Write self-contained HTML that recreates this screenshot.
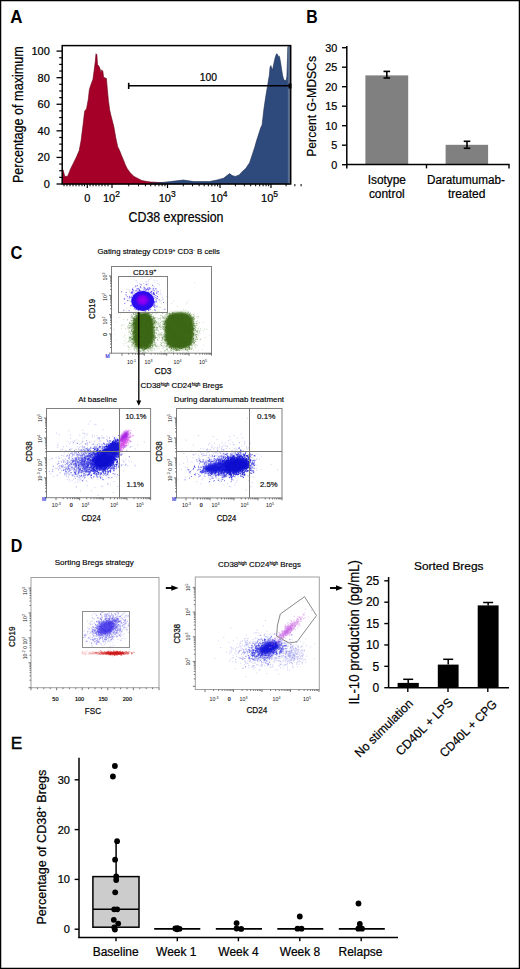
<!DOCTYPE html>
<html><head><meta charset="utf-8"><style>
html,body{margin:0;padding:0;background:#fff;}
svg{display:block;font-family:"Liberation Sans", sans-serif;}
</style></head><body>
<svg width="520" height="969" viewBox="0 0 520 969">
<rect x="0" y="0" width="520" height="969" fill="#fff" stroke="none" stroke-width="1"/>
<text x="10.2" y="22.8" font-size="18" text-anchor="start" font-weight="bold" textLength="12.2" lengthAdjust="spacingAndGlyphs" fill="#000">A</text>
<path d="M62.5,184.0 L62.9,169.8 L63.8,172.7 L64.8,176.5 L67.7,176.2 L70.6,168.8 L73.5,163.0 L76.3,157.3 L79.2,150.6 L81.2,140.0 L82.1,132.3 L83.1,124.6 L84.2,115.0 L84.8,110.7 L86.5,109.0 L88.3,99.2 L89.4,89.4 L91.1,84.2 L92.9,79.6 L94.0,71.5 L95.2,62.3 L96.0,53.7 L96.9,54.8 L97.5,64.6 L98.6,65.8 L99.8,68.1 L101.0,72.7 L101.8,69.8 L102.9,71.5 L103.6,77.3 L105.2,77.9 L106.4,78.5 L107.3,88.8 L108.4,100.4 L109.6,109.6 L110.8,115.0 L113.8,126.5 L115.8,138.0 L117.7,146.7 L119.6,150.6 L121.5,155.4 L123.5,160.2 L125.4,165.0 L127.3,168.8 L130.2,172.7 L134.0,176.5 L137.9,178.5 L141.7,180.4 L145.6,181.3 L150.4,182.0 L156.2,182.3 L165.0,183.0 L165.0,184.0 Z" fill="#a50027" stroke="#6a0018" stroke-width="0.6"/>
<path d="M150.0,184.0 L150.0,183.2 L160.0,182.7 L170.4,181.6 L183.4,180.0 L193.8,181.6 L209.4,181.6 L217.1,180.0 L223.6,178.2 L227.0,175.6 L229.6,173.6 L232.2,175.6 L235.3,176.4 L239.2,174.9 L242.6,171.2 L245.7,168.6 L249.6,162.7 L252.2,154.9 L254.8,147.1 L256.6,140.6 L258.7,134.1 L260.8,127.6 L262.1,125.0 L263.8,110.0 L265.6,97.5 L267.5,86.2 L268.5,80.0 L269.4,75.0 L270.0,67.5 L270.9,65.6 L271.6,68.1 L272.5,70.0 L273.8,63.8 L275.2,57.5 L276.5,53.8 L277.5,54.4 L278.5,56.9 L279.4,56.2 L280.6,62.5 L281.5,68.8 L282.5,75.0 L283.5,78.8 L284.4,80.6 L285.0,80.0 L286.0,81.2 L286.9,76.2 L287.5,57.5 L287.8,47.5 L288.5,46.2 L290.0,46.0 L290.0,184.0 Z" fill="#2e4a7c" stroke="#1c2e50" stroke-width="0.6"/>
<rect x="287.8" y="46" width="2.2" height="138" fill="#5a6e90" stroke="none" stroke-width="1"/>
<rect x="62.2" y="45.6" width="228.5" height="138.4" fill="none" stroke="#000" stroke-width="1.5"/>
<line x1="56.5" y1="184.0" x2="62.2" y2="184.0" stroke="#000" stroke-width="1.3"/>
<text x="49.8" y="188.0" font-size="11" text-anchor="end" fill="#000" stroke="#000" stroke-width="0.22">0</text>
<line x1="59.2" y1="177.355" x2="62.2" y2="177.355" stroke="#000" stroke-width="1.2"/>
<line x1="59.2" y1="170.71" x2="62.2" y2="170.71" stroke="#000" stroke-width="1.2"/>
<line x1="59.2" y1="164.065" x2="62.2" y2="164.065" stroke="#000" stroke-width="1.2"/>
<line x1="56.5" y1="157.42000000000002" x2="62.2" y2="157.42000000000002" stroke="#000" stroke-width="1.3"/>
<text x="49.8" y="161.42000000000002" font-size="11" text-anchor="end" fill="#000" stroke="#000" stroke-width="0.22">20</text>
<line x1="59.2" y1="150.775" x2="62.2" y2="150.775" stroke="#000" stroke-width="1.2"/>
<line x1="59.2" y1="144.13" x2="62.2" y2="144.13" stroke="#000" stroke-width="1.2"/>
<line x1="59.2" y1="137.485" x2="62.2" y2="137.485" stroke="#000" stroke-width="1.2"/>
<line x1="56.5" y1="130.84" x2="62.2" y2="130.84" stroke="#000" stroke-width="1.3"/>
<text x="49.8" y="134.84" font-size="11" text-anchor="end" fill="#000" stroke="#000" stroke-width="0.22">40</text>
<line x1="59.2" y1="124.195" x2="62.2" y2="124.195" stroke="#000" stroke-width="1.2"/>
<line x1="59.2" y1="117.55" x2="62.2" y2="117.55" stroke="#000" stroke-width="1.2"/>
<line x1="59.2" y1="110.905" x2="62.2" y2="110.905" stroke="#000" stroke-width="1.2"/>
<line x1="56.5" y1="104.26" x2="62.2" y2="104.26" stroke="#000" stroke-width="1.3"/>
<text x="49.8" y="108.26" font-size="11" text-anchor="end" fill="#000" stroke="#000" stroke-width="0.22">60</text>
<line x1="59.2" y1="97.61500000000001" x2="62.2" y2="97.61500000000001" stroke="#000" stroke-width="1.2"/>
<line x1="59.2" y1="90.97" x2="62.2" y2="90.97" stroke="#000" stroke-width="1.2"/>
<line x1="59.2" y1="84.325" x2="62.2" y2="84.325" stroke="#000" stroke-width="1.2"/>
<line x1="56.5" y1="77.68" x2="62.2" y2="77.68" stroke="#000" stroke-width="1.3"/>
<text x="49.8" y="81.68" font-size="11" text-anchor="end" fill="#000" stroke="#000" stroke-width="0.22">80</text>
<line x1="59.2" y1="71.035" x2="62.2" y2="71.035" stroke="#000" stroke-width="1.2"/>
<line x1="59.2" y1="64.39" x2="62.2" y2="64.39" stroke="#000" stroke-width="1.2"/>
<line x1="59.2" y1="57.745000000000005" x2="62.2" y2="57.745000000000005" stroke="#000" stroke-width="1.2"/>
<line x1="56.5" y1="51.099999999999994" x2="62.2" y2="51.099999999999994" stroke="#000" stroke-width="1.3"/>
<text x="49.8" y="55.099999999999994" font-size="11" text-anchor="end" fill="#000" stroke="#000" stroke-width="0.22">100</text>
<text transform="translate(22.8,114.6) rotate(-90)" font-size="14" text-anchor="middle" textLength="137" lengthAdjust="spacingAndGlyphs" fill="#000" stroke="#000" stroke-width="0.22">Percentage of maximum</text>
<line x1="87.3" y1="184" x2="87.3" y2="188" stroke="#000" stroke-width="1.2"/>
<line x1="112" y1="184" x2="112" y2="188" stroke="#000" stroke-width="1.2"/>
<line x1="167.5" y1="184" x2="167.5" y2="188" stroke="#000" stroke-width="1.2"/>
<line x1="220" y1="184" x2="220" y2="188" stroke="#000" stroke-width="1.2"/>
<line x1="271" y1="184" x2="271" y2="188" stroke="#000" stroke-width="1.2"/>
<line x1="128.70716475935095" y1="184" x2="128.70716475935095" y2="186.3" stroke="#000" stroke-width="1"/>
<line x1="138.48022963694126" y1="184" x2="138.48022963694126" y2="186.3" stroke="#000" stroke-width="1"/>
<line x1="145.41432951870192" y1="184" x2="145.41432951870192" y2="186.3" stroke="#000" stroke-width="1"/>
<line x1="150.79283524064905" y1="184" x2="150.79283524064905" y2="186.3" stroke="#000" stroke-width="1"/>
<line x1="155.18739439629223" y1="184" x2="155.18739439629223" y2="186.3" stroke="#000" stroke-width="1"/>
<line x1="158.90294122079126" y1="184" x2="158.90294122079126" y2="186.3" stroke="#000" stroke-width="1"/>
<line x1="162.12149427805286" y1="184" x2="162.12149427805286" y2="186.3" stroke="#000" stroke-width="1"/>
<line x1="164.96045927388252" y1="184" x2="164.96045927388252" y2="186.3" stroke="#000" stroke-width="1"/>
<line x1="183.304074772359" y1="184" x2="183.304074772359" y2="186.3" stroke="#000" stroke-width="1"/>
<line x1="192.54886587278227" y1="184" x2="192.54886587278227" y2="186.3" stroke="#000" stroke-width="1"/>
<line x1="199.10814954471803" y1="184" x2="199.10814954471803" y2="186.3" stroke="#000" stroke-width="1"/>
<line x1="204.195925227641" y1="184" x2="204.195925227641" y2="186.3" stroke="#000" stroke-width="1"/>
<line x1="208.3529406451413" y1="184" x2="208.3529406451413" y2="186.3" stroke="#000" stroke-width="1"/>
<line x1="211.86764710074848" y1="184" x2="211.86764710074848" y2="186.3" stroke="#000" stroke-width="1"/>
<line x1="214.91222431707703" y1="184" x2="214.91222431707703" y2="186.3" stroke="#000" stroke-width="1"/>
<line x1="217.59773174556454" y1="184" x2="217.59773174556454" y2="186.3" stroke="#000" stroke-width="1"/>
<line x1="235.35252977886304" y1="184" x2="235.35252977886304" y2="186.3" stroke="#000" stroke-width="1"/>
<line x1="244.3331839907028" y1="184" x2="244.3331839907028" y2="186.3" stroke="#000" stroke-width="1"/>
<line x1="250.7050595577261" y1="184" x2="250.7050595577261" y2="186.3" stroke="#000" stroke-width="1"/>
<line x1="255.64747022113696" y1="184" x2="255.64747022113696" y2="186.3" stroke="#000" stroke-width="1"/>
<line x1="259.68571376956584" y1="184" x2="259.68571376956584" y2="186.3" stroke="#000" stroke-width="1"/>
<line x1="263.1000000407271" y1="184" x2="263.1000000407271" y2="186.3" stroke="#000" stroke-width="1"/>
<line x1="266.0575893365891" y1="184" x2="266.0575893365891" y2="186.3" stroke="#000" stroke-width="1"/>
<line x1="268.6663679814056" y1="184" x2="268.6663679814056" y2="186.3" stroke="#000" stroke-width="1"/>
<line x1="286.05149978319906" y1="184" x2="286.05149978319906" y2="186.3" stroke="#000" stroke-width="1"/>
<line x1="294.85606273598313" y1="184" x2="294.85606273598313" y2="186.3" stroke="#000" stroke-width="1"/>
<line x1="301.1029995663981" y1="184" x2="301.1029995663981" y2="186.3" stroke="#000" stroke-width="1"/>
<line x1="64" y1="184" x2="64" y2="186.3" stroke="#000" stroke-width="1"/>
<line x1="67" y1="184" x2="67" y2="186.3" stroke="#000" stroke-width="1"/>
<line x1="70" y1="184" x2="70" y2="186.3" stroke="#000" stroke-width="1"/>
<line x1="73" y1="184" x2="73" y2="186.3" stroke="#000" stroke-width="1"/>
<line x1="76" y1="184" x2="76" y2="186.3" stroke="#000" stroke-width="1"/>
<line x1="79" y1="184" x2="79" y2="186.3" stroke="#000" stroke-width="1"/>
<line x1="82" y1="184" x2="82" y2="186.3" stroke="#000" stroke-width="1"/>
<line x1="84.5" y1="184" x2="84.5" y2="186.3" stroke="#000" stroke-width="1"/>
<line x1="90" y1="184" x2="90" y2="186.3" stroke="#000" stroke-width="1"/>
<line x1="93" y1="184" x2="93" y2="186.3" stroke="#000" stroke-width="1"/>
<line x1="96" y1="184" x2="96" y2="186.3" stroke="#000" stroke-width="1"/>
<line x1="99" y1="184" x2="99" y2="186.3" stroke="#000" stroke-width="1"/>
<line x1="102" y1="184" x2="102" y2="186.3" stroke="#000" stroke-width="1"/>
<line x1="105" y1="184" x2="105" y2="186.3" stroke="#000" stroke-width="1"/>
<line x1="108" y1="184" x2="108" y2="186.3" stroke="#000" stroke-width="1"/>
<text x="87.3" y="202.2" font-size="11" text-anchor="middle" fill="#000" stroke="#000" stroke-width="0.22">0</text>
<text x="111.5" y="202.2" font-size="11" text-anchor="middle" stroke="#000" stroke-width="0.22">10<tspan font-size="8.5" dy="-5">2</tspan></text>
<text x="167.2" y="202.2" font-size="11" text-anchor="middle" stroke="#000" stroke-width="0.22">10<tspan font-size="8.5" dy="-5">3</tspan></text>
<text x="219.1" y="202.2" font-size="11" text-anchor="middle" stroke="#000" stroke-width="0.22">10<tspan font-size="8.5" dy="-5">4</tspan></text>
<text x="269.6" y="202.2" font-size="11" text-anchor="middle" stroke="#000" stroke-width="0.22">10<tspan font-size="8.5" dy="-5">5</tspan></text>
<text x="128.5" y="222.2" font-size="14" text-anchor="start" textLength="95" lengthAdjust="spacingAndGlyphs" fill="#000" stroke="#000" stroke-width="0.22">CD38 expression</text>
<line x1="128.7" y1="85.8" x2="290" y2="85.8" stroke="#000" stroke-width="1.6"/>
<line x1="128.7" y1="82.8" x2="128.7" y2="89" stroke="#000" stroke-width="1.6"/>
<rect x="288.5" y="83.5" width="3" height="5" fill="#000" stroke="none" stroke-width="1"/>
<text x="199.8" y="81.3" font-size="11" text-anchor="start" textLength="17.3" lengthAdjust="spacingAndGlyphs" fill="#000" stroke="#000" stroke-width="0.22">100</text>
<text x="306.2" y="22.7" font-size="18" text-anchor="start" font-weight="bold" textLength="11.4" lengthAdjust="spacingAndGlyphs" fill="#000">B</text>
<rect x="365.4" y="75.39" width="42.8" height="89.30999999999999" fill="#808080" stroke="none" stroke-width="1"/>
<rect x="445.6" y="144.81" width="42.5" height="19.889999999999997" fill="#808080" stroke="none" stroke-width="1"/>
<line x1="346.8" y1="46" x2="346.8" y2="168.4" stroke="#000" stroke-width="1.5"/>
<line x1="346.8" y1="164.5" x2="509.6" y2="164.5" stroke="#000" stroke-width="1.5"/>
<line x1="342" y1="164.7" x2="346.8" y2="164.7" stroke="#000" stroke-width="1.4"/>
<text x="337.3" y="168.89999999999998" font-size="10.8" text-anchor="end" fill="#000" stroke="#000" stroke-width="0.22">0</text>
<line x1="342" y1="145.2" x2="346.8" y2="145.2" stroke="#000" stroke-width="1.4"/>
<text x="337.3" y="149.39999999999998" font-size="10.8" text-anchor="end" fill="#000" stroke="#000" stroke-width="0.22">5</text>
<line x1="342" y1="125.69999999999999" x2="346.8" y2="125.69999999999999" stroke="#000" stroke-width="1.4"/>
<text x="337.3" y="129.89999999999998" font-size="10.8" text-anchor="end" fill="#000" stroke="#000" stroke-width="0.22">10</text>
<line x1="342" y1="106.19999999999999" x2="346.8" y2="106.19999999999999" stroke="#000" stroke-width="1.4"/>
<text x="337.3" y="110.39999999999999" font-size="10.8" text-anchor="end" fill="#000" stroke="#000" stroke-width="0.22">15</text>
<line x1="342" y1="86.69999999999999" x2="346.8" y2="86.69999999999999" stroke="#000" stroke-width="1.4"/>
<text x="337.3" y="90.89999999999999" font-size="10.8" text-anchor="end" fill="#000" stroke="#000" stroke-width="0.22">20</text>
<line x1="342" y1="67.19999999999999" x2="346.8" y2="67.19999999999999" stroke="#000" stroke-width="1.4"/>
<text x="337.3" y="71.39999999999999" font-size="10.8" text-anchor="end" fill="#000" stroke="#000" stroke-width="0.22">25</text>
<line x1="342" y1="47.69999999999999" x2="346.8" y2="47.69999999999999" stroke="#000" stroke-width="1.4"/>
<text x="337.3" y="51.89999999999999" font-size="10.8" text-anchor="end" fill="#000" stroke="#000" stroke-width="0.22">30</text>
<line x1="426.5" y1="164.5" x2="426.5" y2="168.4" stroke="#000" stroke-width="1.4"/>
<line x1="509" y1="164.5" x2="509" y2="168.4" stroke="#000" stroke-width="1.4"/>
<line x1="386.8" y1="71.4" x2="386.8" y2="78" stroke="#000" stroke-width="1.6"/>
<line x1="383.5" y1="71.4" x2="390.1" y2="71.4" stroke="#000" stroke-width="1.6"/>
<line x1="383.5" y1="78" x2="390.1" y2="78" stroke="#000" stroke-width="1.6"/>
<line x1="467" y1="141.3" x2="467" y2="148.3" stroke="#000" stroke-width="1.6"/>
<line x1="463.7" y1="141.3" x2="470.3" y2="141.3" stroke="#000" stroke-width="1.6"/>
<line x1="463.7" y1="148.3" x2="470.3" y2="148.3" stroke="#000" stroke-width="1.6"/>
<text transform="translate(316.3,106.4) rotate(-90)" font-size="13.5" text-anchor="middle" textLength="100.8" lengthAdjust="spacingAndGlyphs" fill="#000" stroke="#000" stroke-width="0.22">Percent G-MDSCs</text>
<text x="386.8" y="183.7" font-size="12" text-anchor="middle" textLength="38.3" lengthAdjust="spacingAndGlyphs" fill="#000" stroke="#000" stroke-width="0.22">Isotype</text>
<text x="386.8" y="197.5" font-size="12" text-anchor="middle" textLength="35.8" lengthAdjust="spacingAndGlyphs" fill="#000" stroke="#000" stroke-width="0.22">control</text>
<text x="466" y="183.7" font-size="12" text-anchor="middle" textLength="78" lengthAdjust="spacingAndGlyphs" fill="#000" stroke="#000" stroke-width="0.22">Daratumumab-</text>
<text x="466.7" y="197.5" font-size="12" text-anchor="middle" textLength="37.5" lengthAdjust="spacingAndGlyphs" fill="#000" stroke="#000" stroke-width="0.22">treated</text>
<text x="10.6" y="258.8" font-size="18.3" text-anchor="start" font-weight="bold" textLength="11.9" lengthAdjust="spacingAndGlyphs" fill="#000">C</text>
<text x="97.5" y="254.3" font-size="7.8" stroke="#000" stroke-width="0.15" textLength="122.5" lengthAdjust="spacingAndGlyphs">Gating strategy CD19<tspan font-size="5" dy="-2.5">+</tspan><tspan dy="2.5"> CD3</tspan><tspan font-size="5" dy="-2.5">-</tspan><tspan dy="2.5"> B cells</tspan></text>
<path d="M160.0 276.0h0M169.0 319.5h0M151.8 349.3h0M133.3 328.8h0M146.4 309.2h0M130.3 312.9h0M161.8 346.1h0M200.2 330.5h0M145.2 328.8h0M141.4 327.1h0M174.7 328.6h0M170.7 340.9h0M163.2 336.8h0M132.1 331.5h0M159.1 311.3h0M180.9 336.2h0M119.7 317.1h0M146.3 345.5h0M121.3 325.8h0M152.9 306.8h0M168.1 351.4h0M164.7 320.6h0M154.4 340.3h0M143.8 286.2h0M158.5 332.0h0M163.4 327.0h0M114.1 329.3h0M145.7 310.8h0M130.6 323.7h0M135.7 325.1h0M191.8 347.0h0M135.8 333.4h0M159.0 327.9h0M186.5 352.5h0M142.5 319.1h0M156.6 321.8h0M163.3 298.9h0M123.2 343.4h0M162.3 342.7h0M200.8 338.7h0M113.6 329.8h0M185.8 331.4h0M163.6 324.0h0M140.8 324.7h0M182.9 352.2h0M124.0 336.9h0M162.2 327.1h0M177.3 318.7h0M154.3 317.8h0M158.0 336.1h0M180.0 329.1h0M203.2 322.5h0M139.7 310.3h0M166.1 326.9h0M146.1 342.0h0M163.8 321.7h0M124.4 324.4h0M142.6 324.5h0M154.1 329.8h0M187.0 302.5h0M194.4 324.2h0M120.3 314.3h0M136.2 342.2h0M179.4 315.7h0M146.1 352.4h0M157.1 323.0h0M197.7 318.4h0M180.7 331.1h0M150.2 328.0h0M148.9 312.1h0M152.5 335.4h0M147.2 323.9h0M150.9 324.8h0M170.6 311.3h0M156.4 333.1h0M154.1 308.0h0M126.6 310.3h0M159.7 348.5h0M146.7 313.5h0M195.0 345.3h0M179.6 352.4h0M159.3 332.1h0M180.1 336.9h0M191.6 324.9h0M159.8 318.5h0M177.5 306.3h0M121.3 328.7h0M170.4 351.7h0M150.9 314.3h0M133.0 319.9h0M164.9 332.7h0M135.0 331.4h0M141.3 332.7h0M166.2 323.2h0M174.8 327.4h0M154.7 331.3h0M153.8 326.7h0M181.1 336.1h0M129.0 337.5h0M157.6 328.9h0M161.1 301.0h0M128.4 334.2h0M167.8 296.9h0M134.3 305.5h0M189.2 341.7h0M165.8 339.3h0M162.7 325.6h0M142.3 300.6h0M156.4 322.1h0M126.1 338.2h0M185.4 315.5h0M182.7 327.1h0M134.6 325.2h0M183.4 309.6h0M163.9 329.9h0M113.9 309.6h0M197.5 345.8h0M203.3 345.0h0M158.0 345.4h0M151.8 320.4h0M155.2 336.2h0M130.7 325.9h0M193.0 321.8h0M143.7 322.6h0M158.5 307.2h0M136.2 304.9h0M141.2 340.7h0M121.7 324.9h0M197.7 331.5h0M155.4 344.0h0M189.0 300.3h0M160.4 315.5h0M139.2 330.8h0M150.2 334.3h0M143.2 322.0h0M160.2 344.5h0M148.7 331.4h0M151.0 308.6h0M118.6 313.1h0M135.8 340.9h0M209.6 335.4h0M139.9 297.6h0M128.4 349.6h0M170.1 337.6h0M202.2 349.5h0M116.4 321.9h0M153.7 323.3h0M141.0 310.0h0M182.0 325.2h0M162.1 317.6h0M137.4 330.6h0M173.6 301.3h0M143.8 321.9h0M155.7 343.7h0M126.8 308.0h0M123.5 345.2h0M200.1 333.4h0M144.8 311.3h0M168.8 320.0h0M159.0 320.7h0M146.8 327.2h0M144.8 319.4h0M178.9 314.8h0M150.9 323.1h0M155.5 311.6h0M160.7 307.4h0M195.3 327.2h0M180.4 342.1h0M171.5 303.5h0M143.1 328.1h0M118.5 317.6h0M188.5 312.4h0M189.0 341.7h0M155.8 319.7h0M176.3 352.0h0M183.4 315.5h0M184.9 334.2h0M187.6 324.4h0M146.3 315.9h0M205.4 337.4h0M122.6 325.5h0M185.9 337.7h0M174.8 327.2h0M186.2 310.6h0M204.5 328.8h0M125.6 343.3h0M184.5 327.4h0M129.5 300.4h0M159.6 338.4h0M185.2 310.7h0M167.8 345.7h0M161.3 303.6h0M152.6 310.6h0M161.2 316.1h0M134.2 309.9h0M114.6 334.1h0M155.0 315.1h0M130.8 316.5h0M175.2 315.9h0M158.2 334.9h0M172.2 312.5h0M130.3 308.6h0M140.3 298.6h0M133.4 322.9h0M165.9 331.9h0M136.5 327.5h0M170.7 330.6h0M170.2 328.8h0M118.2 311.4h0M186.6 303.1h0M157.3 311.8h0M159.6 306.6h0M116.5 340.0h0M146.2 341.1h0M182.3 312.6h0M157.5 305.8h0M162.4 322.3h0M151.3 350.3h0M194.6 282.9h0M159.4 336.4h0M139.2 344.6h0" stroke="#b5cfa8" stroke-width="1" stroke-linecap="square" opacity="0.5" fill="none"/>
<defs><filter id="bl1" x="-20%" y="-20%" width="140%" height="140%"><feGaussianBlur stdDeviation="1.2"/></filter></defs>
<path d="M145.2 321.3h0M146.2 326.5h0M142.5 338.2h0M150.7 323.4h0M132.8 324.0h0M137.2 317.2h0M141.9 344.7h0M143.4 341.1h0M140.5 321.8h0M145.8 316.1h0M136.9 346.1h0M136.4 331.2h0M140.3 334.8h0M142.3 330.2h0M154.2 322.0h0M133.5 313.3h0M151.6 336.0h0M161.1 335.0h0M128.8 341.7h0M156.0 337.5h0M137.2 324.6h0M154.9 318.8h0M151.3 329.3h0M134.6 314.4h0M140.5 324.6h0M146.7 322.0h0M134.8 326.7h0M142.9 345.1h0M139.3 347.1h0M136.0 339.0h0M144.2 322.1h0M147.2 347.0h0M143.3 314.8h0M131.7 316.3h0M150.0 343.0h0M147.5 312.9h0M143.1 344.0h0M138.5 331.7h0M135.3 319.1h0M145.1 345.4h0M143.5 317.2h0M152.3 329.8h0M141.6 339.2h0M137.3 315.7h0M139.7 335.4h0M143.3 338.5h0M143.3 330.8h0M136.6 346.3h0M140.2 318.6h0M131.0 317.7h0M134.0 320.6h0M146.8 327.1h0M145.2 320.3h0M143.1 316.7h0M132.6 329.3h0M143.1 331.7h0M139.0 339.6h0M148.9 323.2h0M138.5 339.2h0M136.8 334.4h0M148.8 337.6h0M145.5 324.5h0M131.3 328.3h0M146.0 339.0h0M144.7 329.7h0M152.3 329.6h0M138.0 342.4h0M144.7 331.2h0M141.0 331.9h0M151.1 335.7h0M136.2 320.5h0M156.7 327.3h0M134.6 316.5h0M135.6 339.0h0M149.5 333.9h0M141.6 322.2h0M133.2 318.3h0M143.9 350.3h0M141.7 338.8h0M129.7 328.1h0M140.3 320.8h0M139.0 319.9h0M135.0 348.2h0M131.5 316.9h0M147.8 320.4h0M148.8 328.8h0M155.4 329.1h0M141.0 332.6h0M147.1 331.6h0M146.7 346.0h0M136.3 348.4h0M154.6 332.4h0M142.3 323.5h0M157.9 335.1h0M141.3 325.9h0M133.6 324.0h0M143.3 335.1h0M152.1 325.6h0M147.4 312.2h0M130.4 320.1h0M137.9 329.7h0M139.6 352.0h0M138.7 348.4h0M145.9 330.8h0M150.2 335.1h0M137.8 312.4h0M151.5 347.6h0M146.4 315.5h0M154.2 350.1h0M143.8 323.3h0M148.8 346.0h0M133.6 322.6h0M137.7 330.5h0M147.4 329.4h0M134.3 337.9h0M141.0 330.4h0M123.7 319.7h0M137.6 349.7h0M134.2 320.0h0M143.3 317.8h0M142.4 345.5h0M133.1 337.6h0M152.4 327.1h0M129.4 337.2h0M147.0 326.4h0M149.4 321.6h0M135.7 319.1h0M152.8 325.1h0M150.9 340.1h0M137.7 319.8h0M133.1 344.2h0M148.8 328.8h0M131.1 341.3h0M140.7 327.6h0M138.8 350.8h0M128.4 346.3h0M149.0 342.7h0M134.1 317.4h0M145.4 352.2h0M141.6 343.5h0M152.8 332.4h0M139.0 343.4h0M138.6 332.4h0M150.6 316.5h0M155.2 333.1h0M144.3 348.7h0M144.3 345.0h0M130.8 337.3h0M151.8 324.6h0M136.1 313.8h0M143.1 341.4h0M127.9 326.5h0M129.0 330.2h0M135.0 332.4h0M136.7 342.7h0M139.9 344.8h0M150.9 351.0h0M157.1 349.3h0M147.8 321.8h0M142.3 330.6h0M140.0 329.1h0M154.2 334.0h0M132.7 331.3h0M142.2 331.9h0M130.2 349.1h0M136.8 331.1h0M158.9 346.4h0M147.5 350.4h0M134.0 325.9h0M155.7 342.6h0M131.4 325.2h0M139.0 327.3h0M147.5 341.9h0M148.0 343.2h0M137.8 337.9h0M155.7 337.2h0M158.2 324.8h0M147.5 343.9h0M147.7 345.2h0M148.9 320.9h0M139.3 324.2h0M138.6 346.1h0M148.8 335.6h0M133.6 339.2h0M132.8 326.1h0M151.6 336.3h0M152.4 323.1h0M141.9 316.9h0M148.0 317.0h0M156.4 329.7h0M136.7 320.4h0M153.7 327.7h0M146.9 325.6h0M145.8 312.1h0M146.5 329.6h0M150.7 345.9h0M150.3 346.3h0M130.5 333.6h0M138.4 331.2h0M138.5 325.0h0M125.6 328.7h0M141.1 346.7h0M153.4 348.1h0M146.5 322.3h0M146.2 334.8h0M154.7 345.2h0M129.1 340.3h0M156.1 329.1h0M134.6 328.5h0M133.4 322.0h0M141.5 323.3h0M136.1 322.7h0M147.3 348.1h0M145.8 321.6h0M131.7 318.0h0M138.0 313.9h0M146.2 326.8h0M151.2 348.1h0M149.9 318.7h0M144.4 343.9h0M148.4 318.0h0M139.4 334.0h0M134.8 331.9h0M154.5 312.7h0M133.4 339.4h0M135.7 326.9h0M146.8 325.5h0M155.6 325.5h0M130.7 340.0h0M153.5 335.7h0M153.9 340.7h0M160.9 329.1h0M127.9 327.1h0M139.6 334.1h0M131.1 342.2h0M131.3 342.2h0M149.2 324.5h0M130.8 340.7h0M156.4 332.8h0M132.2 331.5h0M149.1 318.8h0M138.2 352.4h0M148.2 326.1h0M132.8 345.9h0M144.6 321.5h0M152.5 319.0h0M136.3 331.0h0M140.6 317.6h0M141.0 322.0h0M142.4 349.2h0M154.0 339.6h0M147.2 313.3h0M150.2 312.5h0M134.6 327.7h0M138.2 338.3h0M133.5 334.5h0M141.0 323.6h0M144.3 329.7h0M149.6 325.0h0M143.5 330.6h0M145.7 326.6h0M146.3 344.9h0M144.8 341.7h0M128.1 327.7h0M131.5 327.4h0M147.0 321.6h0M149.6 316.7h0M132.7 323.3h0M146.3 335.3h0M141.1 328.4h0M128.8 325.0h0M132.3 315.4h0M137.1 329.5h0M143.6 320.5h0M141.0 339.0h0M159.1 333.8h0M153.2 317.2h0M153.9 323.2h0M128.3 325.4h0M140.2 319.7h0M139.1 347.8h0M161.5 343.7h0M147.4 313.0h0M141.9 337.7h0M138.8 314.0h0M142.6 346.1h0M132.6 331.4h0M133.7 325.5h0M136.1 351.6h0M149.6 335.2h0M151.7 321.4h0M128.8 347.5h0M144.2 338.0h0M156.1 313.0h0M128.7 332.3h0M138.4 324.7h0M153.3 322.0h0M138.3 351.3h0M162.7 328.9h0M140.4 337.9h0M153.8 328.3h0M139.7 337.6h0M127.1 346.1h0M131.7 336.7h0M141.4 330.1h0M138.0 312.1h0M149.9 323.6h0M145.8 337.3h0M153.6 327.3h0M142.7 326.5h0M155.5 345.5h0M136.1 335.7h0M147.8 343.0h0M149.5 329.0h0M144.9 341.5h0M144.2 349.1h0M140.9 323.1h0M152.2 350.6h0M145.2 328.8h0M142.5 344.3h0M158.5 330.3h0M144.8 342.4h0M139.0 349.0h0M139.3 329.7h0M141.7 321.3h0M128.0 328.8h0M143.3 344.5h0M145.0 323.8h0M145.6 337.8h0M134.9 324.2h0M141.2 335.5h0M146.0 316.2h0M139.4 318.2h0M146.4 326.7h0M140.8 329.6h0M152.7 340.1h0M149.0 335.0h0M144.4 346.5h0M141.4 332.9h0M135.8 331.4h0M139.6 319.1h0M146.1 318.0h0M138.4 322.8h0M138.8 347.7h0M142.2 319.6h0M139.4 319.9h0M142.9 322.9h0M135.7 343.3h0M154.7 330.3h0M131.3 312.3h0M131.8 346.6h0M141.1 316.0h0M143.3 342.2h0M138.2 344.4h0M136.6 312.3h0M129.6 340.6h0M138.5 338.8h0M154.5 333.6h0M142.8 338.4h0M143.4 329.1h0M135.1 330.0h0M136.0 314.0h0M158.6 326.1h0M151.2 340.5h0M137.7 343.3h0M139.9 337.4h0M133.5 346.3h0M153.1 325.1h0M148.3 348.2h0M143.2 321.7h0M154.7 321.6h0M154.1 324.1h0M147.9 344.5h0M160.6 319.8h0M138.4 340.6h0M151.0 338.0h0M154.6 348.9h0M140.2 323.7h0M129.5 327.7h0M141.1 332.2h0M150.4 316.1h0M133.1 330.8h0M146.3 319.9h0M135.2 329.3h0M129.9 322.8h0M147.1 338.6h0M131.6 331.5h0M154.6 344.4h0M142.6 321.9h0M161.2 315.1h0M141.4 317.8h0M134.9 330.3h0M143.7 329.9h0M129.4 341.9h0M124.9 340.9h0M128.5 341.2h0M135.9 348.3h0M130.6 339.9h0M160.7 344.6h0M131.3 336.7h0M157.7 324.1h0M136.7 348.9h0M148.5 341.9h0M141.3 323.9h0M146.8 327.6h0M147.4 322.4h0M151.5 341.7h0M144.5 322.1h0M137.0 342.5h0M145.0 340.7h0M138.0 324.9h0M127.2 342.2h0M152.5 340.4h0M135.2 345.1h0M152.4 325.8h0M139.5 341.8h0M147.8 318.9h0M157.1 327.6h0M140.5 321.4h0M144.7 322.7h0M157.5 327.8h0M151.8 332.5h0M151.0 347.5h0M135.1 339.0h0M157.9 330.5h0M135.6 323.3h0M141.8 320.6h0M141.4 334.8h0M146.1 331.6h0M129.6 346.9h0M131.0 328.1h0M153.8 320.0h0M148.6 341.1h0M152.4 340.8h0M137.1 339.9h0M145.5 341.1h0M144.3 324.7h0M136.3 338.2h0M139.9 343.6h0M157.0 345.7h0M151.1 333.1h0M136.2 330.0h0M141.7 320.0h0M136.8 337.9h0M143.4 348.1h0M156.4 337.5h0M149.5 319.3h0M136.1 332.9h0M150.1 330.4h0M131.7 339.5h0M152.5 348.6h0M150.1 327.1h0M144.4 325.0h0M152.8 324.8h0M143.6 325.4h0M138.1 327.7h0M139.1 325.2h0M144.4 315.0h0M140.9 345.4h0M137.7 334.7h0M139.6 337.0h0M150.4 341.7h0M137.4 340.2h0M138.2 342.4h0M143.7 315.2h0M152.1 327.0h0M146.7 339.5h0M129.4 331.4h0M159.0 318.5h0M137.8 329.8h0M161.1 334.4h0M143.5 332.0h0M140.3 347.8h0M133.1 318.2h0M143.8 331.0h0M125.1 335.2h0M140.3 329.4h0M137.8 316.8h0M133.6 321.9h0" stroke="#8fb47c" stroke-width="1" stroke-linecap="square" opacity="0.5" fill="none"/>
<path d="M144.3 319.5h0M141.9 315.5h0M149.8 323.3h0M146.2 346.1h0M136.2 335.2h0M136.1 322.3h0M148.2 341.9h0M144.8 330.4h0M137.6 340.9h0M141.0 330.4h0M144.3 324.2h0M143.0 350.0h0M149.1 348.4h0M152.4 313.7h0M132.2 344.0h0M142.0 331.9h0M148.8 327.4h0M136.1 326.8h0M144.3 329.3h0M145.1 314.5h0M138.7 320.9h0M136.7 326.0h0M145.2 341.9h0M147.4 335.8h0M132.8 325.3h0M153.9 345.9h0M150.6 333.7h0M141.9 312.9h0M147.0 342.4h0M149.6 327.4h0M132.5 333.7h0M144.8 328.2h0M133.1 320.7h0M141.4 336.6h0M139.7 344.2h0M148.2 327.8h0M136.7 335.7h0M150.6 349.2h0M136.3 332.3h0M148.0 337.0h0M147.6 335.7h0M134.4 329.1h0M148.2 314.0h0M135.3 330.9h0M141.3 325.6h0M136.1 318.5h0M135.1 335.7h0M143.1 336.8h0M137.3 351.4h0M133.9 337.8h0M150.2 340.7h0M135.4 339.6h0M145.9 344.8h0M132.7 324.5h0M150.6 328.4h0M132.9 341.8h0M147.7 327.0h0M142.4 343.6h0M150.3 336.6h0M141.5 331.7h0M132.6 327.2h0M136.1 345.1h0M147.2 332.6h0M142.6 322.4h0M141.5 315.1h0M153.4 334.6h0M156.9 330.2h0M145.6 313.0h0M148.2 313.9h0M134.3 331.4h0M136.0 336.2h0M138.7 346.8h0M138.1 332.1h0M149.6 342.6h0M139.6 313.3h0M140.0 347.0h0M147.9 348.9h0M152.1 323.6h0M144.2 332.9h0M137.2 323.7h0M147.2 340.6h0M153.3 318.8h0M142.8 334.5h0M142.6 341.1h0M139.1 320.3h0M150.7 316.2h0M135.9 344.5h0M141.2 342.7h0M152.9 335.3h0M151.5 331.8h0M141.9 319.0h0M131.6 338.0h0M136.1 346.6h0M144.7 333.2h0M148.1 318.4h0M151.7 336.7h0M144.8 339.9h0M153.2 341.0h0M147.6 347.0h0M136.0 346.0h0M133.5 343.4h0M145.0 331.5h0M144.2 324.9h0M137.8 327.7h0M134.9 334.0h0M138.9 340.2h0M151.3 333.1h0M137.1 347.2h0M142.7 338.6h0M131.5 326.0h0M148.8 329.2h0M147.2 347.9h0M135.3 337.5h0M152.5 324.8h0M138.7 328.1h0M136.4 347.3h0M154.3 326.4h0M153.8 321.3h0M153.9 322.9h0M134.8 328.6h0M137.6 320.6h0M134.3 349.2h0M150.3 336.3h0M139.4 348.3h0M153.7 336.6h0M137.4 322.2h0M154.8 344.2h0M148.9 320.4h0M132.3 339.2h0M148.3 328.7h0M150.7 319.5h0M142.2 318.5h0M153.6 329.4h0M147.4 341.0h0M134.8 316.6h0M151.4 323.8h0M153.2 331.2h0M148.6 327.2h0M135.5 330.0h0M152.4 331.3h0M144.8 344.4h0M133.0 331.7h0M143.8 331.1h0M139.4 321.8h0M141.2 340.1h0M145.4 328.8h0M141.2 341.9h0M150.5 337.6h0M151.1 323.4h0M137.6 343.9h0M136.8 343.6h0M136.2 330.8h0M147.9 327.8h0M137.2 342.5h0M139.9 339.8h0M152.4 347.1h0M142.2 320.2h0M137.7 317.2h0M141.6 347.3h0M147.9 339.5h0M143.7 317.7h0M149.5 323.0h0M156.1 346.0h0M131.4 314.9h0M149.3 330.4h0M142.8 324.4h0M151.8 343.7h0M143.1 326.5h0M131.4 329.9h0M139.9 334.3h0M131.4 330.2h0M136.2 343.0h0M149.3 314.5h0M146.8 336.5h0M134.2 344.8h0M134.5 342.2h0M153.7 342.4h0M143.9 339.5h0M146.6 330.9h0M141.0 351.4h0M137.4 336.6h0M146.5 327.5h0M134.7 340.7h0M139.2 331.3h0M151.6 336.3h0M147.4 337.2h0M135.4 314.1h0M138.0 326.2h0M148.8 318.4h0M134.4 331.3h0M139.4 335.0h0M152.7 323.4h0M139.1 337.1h0M150.2 321.4h0M156.2 322.3h0M148.7 324.1h0M136.6 331.2h0M130.3 337.6h0M135.3 324.9h0M143.3 333.9h0M139.2 330.3h0M138.9 325.3h0M141.5 330.3h0M135.5 344.5h0M134.2 337.6h0M134.3 335.8h0M143.9 330.0h0M154.7 336.3h0M133.8 324.3h0M154.1 330.4h0M135.9 320.9h0M149.3 313.2h0M143.6 339.7h0M140.4 321.6h0M149.9 320.0h0M150.8 333.8h0M142.7 335.4h0M138.7 323.3h0M135.8 313.5h0M144.3 326.3h0M145.0 342.4h0M143.3 317.4h0M137.4 336.3h0M140.7 317.6h0M138.8 317.4h0M138.6 335.5h0M152.1 332.3h0M135.7 331.1h0M139.5 332.1h0M138.4 327.4h0M144.4 330.9h0M152.3 337.3h0M133.3 342.2h0M149.7 337.2h0M134.5 329.2h0M146.2 344.2h0M137.4 327.6h0M149.2 336.4h0M142.0 347.6h0M144.3 318.0h0M133.0 325.1h0M144.7 326.5h0M141.6 316.4h0M156.1 326.9h0M131.6 330.9h0M151.4 319.8h0M139.5 342.1h0M142.4 332.7h0M153.3 333.8h0M151.1 318.3h0M145.9 328.4h0M146.9 326.5h0M138.6 323.1h0M141.0 332.8h0M152.2 343.5h0M145.7 322.0h0M148.1 340.6h0M148.4 331.7h0M145.6 330.1h0M149.8 343.3h0M133.4 326.2h0M132.2 329.5h0M133.9 324.1h0M143.7 317.3h0M139.4 337.9h0M138.1 332.4h0M133.5 322.4h0M153.9 333.1h0M151.4 319.9h0M137.6 322.2h0M137.5 332.3h0M130.8 333.9h0M145.5 316.8h0M145.6 326.2h0M132.7 318.3h0M134.8 331.5h0M142.0 329.3h0M146.0 315.2h0M144.4 315.0h0M152.6 319.6h0M141.3 335.1h0M143.8 318.0h0M154.2 334.6h0M150.8 337.3h0M141.9 346.8h0M133.5 343.4h0M147.0 317.1h0M142.1 336.1h0M139.7 312.8h0M142.0 316.9h0M154.4 335.3h0M155.0 320.6h0M148.1 347.1h0M138.7 321.9h0M135.6 330.4h0M144.6 348.7h0M151.5 326.6h0M147.7 324.2h0M151.6 341.9h0M140.5 338.8h0M139.7 336.2h0M132.3 324.3h0M139.1 322.6h0M144.3 339.2h0M139.0 324.3h0M134.5 332.0h0M155.3 323.8h0M141.9 339.3h0M151.3 324.2h0M135.3 341.0h0M137.2 340.0h0M151.2 340.4h0M140.0 343.6h0M135.0 325.9h0M144.7 317.8h0M136.5 319.8h0M140.8 327.5h0M145.1 320.8h0M141.1 337.0h0M133.5 332.7h0M148.5 325.5h0M142.5 345.9h0M138.1 327.8h0M144.3 317.9h0M150.0 321.2h0M138.3 336.9h0M148.1 339.1h0M140.3 324.2h0M146.0 340.2h0M135.4 321.3h0M147.9 331.0h0M138.1 343.7h0M147.1 323.0h0M143.9 332.6h0M133.2 333.9h0M145.4 330.2h0M145.7 338.1h0M135.3 318.7h0M135.7 339.6h0M140.2 329.2h0M132.6 326.3h0M156.7 333.7h0M138.7 332.6h0M147.2 327.2h0M146.9 342.8h0M147.1 319.2h0M135.4 323.0h0M138.6 315.6h0M149.3 322.1h0M140.3 344.3h0M141.1 319.4h0M138.6 339.7h0M136.9 332.5h0M134.9 324.6h0M136.1 331.2h0M138.9 329.0h0M139.7 351.0h0M139.4 320.3h0M153.2 327.4h0M148.6 317.1h0M147.8 332.3h0M144.1 314.6h0M132.3 332.4h0M149.1 327.0h0M142.7 329.0h0M133.5 318.0h0M146.2 330.7h0M141.3 323.2h0M136.5 323.2h0M133.8 324.0h0M140.7 343.5h0M149.3 324.5h0M150.4 325.6h0M146.9 322.3h0M137.8 332.1h0M141.7 316.4h0M144.4 332.4h0M137.5 333.3h0M147.8 333.3h0M138.4 323.2h0M152.1 321.2h0M152.7 327.3h0M149.4 312.8h0M150.4 326.2h0M129.8 322.1h0M153.9 318.4h0M142.1 333.6h0M137.3 315.0h0M132.3 322.4h0M152.3 324.2h0M139.3 319.3h0M153.4 316.3h0M144.3 344.9h0M135.8 323.3h0M133.1 343.2h0M151.8 341.8h0M132.3 342.2h0M147.3 337.4h0M145.2 320.2h0M142.6 321.8h0M135.8 332.0h0M146.6 315.4h0M138.5 334.8h0M142.8 331.3h0M134.0 335.2h0M151.3 328.9h0M148.0 333.6h0M140.2 334.5h0M154.6 339.2h0M138.8 315.5h0M133.8 327.4h0M142.5 339.0h0M133.7 334.5h0M147.0 334.4h0M140.7 347.6h0M146.3 316.0h0M136.5 341.8h0M134.1 328.1h0M146.3 335.1h0M151.5 340.4h0M131.9 325.7h0M154.0 323.9h0M141.8 333.7h0M131.6 320.7h0M154.3 323.4h0M152.6 346.4h0M144.9 341.1h0M146.0 323.9h0M157.4 327.7h0M141.8 348.6h0M133.8 341.0h0M148.8 336.4h0M145.5 322.2h0M152.0 325.0h0M148.0 333.1h0M144.5 348.0h0M143.1 329.1h0M148.2 341.9h0M150.3 345.0h0M142.2 326.0h0M148.9 321.1h0M146.5 326.3h0M142.6 331.0h0M140.3 340.3h0M151.9 338.5h0M141.1 335.1h0M150.1 339.6h0M134.5 339.1h0M136.6 336.7h0M145.7 344.3h0M138.1 329.8h0M148.6 337.2h0M149.4 336.5h0M131.3 323.2h0M138.7 317.9h0M152.7 345.2h0M137.1 339.6h0M145.1 340.1h0M138.8 319.3h0M133.3 313.7h0M136.7 325.3h0M147.1 327.2h0M137.1 340.8h0M133.9 327.6h0M143.1 318.1h0M138.0 313.3h0M133.5 328.0h0M140.5 351.0h0M139.3 337.9h0M142.5 337.6h0M158.3 318.9h0M145.6 345.8h0M137.0 315.6h0M138.7 348.3h0M134.0 314.4h0M133.6 340.2h0M156.9 322.0h0M142.1 326.6h0M154.1 318.8h0M138.3 317.9h0M149.5 343.1h0M133.8 325.5h0M143.2 350.2h0M147.7 320.2h0M144.9 322.1h0M150.6 344.6h0M146.6 338.5h0M136.2 332.3h0M147.0 326.2h0M146.3 324.1h0M154.7 342.8h0M137.1 334.8h0M140.6 340.8h0M147.1 337.1h0M141.1 340.6h0M140.1 335.5h0M135.8 341.1h0M132.0 320.5h0M131.8 339.0h0M135.3 343.0h0M137.2 348.3h0M148.0 332.1h0M150.6 331.6h0M152.9 325.1h0M146.8 347.2h0M139.9 313.1h0M138.1 348.5h0M141.7 327.6h0M135.3 322.7h0M151.3 328.5h0M139.5 347.5h0M134.7 346.8h0M145.9 321.4h0M146.5 329.5h0M142.9 340.3h0M136.2 318.4h0M130.7 327.3h0M148.9 317.8h0M150.7 344.1h0M149.1 330.4h0M144.1 326.0h0M151.3 341.1h0M136.6 326.8h0M152.2 342.5h0M150.7 344.3h0M138.9 338.5h0M141.4 317.3h0M155.7 337.5h0M130.0 338.2h0M145.0 352.2h0M137.0 328.2h0M139.1 339.3h0M148.7 338.8h0M149.5 334.2h0M131.7 334.7h0M141.3 330.4h0M146.5 326.1h0M142.6 314.9h0M148.7 335.3h0M138.5 339.5h0M154.2 332.3h0M146.4 347.3h0M135.2 327.3h0M142.7 342.6h0M139.4 345.6h0M146.4 315.9h0M135.5 339.3h0M147.4 342.5h0M136.5 319.2h0M152.2 325.2h0M142.5 352.3h0M132.9 335.1h0M149.4 317.6h0M142.1 315.5h0M145.8 328.0h0M137.5 344.9h0M138.0 325.5h0M138.5 342.5h0M145.9 343.7h0M136.4 321.9h0M140.8 328.5h0M141.5 317.8h0M140.5 316.6h0M130.9 323.5h0M146.8 317.0h0M134.9 319.2h0M150.0 329.6h0M146.3 346.1h0M146.3 338.2h0M143.4 335.8h0M148.6 325.3h0M149.1 317.4h0M134.4 324.2h0M133.9 343.2h0M147.5 316.9h0M140.6 343.7h0M141.4 319.9h0M144.9 325.5h0M154.8 338.5h0M136.0 320.1h0M150.2 329.4h0M145.7 318.0h0M127.5 319.8h0M152.2 342.8h0M130.5 337.7h0M142.6 315.9h0M150.6 344.4h0M148.6 332.8h0M143.1 315.7h0M155.1 327.2h0M142.9 321.6h0M156.1 324.2h0M136.2 341.1h0M139.9 344.1h0M139.4 344.0h0M147.1 314.4h0M145.1 343.9h0M134.6 340.1h0M132.1 345.8h0M154.9 337.5h0M149.5 319.6h0M151.5 314.6h0M140.1 317.7h0M151.9 320.1h0M140.5 322.1h0M135.4 323.9h0M144.8 349.7h0M149.1 336.0h0M152.9 346.2h0M136.9 350.2h0M139.2 319.8h0M154.4 340.1h0M155.1 344.4h0M151.9 331.1h0M151.1 316.8h0M142.4 322.6h0M134.9 346.9h0M140.0 337.4h0M138.2 320.7h0M139.2 330.4h0M153.9 335.5h0M138.8 319.9h0M145.2 314.7h0M155.3 336.0h0M148.4 317.0h0M146.7 343.0h0M132.3 336.2h0M152.0 341.7h0M141.2 322.4h0M153.8 320.4h0M152.1 324.8h0M136.0 316.4h0M155.0 321.1h0M148.4 314.7h0M138.9 337.4h0M129.9 336.1h0M142.3 317.1h0M143.3 332.6h0M145.1 342.3h0M148.2 319.3h0M151.9 343.3h0M147.7 314.6h0M142.1 347.0h0M141.3 318.0h0M147.3 346.3h0M135.5 335.2h0M138.4 320.5h0M136.4 333.5h0M145.7 332.6h0M152.7 338.0h0M146.7 321.8h0M150.5 341.2h0M132.1 339.1h0M133.7 326.3h0M134.1 319.7h0M135.5 330.7h0M137.9 312.1h0M154.7 336.4h0M149.4 336.1h0M138.2 332.2h0M135.1 318.7h0M136.1 337.1h0M134.8 350.1h0M147.1 325.7h0M141.3 323.5h0M155.3 322.2h0M133.4 320.2h0M145.7 328.3h0M137.7 320.7h0M147.4 320.8h0M133.3 343.8h0M132.2 317.8h0M152.0 341.6h0M149.1 333.9h0M138.7 327.8h0M144.7 335.8h0M145.4 344.6h0M137.8 329.2h0M140.3 328.7h0M143.9 316.2h0M151.3 323.0h0M159.6 326.6h0M133.4 323.0h0M138.0 344.4h0M131.1 331.3h0M154.3 330.4h0M151.1 316.3h0M155.0 330.6h0M139.2 334.5h0M156.8 327.8h0M157.9 340.2h0M146.5 332.3h0M142.3 344.0h0M143.3 323.5h0M148.8 331.0h0M144.5 321.1h0M144.0 342.1h0M151.7 341.3h0M147.1 330.5h0M150.3 318.9h0M150.8 347.2h0M150.9 331.2h0M135.9 346.3h0M140.5 337.3h0M133.6 314.2h0M129.4 323.4h0M142.2 318.0h0M144.7 337.8h0M155.0 335.4h0M149.6 322.2h0M141.8 324.1h0M139.0 340.0h0M129.1 328.1h0M135.9 340.0h0M136.9 343.3h0M133.5 319.9h0M150.7 330.8h0M136.7 315.4h0M149.8 340.2h0M141.3 317.5h0M140.5 337.2h0M150.4 341.5h0M134.2 342.5h0M150.2 332.5h0M147.2 338.9h0M140.7 334.7h0M143.9 344.9h0M141.5 319.3h0M151.9 334.1h0M143.4 315.2h0M144.0 319.5h0M146.2 325.5h0M153.4 331.7h0M136.3 315.1h0M138.1 324.7h0M138.2 349.1h0M144.9 313.7h0M149.0 350.1h0M139.5 322.8h0M136.1 329.0h0M149.2 330.3h0M139.0 332.4h0M149.5 340.4h0M140.5 323.8h0M154.0 327.6h0M129.4 339.0h0M147.6 312.6h0M131.1 339.8h0M146.9 327.1h0M140.7 312.8h0M139.1 327.4h0M138.6 337.2h0M147.0 337.2h0M140.3 323.4h0M135.7 315.5h0M145.0 321.9h0M149.5 339.4h0M146.7 318.3h0M138.0 337.0h0M143.7 325.5h0M138.2 327.9h0M143.9 331.5h0M151.4 329.4h0M144.6 332.9h0M135.3 331.5h0M136.6 324.7h0M144.5 324.2h0M143.6 352.1h0M147.6 343.0h0M141.4 345.2h0M155.3 317.4h0M137.2 327.8h0M144.8 332.7h0M133.4 336.4h0M146.8 323.8h0M146.1 341.2h0M152.9 339.1h0M148.4 341.9h0M145.4 326.9h0M149.5 342.4h0M151.7 343.0h0M146.2 339.9h0M136.7 335.5h0M138.0 314.5h0M149.7 317.3h0M151.4 319.1h0M144.9 325.1h0M137.3 328.2h0M134.0 348.1h0M142.6 325.5h0M132.1 338.6h0M154.5 341.6h0M142.8 337.3h0M134.3 321.3h0M141.1 334.8h0M152.9 331.1h0M142.4 324.2h0M138.5 329.7h0M136.4 328.6h0M136.7 334.6h0M144.7 346.5h0M135.1 338.2h0M154.8 338.4h0M129.3 338.0h0M150.3 320.9h0M149.7 335.7h0M146.8 321.5h0M142.2 350.3h0M137.2 333.4h0M132.6 316.6h0M148.5 337.1h0M144.2 312.4h0M139.8 336.7h0M152.5 327.3h0M148.6 344.1h0M138.4 335.0h0M140.9 347.7h0M145.1 333.6h0M137.1 324.2h0M147.1 347.4h0M140.1 320.1h0M135.8 325.3h0M138.9 327.7h0M140.5 325.0h0M148.4 320.5h0M142.0 348.1h0M140.8 341.6h0M133.9 331.6h0M143.5 331.7h0M144.5 334.8h0M137.8 318.9h0M145.0 335.0h0M148.4 336.8h0M145.1 313.9h0M143.8 345.4h0M149.8 315.5h0M152.4 332.2h0M140.6 332.5h0M157.5 339.4h0M141.1 339.5h0M147.2 320.2h0M135.4 331.8h0M139.5 330.2h0M150.9 324.6h0M143.0 321.0h0M141.6 319.9h0M147.3 327.4h0M142.2 348.6h0M136.2 342.1h0M151.4 328.7h0M143.2 336.2h0M139.0 321.1h0M148.8 342.3h0M139.6 316.7h0M136.5 334.9h0M152.2 344.0h0M141.9 316.3h0M143.7 312.2h0M145.8 330.6h0M144.0 340.7h0M129.6 323.5h0M146.0 337.2h0M141.7 336.1h0M151.3 329.9h0M153.1 329.5h0M135.1 330.3h0M141.7 343.5h0M144.9 330.2h0M143.9 327.0h0M152.0 338.7h0M139.5 334.8h0M145.1 338.7h0M150.6 348.7h0M140.1 335.7h0M140.8 339.3h0M144.7 319.5h0M143.1 318.8h0M139.4 329.9h0M146.1 323.6h0M149.2 338.4h0M145.0 333.0h0M154.3 337.2h0M145.7 324.5h0M142.5 341.9h0M152.9 328.9h0M138.6 331.4h0M142.2 344.8h0M134.3 340.1h0M132.0 344.6h0M154.2 332.6h0M149.0 348.2h0M146.2 340.7h0M143.2 323.4h0M140.7 335.3h0M146.4 348.5h0M144.1 350.9h0M148.0 335.0h0M138.5 345.8h0M145.9 338.7h0M142.2 327.0h0M144.1 347.2h0M142.3 336.1h0M144.0 349.2h0M146.8 316.4h0M150.0 322.5h0M155.8 322.0h0M135.3 339.9h0M151.3 316.4h0M139.0 352.2h0M137.0 349.4h0M146.2 334.8h0M141.3 329.2h0M152.4 329.3h0M147.0 331.2h0M151.9 334.9h0M143.3 321.7h0M137.3 332.0h0M143.6 342.7h0M142.5 330.8h0M149.4 325.3h0M132.5 338.6h0M150.9 321.0h0M136.6 341.7h0M146.9 341.3h0M150.2 337.0h0M140.2 322.6h0M155.4 338.4h0M149.1 321.6h0M156.3 346.8h0M139.5 326.6h0M144.6 324.5h0M141.6 345.7h0M151.2 328.6h0M134.6 331.9h0M129.8 337.4h0M146.7 340.5h0M144.0 339.6h0M145.7 321.2h0M136.2 329.7h0M147.5 319.3h0M151.3 343.1h0M138.2 318.2h0M155.4 320.4h0M144.7 339.8h0M148.5 334.7h0M156.8 329.1h0M142.1 324.8h0M154.7 340.7h0M147.1 346.8h0M145.2 342.5h0M141.7 342.1h0M147.9 341.9h0M144.5 338.4h0M150.6 334.3h0M141.6 317.9h0M143.6 349.4h0M146.8 323.9h0M135.2 329.5h0M154.6 331.4h0M144.8 334.2h0M136.8 326.2h0M142.3 343.8h0M147.8 340.0h0M151.3 334.1h0M139.8 331.8h0M132.1 324.4h0M147.6 315.2h0M146.1 346.2h0M140.0 319.9h0M143.2 318.6h0M138.3 350.6h0M136.7 322.5h0M139.1 322.1h0M141.0 346.2h0M144.0 328.9h0M142.3 328.6h0M142.2 327.3h0M133.4 338.9h0M147.8 341.0h0M141.6 348.2h0M136.6 344.7h0M140.3 334.6h0M139.2 322.5h0M134.6 320.3h0M140.5 337.6h0M135.5 340.4h0M151.9 321.5h0M143.8 327.8h0M141.7 330.9h0M136.3 334.0h0M153.4 340.0h0M152.1 342.3h0M149.0 316.3h0M144.4 334.2h0M130.0 332.7h0M146.4 334.1h0M140.1 323.2h0M148.7 341.1h0M140.6 337.1h0M140.4 322.4h0M132.8 334.5h0M142.1 320.1h0M135.5 322.5h0M152.8 317.0h0M140.9 339.5h0M140.5 347.1h0M143.3 338.3h0M147.4 326.3h0M135.7 347.7h0M141.8 331.4h0M138.1 338.4h0M133.4 338.7h0M153.3 344.7h0M145.1 334.9h0M133.2 328.1h0M137.7 324.1h0M136.1 332.8h0M150.7 337.6h0M149.5 320.1h0M144.1 332.1h0M149.1 320.3h0M140.7 341.5h0M138.0 332.8h0M148.4 351.7h0M137.6 330.9h0M153.1 330.6h0M151.8 345.5h0M145.0 324.5h0M132.9 328.5h0M153.5 335.4h0M134.3 323.8h0M154.0 317.9h0M133.9 335.2h0M143.7 350.7h0M145.6 316.9h0M132.3 339.2h0M136.0 319.2h0M135.1 344.9h0M143.2 313.5h0M145.6 323.9h0M147.4 339.6h0M142.1 341.4h0M150.4 339.0h0M135.2 323.5h0M153.7 336.8h0M145.4 329.6h0M141.9 324.4h0M155.6 346.0h0M136.8 336.9h0M143.1 320.5h0M144.0 349.1h0M145.0 345.4h0M155.0 321.4h0M141.5 335.4h0M141.3 331.5h0M151.0 337.3h0M147.2 320.1h0M142.5 322.8h0M149.1 317.5h0M147.6 341.0h0M143.6 345.9h0M152.6 338.1h0M130.1 326.2h0M136.2 312.8h0M131.3 325.2h0M150.4 314.2h0M149.0 337.9h0M141.1 333.6h0M152.8 335.5h0M151.5 342.0h0M145.6 327.8h0M142.8 342.9h0M140.6 346.8h0M139.8 322.4h0M143.7 329.0h0M132.8 333.1h0M138.5 347.4h0M139.8 330.5h0M148.4 328.5h0M145.4 324.1h0M130.1 325.3h0M137.9 350.3h0M154.2 327.4h0M134.2 338.5h0M142.0 335.7h0M150.1 339.2h0M147.9 319.4h0M129.5 327.8h0M146.2 333.7h0M144.1 333.1h0" stroke="#5e8a44" stroke-width="1" stroke-linecap="square" opacity="0.55" fill="none"/>
<path d="M180.7 344.5h0M169.6 314.2h0M175.7 322.8h0M179.2 319.0h0M182.4 346.8h0M199.6 331.3h0M176.4 340.3h0M197.4 332.0h0M181.6 323.2h0M175.9 326.5h0M191.9 325.3h0M174.3 343.8h0M175.7 317.5h0M188.3 322.4h0M166.6 336.9h0M181.9 344.8h0M186.4 317.1h0M166.9 328.5h0M171.6 333.6h0M189.6 324.7h0M165.9 346.8h0M172.2 330.8h0M166.7 320.6h0M172.0 333.0h0M180.3 338.2h0M178.4 336.5h0M181.1 326.2h0M159.6 326.5h0M176.7 330.0h0M173.0 339.0h0M169.4 335.1h0M168.1 344.1h0M192.0 338.9h0M182.3 333.1h0M166.8 335.3h0M173.1 324.8h0M169.3 320.3h0M199.6 322.6h0M164.5 323.7h0M185.4 312.7h0M184.0 350.9h0M193.2 316.7h0M172.7 334.9h0M175.1 322.4h0M190.0 334.2h0M168.3 326.0h0M168.2 322.9h0M166.8 326.1h0M182.1 327.4h0M166.3 339.2h0M188.8 339.9h0M183.1 337.0h0M196.3 337.9h0M180.1 334.9h0M177.7 335.1h0M176.4 350.4h0M192.6 341.3h0M160.6 329.5h0M187.2 316.5h0M176.2 322.6h0M200.4 339.4h0M191.6 314.5h0M175.1 313.9h0M188.4 338.5h0M169.6 342.7h0M175.0 349.6h0M184.9 325.1h0M172.1 346.1h0M188.5 346.5h0M171.7 328.2h0M167.3 336.7h0M186.6 340.5h0M166.1 337.6h0M172.7 349.8h0M188.6 330.4h0M183.2 324.1h0M176.8 341.0h0M186.8 349.5h0M183.2 317.1h0M169.5 336.6h0M181.8 333.0h0M181.7 319.1h0M184.4 336.5h0M189.3 332.0h0M169.2 325.9h0M188.5 321.3h0M165.1 350.9h0M172.3 333.6h0M177.9 316.0h0M167.7 333.8h0M173.5 329.1h0M178.0 317.1h0M164.4 316.1h0M179.6 335.1h0M171.8 330.9h0M187.9 351.3h0M197.5 330.6h0M180.9 339.9h0M175.0 316.9h0M180.5 315.4h0M166.1 321.2h0M175.7 333.9h0M180.9 350.5h0M176.0 332.5h0M190.5 337.0h0M187.3 332.0h0M176.8 318.6h0M173.3 337.5h0M186.2 328.5h0M171.2 341.1h0M188.3 339.0h0M175.4 340.9h0M186.4 342.5h0M167.0 346.6h0M194.9 328.3h0M182.8 324.2h0M189.2 324.5h0M167.5 345.7h0M173.9 328.2h0M176.0 346.4h0M165.0 319.4h0M162.7 323.1h0M167.1 316.1h0M176.6 334.9h0M173.6 351.0h0M176.6 313.3h0M181.4 343.5h0M193.4 350.2h0M185.7 327.1h0M173.5 316.7h0M172.6 328.6h0M166.1 327.8h0M191.8 320.9h0M177.5 335.4h0M164.5 345.3h0M167.6 350.2h0M177.1 313.5h0M182.0 329.6h0M184.8 323.0h0M174.3 337.2h0M167.6 332.7h0M170.7 328.9h0M184.5 346.8h0M177.6 346.9h0M177.0 327.6h0M169.4 348.6h0M181.3 343.8h0M170.7 341.2h0M182.9 338.6h0M158.4 322.3h0M164.0 321.6h0M187.0 342.9h0M189.6 335.4h0M194.4 334.7h0M169.1 318.6h0M193.1 330.4h0M168.1 330.1h0M198.7 330.1h0M175.0 320.0h0M169.5 337.2h0M194.8 344.2h0M177.8 322.3h0M168.1 333.2h0M171.7 340.6h0M182.6 349.5h0M164.0 318.1h0M193.2 329.9h0M164.1 317.3h0M188.0 331.5h0M179.7 349.8h0M191.3 345.2h0M190.7 329.1h0M168.0 323.4h0M180.9 341.3h0M188.6 349.0h0M183.2 343.6h0M177.4 334.4h0M183.5 332.0h0M174.3 334.7h0M173.7 339.4h0M183.9 338.2h0M196.9 339.4h0M186.7 317.5h0M176.1 338.0h0M193.8 319.4h0M184.9 324.1h0M184.9 330.6h0M177.2 330.8h0M189.5 347.0h0M188.5 332.9h0M189.5 329.1h0M198.6 335.6h0M177.3 329.1h0M175.4 333.6h0M174.1 316.6h0M167.7 329.1h0M174.7 315.8h0M190.4 331.7h0M179.7 339.6h0M185.6 327.1h0M191.9 338.5h0M170.6 327.9h0M176.1 314.5h0M168.2 336.5h0M171.7 319.1h0M166.9 322.2h0M166.6 333.3h0M166.8 343.2h0M172.5 324.7h0M161.0 345.8h0M167.4 329.4h0M185.5 339.6h0M173.5 347.2h0M176.6 350.4h0M176.2 323.9h0M188.5 351.9h0M192.9 317.0h0M186.7 330.8h0M174.6 323.5h0M192.4 342.2h0M188.4 321.0h0M195.2 326.1h0M174.1 312.9h0M199.9 340.0h0M190.6 342.1h0M184.3 319.0h0M159.4 324.1h0M172.8 345.7h0M177.5 315.7h0M174.7 328.4h0M191.9 317.5h0M186.3 318.8h0M166.3 317.9h0M179.9 323.9h0M177.3 326.1h0M188.1 329.0h0M169.0 330.6h0M164.2 342.4h0M180.1 333.4h0M169.0 337.3h0M174.2 330.0h0M184.4 347.6h0M166.8 346.8h0M181.7 329.3h0M165.4 328.7h0M179.8 325.5h0M188.4 339.0h0M164.8 347.6h0M179.7 320.9h0M190.1 341.2h0M188.6 331.5h0M164.4 351.9h0M177.9 350.4h0M172.3 319.0h0M192.1 318.7h0M183.2 337.5h0M183.7 319.9h0M170.1 332.7h0M186.7 329.8h0M187.1 344.6h0M188.7 330.9h0M199.4 331.9h0M195.6 332.9h0M168.3 327.0h0M182.5 325.7h0M167.0 325.5h0M194.7 326.9h0M193.1 314.5h0M179.5 314.0h0M169.8 315.9h0M169.2 337.1h0M173.1 324.7h0M175.2 334.8h0M183.3 317.0h0M192.6 342.3h0M181.9 340.3h0M189.6 314.6h0M157.1 317.9h0M174.2 325.8h0M165.9 331.9h0M203.2 330.7h0M175.6 324.6h0M184.5 334.4h0M181.6 325.3h0M156.0 332.7h0M186.2 327.8h0M179.2 331.3h0M174.5 333.3h0M154.6 319.6h0M183.4 343.2h0M169.6 337.1h0M189.4 324.7h0M185.5 337.1h0M160.5 333.3h0M177.6 316.7h0M163.6 335.2h0M183.9 337.7h0M166.2 338.5h0M184.5 316.0h0M187.9 320.6h0M179.5 315.3h0M186.6 344.3h0M182.8 339.6h0M175.5 329.1h0M189.5 347.6h0M183.0 315.9h0M194.6 346.1h0M182.8 320.6h0M176.7 335.4h0M170.8 316.1h0M170.6 340.9h0M183.5 345.9h0M185.0 343.4h0M168.2 341.5h0M186.3 318.8h0M189.5 335.2h0M175.9 336.7h0M166.9 320.6h0M150.7 323.8h0M184.6 319.2h0M189.5 344.5h0M181.2 312.0h0M187.9 339.7h0M178.5 342.6h0M183.0 337.8h0M184.9 346.8h0M169.1 339.5h0M174.8 347.2h0M191.6 349.0h0M156.8 313.4h0M177.8 341.0h0M160.3 323.0h0M187.7 313.2h0M173.7 320.3h0M158.1 347.3h0M182.8 331.0h0M161.8 340.5h0M179.5 330.4h0M167.4 334.8h0M200.5 328.6h0M172.8 324.2h0M188.4 342.2h0M187.3 316.0h0M180.0 346.6h0M175.5 341.5h0M199.0 333.2h0M190.0 325.5h0M181.2 339.8h0M187.0 344.2h0M195.6 335.0h0M164.8 337.2h0M170.4 320.5h0M184.5 329.5h0M190.1 342.3h0M195.5 329.4h0M160.2 326.2h0M185.5 313.0h0M183.0 347.3h0M173.5 348.9h0M167.5 349.6h0M189.9 347.6h0M169.1 341.9h0M179.9 316.6h0M180.7 348.2h0M190.1 339.3h0M179.6 317.2h0M158.2 334.9h0M175.2 335.8h0M178.3 333.7h0M160.4 322.4h0M175.6 337.2h0M161.6 343.6h0M179.7 325.6h0M162.6 320.9h0M179.0 330.6h0M159.3 334.8h0M189.5 348.7h0M190.5 325.1h0M184.8 342.4h0M172.9 318.4h0M171.4 321.3h0M193.0 330.6h0M160.1 335.2h0M194.0 342.0h0M178.3 350.2h0M178.5 333.1h0M180.4 343.9h0M165.9 325.5h0M187.9 331.8h0M174.8 313.5h0M181.1 333.7h0M160.9 351.4h0M170.0 342.7h0M159.7 337.5h0M179.9 346.8h0M168.2 323.9h0M171.1 344.1h0M169.7 322.3h0M169.6 336.7h0M196.3 317.1h0M168.5 337.8h0M165.4 337.7h0M181.4 335.5h0M181.7 329.7h0M157.6 337.3h0M170.1 326.5h0M162.7 338.5h0M173.1 312.2h0M171.0 327.5h0M177.8 341.5h0M174.0 345.1h0M182.6 317.0h0M161.6 327.0h0M184.2 337.7h0M177.2 322.8h0M168.9 331.2h0M167.5 348.5h0M178.8 330.0h0M172.0 338.8h0M185.4 323.6h0M178.5 314.0h0M189.4 342.5h0M171.9 341.7h0M171.3 318.2h0M192.0 335.2h0M178.9 338.0h0M168.2 325.4h0M185.7 328.2h0M178.3 320.0h0M170.0 335.5h0M183.8 314.3h0M177.0 322.6h0M172.9 330.4h0M174.5 346.4h0M184.4 341.8h0M187.3 350.3h0M168.9 322.6h0M184.0 315.7h0M186.5 324.5h0M171.3 329.7h0M183.6 319.7h0M175.5 337.6h0M172.1 325.7h0M169.9 337.4h0M173.0 320.8h0M185.0 320.6h0M179.0 322.7h0M171.1 329.0h0M173.2 342.0h0M168.5 317.0h0M183.6 312.6h0M189.9 321.5h0M206.8 329.3h0M181.9 339.8h0M188.9 325.6h0M178.7 320.6h0M179.5 332.5h0M170.3 335.7h0M167.3 330.8h0M182.3 329.2h0M185.4 345.1h0M190.0 313.4h0M167.5 323.3h0M191.0 340.0h0M195.5 347.6h0M183.2 345.6h0M172.1 313.8h0M188.0 336.7h0M180.8 338.2h0M175.0 329.8h0M171.4 320.0h0M196.4 323.5h0M187.4 349.9h0M166.9 335.3h0M169.7 325.9h0M188.3 329.7h0M197.8 321.0h0M192.6 328.9h0" stroke="#8fb47c" stroke-width="1" stroke-linecap="square" opacity="0.5" fill="none"/>
<path d="M179.9 346.5h0M162.3 337.7h0M187.7 336.2h0M172.6 330.8h0M162.0 335.7h0M169.3 316.9h0M188.7 343.9h0M192.1 317.1h0M175.0 328.6h0M164.3 323.0h0M173.5 352.1h0M183.2 322.5h0M169.0 330.9h0M169.9 334.2h0M166.5 341.2h0M182.9 344.6h0M183.6 345.6h0M169.3 341.4h0M193.7 338.6h0M177.2 324.0h0M172.7 337.0h0M174.3 322.3h0M175.6 321.7h0M172.6 338.3h0M184.0 316.9h0M192.1 345.8h0M169.7 322.0h0M179.4 320.3h0M169.4 342.0h0M170.2 332.6h0M175.7 313.5h0M179.2 347.2h0M170.6 326.9h0M168.9 326.1h0M174.6 331.8h0M191.2 324.7h0M185.8 334.1h0M196.6 336.5h0M185.7 337.9h0M185.3 322.7h0M190.7 331.8h0M189.1 349.4h0M171.7 332.3h0M174.4 317.8h0M177.3 321.2h0M181.6 313.8h0M197.1 323.2h0M180.4 324.0h0M172.5 326.4h0M185.6 316.9h0M168.7 324.7h0M185.2 315.2h0M178.2 323.7h0M183.8 334.8h0M186.5 322.4h0M181.2 348.1h0M191.5 336.6h0M182.4 332.7h0M193.6 324.6h0M192.6 330.0h0M166.5 335.2h0M194.4 340.7h0M167.8 322.2h0M165.2 323.0h0M182.7 329.3h0M178.2 347.7h0M176.6 337.6h0M184.9 328.4h0M175.5 350.1h0M168.8 343.3h0M179.5 313.4h0M179.4 323.9h0M169.4 327.3h0M181.5 346.3h0M172.7 318.0h0M169.0 325.7h0M190.1 329.6h0M162.7 316.4h0M169.8 320.7h0M190.8 345.3h0M181.4 337.7h0M190.6 344.0h0M177.9 319.9h0M178.7 341.1h0M189.0 317.7h0M170.2 347.4h0M184.3 341.0h0M176.7 313.3h0M188.3 322.2h0M176.8 319.2h0M170.3 345.9h0M193.7 330.1h0M187.8 331.0h0M178.6 319.2h0M172.4 341.1h0M169.7 313.7h0M191.1 349.5h0M176.7 322.2h0M181.5 333.2h0M190.9 344.1h0M176.0 330.0h0M173.4 339.2h0M185.0 330.6h0M167.3 320.6h0M191.7 331.1h0M185.8 333.0h0M176.8 320.0h0M177.1 348.7h0M176.2 323.6h0M163.9 334.8h0M190.2 313.2h0M189.3 338.3h0M174.8 334.0h0M196.4 334.6h0M169.8 316.0h0M183.0 328.4h0M184.7 327.5h0M169.6 334.6h0M169.1 319.4h0M177.8 325.7h0M166.0 326.7h0M184.9 321.9h0M187.6 345.5h0M190.7 331.0h0M176.7 349.9h0M184.0 342.5h0M188.7 319.5h0M161.9 332.7h0M165.4 331.1h0M172.5 341.3h0M176.1 340.9h0M188.2 320.1h0M189.5 333.4h0M177.2 337.3h0M176.0 340.8h0M181.8 312.4h0M186.1 339.6h0M186.7 330.8h0M174.0 333.7h0M167.5 322.6h0M175.7 341.5h0M183.5 345.3h0M165.5 327.3h0M175.6 317.7h0M185.1 324.0h0M166.7 324.7h0M188.6 320.3h0M179.4 336.0h0M167.3 327.5h0M187.9 347.3h0M176.5 328.3h0M181.2 323.4h0M182.0 342.2h0M170.7 349.8h0M171.7 352.2h0M193.7 333.4h0M192.5 341.4h0M169.7 343.4h0M187.4 347.7h0M185.8 328.9h0M172.6 335.8h0M182.4 340.8h0M171.6 348.4h0M190.6 338.0h0M170.0 313.4h0M170.1 340.7h0M193.0 332.9h0M177.6 346.9h0M173.2 341.4h0M167.0 329.9h0M184.8 333.9h0M169.8 344.2h0M176.6 349.7h0M187.1 320.3h0M170.1 331.6h0M169.5 335.9h0M187.3 335.8h0M184.8 347.5h0M169.8 343.1h0M171.5 335.7h0M180.8 338.9h0M186.3 346.9h0M180.6 314.1h0M177.0 341.5h0M188.3 320.0h0M176.8 328.6h0M163.2 317.9h0M181.6 326.8h0M196.1 325.6h0M190.1 331.2h0M177.4 344.7h0M177.8 341.7h0M180.8 316.7h0M187.8 321.4h0M173.0 338.6h0M173.6 349.4h0M173.2 335.5h0M179.3 344.9h0M180.1 327.9h0M162.9 318.0h0M197.0 325.1h0M184.4 332.2h0M164.4 326.1h0M171.6 345.0h0M192.8 329.5h0M170.8 340.8h0M168.9 325.0h0M188.8 325.8h0M188.0 342.4h0M191.5 335.1h0M197.8 332.1h0M186.4 322.4h0M168.3 341.3h0M186.3 338.9h0M191.8 318.7h0M177.3 347.8h0M177.3 316.3h0M192.2 330.9h0M168.3 343.5h0M192.5 333.3h0M188.2 312.1h0M189.9 348.4h0M189.5 326.6h0M176.9 332.6h0M161.8 345.6h0M190.3 318.3h0M184.2 325.6h0M163.9 324.3h0M176.7 326.5h0M169.1 352.1h0M181.3 337.9h0M170.0 347.0h0M180.6 339.9h0M161.8 337.1h0M194.1 319.9h0M183.3 337.7h0M165.1 339.3h0M181.7 317.8h0M170.9 342.3h0M173.3 327.6h0M186.8 323.2h0M188.9 324.2h0M170.2 322.7h0M188.9 347.2h0M188.9 342.0h0M168.8 325.9h0M177.5 338.3h0M167.1 318.9h0M180.5 323.8h0M167.5 321.2h0M184.1 334.1h0M191.9 331.4h0M189.3 322.3h0M184.3 336.5h0M187.2 336.4h0M167.9 328.4h0M167.0 324.9h0M173.2 345.6h0M178.1 334.4h0M168.9 317.9h0M188.1 331.8h0M178.8 329.4h0M172.4 313.8h0M185.5 322.2h0M193.5 321.8h0M169.9 327.2h0M170.4 338.7h0M186.0 314.8h0M179.9 348.7h0M180.0 338.7h0M182.7 335.7h0M176.0 323.1h0M163.0 348.0h0M177.8 337.0h0M194.1 343.5h0M166.3 321.4h0M176.7 319.0h0M176.9 329.9h0M175.3 337.6h0M177.7 330.5h0M160.9 342.6h0M175.0 320.2h0M171.9 349.9h0M168.9 315.3h0M174.7 333.0h0M192.6 319.0h0M191.4 326.8h0M180.6 323.0h0M166.9 313.9h0M175.2 323.3h0M168.5 347.2h0M185.6 316.1h0M169.4 335.9h0M169.0 320.5h0M192.5 329.4h0M174.6 333.0h0M166.3 322.5h0M187.8 327.6h0M180.4 320.5h0M168.8 317.7h0M196.8 331.9h0M193.7 340.7h0M170.9 344.1h0M183.5 327.8h0M185.8 318.3h0M172.8 345.4h0M182.2 331.6h0M175.0 345.3h0M175.3 320.3h0M184.9 313.4h0M190.7 318.8h0M189.5 336.8h0M165.2 331.4h0M194.4 342.4h0M194.1 342.7h0M190.9 336.3h0M172.5 346.2h0M176.9 346.4h0M175.3 330.3h0M187.1 335.9h0M169.7 317.3h0M195.3 335.6h0M162.6 313.4h0M184.1 317.3h0M178.8 337.0h0M178.4 336.7h0M194.0 315.0h0M188.7 326.9h0M193.5 321.7h0M177.0 347.6h0M183.1 333.4h0M189.3 315.2h0M191.5 324.6h0M171.3 347.7h0M189.1 331.3h0M166.1 328.3h0M173.9 329.1h0M180.7 320.6h0M182.4 346.5h0M167.9 346.6h0M187.4 344.0h0M191.7 322.6h0M188.6 325.6h0M182.6 320.9h0M188.0 324.3h0M171.6 318.5h0M165.9 327.3h0M168.8 322.8h0M192.9 318.5h0M185.5 318.1h0M184.0 340.0h0M169.6 333.7h0M173.1 343.4h0M166.8 328.2h0M170.7 321.4h0M171.8 325.4h0M169.4 336.7h0M172.3 344.9h0M180.2 344.7h0M194.3 316.3h0M176.8 335.1h0M182.0 336.1h0M172.6 334.2h0M188.4 323.2h0M179.8 332.3h0M179.1 321.4h0M188.8 334.5h0M169.6 318.5h0M193.1 323.9h0M169.2 333.8h0M169.0 336.7h0M180.7 335.9h0M184.5 335.1h0M165.8 331.3h0M175.4 333.2h0M159.7 326.0h0M176.3 322.6h0M173.0 331.1h0M193.3 341.5h0M185.8 336.2h0M188.2 331.4h0M183.0 316.7h0M162.6 337.7h0M185.3 324.7h0M179.2 330.6h0M176.3 342.5h0M192.4 328.7h0M189.2 326.3h0M166.5 330.7h0M185.5 315.1h0M172.7 313.8h0M195.6 330.1h0M171.6 327.6h0M181.7 334.6h0M181.3 324.6h0M160.4 318.1h0M188.6 338.9h0M175.1 327.6h0M191.6 336.3h0M162.1 334.1h0M184.3 340.3h0M171.3 347.2h0M167.0 333.8h0M178.9 344.3h0M192.6 334.8h0M188.8 344.8h0M182.2 327.2h0M172.3 320.4h0M178.6 315.2h0M176.4 344.2h0M175.7 350.7h0M179.0 337.3h0M177.8 313.4h0M195.9 327.5h0M175.5 323.0h0M171.9 318.7h0M188.0 313.8h0M182.6 335.3h0M188.7 314.7h0M184.3 335.9h0M194.4 342.3h0M175.0 317.8h0M165.0 335.1h0M175.1 315.7h0M172.6 340.3h0M179.1 312.5h0M179.7 347.8h0M190.8 344.0h0M165.7 340.7h0M178.4 321.1h0M180.6 348.4h0M189.2 348.8h0M163.9 318.1h0M177.7 345.0h0M192.2 322.2h0M169.6 321.6h0M167.0 315.0h0M179.6 336.6h0M178.0 318.2h0M162.7 339.4h0M176.2 340.7h0M183.2 339.7h0M191.3 317.8h0M167.5 324.5h0M165.2 338.3h0M166.4 335.7h0M178.8 327.7h0M185.7 348.0h0M169.5 327.7h0M166.1 339.8h0M175.6 319.8h0M180.3 342.0h0M173.5 343.6h0M179.5 325.6h0M162.3 338.8h0M188.9 326.2h0M163.2 342.1h0M190.7 342.4h0M170.6 316.5h0M177.8 323.7h0M188.9 322.3h0M180.1 320.7h0M175.7 347.6h0M167.6 316.8h0M177.4 319.1h0M185.1 339.1h0M175.6 348.6h0M177.3 314.9h0M170.4 322.5h0M192.3 348.2h0M173.2 336.0h0M168.5 320.9h0M188.4 312.1h0M190.8 342.1h0M180.3 344.6h0M188.4 328.4h0M191.3 320.5h0M180.5 341.6h0M168.7 342.6h0M176.7 346.6h0M183.4 333.8h0M165.3 324.2h0M170.2 321.3h0M191.3 329.7h0M166.1 336.0h0M187.7 341.2h0M177.5 314.8h0M165.5 337.5h0M167.8 319.3h0M186.4 325.9h0M187.3 345.1h0M167.5 339.5h0M165.8 337.8h0M195.3 339.1h0M173.7 337.1h0M182.5 344.8h0M178.2 349.4h0M195.8 339.5h0M192.0 345.0h0M177.5 325.1h0M191.6 321.6h0M185.8 312.7h0M163.8 321.3h0M174.0 318.7h0M173.3 337.1h0M187.9 349.4h0M183.9 340.8h0M168.1 333.0h0M175.6 320.6h0M177.5 317.4h0M181.2 342.4h0M183.4 339.2h0M171.7 346.6h0M164.5 323.1h0M186.4 341.9h0M181.8 346.2h0M183.3 339.7h0M163.5 327.1h0M162.4 328.3h0M188.6 324.7h0M164.8 340.0h0M188.3 339.9h0M168.1 326.4h0M183.0 324.8h0M190.1 323.0h0M167.1 343.7h0M192.5 328.1h0M167.5 332.4h0M179.7 332.5h0M182.0 327.1h0M164.6 326.4h0M188.4 338.3h0M186.1 315.2h0M180.4 326.2h0M191.3 332.7h0M173.1 341.2h0M160.4 324.9h0M189.9 314.3h0M186.5 317.8h0M179.3 323.6h0M186.5 326.8h0M163.9 322.2h0M171.0 339.5h0M179.4 334.2h0M183.3 340.0h0M190.6 317.2h0M198.2 316.6h0M173.1 318.2h0M181.7 336.5h0M187.2 338.3h0M189.8 340.6h0M169.6 313.3h0M164.3 339.7h0M179.7 323.4h0M192.4 319.9h0M164.9 350.7h0M186.0 343.3h0M191.2 330.2h0M167.7 313.2h0M195.4 330.4h0M172.4 346.7h0M178.4 340.1h0M186.5 342.5h0M183.2 340.8h0M184.5 329.2h0M170.3 341.9h0M174.9 338.7h0M176.4 328.6h0M167.9 340.4h0M177.7 321.0h0M189.7 335.3h0M191.5 337.5h0M187.7 319.0h0M190.4 332.0h0M179.4 332.2h0M189.3 314.9h0M196.1 344.9h0M181.8 333.3h0M182.3 328.4h0M188.7 328.8h0M165.0 331.6h0M175.4 342.0h0M188.9 341.2h0M169.0 339.0h0M168.5 334.7h0M187.4 344.8h0M187.3 344.5h0M167.4 336.2h0M187.2 315.4h0M186.4 315.5h0M169.3 328.1h0M166.1 332.4h0M190.9 321.9h0M174.4 336.9h0M173.9 330.0h0M175.9 341.8h0M186.8 340.0h0M168.7 332.4h0M173.8 340.4h0M176.1 330.9h0M174.6 335.0h0M180.3 334.5h0M181.3 341.5h0M186.1 316.6h0M160.9 327.5h0M171.2 315.8h0M192.1 324.9h0M178.5 339.0h0M176.9 339.2h0M184.7 324.1h0M188.2 316.7h0M181.1 347.4h0M188.8 338.7h0M188.8 343.6h0M178.1 339.2h0M165.4 338.9h0M172.0 341.3h0M164.3 343.7h0M169.1 327.3h0M170.5 339.2h0M170.6 347.3h0M179.0 342.6h0M181.5 323.8h0M166.7 324.3h0M183.9 339.9h0M174.3 339.3h0M178.5 312.6h0M176.3 326.0h0M174.4 317.6h0M165.8 343.1h0M188.8 333.6h0M192.2 342.5h0M178.3 315.0h0M186.9 313.8h0M184.3 325.4h0M169.6 342.3h0M171.4 343.6h0M188.0 332.0h0M179.6 329.4h0M169.1 327.1h0M177.3 336.2h0M186.1 318.5h0M188.9 324.7h0M176.6 321.4h0M162.8 337.5h0M165.1 329.5h0M162.0 340.6h0M179.7 347.8h0M171.3 337.3h0M191.0 348.3h0M185.6 343.1h0M180.4 320.4h0M173.1 325.5h0M187.0 327.1h0M167.9 322.5h0M166.3 349.5h0M165.7 320.7h0M172.7 339.9h0M185.6 323.8h0M165.9 346.0h0M182.0 348.6h0M197.2 334.2h0M186.5 335.5h0M189.2 347.1h0M163.2 346.0h0M177.3 321.9h0M189.1 348.2h0M163.8 321.1h0M171.5 334.8h0M171.6 321.2h0M187.9 313.9h0M179.9 328.8h0M172.1 345.5h0M169.5 336.5h0M164.3 333.8h0M188.2 338.3h0M181.3 334.7h0M191.1 330.6h0M197.8 338.0h0M182.4 347.6h0M189.7 321.8h0M181.6 339.9h0M179.8 334.7h0M187.4 349.9h0M166.5 345.8h0M181.8 328.8h0M167.3 339.4h0M176.6 344.5h0M192.0 329.0h0M185.2 325.3h0M182.6 314.2h0M189.6 338.9h0M179.5 350.5h0M169.2 343.7h0M173.2 336.0h0M195.9 341.5h0M189.4 330.2h0M184.6 329.3h0M179.4 348.6h0M179.8 348.3h0M183.0 338.3h0M190.8 321.8h0M164.0 328.7h0M175.0 332.7h0M187.8 341.5h0M167.5 340.0h0M186.1 330.5h0M189.7 322.9h0M190.5 319.7h0M194.4 318.4h0M172.1 337.1h0M177.4 330.1h0M183.1 321.4h0M175.8 323.8h0M166.4 332.8h0M190.0 337.1h0M175.5 323.4h0M185.5 336.4h0M160.0 334.4h0M158.3 323.7h0M188.8 329.2h0M174.4 349.6h0M169.3 333.4h0M191.6 321.4h0M188.1 333.3h0M179.4 346.5h0M176.9 328.6h0M186.5 321.0h0M185.8 338.0h0M177.2 341.0h0M169.2 343.7h0M176.6 316.3h0M185.9 347.8h0M179.6 317.2h0M188.7 331.9h0M174.3 317.2h0M179.3 345.2h0M182.3 327.8h0M186.3 339.6h0M186.7 324.4h0M180.6 337.2h0M187.0 324.9h0M162.8 326.7h0M194.9 325.9h0M168.5 322.1h0M192.1 325.7h0M172.4 315.6h0M172.1 338.7h0M193.2 344.1h0M196.2 331.0h0M187.5 342.0h0M170.8 324.5h0M165.7 314.8h0M174.1 320.0h0M192.4 331.2h0M194.3 318.9h0M172.3 341.4h0M190.9 330.4h0M177.9 349.7h0M171.5 333.0h0M166.4 322.5h0M183.1 317.1h0M180.4 323.2h0M179.5 332.2h0M161.9 321.4h0M186.0 339.3h0M180.4 333.0h0M169.9 332.8h0M196.2 323.5h0M170.4 330.7h0M186.2 334.1h0M185.4 319.2h0M181.7 340.1h0M169.2 340.4h0M178.5 329.3h0M188.2 339.4h0M190.9 342.8h0M169.4 334.6h0M182.7 343.4h0M175.7 345.7h0M162.8 324.1h0M198.2 328.3h0M196.2 321.6h0M174.1 328.6h0M168.3 336.5h0M190.9 323.1h0M174.2 338.3h0M173.6 345.6h0M173.1 335.0h0M168.3 340.7h0M168.4 323.3h0M163.2 326.8h0M177.9 341.4h0M193.2 317.6h0M191.2 343.8h0M180.4 325.4h0M188.7 318.2h0M197.4 339.4h0M169.4 330.9h0M182.2 331.3h0M172.9 318.3h0M189.5 347.7h0M173.7 316.2h0M181.5 336.7h0M177.8 314.7h0M183.8 343.0h0M167.4 339.8h0M186.2 334.4h0M177.6 315.3h0M189.6 325.5h0M176.0 332.3h0M186.3 321.1h0M177.4 350.3h0M170.5 345.2h0M172.6 326.4h0M166.4 336.1h0M180.3 319.4h0M188.4 320.6h0M175.2 346.0h0M170.1 322.7h0M189.3 332.8h0M181.0 320.4h0M176.7 319.4h0M174.8 333.9h0M166.3 312.4h0M169.3 342.0h0M176.0 316.7h0M169.7 346.5h0M181.8 346.2h0M167.0 335.8h0M178.8 345.1h0M180.3 333.8h0M177.0 345.4h0M182.7 341.9h0M182.8 327.8h0M166.8 321.4h0M176.5 317.1h0M184.7 337.8h0M174.4 344.8h0M191.4 335.3h0M182.6 332.4h0M172.3 340.9h0M186.0 343.1h0M190.0 338.6h0M181.6 320.1h0M173.0 316.0h0M193.5 319.7h0M172.3 340.4h0M188.8 333.0h0M191.0 335.5h0M180.1 321.6h0M166.3 325.6h0M190.1 330.9h0M176.6 330.0h0M179.9 337.6h0M174.9 348.8h0M176.6 331.0h0M168.2 338.1h0M192.4 328.6h0M178.0 330.5h0M190.7 327.3h0M179.3 332.8h0M183.0 346.9h0M177.7 331.4h0M185.4 341.9h0M186.8 318.1h0M186.9 342.6h0M194.5 325.5h0M190.3 339.3h0M169.7 347.4h0M178.0 345.2h0M167.2 318.4h0M173.8 326.2h0M187.9 322.6h0M170.6 322.8h0M184.5 318.1h0M175.8 340.2h0M196.9 331.1h0M185.8 331.3h0M192.3 336.4h0M171.8 343.6h0M192.9 326.1h0M192.4 336.4h0M190.7 315.5h0M188.0 322.6h0M172.0 326.6h0M183.8 325.8h0M188.9 345.7h0M189.5 339.0h0M169.6 328.8h0M192.6 326.6h0M166.9 349.0h0M185.6 334.9h0M174.0 323.9h0M179.2 339.1h0M175.9 344.6h0M173.6 347.8h0M183.5 347.2h0M170.2 343.3h0M165.0 328.9h0M180.9 341.2h0M188.7 322.8h0M177.5 331.0h0M191.9 339.5h0M174.3 319.8h0M164.3 327.8h0M178.5 324.3h0M173.2 323.6h0M170.0 347.0h0M170.3 342.3h0M171.9 347.4h0M170.0 341.8h0M167.4 323.3h0M167.0 345.4h0M189.9 341.7h0M186.5 327.3h0M182.7 330.5h0M174.8 317.4h0M174.1 333.1h0M177.7 316.8h0M178.6 335.3h0M189.7 337.6h0M193.5 342.9h0M194.0 333.7h0M180.4 324.0h0M181.4 338.2h0M174.3 340.5h0M191.5 336.8h0M170.0 336.0h0M174.5 326.9h0M177.2 338.2h0M192.0 325.9h0M191.0 336.8h0M182.1 337.7h0M180.2 330.4h0M191.9 327.7h0M171.1 333.0h0M184.1 330.2h0M167.2 319.4h0M175.6 324.4h0M187.2 336.6h0M183.7 323.9h0M189.7 324.8h0M195.8 334.5h0M169.3 342.3h0M169.3 333.6h0M178.2 321.9h0M165.8 329.5h0M174.2 336.1h0M187.8 321.5h0M171.5 335.4h0M173.7 313.4h0M171.7 339.8h0M176.4 335.9h0M169.0 325.4h0M182.4 345.6h0M182.0 343.6h0M179.8 327.2h0M178.6 318.6h0M179.6 336.0h0M164.2 330.0h0M188.8 346.0h0M182.0 342.8h0M193.1 339.4h0M171.3 350.4h0M176.9 321.1h0M172.9 334.5h0M170.7 318.8h0M165.0 340.6h0M171.2 339.8h0M191.8 328.6h0M167.1 329.5h0M178.2 322.4h0M169.1 329.3h0M186.0 333.0h0M163.2 338.9h0M169.4 339.7h0M173.1 336.8h0M178.0 350.1h0M180.5 312.9h0M176.0 323.9h0M192.9 329.9h0M171.0 324.2h0M186.2 316.7h0M181.9 313.7h0M185.4 332.8h0M193.4 317.7h0M186.1 318.3h0M176.5 344.7h0M165.3 316.6h0M173.7 315.9h0M168.5 344.7h0M184.3 337.0h0M177.8 316.3h0M181.8 317.6h0M187.3 316.7h0M184.6 343.6h0M186.7 333.5h0M181.4 329.8h0M185.4 346.9h0M188.5 346.6h0M168.4 317.6h0M181.0 327.2h0M189.2 329.2h0M191.9 317.3h0M184.6 330.0h0M194.4 323.4h0M171.0 337.4h0M187.2 325.2h0M190.3 317.7h0M173.4 348.5h0M180.8 327.3h0M181.5 328.7h0M176.0 335.7h0M183.5 321.6h0M164.8 318.1h0M195.8 341.0h0M193.4 339.8h0M192.6 332.3h0M172.6 340.1h0M178.8 336.7h0M166.6 321.0h0M180.9 343.1h0M177.4 324.6h0M193.9 330.2h0M168.1 313.3h0M188.7 345.1h0M167.8 324.7h0M187.1 343.0h0M180.8 316.6h0M175.4 321.0h0M163.5 329.6h0M178.1 347.3h0M189.0 331.1h0M190.9 320.8h0M177.6 345.3h0M194.9 326.1h0M191.3 326.3h0M185.7 344.7h0M191.5 340.0h0M171.8 318.3h0M196.4 337.7h0M181.1 329.0h0M175.2 337.4h0M180.7 313.2h0M174.0 325.2h0M196.1 336.8h0M186.8 342.5h0M177.3 346.2h0M196.9 335.0h0M183.8 327.7h0M181.5 324.0h0M193.4 330.1h0M186.2 350.1h0M180.1 327.4h0M186.8 321.6h0M169.9 326.8h0M165.0 329.1h0M185.9 335.9h0M166.6 335.2h0M166.9 314.0h0M165.4 330.6h0M182.7 338.2h0M189.5 348.8h0M172.5 332.0h0M175.1 343.5h0M185.0 336.1h0M184.7 327.0h0M179.8 329.8h0M181.3 346.6h0M187.6 333.2h0M185.4 322.8h0M166.6 337.3h0M186.8 336.2h0" stroke="#5e8a44" stroke-width="1" stroke-linecap="square" opacity="0.55" fill="none"/>
<rect x="133.5" y="313" width="20" height="35.5" rx="8.5" ry="11" fill="#3c6818" filter="url(#bl1)"/>
<rect x="165" y="312.5" width="28.5" height="36" rx="11" ry="12" fill="#3c6818" filter="url(#bl1)"/>
<path d="M145.8 334.4h0M133.5 323.0h0M140.1 316.1h0M140.4 327.1h0M134.3 318.4h0M150.9 324.8h0M144.6 316.2h0M146.2 335.8h0M152.6 321.1h0M145.4 335.5h0M140.7 346.0h0M145.6 348.5h0M138.2 339.0h0M145.3 338.4h0M136.0 326.9h0M136.9 344.5h0M143.0 318.3h0M134.7 332.4h0M150.8 339.5h0M150.1 341.6h0M136.1 331.4h0M144.0 324.2h0M141.3 315.4h0M151.0 321.4h0M137.0 341.7h0M136.1 339.0h0M137.8 345.4h0M147.8 320.6h0M152.6 329.8h0M144.1 324.5h0M148.0 338.4h0M145.8 321.1h0M139.0 346.2h0M147.7 338.6h0M142.3 347.0h0M150.1 322.4h0M150.2 336.5h0M149.2 339.1h0M147.7 335.4h0M142.6 335.3h0M147.9 334.6h0M151.5 338.2h0M146.8 335.2h0M138.9 314.3h0M148.4 336.8h0M137.1 318.5h0M142.2 324.2h0M147.8 343.1h0M144.3 314.0h0M136.7 345.2h0M135.7 342.6h0M136.6 318.2h0M145.7 325.2h0M142.3 348.3h0M148.3 321.2h0M143.4 316.7h0M136.5 336.2h0M146.7 339.9h0M151.6 332.0h0M149.6 342.0h0M143.8 340.5h0M144.5 343.7h0M147.0 333.7h0M148.7 313.6h0M152.9 337.9h0M142.2 327.2h0M137.2 329.0h0M137.7 335.8h0M137.9 341.4h0M147.8 328.7h0M143.6 327.2h0M134.9 327.3h0M145.6 319.7h0M151.5 319.7h0M135.0 342.2h0M148.6 324.1h0M150.4 324.7h0M140.7 336.1h0M140.1 346.3h0M138.5 319.3h0M141.0 323.6h0M149.2 346.2h0M152.2 323.5h0M148.8 338.7h0M146.2 347.8h0M140.8 317.4h0M135.9 335.8h0M140.4 345.4h0M142.8 315.2h0M140.2 316.6h0M147.6 332.7h0M146.1 345.8h0M152.0 345.5h0M148.6 341.0h0M151.1 329.0h0M150.2 316.3h0M136.1 321.1h0M140.6 336.0h0M147.3 319.0h0M150.3 323.4h0M147.9 329.1h0M143.9 342.4h0M150.5 321.2h0M152.0 327.4h0M144.6 336.8h0M139.4 317.1h0M152.7 324.0h0M144.2 319.3h0M137.9 319.8h0M141.8 340.5h0M146.7 346.6h0M141.7 318.3h0M147.8 343.8h0M134.6 332.5h0M152.1 331.4h0M148.9 331.3h0M148.4 337.7h0M143.2 340.6h0M153.9 318.0h0M148.3 339.9h0M134.8 338.5h0M134.5 322.8h0M141.8 326.0h0M146.0 331.5h0M149.3 316.2h0M147.4 332.3h0M146.5 315.5h0M146.9 343.6h0M145.9 338.4h0M153.8 337.5h0M147.0 343.0h0M150.8 337.1h0M144.1 339.7h0M142.1 330.3h0M150.1 339.9h0M148.4 338.5h0M146.4 323.3h0M138.0 329.0h0M139.2 339.9h0M147.0 335.7h0M145.5 315.0h0M141.5 319.3h0M141.4 337.6h0M150.5 325.7h0M146.4 328.3h0M148.7 335.3h0M133.7 324.1h0M144.8 326.3h0M138.4 329.0h0M145.1 331.4h0M135.7 323.9h0M141.9 315.2h0M137.3 340.5h0M150.0 317.3h0M152.3 327.2h0M133.9 333.5h0M147.7 338.1h0M136.3 323.7h0M136.8 325.0h0M142.1 324.8h0M147.4 325.0h0M149.0 327.4h0M137.3 345.8h0M152.5 332.5h0M141.5 337.4h0M139.0 334.6h0M145.7 324.4h0M139.4 316.1h0M147.6 319.2h0M149.6 328.8h0M148.2 315.6h0M151.1 327.0h0M149.7 346.0h0M151.6 338.6h0M144.0 322.1h0M140.6 328.9h0M141.5 315.8h0M143.1 341.7h0M149.9 323.2h0M145.1 315.4h0M150.4 330.0h0M148.2 318.1h0M136.4 328.2h0M145.0 323.5h0M146.4 336.3h0M146.0 313.9h0M140.6 333.6h0M149.0 320.7h0M142.8 333.3h0M147.7 337.7h0M145.8 339.3h0M147.7 322.0h0M135.5 344.4h0M144.3 313.2h0M144.5 340.0h0M144.4 344.0h0M150.7 323.9h0M150.1 329.9h0M143.8 338.0h0M141.0 316.3h0M152.0 334.9h0M149.8 328.7h0M138.0 317.1h0M140.2 341.5h0M140.0 331.3h0M144.1 323.4h0M140.4 345.1h0M139.2 339.1h0M134.4 333.0h0M147.2 337.9h0M141.1 321.7h0M150.6 331.3h0M141.6 337.2h0M137.4 346.5h0M151.4 332.9h0M144.2 325.2h0M147.6 331.5h0M149.3 318.4h0M135.3 340.4h0M137.0 315.9h0M136.8 333.8h0M149.7 319.5h0M150.9 319.6h0M136.2 325.0h0M139.5 324.3h0M142.0 341.8h0M138.2 321.1h0M138.5 346.1h0M136.0 327.0h0M152.8 328.0h0M137.4 336.1h0M139.9 335.6h0M137.6 342.0h0M146.2 325.9h0M146.9 330.2h0M147.0 314.7h0M149.1 316.9h0M148.1 330.8h0M144.8 349.0h0M150.6 318.7h0M138.8 345.0h0M148.9 331.0h0M148.2 347.1h0M134.7 332.2h0M142.4 321.4h0M146.7 333.5h0M144.7 340.4h0M140.7 337.8h0M142.9 340.2h0M142.5 337.0h0M137.8 331.0h0M142.3 320.2h0M147.2 313.5h0M135.6 321.8h0M150.5 334.7h0M145.5 341.8h0M143.3 322.8h0M149.4 333.6h0M142.0 316.5h0M143.8 335.4h0M134.3 336.9h0M139.9 328.4h0M139.2 336.2h0M149.0 317.9h0M140.6 345.9h0M137.7 333.3h0M137.6 327.0h0M140.0 347.9h0M140.8 338.5h0M153.0 336.4h0M140.0 337.2h0M135.9 325.4h0M143.8 343.3h0M148.6 328.5h0M140.6 335.1h0M151.0 321.9h0M140.2 331.4h0M132.6 339.7h0M141.9 343.9h0M148.1 321.6h0M134.5 319.7h0M142.7 336.4h0M147.0 340.6h0M154.5 322.5h0M154.0 333.3h0M148.2 336.5h0M149.6 340.8h0M139.2 336.1h0M148.7 341.9h0M138.1 330.0h0M151.4 332.4h0M148.9 321.0h0M140.4 328.8h0M137.5 342.3h0M142.7 326.8h0M139.5 341.6h0M139.7 314.2h0M140.1 332.5h0M141.0 324.7h0M146.0 345.3h0M150.1 318.7h0M139.5 329.6h0M139.0 333.8h0M133.5 332.6h0M142.4 331.1h0M143.0 340.6h0M140.3 342.5h0M139.4 336.2h0M152.2 332.9h0M144.1 344.8h0M135.8 320.3h0M139.2 341.2h0M140.1 326.1h0M150.3 325.0h0M146.1 326.1h0M135.1 336.2h0M136.5 337.2h0M143.1 326.6h0M144.0 328.7h0M141.9 326.4h0M134.2 323.3h0M139.2 337.2h0M139.5 314.0h0M136.9 329.3h0M143.0 335.7h0M147.0 336.0h0M144.9 337.7h0M140.4 325.7h0M136.3 327.9h0M146.0 314.3h0M133.6 320.9h0M144.0 344.5h0M141.4 317.7h0M150.4 346.0h0M151.3 335.2h0M150.5 342.9h0M136.7 326.9h0M139.7 332.2h0M146.9 343.1h0M141.1 334.1h0M134.3 319.9h0M146.9 315.1h0M146.3 330.3h0M146.0 328.0h0M148.5 335.9h0M138.4 333.3h0M150.8 325.9h0M144.0 317.6h0M147.0 317.4h0M144.6 324.2h0M145.0 342.3h0M141.0 320.7h0M148.8 336.0h0M137.2 325.6h0M133.9 330.4h0M148.1 340.8h0M153.1 335.8h0M140.8 314.1h0M147.9 346.5h0M143.7 342.9h0M144.8 335.9h0M144.9 340.7h0M149.8 330.7h0M149.7 328.6h0M153.4 327.9h0M145.3 336.6h0M145.7 321.0h0M139.3 326.4h0M137.7 321.6h0M145.7 348.7h0M135.0 324.1h0M134.4 336.8h0M147.1 327.1h0M144.2 347.6h0M149.2 338.8h0M137.9 347.1h0M152.1 319.3h0M142.3 315.1h0M138.6 322.4h0M148.9 317.7h0M149.2 316.1h0M137.0 321.1h0M153.1 337.0h0M137.4 313.5h0M144.3 330.7h0M139.2 338.9h0M143.1 327.5h0M145.2 317.1h0M146.1 319.7h0M148.1 347.7h0M146.2 322.2h0M136.0 329.4h0M147.1 340.7h0M146.3 326.9h0M135.2 323.3h0M143.3 325.4h0M135.5 321.8h0M146.1 315.7h0M151.0 327.9h0M134.9 345.8h0M140.8 324.8h0M137.1 340.8h0M148.3 329.9h0M151.4 336.6h0M136.4 325.4h0M138.7 344.3h0M150.1 327.0h0M137.7 333.2h0M144.9 334.4h0M141.0 344.6h0M137.0 318.5h0M143.7 318.6h0M154.3 327.6h0M141.3 343.5h0M135.6 325.3h0M141.0 315.0h0M151.9 340.8h0M144.1 316.6h0M134.2 331.3h0M143.4 321.5h0M143.3 332.2h0M145.3 323.2h0M142.5 328.1h0M145.8 342.9h0M150.7 320.5h0M144.2 332.8h0M141.0 330.0h0M138.2 328.6h0M140.1 342.3h0M152.0 338.6h0M145.0 349.0h0M146.6 348.8h0M137.9 333.6h0M141.3 325.2h0M146.8 329.4h0M139.5 314.3h0M141.0 326.3h0M147.7 321.5h0M138.1 335.3h0M151.1 342.4h0M151.4 322.6h0M153.3 339.2h0M137.7 324.0h0M139.0 332.5h0M149.0 318.8h0M136.9 331.5h0M138.4 313.2h0M143.9 333.1h0M137.0 321.1h0M139.6 324.4h0M151.3 324.1h0M148.0 318.9h0M133.8 318.7h0M149.6 346.0h0M146.5 345.7h0M150.8 335.6h0M151.3 337.6h0M145.4 346.9h0M137.9 342.4h0M143.9 326.9h0M145.8 341.5h0M152.7 334.5h0M137.9 338.5h0M145.6 315.0h0M139.2 338.3h0M150.1 320.7h0M140.0 319.0h0M145.0 343.1h0M152.3 333.1h0M140.7 322.1h0M141.8 325.6h0M138.2 329.0h0M146.9 322.0h0M141.0 332.5h0M141.5 339.0h0M146.7 319.7h0M150.5 320.3h0M149.8 339.3h0M144.4 343.4h0M133.6 337.1h0M145.6 336.9h0M151.8 332.0h0M151.9 324.9h0M149.9 347.4h0M141.2 338.4h0M148.2 328.2h0M134.5 322.8h0M140.9 315.7h0M145.6 320.8h0M142.8 329.4h0M136.2 329.2h0M139.2 327.1h0M150.0 338.6h0M149.0 328.3h0M136.0 341.6h0M147.6 346.0h0M134.1 323.2h0M149.8 335.7h0M137.3 341.6h0" stroke="#3c6818" stroke-width="1" stroke-linecap="square" opacity="0.8" fill="none"/>
<path d="M180.5 341.8h0M188.3 327.7h0M193.3 334.2h0M182.5 342.3h0M187.0 337.4h0M169.9 327.9h0M175.8 331.3h0M185.0 327.6h0M187.1 315.2h0M173.7 316.8h0M173.8 339.5h0M185.5 324.8h0M181.5 348.5h0M191.8 325.0h0M165.6 330.4h0M191.2 334.4h0M192.1 327.5h0M167.7 343.9h0M172.7 318.2h0M169.8 333.6h0M179.1 327.9h0M175.6 348.3h0M171.5 327.6h0M181.8 337.5h0M181.1 342.0h0M189.6 338.8h0M184.0 340.9h0M178.5 341.6h0M186.2 332.0h0M179.8 315.4h0M191.9 331.7h0M169.7 324.7h0M182.2 317.8h0M166.3 339.8h0M178.6 338.8h0M188.9 331.6h0M186.4 315.1h0M163.9 324.5h0M187.1 318.9h0M168.8 334.5h0M184.0 326.2h0M172.5 316.6h0M181.0 336.3h0M176.1 336.1h0M177.6 331.7h0M182.3 313.7h0M191.1 342.0h0M192.7 327.3h0M185.7 323.9h0M181.6 333.5h0M165.5 334.6h0M189.1 338.3h0M191.5 330.3h0M176.4 334.2h0M171.5 317.7h0M173.6 339.3h0M174.6 346.1h0M183.8 341.5h0M184.1 327.8h0M185.5 349.6h0M183.6 325.1h0M171.3 341.5h0M185.6 329.7h0M169.6 328.3h0M170.7 328.9h0M190.2 341.4h0M184.5 327.7h0M174.4 345.8h0M180.9 323.1h0M189.6 315.1h0M183.8 324.8h0M189.0 316.1h0M177.7 324.3h0M178.3 325.4h0M175.6 322.5h0M168.9 344.2h0M180.0 320.0h0M182.1 318.3h0M183.7 342.9h0M191.2 323.9h0M183.3 332.9h0M178.7 331.1h0M172.6 345.6h0M176.5 326.6h0M178.8 336.4h0M165.7 322.8h0M174.6 322.3h0M175.5 331.8h0M171.1 322.1h0M170.2 316.7h0M176.8 340.9h0M180.5 323.3h0M167.9 338.1h0M193.4 333.5h0M176.6 330.5h0M163.8 336.8h0M181.5 323.9h0M183.6 321.3h0M170.5 341.3h0M172.2 325.4h0M168.2 327.3h0M169.4 327.0h0M182.2 317.7h0M193.0 317.8h0M172.8 322.6h0M190.1 333.0h0M188.9 327.2h0M177.9 324.2h0M170.1 330.6h0M190.5 322.6h0M173.5 321.2h0M167.9 341.0h0M177.9 329.0h0M170.3 324.4h0M182.0 322.6h0M181.9 323.2h0M169.6 326.6h0M188.5 341.0h0M180.8 339.9h0M169.4 325.2h0M187.9 327.4h0M172.4 317.7h0M171.8 334.3h0M169.6 335.9h0M179.9 338.5h0M182.7 329.2h0M182.1 321.1h0M176.0 321.9h0M188.7 326.0h0M168.1 343.8h0M174.6 329.9h0M187.3 327.5h0M166.5 326.9h0M175.9 341.6h0M173.1 328.9h0M169.1 329.1h0M184.8 325.7h0M173.1 336.3h0M179.7 338.1h0M180.0 348.1h0M168.7 329.4h0M190.1 326.3h0M174.1 327.5h0M166.7 324.9h0M165.5 321.8h0M165.3 321.1h0M178.5 343.4h0M168.0 323.5h0M193.0 328.4h0M185.0 340.6h0M183.0 346.7h0M179.5 324.5h0M167.9 339.6h0M191.1 319.1h0M183.1 334.7h0M188.7 332.3h0M176.9 331.2h0M174.0 340.3h0M185.7 339.0h0M167.2 339.2h0M190.1 337.9h0M168.8 342.1h0M182.1 338.8h0M173.7 334.9h0M187.1 315.6h0M170.9 342.8h0M177.7 335.1h0M182.1 346.1h0M186.3 331.8h0M171.8 332.1h0M180.1 336.8h0M168.9 331.9h0M188.0 345.4h0M190.9 343.4h0M170.1 330.9h0M189.0 335.1h0M178.6 344.4h0M179.8 339.0h0M178.9 333.7h0M173.9 321.9h0M175.6 331.7h0M182.9 339.5h0M179.4 319.6h0M190.5 316.1h0M177.1 328.7h0M172.1 329.3h0M181.7 347.6h0M179.8 340.5h0M178.6 317.3h0M187.4 324.8h0M185.2 321.3h0M179.8 338.5h0M168.8 318.5h0M193.3 328.7h0M174.6 334.7h0M173.3 323.9h0M179.7 345.6h0M175.5 342.4h0M168.4 342.0h0M175.7 315.1h0M174.4 335.1h0M169.8 317.7h0M165.3 336.2h0M179.5 321.1h0M192.8 328.9h0M193.4 335.2h0M181.9 336.4h0M183.5 336.9h0M183.6 325.9h0M189.4 319.8h0M193.3 338.6h0M183.5 314.9h0M178.8 344.3h0M189.0 323.0h0M172.5 346.2h0M188.6 334.5h0M186.4 337.6h0M183.8 345.6h0M188.5 319.1h0M179.0 337.0h0M186.2 342.8h0M191.0 324.5h0M174.9 323.5h0M189.6 321.9h0M172.4 321.8h0M185.7 338.8h0M186.8 332.3h0M185.0 327.0h0M166.4 318.9h0M177.8 317.8h0M173.4 330.8h0M192.3 332.8h0M188.9 324.4h0M189.4 323.5h0M170.9 338.8h0M173.5 347.0h0M169.2 327.7h0M172.1 318.1h0M191.3 331.4h0M185.6 332.6h0M184.8 320.0h0M175.1 339.2h0M188.3 328.3h0M170.2 331.2h0M170.1 315.4h0M164.6 324.0h0M173.3 345.2h0M171.4 348.5h0M166.1 327.1h0M192.6 320.1h0M172.8 341.8h0M173.9 334.4h0M186.8 330.2h0M185.1 343.1h0M168.4 327.6h0M174.6 344.2h0M180.0 334.7h0M180.6 324.5h0M168.9 334.3h0M167.5 333.0h0M169.2 345.1h0M175.3 315.2h0M190.7 343.0h0M179.5 321.8h0M174.1 315.8h0M182.1 324.4h0M174.2 339.2h0M182.9 315.4h0M171.3 339.0h0M168.0 344.2h0M177.9 340.1h0M172.9 333.0h0M178.0 339.3h0M172.9 338.9h0M189.6 333.0h0M164.6 336.1h0M180.9 327.1h0M181.2 336.4h0M170.2 314.7h0M171.3 346.7h0M182.3 316.5h0M166.8 329.2h0M188.2 344.2h0M172.7 314.8h0M165.3 322.3h0M179.0 347.0h0M189.5 344.7h0M181.2 328.5h0M173.5 339.2h0M185.4 340.8h0M181.2 341.5h0M187.8 340.0h0M184.8 330.0h0M178.0 325.5h0M187.0 328.3h0M171.4 316.4h0M176.1 327.4h0M181.1 321.2h0M172.3 333.7h0M179.8 326.7h0M190.2 333.9h0M187.2 331.7h0M184.7 333.1h0M176.3 314.9h0M188.6 331.6h0M179.5 344.3h0M186.4 325.7h0M169.7 321.9h0M187.4 341.3h0M168.6 318.5h0M177.5 341.5h0M179.6 331.6h0M173.5 320.9h0M188.8 327.5h0M175.1 332.8h0M170.1 330.1h0M166.6 324.4h0M176.4 330.1h0M190.6 319.8h0M183.2 342.0h0M176.1 321.1h0M193.6 323.6h0M179.7 330.8h0M178.8 337.6h0M176.0 344.0h0M171.2 337.8h0M177.8 317.0h0M167.2 344.2h0M172.1 326.3h0M178.0 340.9h0M185.9 329.8h0M173.5 337.0h0M175.6 344.5h0M173.6 323.9h0M179.6 327.0h0M189.5 345.0h0M169.8 344.2h0M185.7 338.7h0M194.7 328.7h0M178.8 342.9h0M189.2 323.5h0M188.5 321.7h0M165.5 327.5h0M174.5 339.6h0M175.6 326.2h0M177.0 332.4h0M189.9 337.2h0M175.9 324.1h0M183.0 322.6h0M177.8 316.6h0M167.9 338.2h0M183.6 332.4h0M167.4 322.7h0M188.1 329.4h0M183.8 346.0h0M184.0 318.4h0M189.9 336.9h0M193.2 325.7h0M170.8 325.1h0M182.9 346.9h0M177.5 346.5h0M180.5 314.4h0M172.6 313.0h0M191.0 316.3h0M178.9 343.6h0M185.0 333.5h0M192.6 327.5h0M172.2 341.6h0M179.2 322.2h0M176.9 317.5h0M169.9 337.4h0M174.9 347.0h0M175.4 345.9h0M164.9 339.7h0M171.3 315.6h0M180.0 344.2h0M183.1 337.2h0M174.8 320.8h0M181.7 330.5h0M174.5 333.4h0M166.5 339.2h0M175.5 337.8h0M167.1 336.0h0M180.3 329.9h0M189.2 347.2h0M173.5 323.5h0M182.5 343.3h0M167.6 320.9h0M189.1 330.2h0M172.9 321.1h0M168.0 321.3h0M172.3 325.9h0M193.0 334.6h0M184.3 323.0h0M173.4 341.1h0M166.3 331.8h0M183.3 334.4h0M188.0 331.3h0M174.0 332.3h0M188.9 338.0h0M182.4 328.1h0M169.6 328.4h0M191.5 318.4h0M179.0 345.8h0M178.1 341.3h0M185.9 343.0h0M178.6 320.7h0M187.1 339.7h0M185.4 323.7h0M169.5 323.6h0M172.7 329.4h0M180.0 346.2h0M186.8 316.4h0M188.3 338.0h0M169.6 316.2h0M184.4 342.1h0M174.3 336.8h0M180.0 323.8h0M190.4 343.1h0M187.3 344.5h0M167.7 333.1h0M183.9 314.4h0M166.9 320.4h0M183.6 332.1h0M179.6 344.3h0M190.6 332.5h0M186.5 332.1h0M170.0 337.5h0M168.4 336.6h0M186.3 333.4h0M165.4 341.0h0M169.6 334.2h0M176.8 341.1h0M188.6 343.5h0M169.7 346.7h0M184.0 335.3h0M188.8 317.9h0M190.6 344.5h0M178.1 347.2h0M176.6 323.3h0M176.6 318.5h0M179.8 319.1h0M178.6 320.4h0M177.7 340.1h0M174.9 318.8h0M172.7 338.9h0M187.1 345.8h0M175.6 325.7h0M170.4 345.4h0M184.6 326.9h0M183.7 342.3h0M182.1 314.8h0M186.3 322.2h0M183.9 334.6h0M177.7 338.7h0M187.2 338.3h0M186.0 346.6h0M177.1 342.4h0M180.4 336.2h0M176.5 349.9h0M168.5 316.3h0M182.6 320.6h0M174.0 334.1h0M188.0 321.0h0M182.7 319.7h0M178.9 347.1h0M184.0 336.7h0M175.8 337.5h0M182.1 319.1h0M184.8 329.7h0M175.6 327.7h0M180.7 318.1h0M191.1 339.1h0M179.0 338.2h0M182.0 346.2h0M168.0 327.8h0M183.5 336.7h0M187.0 318.2h0M183.0 345.5h0M190.9 322.2h0M173.7 317.1h0M176.1 343.0h0M170.9 322.4h0M176.0 322.8h0M188.3 344.4h0M174.8 337.2h0M166.8 324.9h0M175.4 323.3h0M173.2 315.7h0M189.6 317.5h0M167.4 342.2h0M191.2 328.5h0M183.3 321.2h0M177.2 325.2h0M176.7 330.6h0M178.1 343.2h0M191.4 331.9h0M171.7 315.3h0" stroke="#3c6818" stroke-width="1" stroke-linecap="square" opacity="0.8" fill="none"/>
<defs><filter id="bl2" x="-20%" y="-20%" width="140%" height="140%"><feGaussianBlur stdDeviation="0.7"/></filter></defs>
<path d="M155.2 295.7h0M139.6 290.5h0M157.6 293.2h0M145.0 292.0h0M155.8 299.9h0M154.2 306.4h0M148.2 304.5h0M143.2 291.5h0M139.9 298.4h0M147.4 288.3h0M147.7 285.3h0M158.5 294.6h0M145.1 298.8h0M149.0 293.5h0M161.0 300.6h0M148.8 300.6h0M150.0 300.0h0M160.3 292.8h0M146.7 283.2h0M149.5 308.3h0M152.7 290.2h0M144.8 299.8h0M135.8 297.9h0M132.7 291.3h0M144.0 308.5h0M156.0 299.4h0M154.8 293.9h0M160.5 290.7h0M154.0 286.3h0M140.0 284.0h0M132.8 298.6h0M141.2 290.5h0M143.5 290.4h0M139.2 298.0h0M154.2 291.3h0M138.7 299.2h0M151.1 288.9h0M152.9 289.9h0M130.2 301.3h0M142.1 288.6h0M157.2 298.9h0M153.5 298.0h0M147.0 294.1h0M135.9 280.9h0M139.5 283.6h0M146.6 285.4h0M157.2 283.8h0M150.3 300.8h0M145.1 287.1h0M148.0 284.2h0M152.9 290.0h0M130.1 293.2h0M136.9 280.8h0M146.1 298.8h0M156.7 299.7h0M155.6 289.3h0M138.8 300.4h0M146.1 281.7h0M139.2 289.6h0M142.3 292.7h0M147.1 294.6h0M142.6 303.1h0M140.8 291.4h0M135.4 286.0h0M131.6 295.7h0M144.1 295.2h0M147.6 297.5h0M151.4 291.4h0M138.5 295.4h0M139.3 289.5h0M157.2 298.4h0M149.6 288.8h0M153.8 289.1h0M140.7 303.2h0M139.4 288.0h0M135.5 294.0h0M154.7 298.5h0M135.6 291.5h0M130.3 301.1h0M139.1 289.4h0M157.2 302.0h0M146.1 281.7h0M147.9 283.3h0M146.9 294.5h0M145.4 305.2h0M144.3 306.7h0M133.2 287.2h0M160.8 293.8h0M144.5 290.1h0M156.7 277.1h0M131.8 299.7h0M150.7 291.0h0M135.2 304.8h0M134.2 296.2h0M148.2 289.8h0M155.1 288.5h0M158.1 292.5h0M157.8 297.6h0M143.4 290.1h0M140.4 295.6h0M141.0 285.0h0M148.0 294.6h0M144.8 303.0h0M153.4 297.4h0M129.4 291.4h0M156.0 288.8h0M140.6 287.8h0M159.1 284.7h0M156.1 289.9h0M135.5 296.0h0M145.4 289.5h0M151.9 306.8h0M138.7 297.0h0M139.2 290.5h0M143.1 293.7h0M152.5 305.5h0M154.0 280.6h0M142.1 295.8h0M159.1 301.9h0M154.1 286.9h0M139.3 295.0h0M138.3 292.1h0M153.2 288.7h0M149.7 291.8h0M142.4 291.4h0M137.5 282.8h0M144.5 292.1h0M162.6 298.0h0M135.6 290.6h0M142.9 297.9h0M140.1 299.9h0M162.4 299.5h0M157.0 280.6h0M141.5 305.9h0M128.6 300.7h0M156.2 300.3h0M147.1 294.1h0M135.8 294.0h0M132.5 289.7h0M149.5 297.3h0M144.1 301.3h0M147.2 289.5h0M149.5 300.4h0M142.6 290.3h0M143.5 298.7h0M151.8 292.8h0M144.9 300.8h0M143.4 309.2h0M151.6 295.8h0M128.2 290.1h0M157.0 290.6h0M149.9 298.9h0M139.1 290.1h0M144.4 301.7h0M156.9 296.3h0M150.9 301.1h0M130.0 289.6h0M136.9 286.5h0M147.6 288.1h0M161.9 297.1h0M152.8 287.8h0M144.2 299.5h0M151.1 277.8h0M146.1 288.8h0M143.3 292.7h0M149.4 279.6h0M126.9 289.2h0M155.0 282.2h0M150.8 293.5h0M142.1 292.1h0M138.3 299.9h0M135.2 287.4h0M148.4 281.2h0M147.3 289.7h0M147.6 295.0h0M161.3 294.8h0M126.3 295.3h0M139.6 303.6h0M139.1 291.2h0M154.5 292.4h0M143.8 287.4h0M137.6 289.4h0M147.9 302.3h0M149.6 296.9h0M148.3 303.5h0M142.1 278.3h0M141.5 290.8h0M138.7 301.7h0M150.4 295.1h0M153.3 298.4h0M144.0 300.9h0M144.8 296.4h0M158.3 284.1h0M146.9 297.0h0M150.5 288.5h0M140.6 291.7h0M126.9 298.4h0M133.8 295.0h0M149.3 294.1h0M157.1 307.8h0M143.6 296.2h0M135.4 301.3h0M146.8 296.6h0M156.2 307.0h0M144.5 291.2h0M154.2 303.4h0M145.4 308.4h0M135.0 291.1h0M137.9 302.3h0M143.7 283.4h0M166.4 296.6h0M151.2 299.9h0M143.9 287.5h0M148.6 280.0h0" stroke="#b0b0f4" stroke-width="1" stroke-linecap="square" opacity="0.5" fill="none"/>
<path d="M143.4 301.5h0M140.8 287.2h0M144.4 301.3h0M145.1 302.0h0M148.8 294.4h0M153.9 302.2h0M146.1 301.4h0M132.6 289.3h0M147.8 303.0h0M144.1 310.3h0M154.1 293.3h0M145.0 292.1h0M140.7 300.3h0M146.3 301.6h0M132.1 292.0h0M149.8 295.6h0M143.6 308.0h0M154.8 301.4h0M147.9 306.1h0M145.8 299.8h0M144.5 306.1h0M135.0 296.8h0M142.6 296.9h0M145.2 294.3h0M150.0 288.6h0M146.2 297.6h0M148.0 291.9h0M147.9 297.2h0M139.6 300.8h0M145.3 301.0h0M141.7 302.3h0M134.6 297.6h0M132.8 299.6h0M148.9 306.8h0M153.1 299.0h0M153.0 300.1h0M137.4 285.4h0M153.6 293.4h0M154.0 306.5h0M138.0 294.8h0M146.6 293.5h0M155.0 305.7h0M143.9 292.6h0M151.4 305.8h0M139.0 299.3h0M140.9 296.2h0M149.3 287.7h0M142.1 307.8h0M144.1 289.1h0M143.9 292.6h0M136.2 304.6h0M153.6 292.5h0M142.3 302.9h0M141.0 299.7h0M140.2 298.3h0M143.7 293.6h0M136.9 295.9h0M149.2 301.5h0M140.9 294.0h0M148.7 303.6h0M137.2 301.3h0M136.2 303.1h0M136.9 301.3h0M144.8 303.2h0M134.2 302.1h0M149.1 304.8h0M141.0 302.1h0M149.4 301.8h0M140.6 294.4h0M148.8 289.6h0M136.2 300.2h0M135.7 305.6h0M147.3 294.3h0M139.4 290.4h0M150.5 296.6h0M138.4 302.0h0M146.7 305.0h0M137.6 297.9h0M131.2 292.8h0M153.1 299.5h0M141.8 303.9h0M149.9 299.5h0M144.4 305.9h0M131.4 296.9h0M145.9 305.1h0M150.7 309.6h0M152.1 293.9h0M154.5 294.7h0M145.9 303.7h0M143.7 302.9h0M135.2 299.7h0M148.3 307.7h0M148.2 299.2h0M145.6 290.2h0M137.8 294.2h0M147.6 307.9h0M139.4 289.8h0M151.8 291.4h0M139.0 304.8h0M139.5 300.8h0M141.0 307.1h0M136.1 293.5h0M137.0 295.5h0M141.2 297.8h0M126.2 292.5h0M157.0 298.5h0M145.7 298.8h0M145.2 305.0h0M137.1 299.4h0M144.5 297.5h0M143.1 302.8h0M143.8 306.5h0M132.9 306.1h0M142.3 301.5h0M130.1 297.6h0M141.8 297.0h0M137.0 292.1h0M138.9 300.3h0M140.9 299.7h0M148.9 309.7h0M151.6 301.2h0M143.3 304.3h0M135.7 307.7h0M153.4 288.7h0M133.4 296.0h0M139.3 298.5h0M141.6 300.6h0M138.0 293.1h0M152.3 305.0h0M145.9 305.3h0M150.5 302.9h0M141.0 303.9h0M149.1 293.3h0M142.0 306.7h0M142.1 296.2h0M145.1 288.6h0M145.8 300.6h0M147.0 302.4h0M141.6 295.8h0M132.7 290.0h0M140.9 293.0h0M124.5 299.0h0M141.1 284.7h0M137.4 306.0h0M148.7 305.9h0M124.2 298.8h0M156.9 306.2h0M140.6 298.9h0M132.0 293.1h0M146.0 303.7h0M146.4 303.2h0M146.0 294.3h0M158.1 291.4h0M137.3 294.0h0M145.1 306.9h0M144.1 298.0h0M145.0 295.9h0M151.7 303.5h0M137.1 301.8h0M146.1 298.5h0M150.0 304.9h0M147.5 294.7h0M131.9 299.5h0M145.0 292.8h0M140.3 286.8h0M151.5 300.3h0M142.1 293.0h0M156.6 292.1h0M134.5 303.3h0M146.5 298.9h0M136.9 302.2h0M155.3 310.2h0M153.9 300.9h0M136.6 302.6h0M148.2 292.7h0M142.7 304.9h0M131.7 305.0h0M135.8 293.6h0M143.7 303.8h0M146.6 301.8h0M140.4 298.6h0M145.1 300.4h0M145.0 296.0h0M134.8 297.9h0M144.0 300.5h0M146.7 298.8h0M132.7 289.0h0M153.7 303.8h0M153.1 305.4h0M144.1 310.3h0M157.5 296.5h0M137.4 292.3h0M136.5 303.8h0M138.7 293.7h0M138.0 299.9h0M155.8 297.5h0M143.4 301.0h0M142.6 297.2h0M145.5 304.1h0M154.1 294.4h0M140.4 304.6h0M144.9 296.1h0M151.8 294.1h0M141.6 298.8h0M152.8 297.1h0M145.1 294.9h0M141.8 308.3h0M146.4 305.7h0M156.7 293.4h0M141.3 303.3h0M152.6 300.0h0M146.9 304.5h0M144.1 295.9h0M148.7 300.4h0M145.6 297.1h0M147.6 308.0h0M137.1 299.3h0M138.5 309.9h0M136.1 298.8h0M140.6 293.5h0M141.6 293.5h0M140.5 296.1h0M146.7 303.6h0M136.5 302.2h0M141.4 300.6h0M149.0 306.3h0M154.7 309.8h0M143.4 293.9h0M151.3 306.0h0M136.0 296.2h0M144.7 296.5h0M135.8 302.4h0M140.4 301.3h0M145.9 296.7h0M134.3 299.5h0M146.7 309.6h0M142.1 305.4h0M141.4 295.1h0M146.7 289.7h0M137.4 293.3h0M131.3 301.0h0M143.2 295.2h0M138.1 294.9h0M141.7 304.3h0M135.4 298.3h0M136.6 297.7h0M135.9 301.2h0M134.2 308.7h0M137.4 301.8h0M137.6 304.1h0M143.2 300.5h0M164.8 309.3h0M138.7 292.6h0M132.0 293.2h0M147.0 296.9h0M136.8 309.2h0M140.6 293.4h0M143.2 297.2h0M143.4 303.3h0M144.6 300.4h0M142.1 305.3h0M150.6 297.0h0M148.7 290.0h0M139.2 303.7h0M141.5 307.5h0M133.6 290.8h0M147.5 288.7h0M141.5 297.3h0M156.0 288.8h0M138.3 302.6h0M153.3 293.0h0M136.6 304.4h0M131.4 297.9h0M137.0 300.8h0M145.3 304.0h0M149.9 298.8h0M136.9 293.9h0M149.5 305.5h0M139.3 291.2h0M139.4 308.4h0M140.8 296.3h0M154.2 296.8h0M144.1 302.4h0M145.0 302.5h0M132.5 303.0h0M144.0 291.2h0M144.8 294.7h0M154.1 302.1h0M136.9 302.2h0M138.0 299.4h0M136.6 307.8h0M138.4 298.9h0M147.5 305.6h0M137.4 306.5h0M151.6 302.1h0M143.1 298.9h0M136.6 304.4h0M138.4 302.7h0M133.5 303.7h0M132.9 294.8h0M150.7 302.8h0M148.9 309.6h0M136.1 298.3h0M139.8 300.9h0M153.8 298.6h0M137.9 305.3h0M144.3 287.7h0M146.3 309.6h0M141.5 303.1h0M141.5 298.7h0M140.5 301.7h0M143.6 306.8h0M132.1 302.3h0M143.1 304.1h0M144.0 307.2h0M133.7 301.1h0M145.9 304.5h0M136.4 308.9h0M124.8 303.4h0M129.5 296.4h0M143.4 304.7h0M139.8 298.2h0M132.8 302.8h0M141.6 302.6h0M149.0 305.4h0M142.4 297.6h0M132.7 300.0h0M141.4 304.2h0M141.5 296.4h0M143.2 304.8h0M146.6 300.5h0M142.0 309.3h0M136.1 290.5h0M142.0 300.7h0M143.6 306.0h0M150.8 292.5h0M134.3 295.7h0M141.8 302.9h0M136.7 300.3h0M144.6 298.3h0M139.0 301.9h0M121.6 291.8h0M149.2 295.1h0M138.2 310.4h0M135.2 296.3h0M132.4 302.7h0M135.4 299.8h0M133.8 305.2h0M141.7 302.1h0M143.7 302.5h0M142.2 307.0h0M145.2 302.0h0M137.0 290.0h0M146.8 296.2h0M142.0 308.6h0M145.7 306.4h0M146.9 298.7h0M140.2 290.7h0M151.2 295.9h0M139.9 307.2h0M154.8 307.4h0M154.1 290.5h0M132.2 292.1h0M127.3 296.6h0M138.5 292.1h0M145.9 300.8h0M149.1 293.6h0M147.3 302.9h0M142.6 298.8h0M149.4 296.8h0M147.6 304.0h0M139.7 302.8h0M144.0 300.9h0M150.0 297.9h0M138.4 299.8h0M138.5 288.7h0M137.1 288.5h0M152.8 296.1h0M147.4 300.9h0M148.6 310.5h0M140.2 302.4h0M142.6 294.2h0M151.1 297.2h0M140.9 292.6h0M150.9 299.8h0M142.7 299.5h0M142.6 299.9h0M146.6 301.7h0M148.7 306.2h0M154.8 304.1h0M140.4 293.2h0M154.3 305.1h0M137.6 294.1h0M137.0 302.3h0M127.6 300.6h0M148.6 310.0h0M152.9 299.5h0M134.7 299.5h0M140.6 298.5h0M141.1 305.2h0M132.2 301.9h0M143.3 298.5h0M144.9 305.0h0M135.9 309.7h0M143.8 309.0h0M146.9 296.9h0M133.2 299.6h0M142.2 301.1h0M146.7 290.0h0M123.7 310.3h0M145.1 291.6h0M154.6 302.5h0M134.1 292.8h0M151.8 300.9h0M140.9 305.0h0M147.0 303.2h0M141.8 295.1h0M135.1 296.3h0M131.2 305.6h0M159.2 299.8h0M133.7 300.8h0M141.0 305.7h0M152.6 285.3h0M145.0 301.7h0M144.1 307.6h0M129.1 310.7h0M138.7 304.2h0M133.8 295.8h0M130.6 305.9h0M145.4 311.2h0M148.6 296.4h0M137.6 295.9h0M138.4 299.3h0M145.8 297.7h0M148.9 288.1h0M135.7 286.2h0M150.9 292.4h0M149.3 296.4h0M142.9 302.7h0M135.3 297.0h0M146.8 301.2h0M147.6 308.2h0M138.8 305.3h0M153.7 294.4h0M140.5 306.0h0M146.5 300.1h0M142.1 302.2h0M143.5 305.8h0M153.0 304.7h0M138.2 292.4h0M148.6 293.4h0M141.1 301.7h0M142.7 304.3h0M144.3 303.7h0M129.2 298.0h0M141.1 297.3h0M149.8 295.9h0M148.7 292.5h0M131.8 292.4h0M135.2 296.9h0M140.1 300.7h0M155.8 295.6h0M140.0 300.2h0M142.9 298.5h0M141.2 298.8h0M145.0 297.5h0M136.7 301.8h0M144.7 300.2h0M146.2 284.5h0M150.1 301.7h0M136.9 300.7h0M149.1 296.5h0M156.2 301.1h0M148.4 296.0h0M147.7 300.8h0M126.1 294.9h0M152.2 304.1h0M156.1 302.1h0M151.4 291.6h0M146.4 296.0h0M148.7 304.2h0M163.6 302.5h0M138.0 300.9h0M140.2 293.4h0M150.6 296.1h0" stroke="#3a20f0" stroke-width="1" stroke-linecap="square" opacity="0.7" fill="none"/>
<ellipse cx="142.7" cy="301" rx="11.3" ry="10" fill="#2a08ee" filter="url(#bl2)"/>
<defs><radialGradient id="pg"><stop offset="0" stop-color="#a000f0"/><stop offset="0.5" stop-color="#7a00f0"/><stop offset="1" stop-color="#2a08ee" stop-opacity="0"/></radialGradient></defs>
<ellipse cx="142.6" cy="300" rx="9" ry="8" fill="url(#pg)"/>
<rect x="111.5" y="266.5" width="100.0" height="86.69999999999999" fill="none" stroke="#808080" stroke-width="1"/>
<line x1="109.0" y1="353.2" x2="111.5" y2="353.2" stroke="#555" stroke-width="0.8"/>
<line x1="110.0" y1="347.39012108368513" x2="111.5" y2="347.39012108368513" stroke="#555" stroke-width="0.8"/>
<line x1="110.0" y1="343.9915597839105" x2="111.5" y2="343.9915597839105" stroke="#555" stroke-width="0.8"/>
<line x1="110.0" y1="341.58024216737033" x2="111.5" y2="341.58024216737033" stroke="#555" stroke-width="0.8"/>
<line x1="110.0" y1="339.70987891631484" x2="111.5" y2="339.70987891631484" stroke="#555" stroke-width="0.8"/>
<line x1="110.0" y1="338.1816808675957" x2="111.5" y2="338.1816808675957" stroke="#555" stroke-width="0.8"/>
<line x1="110.0" y1="336.88960782772483" x2="111.5" y2="336.88960782772483" stroke="#555" stroke-width="0.8"/>
<line x1="110.0" y1="335.77036325105547" x2="111.5" y2="335.77036325105547" stroke="#555" stroke-width="0.8"/>
<line x1="110.0" y1="334.783119567821" x2="111.5" y2="334.783119567821" stroke="#555" stroke-width="0.8"/>
<line x1="109.0" y1="333.9" x2="111.5" y2="333.9" stroke="#555" stroke-width="0.8"/>
<line x1="110.0" y1="328.0901210836852" x2="111.5" y2="328.0901210836852" stroke="#555" stroke-width="0.8"/>
<line x1="110.0" y1="324.6915597839105" x2="111.5" y2="324.6915597839105" stroke="#555" stroke-width="0.8"/>
<line x1="110.0" y1="322.2802421673703" x2="111.5" y2="322.2802421673703" stroke="#555" stroke-width="0.8"/>
<line x1="110.0" y1="320.4098789163148" x2="111.5" y2="320.4098789163148" stroke="#555" stroke-width="0.8"/>
<line x1="110.0" y1="318.8816808675957" x2="111.5" y2="318.8816808675957" stroke="#555" stroke-width="0.8"/>
<line x1="110.0" y1="317.5896078277249" x2="111.5" y2="317.5896078277249" stroke="#555" stroke-width="0.8"/>
<line x1="110.0" y1="316.4703632510555" x2="111.5" y2="316.4703632510555" stroke="#555" stroke-width="0.8"/>
<line x1="110.0" y1="315.48311956782106" x2="111.5" y2="315.48311956782106" stroke="#555" stroke-width="0.8"/>
<line x1="109.0" y1="314.6" x2="111.5" y2="314.6" stroke="#555" stroke-width="0.8"/>
<line x1="110.0" y1="308.79012108368516" x2="111.5" y2="308.79012108368516" stroke="#555" stroke-width="0.8"/>
<line x1="110.0" y1="305.3915597839105" x2="111.5" y2="305.3915597839105" stroke="#555" stroke-width="0.8"/>
<line x1="110.0" y1="302.98024216737036" x2="111.5" y2="302.98024216737036" stroke="#555" stroke-width="0.8"/>
<line x1="110.0" y1="301.10987891631487" x2="111.5" y2="301.10987891631487" stroke="#555" stroke-width="0.8"/>
<line x1="110.0" y1="299.5816808675957" x2="111.5" y2="299.5816808675957" stroke="#555" stroke-width="0.8"/>
<line x1="110.0" y1="298.28960782772486" x2="111.5" y2="298.28960782772486" stroke="#555" stroke-width="0.8"/>
<line x1="110.0" y1="297.1703632510555" x2="111.5" y2="297.1703632510555" stroke="#555" stroke-width="0.8"/>
<line x1="110.0" y1="296.18311956782105" x2="111.5" y2="296.18311956782105" stroke="#555" stroke-width="0.8"/>
<line x1="109.0" y1="295.3" x2="111.5" y2="295.3" stroke="#555" stroke-width="0.8"/>
<line x1="110.0" y1="289.49012108368515" x2="111.5" y2="289.49012108368515" stroke="#555" stroke-width="0.8"/>
<line x1="110.0" y1="286.0915597839105" x2="111.5" y2="286.0915597839105" stroke="#555" stroke-width="0.8"/>
<line x1="110.0" y1="283.68024216737035" x2="111.5" y2="283.68024216737035" stroke="#555" stroke-width="0.8"/>
<line x1="110.0" y1="281.80987891631486" x2="111.5" y2="281.80987891631486" stroke="#555" stroke-width="0.8"/>
<line x1="110.0" y1="280.2816808675957" x2="111.5" y2="280.2816808675957" stroke="#555" stroke-width="0.8"/>
<line x1="110.0" y1="278.98960782772485" x2="111.5" y2="278.98960782772485" stroke="#555" stroke-width="0.8"/>
<line x1="110.0" y1="277.8703632510555" x2="111.5" y2="277.8703632510555" stroke="#555" stroke-width="0.8"/>
<line x1="110.0" y1="276.88311956782104" x2="111.5" y2="276.88311956782104" stroke="#555" stroke-width="0.8"/>
<line x1="109.0" y1="276" x2="111.5" y2="276" stroke="#555" stroke-width="0.8"/>
<line x1="122.0" y1="353.2" x2="122.0" y2="355.7" stroke="#555" stroke-width="0.8"/>
<line x1="128.73554615298158" y1="353.2" x2="128.73554615298158" y2="354.7" stroke="#555" stroke-width="0.8"/>
<line x1="132.67558807435245" y1="353.2" x2="132.67558807435245" y2="354.7" stroke="#555" stroke-width="0.8"/>
<line x1="135.47109230596317" y1="353.2" x2="135.47109230596317" y2="354.7" stroke="#555" stroke-width="0.8"/>
<line x1="137.63945384701842" y1="353.2" x2="137.63945384701842" y2="354.7" stroke="#555" stroke-width="0.8"/>
<line x1="139.41113422733403" y1="353.2" x2="139.41113422733403" y2="354.7" stroke="#555" stroke-width="0.8"/>
<line x1="140.909068645319" y1="353.2" x2="140.909068645319" y2="354.7" stroke="#555" stroke-width="0.8"/>
<line x1="142.20663845894472" y1="353.2" x2="142.20663845894472" y2="354.7" stroke="#555" stroke-width="0.8"/>
<line x1="143.3511761487049" y1="353.2" x2="143.3511761487049" y2="354.7" stroke="#555" stroke-width="0.8"/>
<line x1="144.375" y1="353.2" x2="144.375" y2="355.7" stroke="#555" stroke-width="0.8"/>
<line x1="151.11054615298158" y1="353.2" x2="151.11054615298158" y2="354.7" stroke="#555" stroke-width="0.8"/>
<line x1="155.05058807435245" y1="353.2" x2="155.05058807435245" y2="354.7" stroke="#555" stroke-width="0.8"/>
<line x1="157.84609230596317" y1="353.2" x2="157.84609230596317" y2="354.7" stroke="#555" stroke-width="0.8"/>
<line x1="160.01445384701842" y1="353.2" x2="160.01445384701842" y2="354.7" stroke="#555" stroke-width="0.8"/>
<line x1="161.78613422733403" y1="353.2" x2="161.78613422733403" y2="354.7" stroke="#555" stroke-width="0.8"/>
<line x1="163.284068645319" y1="353.2" x2="163.284068645319" y2="354.7" stroke="#555" stroke-width="0.8"/>
<line x1="164.58163845894472" y1="353.2" x2="164.58163845894472" y2="354.7" stroke="#555" stroke-width="0.8"/>
<line x1="165.7261761487049" y1="353.2" x2="165.7261761487049" y2="354.7" stroke="#555" stroke-width="0.8"/>
<line x1="166.75" y1="353.2" x2="166.75" y2="355.7" stroke="#555" stroke-width="0.8"/>
<line x1="173.48554615298158" y1="353.2" x2="173.48554615298158" y2="354.7" stroke="#555" stroke-width="0.8"/>
<line x1="177.42558807435245" y1="353.2" x2="177.42558807435245" y2="354.7" stroke="#555" stroke-width="0.8"/>
<line x1="180.22109230596317" y1="353.2" x2="180.22109230596317" y2="354.7" stroke="#555" stroke-width="0.8"/>
<line x1="182.38945384701842" y1="353.2" x2="182.38945384701842" y2="354.7" stroke="#555" stroke-width="0.8"/>
<line x1="184.16113422733403" y1="353.2" x2="184.16113422733403" y2="354.7" stroke="#555" stroke-width="0.8"/>
<line x1="185.659068645319" y1="353.2" x2="185.659068645319" y2="354.7" stroke="#555" stroke-width="0.8"/>
<line x1="186.95663845894472" y1="353.2" x2="186.95663845894472" y2="354.7" stroke="#555" stroke-width="0.8"/>
<line x1="188.1011761487049" y1="353.2" x2="188.1011761487049" y2="354.7" stroke="#555" stroke-width="0.8"/>
<line x1="189.125" y1="353.2" x2="189.125" y2="355.7" stroke="#555" stroke-width="0.8"/>
<line x1="195.86054615298158" y1="353.2" x2="195.86054615298158" y2="354.7" stroke="#555" stroke-width="0.8"/>
<line x1="199.80058807435245" y1="353.2" x2="199.80058807435245" y2="354.7" stroke="#555" stroke-width="0.8"/>
<line x1="202.59609230596317" y1="353.2" x2="202.59609230596317" y2="354.7" stroke="#555" stroke-width="0.8"/>
<line x1="204.76445384701842" y1="353.2" x2="204.76445384701842" y2="354.7" stroke="#555" stroke-width="0.8"/>
<line x1="206.53613422733403" y1="353.2" x2="206.53613422733403" y2="354.7" stroke="#555" stroke-width="0.8"/>
<line x1="208.034068645319" y1="353.2" x2="208.034068645319" y2="354.7" stroke="#555" stroke-width="0.8"/>
<line x1="209.33163845894472" y1="353.2" x2="209.33163845894472" y2="354.7" stroke="#555" stroke-width="0.8"/>
<line x1="210.4761761487049" y1="353.2" x2="210.4761761487049" y2="354.7" stroke="#555" stroke-width="0.8"/>
<line x1="211.5" y1="353.2" x2="211.5" y2="355.7" stroke="#555" stroke-width="0.8"/>
<rect x="118.5" y="276.5" width="49" height="36" fill="none" stroke="#808080" stroke-width="1"/>
<text x="133" y="274.6" font-size="8" text-anchor="start" fill="#111" stroke="#111" stroke-width="0.2">CD19<tspan font-size="5" dy="-2.5">+</tspan></text>
<text transform="translate(107,276.5) rotate(-90)" font-size="5.2" text-anchor="middle" fill="#111">10<tspan font-size="3.6" dy="-2.1">3</tspan></text>
<text transform="translate(107,297) rotate(-90)" font-size="5.2" text-anchor="middle" fill="#111">10<tspan font-size="3.6" dy="-2.1">2</tspan></text>
<text transform="translate(107,320.5) rotate(-90)" font-size="5.2" text-anchor="middle" fill="#111">10<tspan font-size="3.6" dy="-2.1">2</tspan></text>
<text transform="translate(107,334.5) rotate(-90)" font-size="5.2" text-anchor="middle" fill="#333" stroke="#333" stroke-width="0.22">0</text>
<text x="131.5" y="364.2" font-size="5.2" text-anchor="middle" fill="#111">10<tspan font-size="3.6" dy="-2.1">-1</tspan></text>
<text x="148.5" y="364.2" font-size="5.2" text-anchor="middle" fill="#111">10<tspan font-size="3.6" dy="-2.1">3</tspan></text>
<text x="177.5" y="364.2" font-size="5.2" text-anchor="middle" fill="#111">10<tspan font-size="3.6" dy="-2.1">4</tspan></text>
<text x="203" y="364.2" font-size="5.2" text-anchor="middle" fill="#111">10<tspan font-size="3.6" dy="-2.1">5</tspan></text>
<text x="107.5" y="357.5" font-size="5" text-anchor="middle" fill="#4040e0" stroke="#4040e0" stroke-width="0.22">M</text>
<text transform="translate(95.2,309) rotate(-90)" font-size="8.6" text-anchor="middle" textLength="20" lengthAdjust="spacingAndGlyphs" fill="#111" stroke="#111" stroke-width="0.25">CD19</text>
<text x="154.6" y="374.4" font-size="8.6" text-anchor="start" textLength="16.8" lengthAdjust="spacingAndGlyphs" fill="#111" stroke="#111" stroke-width="0.25">CD3</text>
<line x1="138.8" y1="312" x2="138.8" y2="401" stroke="#000" stroke-width="1.3"/>
<path d="M136.3,400.5 L141.2,400.5 L138.8,405.8 Z" fill="#000" stroke="none" stroke-width="1"/>
<text x="140.6" y="388" font-size="7.8" stroke="#000" stroke-width="0.15" textLength="82.4" lengthAdjust="spacingAndGlyphs">CD38<tspan font-size="4.5" dy="-2.5">high</tspan><tspan dy="2.5"> CD24</tspan><tspan font-size="4.5" dy="-2.5">high</tspan><tspan dy="2.5"> Bregs</tspan></text>
<path d="M95.1 441.1h0M97.5 455.3h0M92.0 444.7h0M77.6 463.3h0M88.2 469.7h0M83.5 455.2h0M71.7 463.7h0M72.8 455.6h0M77.9 479.8h0M65.7 459.4h0M100.5 460.5h0M105.8 464.4h0M107.8 470.0h0M78.5 465.9h0M78.9 457.6h0M96.5 458.6h0M83.9 463.8h0M86.6 464.7h0M86.6 453.7h0M63.8 451.4h0M114.5 455.3h0M66.8 463.3h0M64.4 452.9h0M106.3 445.7h0M72.8 454.2h0M110.9 452.4h0M98.1 464.9h0M98.3 452.1h0M85.4 453.3h0M67.2 479.4h0M71.2 463.1h0M93.9 447.5h0M90.2 471.7h0M70.8 453.8h0M72.0 448.8h0M76.8 465.4h0M90.9 441.9h0M99.7 457.3h0M107.9 464.4h0M85.5 466.5h0M117.2 452.0h0M104.6 452.3h0M117.9 457.1h0M76.7 471.8h0M102.2 437.6h0M111.1 467.4h0M61.0 461.4h0M108.2 473.6h0M99.3 445.3h0M108.1 471.2h0M95.0 448.2h0M112.1 461.5h0M84.6 453.6h0M82.9 430.1h0M104.6 457.4h0M104.7 462.5h0M68.5 467.9h0M113.0 450.9h0M112.6 444.8h0M110.0 466.1h0M79.3 454.0h0M114.1 470.0h0M101.1 474.3h0M108.2 455.4h0M91.1 456.1h0M84.5 449.9h0M79.7 435.0h0M81.3 458.0h0M107.7 466.4h0M78.6 470.2h0M81.3 457.9h0M97.8 479.2h0M87.4 452.1h0M56.2 457.8h0M80.6 451.9h0M85.7 453.1h0M120.1 455.0h0M103.6 450.3h0M74.6 453.3h0M72.8 461.4h0M84.1 459.4h0M96.0 446.2h0M78.4 463.9h0M99.6 448.8h0M67.5 463.3h0M97.8 459.0h0M112.8 436.3h0M91.5 469.0h0M96.4 450.8h0M99.8 450.7h0M93.8 453.2h0M90.9 459.5h0M96.9 464.7h0M93.9 454.8h0M93.6 477.4h0M119.5 451.7h0M109.9 452.9h0M108.1 456.1h0M81.0 460.1h0M83.5 474.9h0M110.4 485.0h0M73.7 454.3h0M109.8 456.3h0M68.5 465.4h0M129.0 456.8h0M113.6 468.0h0M82.5 446.1h0M84.0 468.0h0M56.5 433.2h0M91.1 464.2h0M112.7 465.9h0M102.6 486.6h0M87.5 447.8h0M127.7 466.1h0M101.6 465.6h0M99.2 447.4h0M86.8 461.1h0M102.1 448.5h0M137.6 444.8h0M99.8 440.9h0M63.0 455.6h0M95.8 446.1h0M125.3 434.3h0M112.7 461.4h0M83.0 438.4h0M98.1 466.1h0M66.3 460.9h0M103.1 448.6h0M76.7 439.9h0M82.8 447.6h0M82.1 442.5h0M79.5 453.7h0M121.5 453.8h0M117.7 486.5h0M87.0 433.9h0M93.7 451.2h0M121.3 464.5h0M87.0 469.9h0M84.2 473.5h0M77.2 446.7h0M119.2 467.3h0M94.9 424.7h0M92.2 455.4h0M84.6 467.9h0M76.1 466.3h0M108.6 441.7h0M78.5 448.4h0M82.9 433.0h0M62.7 449.4h0M72.8 442.0h0M83.0 461.2h0M83.4 449.2h0M65.6 464.9h0M81.2 456.7h0M89.5 454.1h0M102.0 471.6h0M87.1 442.6h0M68.5 474.1h0M87.1 466.8h0M99.5 473.4h0M91.7 463.2h0M92.5 437.0h0M92.0 453.6h0M103.1 429.6h0M68.1 441.6h0M81.5 449.8h0M98.5 472.8h0M92.2 458.4h0M73.3 460.5h0M86.8 466.6h0M79.6 447.4h0M92.1 470.8h0M62.9 460.5h0M63.5 446.7h0M66.6 451.2h0M89.4 455.1h0M134.7 465.0h0M108.8 474.6h0M113.0 454.3h0M91.9 455.3h0M119.4 479.0h0M97.9 495.3h0M92.9 479.0h0M110.6 460.2h0M70.5 453.7h0M53.5 465.9h0M70.9 461.5h0M116.2 448.7h0M107.3 473.8h0M94.9 487.6h0M87.5 448.1h0M88.7 448.7h0M98.4 452.0h0M76.6 443.1h0M105.1 467.5h0M74.7 441.1h0M115.1 465.7h0M85.8 462.6h0M75.5 466.7h0M86.6 440.5h0M75.4 459.6h0M89.3 461.1h0M60.1 468.3h0M83.0 462.3h0M92.9 451.1h0M98.3 471.4h0M84.8 474.2h0M112.7 473.8h0M62.1 449.2h0M87.8 464.1h0M83.1 447.2h0M91.4 455.9h0M87.0 466.8h0M115.7 441.1h0M91.5 490.7h0M75.4 472.4h0M135.1 448.9h0M92.2 451.2h0M88.7 457.1h0M107.0 456.3h0M81.1 443.7h0M87.6 456.4h0M106.6 439.7h0M70.8 450.7h0M83.6 479.1h0M108.0 457.2h0M123.0 453.4h0M90.1 476.5h0M89.7 461.7h0M110.6 465.3h0M65.7 451.2h0M79.4 470.9h0M77.6 454.0h0M55.5 468.3h0M84.4 478.4h0M107.4 469.7h0M103.2 457.7h0M113.7 445.4h0M88.9 449.8h0M114.9 476.1h0M76.3 452.7h0M68.7 430.8h0M97.6 462.5h0M91.7 467.6h0M102.7 447.1h0M91.4 466.4h0M113.3 442.3h0M103.7 460.8h0M96.0 456.0h0M84.9 461.7h0M103.9 463.0h0M79.9 450.0h0M108.4 467.5h0M111.7 452.0h0M108.2 459.4h0M69.2 474.8h0M99.3 447.0h0M98.1 458.8h0M106.9 476.9h0M64.3 472.9h0M81.1 449.9h0M90.3 450.6h0M116.1 464.5h0M81.1 450.2h0M107.3 458.8h0M94.2 441.7h0M125.6 465.5h0M97.4 438.8h0M63.3 459.5h0M86.8 466.3h0M96.2 450.0h0M114.0 439.2h0M103.3 442.8h0M86.7 435.1h0M69.4 479.3h0M92.3 435.0h0M89.5 442.6h0M115.1 461.8h0M108.0 458.5h0M67.0 470.2h0M50.9 473.6h0M84.4 463.3h0M96.5 457.2h0M74.6 451.2h0M82.6 455.7h0M112.6 469.2h0M104.7 465.2h0M61.3 465.4h0M97.8 437.9h0M94.5 448.8h0M88.2 449.7h0M101.7 451.4h0M102.1 445.3h0M135.6 466.1h0M95.8 470.6h0M78.9 479.7h0M83.0 451.6h0M104.4 456.7h0M125.8 459.1h0M102.5 457.8h0M101.2 447.9h0M96.5 467.5h0M83.9 433.7h0M93.1 452.2h0M70.4 435.1h0M105.0 465.5h0M100.2 441.3h0M95.0 444.1h0M76.7 457.8h0M87.2 445.4h0M81.7 460.9h0M97.2 453.3h0M86.8 481.4h0M98.2 443.3h0M108.3 448.1h0M114.2 464.8h0M73.8 459.4h0M86.0 463.3h0M72.6 454.5h0M113.9 469.3h0M76.9 462.1h0M115.7 473.8h0M83.0 441.7h0M110.0 461.0h0M82.3 455.3h0M87.9 462.8h0M94.1 446.7h0M93.5 467.7h0M89.3 442.0h0M103.7 468.6h0M113.0 464.5h0M107.1 436.3h0M83.4 462.8h0M59.3 434.7h0M93.9 464.8h0M103.8 457.1h0M102.9 454.7h0M70.5 438.4h0M102.2 435.7h0M80.3 464.0h0M114.3 452.2h0M78.4 471.1h0M77.2 457.4h0M80.4 491.1h0M96.2 460.1h0M73.6 479.2h0M131.7 462.2h0M85.4 459.0h0M122.8 464.5h0M86.9 448.9h0M86.4 450.3h0M79.5 478.0h0M78.6 455.8h0M99.7 444.2h0M113.1 464.3h0M93.9 448.0h0M76.2 459.1h0M95.7 471.8h0M78.0 473.7h0M94.2 472.3h0M61.2 466.1h0M80.8 464.8h0M92.9 461.8h0M84.9 457.8h0M87.3 485.7h0M119.2 457.4h0M108.8 478.5h0M118.7 456.9h0M95.7 473.0h0M96.0 424.2h0M123.1 460.2h0M80.9 450.9h0M97.8 477.4h0M94.3 476.6h0M97.1 451.0h0M102.5 457.6h0M94.1 469.7h0M106.2 462.2h0M77.1 459.8h0M100.7 470.4h0M73.6 442.9h0M110.9 478.1h0M109.2 464.1h0M88.3 424.1h0M83.0 447.8h0M91.4 457.9h0M101.6 486.2h0M65.3 458.8h0M74.2 440.8h0M108.3 475.4h0M88.0 463.8h0M69.2 458.9h0M52.8 471.7h0M84.0 454.4h0M61.0 457.7h0M94.0 471.2h0M90.3 464.5h0M123.9 470.9h0M69.7 454.8h0M102.8 479.5h0M70.6 442.2h0M73.5 442.7h0M88.0 465.4h0M76.7 455.6h0M123.5 461.8h0M90.6 459.8h0M78.4 457.5h0M132.0 446.6h0M77.6 463.1h0M84.9 475.2h0M87.8 449.3h0M77.8 482.2h0M102.0 478.3h0M112.3 449.3h0M68.8 469.2h0M82.8 446.3h0M84.7 458.0h0M66.8 446.3h0M68.2 453.1h0M84.8 437.2h0M75.5 457.6h0M96.7 446.9h0M105.5 448.8h0M94.4 435.8h0M96.2 460.0h0M75.1 482.4h0M80.6 455.1h0M97.9 457.7h0M101.1 445.8h0M89.6 453.8h0M100.6 449.2h0M86.7 440.7h0M70.8 448.8h0M96.5 453.3h0M83.7 463.2h0M61.4 455.4h0M105.7 462.8h0M97.7 474.9h0M103.7 470.5h0M82.8 454.3h0M116.9 438.1h0M99.4 457.1h0M108.1 460.3h0M79.7 471.3h0M85.6 461.0h0M113.4 492.7h0M90.6 455.4h0M91.5 467.2h0M117.0 448.3h0M111.2 447.2h0M95.1 455.7h0M124.2 461.7h0M65.3 467.5h0M90.0 421.4h0M81.5 472.7h0M116.7 477.2h0M118.5 475.4h0M82.8 469.4h0M93.7 457.7h0M107.4 465.8h0M100.2 474.6h0M95.8 447.4h0M108.5 467.2h0M124.9 465.2h0M93.3 457.4h0M72.1 480.6h0M89.4 450.7h0M90.6 447.3h0M84.7 458.5h0M103.4 451.5h0M104.0 475.1h0M107.0 439.1h0M99.6 443.3h0M95.8 462.7h0M73.7 467.9h0M85.4 444.7h0M76.5 474.6h0M96.9 435.9h0M89.3 471.3h0M90.7 448.2h0M100.4 453.2h0M86.3 480.5h0M109.7 458.1h0M109.4 451.1h0M75.1 461.7h0M113.9 481.5h0M85.5 459.6h0M78.9 449.5h0M85.9 461.3h0M69.5 443.9h0M97.2 450.5h0M112.0 451.9h0M65.3 466.5h0M98.7 452.9h0M101.3 464.5h0M102.7 472.5h0M102.4 477.6h0M98.8 438.4h0M83.4 458.0h0M106.6 444.9h0M97.1 466.4h0M105.0 461.7h0M96.7 458.5h0M86.9 452.3h0M90.6 447.1h0M101.8 438.4h0M109.2 470.2h0M58.6 456.3h0M69.4 459.0h0M63.4 462.5h0M82.2 468.1h0M79.9 481.2h0M94.7 456.5h0M86.1 466.5h0M114.1 439.0h0M80.8 453.9h0M79.1 450.1h0M77.2 451.1h0M86.2 472.5h0M94.1 459.9h0M83.0 459.4h0M75.4 459.6h0M67.9 455.9h0M94.4 456.0h0M81.9 450.9h0M74.4 452.2h0M86.6 453.5h0M96.9 456.4h0M126.3 436.2h0M119.1 459.4h0M76.0 458.2h0M83.5 463.6h0M57.7 445.3h0M57.6 447.4h0M59.5 468.1h0M106.8 450.0h0M88.6 464.3h0M66.0 450.5h0M79.6 444.3h0M82.5 441.2h0M79.8 451.3h0M116.2 452.9h0M58.1 444.0h0M83.3 475.5h0M95.3 458.8h0M99.3 448.0h0M53.8 476.4h0M94.3 468.4h0M69.5 449.5h0M81.2 446.4h0M63.9 456.4h0M104.3 467.2h0M144.4 441.9h0M108.4 472.3h0M86.0 454.0h0M61.0 468.5h0M106.0 456.9h0M111.6 464.4h0M72.3 466.2h0M107.3 474.0h0M60.4 450.2h0M69.3 481.1h0M93.6 443.5h0M67.3 462.4h0M104.1 466.7h0M115.7 459.0h0M92.3 469.2h0M99.7 439.5h0M118.7 458.2h0M100.2 470.5h0M113.7 458.8h0M115.9 445.6h0M73.4 460.6h0M129.0 461.0h0M111.8 447.0h0M94.1 474.4h0M105.7 452.4h0M97.1 446.5h0M95.6 460.0h0M74.5 451.0h0M84.8 456.5h0M86.0 461.5h0M110.3 453.8h0M99.9 465.8h0M98.7 462.3h0M89.8 473.1h0M113.4 446.9h0M49.8 459.6h0M76.2 461.8h0M108.1 462.2h0M84.7 433.9h0M102.8 446.2h0M119.0 462.7h0M105.5 465.6h0" stroke="#8c8ce8" stroke-width="1" stroke-linecap="square" opacity="0.45" fill="none"/>
<path d="M85.1 464.3h0M86.6 463.1h0M97.6 460.5h0M80.7 462.7h0M76.6 465.5h0M100.6 460.3h0M91.9 467.1h0M83.4 466.6h0M76.3 460.0h0M102.0 461.3h0M82.1 466.1h0M75.8 463.6h0M98.2 460.5h0M68.9 465.7h0M83.7 467.6h0M91.6 463.9h0M81.2 461.3h0M79.2 464.5h0M90.5 470.3h0M70.9 460.4h0M83.0 468.0h0M92.3 461.3h0M76.2 486.9h0M100.2 465.2h0M82.6 464.5h0M83.9 463.4h0M78.4 456.0h0M90.5 460.0h0M81.4 476.1h0M87.5 465.6h0M98.0 460.2h0M98.2 461.8h0M68.5 466.6h0M98.4 456.3h0M79.6 465.3h0M88.4 466.3h0M84.6 455.3h0M87.6 462.1h0M76.0 449.3h0M89.6 453.4h0M96.3 467.0h0M79.6 471.8h0M86.2 474.5h0M92.4 455.3h0M96.2 461.7h0M88.0 461.5h0M88.5 469.5h0M90.2 465.0h0M81.2 464.9h0M88.8 466.8h0M81.4 461.8h0M81.9 470.0h0M59.3 465.8h0M66.5 473.1h0M88.8 464.4h0M92.9 464.0h0M88.5 456.8h0M84.5 455.0h0M80.1 455.5h0M91.1 465.8h0M78.6 452.4h0M85.8 471.7h0M100.4 459.7h0M68.7 458.6h0M78.5 466.9h0M81.0 457.3h0M64.2 467.3h0M71.7 464.3h0M97.0 469.0h0M90.9 468.2h0M83.9 469.5h0M98.2 459.2h0M75.1 472.6h0M105.0 460.4h0M84.0 464.7h0M78.5 467.4h0M96.4 463.7h0M89.0 455.6h0M87.3 467.3h0M81.9 455.2h0M65.6 469.5h0M62.2 466.9h0M84.6 464.4h0M93.9 456.2h0M76.9 470.9h0M85.3 463.0h0M68.5 471.3h0M67.8 462.2h0M83.2 460.0h0M92.0 463.2h0M93.3 468.6h0M96.2 454.6h0M75.4 462.0h0M82.2 461.4h0M92.6 461.2h0M73.1 463.0h0M82.0 470.5h0M85.0 468.0h0M84.2 464.1h0M94.5 467.3h0M89.8 469.1h0M79.1 461.2h0M58.9 463.6h0M93.4 466.6h0M96.8 474.3h0M87.8 449.8h0M87.6 459.9h0M89.8 467.7h0M96.6 457.5h0M79.6 469.7h0M83.8 465.4h0M72.6 458.5h0M81.6 461.7h0M75.8 467.4h0M74.8 460.3h0M63.5 470.5h0M83.5 465.9h0M94.9 460.6h0M52.4 471.1h0M97.6 459.9h0M84.0 465.3h0M76.1 459.5h0M88.7 471.5h0M81.3 462.9h0M84.4 470.7h0M101.2 473.8h0M87.3 472.6h0M88.1 463.3h0M81.4 465.3h0M82.3 464.0h0M74.7 467.2h0M82.1 459.5h0M74.3 455.0h0M96.6 464.0h0M81.7 464.7h0M93.3 471.5h0M99.5 472.2h0M93.9 454.6h0M76.0 459.9h0M102.7 465.7h0M64.8 473.7h0M99.5 462.4h0M57.1 468.4h0M72.8 455.0h0M85.2 477.1h0M75.9 461.2h0M61.9 470.6h0M68.4 468.4h0M86.0 458.5h0M66.5 471.6h0M92.1 471.3h0M96.3 461.9h0M98.6 462.7h0M87.3 467.4h0M84.4 469.7h0M80.5 469.6h0M112.7 454.5h0M96.2 456.8h0M90.4 459.9h0M85.3 448.2h0M94.6 454.8h0M63.4 466.0h0M92.7 458.9h0M77.2 460.2h0M60.0 472.8h0M96.1 464.1h0M76.6 469.9h0M88.6 462.4h0M75.8 462.9h0M79.0 459.8h0M101.5 462.8h0M86.1 453.2h0M87.5 458.4h0M67.7 469.9h0M94.5 467.4h0M77.1 464.7h0M88.1 456.7h0M73.6 468.9h0M87.4 459.3h0M89.8 462.4h0M67.6 460.9h0M89.0 473.8h0M75.8 473.9h0M96.7 457.2h0M87.0 456.8h0M84.6 463.6h0M117.2 462.6h0M94.1 469.8h0M80.0 464.3h0M92.4 455.6h0M87.4 465.2h0M98.8 463.3h0M72.0 456.6h0M104.9 459.3h0M78.4 463.1h0M79.2 459.1h0M76.4 466.4h0M81.8 470.5h0M105.5 466.6h0M85.3 458.6h0M72.1 462.4h0M83.1 468.2h0M86.5 461.7h0M94.1 460.5h0M82.6 477.0h0M84.0 449.2h0M115.1 455.5h0M82.0 459.5h0M85.3 463.5h0M72.8 475.6h0M94.3 461.6h0M78.9 463.1h0M104.1 461.9h0M96.9 460.3h0M93.2 464.8h0M80.9 479.2h0M79.9 460.6h0M79.9 463.4h0M85.0 463.4h0M78.6 452.6h0M78.9 468.3h0M85.2 463.5h0M82.2 452.9h0M79.9 463.1h0M94.1 463.4h0M94.6 457.2h0M79.1 471.0h0M106.7 457.1h0M87.0 454.9h0M98.0 466.5h0M104.2 460.2h0M69.0 467.1h0M88.2 454.0h0M92.8 454.7h0M96.2 456.3h0M92.6 461.8h0M94.9 461.6h0M69.2 474.2h0M75.2 474.2h0M90.5 463.8h0M62.2 466.7h0M79.9 475.6h0M82.2 464.6h0M89.1 469.1h0M93.5 459.7h0M86.7 463.0h0M75.0 463.8h0M73.3 461.6h0M88.9 465.4h0M89.8 458.3h0M88.2 462.7h0M86.1 466.1h0M87.2 475.7h0M67.6 455.4h0M84.0 464.4h0M92.9 466.4h0M71.8 463.8h0M89.6 468.2h0M92.1 465.8h0M109.7 462.9h0M83.2 461.7h0M81.3 463.2h0M71.0 464.6h0M71.6 460.1h0M66.9 467.6h0M64.0 460.9h0M90.9 457.6h0M82.9 456.1h0M88.4 469.7h0M66.6 463.4h0M61.6 462.2h0M65.8 471.3h0M101.3 459.0h0M96.6 464.0h0M69.6 465.1h0M85.6 465.8h0M86.2 464.8h0M71.8 453.3h0M78.5 473.3h0M95.3 468.1h0M90.7 454.6h0M94.7 467.5h0M87.6 462.1h0M85.6 464.4h0M90.8 470.4h0M83.5 469.8h0M103.3 466.7h0M88.5 474.9h0M91.1 469.2h0M82.9 460.7h0M76.1 457.8h0M84.5 468.8h0M79.4 454.8h0M75.4 463.3h0M92.8 460.6h0M105.3 456.7h0M88.6 471.1h0M83.5 465.9h0M76.5 463.8h0M69.4 471.4h0M90.6 460.6h0M91.6 469.8h0M77.6 476.8h0M85.2 463.1h0M75.1 464.4h0M100.7 468.1h0M84.0 452.7h0M88.1 456.1h0M101.9 455.4h0M59.1 458.4h0M88.9 463.2h0M87.6 465.2h0M81.3 464.2h0M84.7 463.7h0M98.7 467.1h0M78.4 471.0h0M78.6 472.0h0M103.0 460.3h0M95.6 462.3h0M91.1 471.4h0M93.7 464.9h0M86.7 471.2h0M81.1 461.7h0M83.1 463.9h0M87.5 459.8h0M79.7 464.5h0M68.0 468.9h0M82.6 461.6h0M89.4 474.5h0M82.0 455.7h0M92.7 467.7h0M86.9 457.3h0M95.3 464.0h0M85.4 459.3h0M83.0 464.6h0M91.0 463.3h0M93.6 457.9h0M79.0 457.7h0M75.0 461.2h0M99.1 461.8h0M79.9 469.3h0M90.1 472.3h0M78.3 454.9h0M87.5 466.1h0M99.3 459.0h0M102.8 461.2h0M71.1 467.8h0M70.0 470.7h0M49.3 471.6h0M91.1 462.8h0M102.8 470.1h0M87.8 465.0h0M81.6 464.3h0M94.6 468.9h0M73.8 458.9h0M91.0 457.5h0M100.4 469.9h0M97.8 460.7h0M90.8 452.6h0M80.0 469.2h0M82.3 471.2h0M74.3 461.0h0M103.5 453.5h0M98.0 461.5h0M84.4 465.9h0M83.5 460.6h0M86.5 458.3h0M78.1 467.8h0M90.7 466.0h0M88.7 454.1h0M88.4 456.8h0M85.0 461.9h0M57.4 464.3h0M82.8 465.3h0M70.1 469.0h0M68.3 477.0h0M108.9 462.2h0M80.1 469.8h0M81.3 455.4h0M80.8 460.4h0M76.4 471.1h0M100.6 453.0h0M66.0 474.3h0M90.1 466.1h0M78.4 465.5h0M98.0 461.1h0M92.6 455.9h0M84.5 457.6h0M68.1 463.3h0M92.5 460.1h0M96.0 469.1h0M90.7 457.0h0M80.8 460.8h0M89.8 453.0h0M76.3 466.0h0M87.1 463.4h0M89.3 469.4h0M83.6 475.0h0M74.3 468.4h0M81.3 459.4h0M75.2 466.5h0M71.9 467.3h0M95.6 461.8h0M81.9 458.0h0M79.2 466.6h0M77.8 457.9h0M89.0 462.6h0M80.7 462.6h0M74.6 450.4h0M87.8 466.8h0M87.7 475.5h0M74.4 463.2h0M72.4 462.1h0M99.1 466.9h0M80.3 456.9h0M97.3 462.0h0M91.0 464.2h0M83.1 460.8h0M81.7 463.8h0M101.1 456.4h0M77.0 461.6h0M80.7 468.2h0M74.8 460.3h0M82.2 460.9h0M73.7 461.4h0M86.0 466.5h0M70.6 463.7h0M89.2 458.2h0M88.2 465.1h0M84.9 452.2h0M76.3 454.1h0M98.3 463.4h0M107.4 471.0h0M82.5 461.3h0M76.3 467.0h0M90.0 455.0h0M82.2 464.9h0M86.0 464.7h0M91.7 466.0h0M69.1 461.9h0M93.7 473.5h0M72.3 460.1h0M72.2 474.4h0M79.2 458.4h0M100.6 465.9h0M78.7 472.4h0M91.1 475.3h0M74.2 464.7h0M89.6 453.6h0M88.4 468.1h0M96.1 458.0h0M85.3 457.5h0M83.8 460.5h0M63.5 461.8h0M88.3 467.6h0M92.9 463.6h0M87.0 467.4h0M86.9 468.4h0M90.0 460.8h0M94.2 466.4h0M75.7 472.1h0M85.1 474.4h0M89.0 464.1h0M86.8 462.0h0M73.2 460.2h0M62.7 464.9h0M87.7 463.4h0M92.2 464.1h0M101.1 453.6h0M88.4 460.9h0M74.8 464.2h0M88.5 459.8h0M82.5 460.7h0M77.3 467.0h0M68.0 460.8h0M65.1 469.5h0M75.8 459.0h0M79.9 465.8h0M83.9 457.6h0M85.4 470.5h0M87.3 467.7h0M105.8 468.3h0M82.8 459.3h0M97.8 454.3h0M74.7 457.8h0M76.3 463.8h0M79.5 470.7h0M65.5 470.8h0M102.5 465.0h0M85.9 456.6h0M92.9 468.8h0M103.4 465.2h0M88.6 460.1h0M99.5 446.9h0M58.2 463.3h0M97.7 461.1h0M88.8 472.3h0M78.4 466.0h0M95.8 461.8h0M85.8 472.8h0M78.0 473.8h0M63.6 469.2h0M103.9 464.5h0M57.2 475.2h0M84.3 459.7h0M101.7 463.6h0M90.8 460.5h0M76.6 459.5h0M81.7 467.2h0M78.5 471.2h0M88.4 474.1h0M84.0 468.4h0M71.2 472.5h0M68.2 465.3h0M95.2 453.6h0M69.9 462.4h0M72.2 468.1h0M108.7 456.8h0M76.7 476.2h0M70.9 473.0h0M73.4 464.4h0M93.8 472.5h0M76.5 468.9h0M83.9 473.5h0M58.9 466.8h0M78.0 469.4h0M84.2 462.6h0M84.5 464.0h0M100.8 468.1h0M91.1 474.0h0M52.8 469.5h0M66.6 468.4h0M73.5 460.5h0M80.5 463.3h0M84.8 466.8h0M89.6 455.9h0M65.2 464.4h0M58.7 461.4h0M92.6 463.9h0M73.7 470.8h0M58.5 469.8h0M73.2 464.0h0M78.1 459.1h0M69.2 456.9h0M71.0 466.1h0M96.0 471.0h0M71.5 464.4h0M86.9 463.2h0M85.6 461.2h0M78.8 458.3h0M110.2 466.2h0M69.6 470.3h0M110.5 451.5h0M72.2 458.6h0M81.9 472.1h0M86.2 458.6h0M95.7 462.0h0M90.4 457.1h0M80.2 466.5h0M79.2 460.2h0M96.0 458.7h0M99.5 455.3h0M79.6 475.7h0M99.3 476.8h0M90.1 464.4h0M87.1 467.5h0M72.3 469.1h0M70.1 466.2h0M88.4 462.9h0M53.3 466.6h0M79.1 469.4h0M87.4 456.4h0M65.0 462.1h0M102.2 465.4h0M100.7 453.4h0M73.7 475.0h0M82.4 462.7h0M82.6 465.3h0M79.1 472.5h0M78.5 464.6h0M89.2 464.0h0M101.5 458.0h0M85.2 466.9h0M85.6 467.8h0M84.6 458.8h0M77.0 468.9h0M91.5 468.6h0M78.9 467.6h0M72.6 461.4h0M91.8 468.3h0M64.8 474.9h0M78.0 462.1h0M78.1 454.3h0M81.9 460.3h0M67.2 466.7h0M74.8 473.0h0M83.4 471.1h0M91.1 467.0h0M82.1 460.6h0M82.3 468.7h0M74.9 465.4h0M83.3 458.2h0M52.2 458.4h0M91.8 468.7h0M93.0 453.2h0M84.8 471.2h0M75.4 478.5h0M98.5 462.1h0M75.9 460.4h0M98.0 458.2h0M80.4 460.6h0M76.0 467.5h0M82.5 470.1h0M75.9 460.9h0M81.9 462.4h0M88.8 459.5h0M82.2 471.0h0M79.9 470.4h0M83.0 459.3h0M88.0 461.7h0M84.2 465.0h0M88.3 453.0h0M89.8 460.0h0M87.2 464.4h0M90.5 454.9h0M84.3 465.2h0M96.3 462.5h0M87.9 460.2h0M93.9 468.6h0M81.1 459.0h0M69.1 468.8h0M79.0 463.3h0M85.4 470.2h0M87.3 459.0h0M84.2 467.5h0M100.4 465.2h0M71.0 472.6h0M66.4 476.1h0M80.8 455.7h0M76.6 464.7h0M83.4 457.8h0M91.9 468.5h0M114.3 467.4h0M69.6 464.5h0M72.7 467.2h0M84.5 471.6h0M68.4 467.6h0M75.8 464.5h0M96.4 452.6h0M82.8 460.1h0M84.6 469.8h0M94.6 453.9h0M65.9 468.5h0M85.5 465.1h0M83.5 464.1h0M87.6 468.2h0M72.7 461.4h0M80.6 472.7h0M82.5 461.7h0M92.7 468.7h0M75.7 461.9h0M90.8 464.5h0M61.0 465.6h0M90.0 473.0h0M91.4 456.8h0M73.8 461.9h0M82.2 472.9h0M84.7 468.7h0M87.1 463.4h0M96.6 460.6h0M84.9 456.4h0M81.4 462.9h0M82.2 466.4h0M87.9 470.5h0M93.1 468.1h0M88.0 471.9h0M78.5 467.1h0M79.8 460.5h0M75.3 463.3h0M76.1 474.2h0M78.9 465.4h0M79.1 473.0h0M90.8 453.7h0M70.9 463.2h0M84.1 459.4h0M71.8 467.4h0M91.7 458.3h0M86.1 456.0h0M97.3 461.6h0M87.8 450.1h0M72.7 462.3h0M84.8 466.4h0M76.4 458.5h0M78.4 464.6h0M72.4 460.6h0M80.5 462.6h0M85.2 465.3h0M86.7 466.4h0M110.6 462.6h0M81.6 460.0h0" stroke="#4848e4" stroke-width="1" stroke-linecap="square" opacity="0.5" fill="none"/>
<path d="M114.2 458.1h0M101.6 460.5h0M93.0 467.8h0M109.9 450.8h0M93.2 459.5h0M121.4 465.7h0M104.8 451.9h0M99.7 469.8h0M92.7 460.7h0M90.7 467.1h0M90.6 465.0h0M94.8 460.1h0M112.2 457.4h0M102.0 466.8h0M95.9 456.5h0M100.6 453.3h0M96.8 467.7h0M84.5 462.3h0M82.7 464.5h0M112.4 455.2h0M94.5 459.0h0M110.9 443.8h0M117.5 454.3h0M100.2 457.0h0M103.4 449.5h0M93.4 458.3h0M97.4 462.9h0M102.7 472.2h0M97.1 457.3h0M116.5 465.1h0M96.4 458.2h0M108.5 461.2h0M99.0 458.8h0M106.3 463.9h0M117.5 456.0h0M81.6 463.3h0M107.2 446.9h0M93.9 469.5h0M97.3 450.3h0M93.5 458.0h0M97.1 474.2h0M84.8 466.9h0M70.9 470.0h0M120.7 454.9h0M107.8 459.8h0M95.2 459.4h0M79.8 469.2h0M105.0 457.7h0M114.0 453.7h0M103.8 462.7h0M81.9 470.7h0M93.7 465.0h0M103.0 466.4h0M101.4 473.6h0M113.4 468.8h0M88.5 464.8h0M89.4 455.8h0M74.8 476.6h0M110.3 458.1h0M106.5 464.1h0M93.1 460.1h0M81.3 472.5h0M105.1 450.9h0M83.9 466.7h0M82.2 456.2h0M82.3 480.7h0M82.8 464.0h0M84.1 450.3h0M89.4 473.1h0M111.7 464.0h0M108.5 467.9h0M96.7 453.4h0M93.0 465.5h0M100.4 470.0h0M83.9 464.3h0M103.1 462.5h0M87.9 462.8h0M92.2 460.8h0M104.5 469.2h0M87.4 459.0h0M83.6 466.0h0M110.1 461.7h0M80.1 467.2h0M86.4 471.0h0M81.8 452.0h0M92.8 471.2h0M94.2 453.9h0M63.8 470.3h0M92.1 460.6h0M113.9 459.8h0M110.3 456.2h0M106.5 455.6h0M98.6 466.1h0M104.6 474.2h0M91.0 459.1h0M79.1 462.4h0M100.7 456.3h0M107.0 449.7h0M98.8 452.3h0M96.8 458.2h0M108.7 463.1h0M100.4 456.9h0M108.3 452.1h0M93.4 461.9h0M77.4 461.9h0M108.8 477.5h0M110.6 468.5h0M89.9 464.0h0M97.1 449.3h0M104.6 455.2h0M67.3 464.2h0M122.3 447.4h0M101.9 444.3h0M94.9 458.4h0M84.5 461.1h0M79.9 461.9h0M130.9 441.7h0M95.3 464.6h0M103.7 453.2h0M86.4 448.5h0M92.5 455.4h0M106.6 464.2h0M90.4 472.1h0M94.9 453.9h0M95.5 460.7h0M104.3 463.2h0M109.0 464.3h0M95.2 458.6h0M113.5 458.4h0M92.0 459.8h0M90.2 450.5h0M100.8 466.8h0M95.1 461.5h0M107.2 461.2h0M67.2 469.1h0M77.3 461.1h0M73.8 465.0h0M113.7 458.6h0M104.2 450.0h0M93.7 473.4h0M106.8 474.7h0M74.5 451.9h0M96.6 468.1h0M112.9 453.3h0M106.2 462.9h0M121.2 455.2h0M92.4 461.5h0M112.2 463.1h0M99.4 461.3h0M104.5 469.7h0M101.5 462.3h0M103.4 449.1h0M111.9 455.6h0M98.8 460.9h0M101.0 456.1h0M94.5 453.4h0M105.2 473.0h0M89.3 463.3h0M108.8 457.6h0M102.4 448.1h0M102.8 463.7h0M97.8 460.4h0M93.3 470.5h0M91.5 475.3h0M85.0 460.5h0M88.3 459.0h0M110.4 465.7h0M105.0 466.7h0M83.6 467.9h0M89.3 469.1h0M111.9 454.6h0M116.0 455.4h0M107.3 458.3h0M116.6 440.1h0M92.4 468.2h0M104.6 464.7h0M89.7 457.1h0M121.0 450.1h0M103.6 461.6h0M104.4 464.4h0M102.5 459.9h0M90.2 460.3h0M98.8 464.0h0M74.4 469.4h0M91.8 456.0h0M87.2 462.2h0M106.3 456.0h0M114.3 460.9h0M98.9 451.5h0M86.1 459.1h0M86.1 462.1h0M106.7 458.7h0M100.6 477.3h0M95.6 460.7h0M89.3 471.4h0M102.9 465.2h0M103.5 468.7h0M110.8 469.6h0M89.9 467.8h0M96.5 454.7h0M82.9 463.3h0M104.2 470.0h0M103.2 475.0h0M97.4 470.5h0M113.3 473.6h0M86.6 469.6h0M113.8 450.3h0M103.4 460.2h0M105.6 460.9h0M103.7 466.0h0M93.1 468.8h0M91.1 457.0h0M111.5 465.5h0M97.6 457.3h0M102.9 461.7h0M96.5 466.3h0M109.3 462.7h0M106.9 462.1h0M84.0 461.6h0M119.6 453.6h0M112.0 463.6h0M106.9 455.1h0M100.1 452.1h0M93.2 444.4h0M108.1 458.1h0M124.7 446.4h0M98.0 461.2h0M85.1 457.5h0M97.7 458.1h0M99.0 458.2h0M111.1 463.9h0M84.1 459.1h0M91.8 454.5h0M95.8 462.6h0M111.0 463.0h0M108.9 451.2h0M102.1 463.5h0M110.3 457.4h0M101.0 463.8h0M96.2 448.3h0M74.7 469.0h0M88.7 462.1h0M87.2 465.9h0M102.2 454.9h0M99.3 459.8h0M82.8 450.1h0M99.1 460.6h0M100.1 470.2h0M103.2 460.9h0M92.9 463.2h0M91.7 465.5h0M114.4 466.2h0M94.4 457.3h0M106.4 447.9h0M86.9 456.5h0M94.7 457.2h0M95.2 462.6h0M89.8 469.5h0M104.6 453.7h0M82.1 458.6h0M102.8 466.0h0M78.0 475.0h0M104.2 453.6h0M100.4 465.8h0M110.0 456.0h0M118.8 451.1h0M90.9 462.3h0M96.8 455.2h0M81.3 453.9h0M90.6 453.0h0M97.5 455.7h0M99.3 462.7h0M107.5 460.9h0M105.4 464.9h0M107.1 452.4h0M91.1 462.9h0M96.9 450.8h0M85.3 457.8h0M98.6 468.2h0M69.1 468.9h0M101.0 473.6h0M100.2 465.2h0M92.4 459.2h0M92.5 457.6h0M76.0 452.7h0M94.0 471.7h0M93.9 469.4h0M107.9 483.9h0M107.3 473.1h0M94.2 464.5h0M94.6 454.4h0M98.3 448.0h0M88.0 461.2h0M108.8 457.4h0M116.6 444.5h0M103.6 464.3h0M95.1 468.9h0M98.5 453.7h0M109.9 455.4h0M108.7 447.4h0M86.1 472.0h0M99.7 453.9h0M88.2 455.7h0M89.5 449.2h0M98.9 453.2h0M100.2 447.6h0M97.4 468.8h0M90.5 467.8h0M93.5 453.3h0M85.5 458.3h0M116.3 454.7h0M82.0 466.6h0M102.2 451.8h0M102.1 469.5h0M99.5 465.1h0M91.3 477.7h0M87.2 443.9h0M91.3 451.4h0M93.9 467.4h0M96.0 463.1h0M98.7 458.6h0M91.0 454.6h0M103.7 462.8h0M104.6 455.1h0M95.2 471.7h0M108.0 465.9h0M100.5 466.8h0M88.3 450.4h0M103.6 461.5h0M113.3 469.1h0M98.5 474.3h0M81.5 475.2h0M108.5 466.1h0M106.9 452.6h0M89.4 474.4h0M100.5 474.0h0M103.7 462.3h0M74.2 472.1h0M105.8 457.5h0M105.9 459.9h0M105.8 456.3h0M114.6 459.3h0M86.6 463.2h0M104.7 447.7h0M120.5 449.5h0M75.1 471.0h0M94.4 463.6h0M108.3 468.5h0M92.3 469.8h0M81.4 475.6h0M101.0 459.7h0M101.8 467.7h0M88.7 458.6h0M99.0 455.7h0M109.3 464.1h0M108.8 459.4h0M100.6 454.3h0M86.8 471.5h0M97.6 471.8h0M75.4 473.6h0M89.3 473.3h0M101.4 466.8h0M105.4 465.5h0M95.8 455.7h0M93.7 448.5h0M76.4 465.1h0M77.5 443.4h0M84.4 461.1h0M89.1 455.5h0M91.6 463.8h0M119.1 449.1h0M108.2 457.8h0M85.0 458.4h0M90.0 461.5h0M94.9 472.9h0M89.3 456.0h0M88.4 451.0h0M79.0 477.2h0M111.4 462.4h0M104.6 458.6h0M103.4 456.2h0M99.3 462.8h0M101.6 457.1h0M95.7 468.7h0M76.1 465.5h0M97.5 456.4h0M98.9 464.7h0M81.9 459.9h0M75.0 472.1h0M107.0 449.4h0M85.6 460.7h0M95.7 462.9h0M88.7 458.6h0M117.2 462.2h0M81.6 465.3h0M109.0 459.0h0M66.7 456.1h0M108.3 461.8h0M92.4 463.3h0M69.5 455.1h0M98.5 462.6h0M97.3 463.5h0M78.9 461.5h0M98.9 452.6h0M94.1 451.7h0M102.5 459.7h0M82.7 465.8h0M89.0 462.1h0M91.4 477.8h0M98.6 460.5h0M92.1 463.8h0M83.5 453.7h0M112.5 458.6h0M93.7 469.0h0M107.1 451.5h0M110.5 472.4h0M88.6 459.6h0M78.2 468.0h0M98.7 457.9h0M103.7 456.2h0M103.8 437.9h0M103.3 465.5h0M97.4 444.9h0M93.3 471.5h0M87.4 455.9h0M130.2 447.0h0M114.7 474.2h0M81.3 458.8h0M100.1 458.5h0M99.6 451.1h0M78.1 465.6h0M95.2 464.7h0M106.6 469.7h0M109.5 438.0h0M114.4 455.2h0M94.9 466.2h0M95.9 468.1h0M90.9 457.3h0M100.0 460.8h0M110.4 470.7h0M87.2 466.9h0M100.0 475.8h0M88.7 454.8h0M87.8 458.8h0M92.1 462.9h0M114.7 448.1h0M117.3 459.6h0M110.7 448.7h0M80.6 468.7h0M97.6 449.9h0M121.2 447.4h0M102.4 461.3h0M91.2 467.3h0M101.8 452.6h0M91.6 451.7h0M94.4 466.1h0M98.1 453.4h0M103.4 462.1h0M98.4 470.3h0M98.7 465.4h0M83.5 454.1h0M99.6 469.5h0M107.4 466.2h0M97.3 456.7h0M94.8 458.7h0M85.2 475.4h0M110.2 459.5h0M86.1 467.7h0M107.0 466.2h0M94.8 465.9h0M111.9 477.4h0M111.5 467.0h0M94.6 463.2h0M65.6 471.9h0M75.3 465.8h0M89.8 472.5h0M85.3 456.1h0M102.5 466.2h0M117.4 450.7h0M100.8 446.5h0M98.2 468.2h0M112.9 459.6h0M96.2 463.7h0M106.1 456.2h0M101.5 459.8h0M75.8 463.2h0M110.7 467.0h0M119.2 464.6h0M93.9 462.0h0M105.8 458.7h0M103.8 461.4h0M96.7 468.2h0M94.2 464.0h0M107.3 454.9h0M90.4 461.7h0M92.6 464.9h0M106.4 457.5h0M106.8 455.6h0M116.9 464.4h0M92.4 466.0h0M85.5 471.8h0M107.5 451.7h0M83.2 471.9h0M93.5 462.8h0M94.9 460.3h0M114.6 451.0h0M96.8 456.9h0M84.0 462.1h0M97.7 462.1h0M111.7 456.4h0M82.8 480.7h0M84.8 468.8h0M109.2 459.6h0M98.9 460.3h0M85.4 459.3h0M93.9 456.5h0M99.3 463.5h0M82.5 454.8h0M95.1 474.1h0M116.5 467.1h0M98.1 450.3h0M112.2 465.8h0M99.7 468.8h0M94.2 470.7h0M102.5 464.9h0M91.5 475.4h0M100.0 454.7h0M93.6 459.2h0M96.0 466.4h0M95.1 462.6h0M84.8 454.8h0M114.0 462.4h0M84.0 473.2h0M99.7 459.2h0M85.2 468.0h0M109.4 464.8h0M91.1 447.9h0M98.6 457.0h0M101.0 453.9h0M101.3 459.2h0M97.2 452.4h0M99.1 451.6h0M102.0 461.7h0M96.8 475.1h0M92.1 454.0h0M98.6 472.9h0M92.3 470.1h0M94.2 469.9h0M114.5 465.9h0M81.8 463.2h0M118.0 463.4h0M89.2 452.9h0M102.8 454.0h0M98.6 463.6h0M97.5 467.1h0M100.9 450.3h0M111.8 443.0h0M97.5 464.5h0M98.1 463.4h0M93.6 467.8h0M119.1 454.2h0M107.5 448.8h0M112.0 465.3h0M99.8 466.5h0M78.3 468.7h0M107.5 474.4h0M79.6 468.8h0M94.4 473.6h0M107.8 457.3h0M85.7 443.7h0M88.3 455.8h0M69.8 449.8h0M104.9 457.5h0M104.7 467.9h0M89.2 451.5h0M103.2 465.0h0M80.3 464.8h0M89.9 470.5h0M100.7 463.3h0M105.1 451.8h0M98.7 465.4h0M84.8 465.1h0M94.6 469.0h0M113.6 470.8h0M91.2 462.0h0M103.9 471.6h0M102.2 459.4h0M93.3 467.3h0M98.5 462.6h0M77.6 462.7h0M92.0 464.2h0M97.3 458.3h0M105.7 463.2h0M109.3 450.1h0M90.8 456.5h0M104.6 465.8h0M97.6 465.5h0M90.8 467.8h0M90.8 467.8h0M99.4 468.7h0M98.9 464.6h0M91.9 470.1h0M125.0 447.3h0M98.6 465.0h0M103.2 454.4h0M92.4 454.0h0M126.7 450.9h0M75.7 473.1h0M94.1 462.8h0M103.5 472.9h0M111.7 462.2h0M98.1 464.5h0M87.6 465.5h0M111.5 447.4h0M104.9 459.7h0M95.1 462.5h0M98.8 474.1h0M93.5 457.0h0M99.2 460.2h0M78.3 462.2h0M99.5 462.1h0M87.8 451.9h0M103.5 461.9h0M101.3 460.6h0M87.1 466.2h0M117.4 474.8h0M105.5 458.5h0M89.3 467.7h0M86.7 464.8h0M92.8 471.1h0M106.0 475.5h0M114.5 468.8h0M89.0 466.7h0M87.0 455.5h0M104.1 462.8h0M93.8 450.6h0M95.3 455.8h0M95.2 458.0h0M92.0 455.1h0M116.0 455.9h0M107.2 455.9h0M92.7 457.6h0M111.6 460.0h0M115.9 450.5h0M105.3 468.6h0M102.2 464.8h0M91.7 460.2h0M99.9 464.1h0M98.6 456.2h0M110.0 453.1h0M89.9 471.5h0M77.3 456.0h0M93.4 466.2h0M105.5 473.3h0M72.1 453.0h0M100.6 478.3h0M85.2 451.1h0M81.2 450.0h0M94.7 446.8h0M107.4 449.8h0M82.2 461.8h0M96.0 447.8h0M95.5 460.6h0M106.1 464.8h0M96.1 456.1h0M91.3 464.3h0M108.2 462.7h0M105.7 471.8h0M86.7 464.1h0M78.2 472.8h0M91.2 467.2h0M99.8 461.1h0M104.9 456.6h0M92.3 465.7h0M95.0 467.4h0M75.8 458.3h0M92.0 460.4h0M99.4 463.4h0M92.0 465.4h0M97.1 464.0h0M90.7 475.7h0M90.3 471.5h0M97.7 452.0h0M84.6 477.2h0M96.1 456.6h0M108.1 451.9h0M93.8 470.6h0M91.6 460.8h0M85.2 452.6h0M85.2 469.9h0M92.3 466.4h0M85.2 469.2h0M92.0 452.6h0M93.3 468.7h0M84.2 460.9h0M99.5 467.5h0M105.1 449.7h0M103.5 452.3h0M90.2 448.9h0M95.3 456.2h0M88.5 472.1h0M95.1 463.9h0M102.8 455.5h0M107.9 468.4h0M111.6 458.6h0M83.0 471.6h0M114.1 458.7h0M100.9 459.6h0M113.5 457.4h0M98.1 464.4h0M112.3 465.3h0M98.1 465.7h0M87.9 470.9h0M98.0 452.9h0M87.8 450.3h0M97.3 463.8h0M102.8 460.8h0M106.0 462.0h0M101.7 452.5h0M107.4 459.3h0M78.6 459.2h0M109.3 458.3h0M88.2 463.6h0M97.6 460.0h0M93.4 464.9h0M83.9 461.8h0M106.2 458.4h0M87.9 469.5h0M94.4 473.6h0M113.1 459.5h0M75.3 474.3h0M80.7 470.9h0M110.5 469.8h0M97.1 477.1h0M103.9 454.6h0M98.4 466.2h0M92.6 465.1h0M107.6 470.0h0M84.5 447.0h0M89.9 458.8h0M95.8 448.8h0M88.5 474.4h0M82.6 468.0h0M81.2 471.3h0M107.6 461.3h0M117.7 457.2h0M110.2 460.5h0M89.5 460.7h0M87.3 449.2h0M87.4 466.9h0M96.9 461.0h0M106.7 454.2h0M95.0 457.5h0M99.6 470.4h0M61.8 466.8h0M98.0 453.2h0M86.0 469.8h0M97.5 472.3h0M98.1 451.4h0M96.3 454.3h0M102.6 451.8h0M114.0 459.1h0M74.5 472.6h0M83.9 476.0h0M114.3 455.7h0M101.7 458.1h0M88.4 459.6h0M96.8 469.9h0M96.1 457.2h0M106.5 452.3h0M93.4 460.8h0M97.2 461.2h0M84.1 468.4h0M111.3 452.3h0M105.7 471.8h0M96.4 475.9h0M80.9 458.0h0M97.4 462.3h0M104.4 451.6h0M120.9 451.9h0M114.8 446.7h0M92.9 460.6h0M93.6 464.5h0M87.5 465.6h0M99.4 450.6h0M85.3 450.0h0M99.6 446.7h0M103.4 468.5h0M101.5 458.6h0M87.4 464.9h0M112.7 467.4h0M93.3 455.0h0M85.7 468.0h0M95.7 456.7h0M99.8 461.9h0M94.2 448.2h0M106.6 455.4h0M110.1 456.8h0M121.8 454.5h0M93.6 451.7h0M109.9 455.5h0M72.2 475.6h0M117.2 454.4h0M99.2 467.1h0M112.4 461.5h0M95.7 463.6h0M102.6 456.9h0M104.4 459.6h0M89.3 456.8h0M93.1 467.6h0M67.9 472.8h0M106.1 467.5h0M100.8 477.1h0M97.1 467.7h0M111.8 461.0h0M101.8 461.3h0M102.0 466.2h0M80.7 476.8h0M98.8 458.7h0M91.9 453.4h0M105.2 448.6h0M94.6 469.6h0M85.8 468.3h0M96.4 465.6h0M113.6 443.6h0M87.3 460.1h0M108.0 446.3h0M93.5 453.9h0M75.1 463.9h0M102.8 454.4h0M125.9 464.3h0M99.8 451.0h0M85.1 460.4h0M93.8 456.7h0M88.6 464.5h0M129.5 456.8h0M101.9 453.8h0M69.2 457.4h0M105.5 455.5h0M103.3 462.4h0M84.6 457.0h0M93.3 469.8h0M94.8 454.4h0M114.6 451.1h0M91.2 459.8h0M93.8 476.7h0M109.5 463.3h0M91.8 465.6h0M84.6 457.6h0M93.9 453.9h0M104.9 453.6h0M102.7 471.6h0M96.5 471.3h0M113.2 457.4h0M110.9 451.7h0M77.1 454.3h0M84.5 461.8h0M89.1 467.7h0M96.6 465.6h0M100.3 463.2h0M95.4 456.6h0M99.6 464.4h0M102.1 458.6h0M86.0 471.3h0M75.2 470.0h0M102.5 465.4h0M111.6 459.3h0M98.8 457.2h0M95.9 470.5h0M101.5 452.2h0M95.8 466.7h0M83.1 462.3h0M93.0 459.8h0M106.4 460.5h0M100.1 456.5h0M102.8 451.9h0M90.6 456.4h0M101.3 451.6h0M112.9 456.6h0M95.0 464.3h0M92.4 462.1h0M107.5 446.5h0M99.2 461.7h0M87.5 471.4h0M91.1 454.7h0M109.8 450.7h0M103.6 466.1h0M117.2 453.9h0M106.9 466.4h0M99.9 457.9h0M106.0 447.9h0M91.4 462.8h0M109.0 457.2h0M97.6 463.4h0M93.5 456.1h0M101.1 456.6h0M97.3 476.5h0M84.9 460.9h0M91.8 474.8h0M101.0 451.7h0" stroke="#3030e0" stroke-width="1" stroke-linecap="square" opacity="0.6" fill="none"/>
<path d="M107.1 459.3h0M107.0 457.0h0M111.4 457.7h0M105.5 459.8h0M95.6 451.4h0M105.9 459.0h0M97.1 466.4h0M91.2 470.7h0M98.3 469.6h0M115.7 455.1h0M113.4 461.8h0M118.6 456.4h0M107.0 455.3h0M94.3 461.0h0M101.9 467.9h0M108.7 461.0h0M95.7 454.3h0M96.6 457.7h0M101.0 467.7h0M100.7 462.3h0M89.1 458.1h0M108.7 459.5h0M102.9 465.8h0M114.5 457.5h0M115.3 453.2h0M104.2 458.4h0M110.3 453.2h0M110.7 453.0h0M107.0 459.5h0M109.9 470.5h0M119.2 465.9h0M108.8 456.0h0M100.4 453.2h0M101.7 460.3h0M104.4 457.8h0M110.3 454.8h0M105.4 449.5h0M101.2 460.7h0M102.6 456.7h0M106.2 458.7h0M98.8 453.7h0M104.6 459.5h0M96.1 457.1h0M98.1 458.1h0M105.3 455.2h0M105.2 455.8h0M101.9 457.7h0M117.2 449.2h0M102.6 456.9h0M107.7 453.6h0M105.4 455.6h0M101.3 459.1h0M113.8 464.8h0M114.1 459.3h0M103.7 456.4h0M104.9 451.4h0M99.6 461.9h0M104.7 461.2h0M111.4 462.1h0M100.6 450.7h0M98.6 459.1h0M102.5 461.4h0M107.0 465.8h0M103.2 459.5h0M105.6 459.1h0M114.8 453.5h0M106.4 458.0h0M103.1 460.9h0M108.0 454.2h0M107.4 453.7h0M97.6 460.9h0M102.8 463.7h0M101.1 467.7h0M107.5 458.4h0M109.8 454.9h0M106.7 465.1h0M114.1 457.2h0M103.3 464.1h0M102.9 459.5h0M103.7 457.4h0M107.4 460.5h0M115.0 452.7h0M101.1 467.8h0M106.5 453.3h0M106.4 460.1h0M112.5 455.1h0M94.5 459.1h0M97.2 461.3h0M113.2 448.7h0M112.1 453.2h0M111.2 454.2h0M110.7 470.9h0M109.2 450.9h0M106.8 461.7h0M97.4 460.6h0M105.2 461.0h0M102.7 458.4h0M96.9 459.0h0M105.0 467.1h0M103.5 466.2h0M104.2 449.7h0M110.8 455.1h0M111.2 453.7h0M108.1 448.4h0M99.0 463.3h0M109.9 459.2h0M110.3 456.5h0M108.8 459.6h0M103.5 469.8h0M86.2 466.8h0M109.1 463.9h0M105.2 471.2h0M103.8 443.4h0M95.6 463.0h0M111.7 463.0h0M103.3 461.9h0M95.5 460.8h0M105.7 466.7h0M106.3 463.4h0M106.5 449.3h0M112.0 459.9h0M112.3 454.1h0M110.3 457.4h0M99.6 455.5h0M103.7 462.9h0M106.5 459.2h0M100.8 456.1h0M94.2 463.1h0M95.8 472.1h0M113.4 463.1h0M102.3 452.2h0M118.5 454.6h0M101.3 459.5h0M110.3 453.3h0M106.6 459.6h0M111.7 464.0h0M106.9 461.2h0M109.7 451.2h0M108.4 457.6h0M103.3 462.6h0M107.1 464.2h0M103.6 459.6h0M106.0 459.4h0M107.1 459.3h0M104.0 463.3h0M97.1 452.9h0M108.4 465.1h0M95.0 466.4h0M107.7 457.8h0M104.9 453.1h0M86.7 470.7h0M103.1 471.3h0M103.6 456.6h0M87.4 459.6h0M108.9 459.5h0M111.3 455.9h0M107.9 457.3h0M107.3 449.3h0M105.5 461.3h0M111.9 459.0h0M99.2 438.0h0M104.7 460.2h0M107.5 462.1h0M92.8 460.8h0M91.8 454.4h0M111.5 456.1h0M116.6 464.9h0M100.9 463.4h0M101.0 474.0h0M93.7 467.3h0M111.7 454.3h0M105.4 454.6h0M109.8 449.1h0M116.2 449.6h0M109.2 454.5h0M102.4 462.3h0M103.1 460.5h0M108.4 449.0h0M93.5 458.8h0M112.7 464.7h0M102.8 460.9h0M113.0 454.8h0M100.8 459.5h0M101.2 462.8h0M109.2 452.7h0M87.9 474.8h0M113.7 459.3h0M106.9 458.1h0M103.6 465.2h0M108.8 456.2h0M101.1 458.9h0M111.3 461.4h0M105.4 458.4h0M107.8 453.1h0M103.0 469.3h0M100.5 460.6h0M117.5 454.9h0M110.6 464.7h0M100.9 454.3h0M98.8 460.9h0M104.2 465.1h0M105.8 457.1h0M96.6 461.3h0M104.5 458.7h0M102.8 458.7h0M92.3 464.4h0M106.1 460.9h0M112.8 455.5h0M106.5 468.1h0M104.5 461.3h0M110.6 465.6h0M101.7 461.8h0M98.5 472.6h0M104.9 458.5h0M105.2 466.0h0M101.5 462.1h0M117.5 461.6h0M103.9 455.4h0M99.4 459.7h0M101.8 463.2h0M112.6 449.7h0M113.6 462.9h0M93.7 464.4h0M110.1 459.5h0M104.5 465.4h0M102.9 463.8h0M110.3 452.3h0M106.3 451.1h0M95.9 454.8h0M102.8 455.4h0M107.2 453.8h0M102.5 456.2h0M108.7 459.8h0M97.6 455.7h0M109.2 447.8h0M114.5 455.1h0M105.3 469.2h0M94.1 460.0h0M101.9 460.3h0M110.3 456.1h0M108.9 463.2h0M106.8 463.1h0M105.1 456.7h0M98.1 468.2h0M105.0 459.6h0M106.3 463.0h0M105.5 469.2h0M104.8 447.0h0M97.7 455.2h0M97.9 455.5h0M106.4 451.4h0M109.2 457.5h0M105.8 459.5h0M110.6 465.9h0M110.8 464.0h0M107.8 459.3h0M98.7 461.9h0M111.8 459.2h0M118.5 454.2h0M106.3 455.8h0M105.1 463.0h0M111.1 453.0h0M108.7 456.6h0M100.1 461.0h0M103.1 456.9h0M100.0 458.3h0M111.5 456.0h0M96.7 463.0h0M109.9 449.6h0M104.8 468.6h0M110.9 465.5h0M106.3 467.7h0M110.2 462.9h0M112.0 454.8h0M106.7 452.9h0M95.1 458.8h0M99.3 452.5h0M105.1 457.2h0M112.6 445.3h0M102.1 461.3h0M103.2 461.6h0M99.0 459.4h0M103.4 456.9h0M109.0 456.6h0M100.3 464.9h0M112.9 452.9h0M116.8 462.1h0M107.9 452.5h0M107.4 454.3h0M119.0 448.7h0M98.0 461.7h0M102.1 461.8h0M119.6 454.1h0M96.7 461.8h0M110.7 464.8h0M99.6 451.6h0M99.9 463.3h0M99.3 462.4h0M100.5 453.9h0M103.3 451.9h0M108.3 457.8h0M111.4 461.9h0M106.4 460.5h0M105.0 458.5h0M108.0 455.5h0M99.9 459.0h0M95.8 461.7h0M111.6 458.9h0M94.6 470.6h0M109.7 459.4h0M111.2 451.7h0M98.6 465.6h0M93.6 470.9h0M95.4 454.0h0M107.6 459.3h0M97.7 459.9h0M111.6 455.9h0M105.9 451.3h0M96.3 457.7h0M109.4 455.8h0M94.7 461.4h0M101.0 458.3h0M104.3 454.4h0M114.1 456.3h0M112.3 460.8h0M112.0 449.7h0M96.6 464.9h0M100.1 463.0h0M109.2 462.7h0M115.2 454.7h0M107.8 456.6h0M109.9 450.3h0M99.9 467.8h0M101.8 469.7h0M97.7 452.2h0M102.8 463.3h0M105.2 457.8h0M99.9 454.6h0M101.7 470.2h0M107.5 460.4h0M101.0 472.5h0M98.8 457.9h0M105.8 455.8h0M95.8 455.5h0M104.9 459.2h0M105.0 449.5h0M113.4 452.5h0M115.0 459.7h0M111.6 458.1h0M110.2 461.3h0M97.4 463.7h0M101.4 465.0h0M99.2 461.3h0M98.6 455.3h0M105.1 461.4h0M98.8 461.8h0M100.3 457.0h0M109.2 450.4h0M104.9 465.5h0M89.0 458.4h0M101.2 456.3h0M104.8 460.9h0M104.0 462.7h0M118.7 452.6h0M107.1 449.3h0M117.9 457.8h0M100.8 460.5h0M106.1 450.0h0M108.9 462.6h0M104.1 458.8h0M95.4 453.9h0M100.0 446.8h0M92.4 464.8h0M109.3 452.9h0M114.4 454.5h0M90.0 462.7h0M107.0 460.1h0M100.7 462.4h0M98.5 456.5h0M104.9 463.2h0M112.5 455.8h0M108.9 455.6h0M100.4 463.2h0M106.4 453.6h0M103.9 455.0h0M117.1 451.5h0M93.5 459.9h0M107.6 465.8h0M99.5 463.2h0M106.3 462.1h0M96.4 473.4h0M102.4 468.2h0M109.0 468.3h0M99.1 457.3h0M103.1 469.0h0M103.0 457.7h0M100.8 460.0h0M99.5 463.0h0M103.5 460.2h0M104.9 458.9h0M107.5 459.3h0M97.6 471.4h0M97.2 451.1h0M108.7 448.9h0M92.8 458.4h0M106.3 459.9h0M102.0 461.2h0M112.4 457.1h0M116.8 463.0h0M106.5 458.3h0M98.4 454.7h0M96.0 466.3h0M105.8 468.6h0M104.2 470.4h0M104.9 458.7h0M114.7 454.5h0M117.3 454.1h0M108.1 460.6h0M105.2 458.1h0M102.9 457.5h0M110.3 464.7h0M107.1 466.3h0M115.7 453.3h0M98.9 459.1h0M104.1 456.1h0M98.4 456.3h0M107.8 450.7h0M115.3 451.9h0M107.2 453.8h0M106.7 459.6h0M104.0 456.7h0M106.3 453.2h0M101.1 459.0h0M109.2 442.8h0M116.6 454.7h0M110.5 454.6h0M113.1 462.2h0M101.4 458.5h0M115.8 452.3h0M94.4 459.7h0M105.4 470.3h0M118.6 453.1h0M105.3 465.6h0M99.2 460.3h0M96.3 467.0h0M109.1 451.5h0M110.8 452.4h0M105.6 457.0h0M93.0 460.6h0M106.2 462.3h0M102.2 465.1h0M113.3 461.0h0M111.9 450.1h0M106.4 455.0h0M107.6 457.3h0M116.0 456.5h0M112.5 447.8h0M97.2 461.7h0M110.2 461.8h0M98.1 463.2h0M100.2 460.9h0M109.4 450.2h0M97.5 461.1h0M105.7 462.3h0M115.1 459.0h0M104.0 450.1h0M96.0 466.0h0M103.7 457.6h0M101.6 455.6h0M103.9 469.6h0M119.1 454.8h0M103.0 454.0h0M103.1 454.2h0M111.8 456.0h0M102.7 451.9h0M96.6 462.2h0M106.4 460.8h0M104.7 451.6h0M106.6 458.9h0M112.6 457.0h0M109.0 452.9h0M109.2 458.5h0M105.8 462.0h0M106.5 460.3h0M115.4 449.3h0M97.2 467.7h0M111.3 453.4h0M108.5 458.0h0M101.2 461.1h0M105.2 458.6h0M104.3 448.0h0M99.2 467.6h0M107.4 460.0h0M109.1 457.2h0M101.3 464.1h0M105.1 456.3h0M113.5 453.3h0M107.7 460.0h0M95.1 452.2h0M93.9 460.6h0M93.2 461.8h0M110.6 454.0h0M102.9 456.9h0M102.9 455.5h0M104.6 460.2h0M102.7 464.3h0M117.0 454.6h0M111.9 460.5h0M115.5 455.8h0M101.5 468.8h0M112.6 463.3h0M108.2 454.4h0M96.6 458.8h0M98.7 458.9h0M99.5 459.7h0M113.2 458.2h0M107.9 460.0h0M101.5 461.8h0M108.0 453.4h0M100.4 458.9h0M105.6 457.2h0M105.4 459.7h0M93.2 448.5h0M111.7 456.4h0M106.8 460.4h0M89.8 463.0h0M107.5 465.2h0M116.2 456.8h0M93.4 468.9h0M107.1 448.8h0M108.6 461.1h0M98.3 463.2h0M105.7 459.4h0M93.1 452.5h0M92.5 457.0h0M106.9 455.9h0M103.9 451.9h0M97.5 470.0h0M99.4 455.5h0M107.2 461.6h0M96.6 465.3h0M118.4 467.0h0M101.0 461.2h0M111.2 463.6h0M108.2 454.5h0M97.0 456.8h0M108.2 458.9h0M109.0 463.6h0M106.5 454.9h0M105.1 464.4h0M112.6 457.9h0M109.7 456.3h0M115.1 454.4h0M112.1 455.6h0M95.7 460.5h0M102.3 461.1h0M108.9 459.0h0M109.7 452.2h0M95.0 449.7h0M106.9 461.3h0M105.6 454.7h0M106.0 461.3h0M109.4 451.6h0M100.3 463.5h0M107.9 455.9h0M99.8 459.8h0M107.8 457.0h0M100.6 463.2h0M99.5 452.0h0M113.8 460.8h0M101.9 466.1h0M106.5 459.7h0M105.4 449.5h0M106.6 462.6h0M103.7 459.5h0M109.2 465.6h0M98.9 459.5h0M109.5 455.3h0M112.0 460.4h0M110.8 443.7h0M106.1 456.0h0M111.5 454.2h0M96.9 450.3h0M106.0 453.0h0M100.4 462.6h0M107.6 459.2h0M107.3 466.7h0M113.3 459.5h0M90.0 459.5h0M106.2 462.5h0M104.5 461.2h0M109.6 456.9h0M98.4 456.1h0M107.2 468.0h0M117.0 462.0h0M102.3 462.0h0M101.1 456.4h0M109.5 450.0h0M90.1 460.7h0M109.9 461.1h0M103.4 450.2h0M109.6 462.7h0M94.3 463.7h0M97.7 464.8h0M102.2 464.6h0M105.8 471.7h0M111.1 459.6h0M102.3 459.4h0M114.8 455.6h0M105.6 459.3h0M109.1 456.8h0M101.6 461.3h0M99.5 456.3h0M108.7 458.6h0M107.5 450.0h0M104.1 465.7h0M112.2 452.8h0M101.2 454.4h0M116.3 456.4h0M99.6 465.6h0M103.6 460.3h0M105.7 450.0h0M101.9 453.3h0M103.2 462.9h0M114.6 466.2h0M111.7 456.7h0M103.7 461.2h0M111.4 458.7h0M100.8 456.4h0M103.3 466.0h0M111.6 451.8h0M102.1 460.7h0M100.6 456.8h0M107.1 451.0h0M97.7 458.6h0M97.6 457.8h0M102.9 457.8h0M109.6 465.0h0M111.7 456.9h0M103.0 456.9h0M102.5 462.6h0M96.4 460.4h0M106.1 464.6h0M104.5 463.6h0M111.2 453.6h0M95.7 463.8h0M94.9 464.8h0M91.9 460.5h0M101.3 454.6h0M107.7 456.7h0M112.9 449.6h0M95.6 463.9h0M108.3 461.9h0M101.2 459.8h0M116.4 456.0h0M111.6 465.2h0M113.5 451.9h0M108.6 465.0h0M109.8 451.7h0M104.8 452.7h0M102.0 461.6h0M110.6 455.0h0M100.1 453.5h0M94.9 471.7h0M106.7 462.8h0M95.7 458.6h0M108.1 456.2h0M114.4 453.4h0M104.2 452.5h0M109.5 458.4h0M94.8 457.0h0M96.5 454.0h0M105.2 466.9h0M115.6 449.7h0M101.0 456.9h0M106.5 456.9h0M92.6 461.7h0M107.3 469.7h0M107.2 460.4h0M106.5 462.9h0M105.7 463.6h0M112.9 466.5h0M103.0 447.6h0M99.9 466.1h0M97.7 464.0h0M108.9 457.3h0M112.9 461.2h0M98.6 466.0h0M105.3 449.2h0M97.5 464.5h0M103.9 458.7h0M115.6 459.4h0M90.6 455.3h0M106.8 461.6h0M104.3 460.2h0M100.0 465.4h0M110.8 458.0h0M94.7 453.0h0M102.9 464.0h0M98.5 462.3h0M106.0 454.0h0M110.8 461.1h0M113.4 454.2h0M107.7 466.8h0M102.8 466.2h0M111.6 449.2h0M103.3 464.3h0M109.3 456.6h0M114.9 453.4h0M109.7 455.6h0M96.6 469.3h0M97.0 458.9h0M101.5 463.4h0M106.7 449.5h0M101.2 462.9h0M106.9 450.9h0M103.5 452.7h0M106.1 458.2h0M102.4 454.1h0M103.2 466.1h0M110.9 449.7h0M109.7 465.4h0M116.2 457.5h0M99.9 462.4h0M96.4 467.3h0M114.1 455.2h0M103.6 473.0h0M107.0 460.7h0M101.4 457.7h0M105.1 461.1h0M102.3 458.6h0M98.3 462.3h0M96.4 460.4h0M105.1 456.0h0M102.7 465.0h0M115.4 453.1h0M107.3 462.0h0M112.8 453.0h0M101.9 460.2h0M108.8 454.3h0M104.4 466.5h0M103.2 469.2h0M103.3 459.4h0M105.9 463.6h0M117.4 444.2h0M93.9 458.0h0M102.8 464.4h0M105.2 449.2h0M110.6 471.6h0M108.2 462.9h0M113.8 464.0h0M103.9 459.2h0M97.4 455.6h0M94.6 459.8h0M102.5 455.5h0M110.3 460.9h0M103.8 453.9h0M110.2 451.7h0M106.1 467.3h0M103.8 452.9h0M98.4 459.1h0M96.5 471.4h0M114.4 468.0h0M98.2 453.5h0M103.1 446.5h0M99.5 458.1h0M96.0 465.2h0M99.3 462.0h0M101.8 457.7h0M97.7 455.8h0M105.2 463.8h0M107.0 455.1h0M103.3 456.4h0M107.9 457.8h0M107.4 466.0h0M101.2 462.2h0M105.1 473.7h0M90.8 465.1h0M109.9 459.9h0M106.5 446.2h0M97.3 459.6h0M99.0 462.2h0M98.0 459.0h0M105.1 454.7h0M104.1 456.5h0M101.1 455.7h0M103.3 457.0h0M94.9 465.1h0M105.0 461.3h0M101.2 455.1h0M107.3 456.7h0M98.6 458.1h0M103.8 465.0h0M110.3 466.1h0M102.2 463.1h0M116.6 451.3h0M100.5 464.5h0M104.7 458.1h0M96.2 456.8h0M116.2 460.1h0M111.1 468.6h0M107.6 461.3h0M111.2 455.8h0M114.0 457.0h0M105.0 468.8h0M105.4 456.4h0M103.7 464.1h0M112.5 456.2h0M87.0 456.7h0M117.4 450.4h0M105.0 462.5h0M93.2 467.7h0M106.4 457.8h0M96.9 456.6h0M105.8 460.3h0M106.2 459.6h0M112.8 458.1h0M98.2 473.2h0M107.5 458.2h0M114.7 460.3h0M98.3 465.7h0M116.2 468.9h0M111.2 458.8h0M108.1 472.7h0M91.0 461.3h0M103.1 453.5h0M103.3 463.0h0M114.3 453.5h0M106.8 465.9h0M111.3 460.6h0M109.2 461.8h0M104.4 455.3h0M97.5 463.4h0M102.7 465.5h0M104.4 456.6h0M104.7 459.7h0M107.4 465.1h0M109.7 456.7h0M106.0 460.3h0M112.4 462.4h0M106.8 461.1h0M103.9 451.8h0M102.3 461.7h0M96.1 464.6h0M111.1 458.1h0M115.9 466.6h0M111.9 462.3h0M100.6 462.8h0M110.3 452.9h0M107.8 462.9h0M106.6 459.7h0M104.2 467.5h0M102.9 462.5h0M103.7 466.0h0M105.5 454.7h0M100.6 461.0h0M105.1 459.8h0M99.9 457.7h0M98.3 465.4h0M104.6 457.6h0M105.1 457.4h0M103.9 456.1h0M87.0 468.9h0M107.5 448.8h0M107.2 463.4h0M100.3 464.4h0M118.1 455.6h0M108.3 464.9h0M110.3 458.2h0M105.2 457.7h0M94.3 473.0h0M111.5 453.8h0M98.6 463.9h0M106.5 446.3h0M103.0 457.4h0M99.8 462.1h0M91.8 470.4h0M103.5 463.2h0M101.3 467.0h0M103.9 456.8h0M97.1 460.5h0M109.9 457.9h0M99.9 457.6h0M101.4 459.1h0M117.3 453.0h0M105.0 447.9h0M97.3 454.5h0M108.2 459.9h0M93.5 461.5h0M102.3 465.0h0M102.8 457.7h0M98.0 457.2h0M100.4 465.3h0M108.3 456.0h0M102.2 462.8h0M98.4 458.9h0M99.4 457.7h0M100.2 459.9h0M107.9 453.1h0M106.3 457.4h0M93.4 459.7h0M113.9 456.3h0M113.3 459.0h0M104.3 462.2h0M95.9 456.9h0M108.0 464.5h0M97.3 453.4h0M108.5 458.4h0M104.9 459.7h0M114.4 458.3h0M93.5 461.6h0M100.0 459.0h0M109.4 463.3h0M104.6 465.8h0M99.9 456.1h0M97.3 461.7h0M114.6 449.4h0M97.6 448.4h0M111.8 461.8h0M98.6 458.8h0M102.2 460.9h0M105.0 460.5h0M111.7 448.1h0M115.3 458.6h0M115.8 449.4h0M110.6 447.8h0M114.7 455.7h0M104.0 460.6h0M99.4 459.0h0M112.7 454.6h0M104.6 468.9h0M109.8 460.4h0M101.2 461.2h0M97.7 461.0h0M109.7 467.0h0M98.5 460.2h0M98.4 451.6h0M113.1 461.6h0M102.5 457.6h0M105.7 446.3h0M98.8 454.5h0M103.7 452.0h0M93.5 452.8h0M111.0 451.5h0M91.2 463.2h0M110.5 465.4h0M108.0 456.9h0M87.8 465.1h0M94.6 463.8h0M96.2 465.0h0M106.7 463.7h0M106.4 465.7h0M98.1 451.7h0M105.0 450.7h0M118.5 451.6h0M103.4 470.9h0M105.8 455.8h0M107.7 463.7h0M110.1 453.1h0M90.7 463.7h0M94.5 463.3h0M101.7 468.8h0M97.2 460.6h0M106.5 458.7h0M102.8 462.2h0M95.0 469.8h0M100.5 461.9h0M97.3 468.4h0M104.3 469.1h0M105.6 463.3h0M99.2 460.1h0M111.9 454.6h0M119.1 453.0h0M107.2 456.4h0M92.9 459.4h0M111.2 450.4h0M116.1 449.9h0M99.0 451.2h0M114.1 470.7h0M113.5 459.4h0M104.7 456.1h0M110.6 451.8h0M111.1 462.8h0M97.8 455.0h0M99.4 456.3h0M105.8 464.6h0M100.6 461.1h0M114.6 458.3h0M107.0 458.6h0M103.7 459.9h0M108.2 453.7h0M106.5 461.1h0M111.7 456.9h0M115.1 454.9h0M104.9 456.8h0M104.2 466.4h0M97.9 463.4h0M116.9 456.1h0M104.3 452.8h0M97.3 453.9h0M106.0 462.8h0M96.5 460.1h0M110.9 451.1h0M107.6 459.8h0M105.8 466.3h0M95.3 462.9h0M116.8 451.0h0M106.6 460.8h0M92.8 469.0h0M101.5 461.4h0M100.3 451.4h0M107.6 462.1h0M96.4 459.4h0M116.8 464.6h0M106.7 454.3h0M105.6 460.1h0M100.7 461.2h0M94.6 466.0h0M108.1 471.8h0M103.0 458.8h0M100.2 467.6h0M106.6 458.3h0M108.8 455.1h0M103.8 464.2h0M103.2 462.1h0M104.3 458.5h0M112.5 449.5h0M114.4 456.5h0M103.0 479.7h0M101.5 460.3h0M101.5 457.8h0M104.4 451.4h0M111.0 452.6h0M98.2 452.2h0M107.0 462.0h0M108.5 458.2h0M105.8 461.2h0M104.5 459.4h0M117.2 461.5h0M107.2 465.9h0M115.6 460.1h0M94.8 449.4h0M100.8 456.3h0M109.5 457.4h0M110.1 461.5h0M104.1 444.0h0M109.0 466.1h0M105.5 460.9h0M105.9 467.9h0M92.6 459.3h0M100.6 457.2h0M108.6 451.3h0M103.0 456.7h0M104.2 455.2h0M108.2 447.5h0M102.5 468.0h0M108.3 460.5h0M99.6 457.4h0M106.7 446.5h0M98.9 469.1h0M97.3 450.3h0M99.2 456.0h0M99.8 454.7h0M99.8 457.8h0M117.2 455.1h0M105.6 463.7h0M104.7 461.1h0M93.4 458.8h0M100.1 469.3h0M103.2 466.9h0M99.5 466.6h0M113.6 468.0h0M98.8 456.4h0M100.3 457.3h0M102.1 456.2h0M97.9 459.4h0M98.9 466.2h0M101.3 462.3h0M105.1 456.7h0M107.0 464.6h0M99.6 461.6h0M113.0 451.5h0M105.5 455.2h0M105.7 451.2h0M113.5 453.1h0M97.3 458.3h0M110.3 455.5h0M107.3 459.9h0M107.7 460.2h0M94.7 462.1h0M104.6 470.1h0M102.1 454.0h0M106.3 462.4h0M114.1 454.2h0M103.3 461.6h0M104.7 455.3h0M101.1 456.7h0M98.6 466.1h0M98.6 452.6h0M105.8 459.3h0M111.7 447.0h0M107.8 446.9h0M101.8 461.1h0M98.1 459.5h0M109.4 467.7h0M97.2 453.1h0M119.9 451.7h0M110.1 456.8h0M105.0 460.0h0M100.5 458.7h0M94.6 455.4h0M106.1 462.6h0M91.4 470.7h0M103.5 462.0h0M102.8 461.7h0M116.8 459.4h0M96.8 469.1h0M111.9 459.2h0M101.4 457.4h0M112.0 461.0h0M98.4 457.6h0M108.3 459.4h0M107.5 451.9h0M119.7 450.0h0M102.0 465.1h0M103.4 458.1h0M106.6 463.6h0M100.3 458.9h0M108.4 466.7h0M104.7 458.3h0M109.2 471.6h0M96.4 467.8h0M106.4 458.0h0M93.6 458.8h0M103.4 457.5h0M115.7 464.4h0M94.3 457.7h0M100.4 452.6h0M106.8 459.7h0M107.7 464.7h0M101.3 458.9h0M103.0 455.2h0M108.4 455.8h0M98.4 461.4h0M106.7 464.5h0M113.7 465.0h0M101.1 460.3h0M95.8 459.3h0M106.6 451.3h0M104.9 449.1h0M110.4 455.6h0M101.1 452.2h0M102.8 464.2h0M113.4 453.1h0M110.6 451.9h0M113.2 462.8h0M97.8 452.9h0M107.8 462.6h0M100.0 462.3h0M99.4 463.5h0M105.5 458.6h0M104.1 452.9h0M109.7 459.8h0M108.5 463.9h0M112.2 443.4h0M99.4 462.6h0M112.4 454.2h0M101.9 459.0h0M111.5 457.7h0M99.1 461.0h0M117.0 450.1h0M116.4 459.6h0M93.2 459.8h0M111.7 452.9h0M105.1 456.5h0M108.4 452.4h0M103.7 456.6h0M107.6 465.5h0M94.8 459.7h0M108.3 471.4h0M101.1 452.0h0M89.3 453.5h0M97.5 458.9h0M102.0 453.2h0M110.7 462.9h0M103.5 462.3h0M110.7 449.5h0M101.5 459.6h0M108.0 455.4h0M119.2 466.2h0M100.8 462.0h0M112.6 456.2h0M105.6 461.6h0M100.6 462.5h0M114.6 453.6h0M112.7 449.6h0M103.5 460.2h0M112.0 456.2h0M107.8 449.6h0M105.2 459.2h0M115.1 446.1h0M100.4 451.7h0M101.1 460.5h0M106.6 460.9h0M106.8 463.2h0M101.2 457.6h0M100.0 453.1h0M95.1 459.1h0M108.2 455.6h0M96.8 462.6h0M112.9 457.2h0M108.9 455.6h0M105.4 464.6h0M101.4 457.1h0M102.4 462.9h0M106.8 461.5h0M116.6 454.7h0M108.5 460.0h0M100.1 455.2h0M117.8 456.9h0M101.6 457.7h0M102.7 459.0h0M115.6 447.2h0M110.1 458.1h0M111.3 452.8h0M107.3 453.6h0M110.1 460.0h0M107.5 453.1h0M110.7 457.8h0M118.9 452.3h0M99.6 464.8h0M91.3 466.6h0M100.7 454.2h0M96.8 464.2h0M107.1 459.8h0M102.7 470.9h0M110.0 466.8h0M114.0 459.0h0M104.6 464.7h0M94.7 449.8h0M108.7 453.8h0M98.2 456.3h0M106.3 461.7h0M105.8 461.6h0M99.0 465.3h0M112.3 458.3h0M99.7 463.9h0M110.4 455.3h0M106.1 454.9h0M100.7 465.4h0M103.2 459.9h0M113.0 460.7h0M102.5 457.7h0M117.8 450.4h0M97.5 458.5h0M114.0 457.8h0M93.5 460.5h0M98.0 449.1h0M109.3 451.9h0M92.2 461.9h0M106.9 457.9h0M97.8 460.8h0M100.4 468.7h0M101.7 462.6h0M104.3 464.9h0M105.7 466.6h0M104.2 465.4h0M102.3 465.7h0M88.5 465.3h0M114.4 456.4h0M117.6 451.5h0M109.8 460.8h0M102.1 457.2h0M100.9 465.0h0M105.7 455.8h0M108.7 461.3h0M102.8 467.3h0M107.2 464.9h0M108.7 454.7h0M110.2 463.8h0M100.8 451.5h0M106.4 459.3h0M97.4 455.0h0M104.9 459.2h0M102.8 453.4h0M100.7 461.2h0M102.8 456.2h0M113.8 461.6h0M116.7 465.1h0M94.2 469.9h0M99.2 468.2h0M112.4 457.8h0M107.6 457.2h0M107.4 456.5h0M94.1 458.4h0M103.8 455.3h0M110.7 460.6h0M106.8 455.8h0M101.9 463.1h0M99.7 456.9h0M112.7 468.2h0M109.7 464.4h0M112.8 454.4h0M96.2 474.7h0M103.0 463.3h0M115.4 459.8h0M98.0 462.1h0M104.8 456.7h0M117.3 460.6h0M101.0 465.6h0M109.3 461.7h0M119.2 457.2h0M98.0 463.8h0M92.3 463.6h0M112.6 457.3h0M98.1 452.9h0M105.2 459.7h0M108.4 463.8h0M112.2 454.0h0M108.1 468.3h0M110.4 454.3h0M107.4 452.0h0M106.7 461.7h0M111.2 454.9h0M108.6 460.8h0M103.2 456.6h0M93.6 466.2h0M99.0 464.0h0M101.4 466.7h0M100.9 457.1h0M105.9 457.8h0M106.6 464.7h0M103.9 464.0h0M96.1 457.8h0M105.9 460.0h0M101.7 458.8h0M101.5 459.3h0M107.1 449.3h0M102.1 448.9h0M114.4 459.7h0M100.8 466.2h0M105.4 450.7h0M104.5 457.5h0M101.6 461.4h0M94.3 461.7h0M105.9 461.6h0M97.3 461.2h0M106.2 450.6h0M106.9 455.7h0M109.2 459.5h0M119.8 445.9h0M114.6 458.2h0M95.5 470.4h0M110.2 459.8h0M107.8 460.9h0M106.2 458.0h0M103.5 463.1h0M109.0 452.8h0M82.5 458.1h0M95.4 460.4h0M112.3 463.4h0M108.8 463.0h0M108.1 451.4h0M102.3 459.3h0M100.2 457.7h0M107.0 451.3h0M105.3 457.0h0M96.5 468.2h0M110.9 456.2h0M97.9 461.5h0M105.2 446.6h0M111.5 468.0h0M105.8 452.0h0M111.3 455.7h0M100.9 465.9h0M109.5 457.6h0M106.7 462.9h0M98.0 449.6h0M103.0 455.1h0M100.4 457.7h0M102.1 452.9h0M102.8 451.2h0M103.3 464.9h0M108.6 449.8h0M108.3 463.5h0M100.5 466.5h0M107.0 455.9h0M104.9 451.1h0M95.0 461.1h0M105.1 454.8h0M101.2 457.3h0" stroke="#1818d8" stroke-width="1" stroke-linecap="square" opacity="0.8" fill="none"/>
<path d="M112.2 453.5h0M110.3 446.3h0M109.4 447.8h0M112.5 449.0h0M115.0 450.9h0M116.3 443.8h0M118.1 440.1h0M109.0 445.4h0M116.6 452.7h0M109.4 447.0h0M119.3 448.2h0M113.6 444.9h0M116.1 451.0h0M116.7 453.2h0M112.8 445.0h0M117.9 446.3h0M113.4 452.2h0M117.5 450.1h0M106.3 455.2h0M113.8 454.1h0M114.8 447.5h0M105.4 452.8h0M110.5 456.8h0M116.9 450.8h0M106.5 456.4h0M111.6 450.0h0M118.2 451.3h0M115.8 439.8h0M115.4 456.2h0M110.2 447.9h0M115.6 448.8h0M116.8 445.0h0M118.6 444.4h0M118.6 448.8h0M110.3 444.4h0M108.3 451.9h0M113.1 442.1h0M110.4 450.5h0M114.9 441.8h0M107.1 453.4h0M118.2 440.1h0M113.4 450.6h0M115.8 444.3h0M114.3 443.8h0M117.3 440.4h0M116.6 444.2h0M115.5 440.2h0M110.0 440.7h0M113.3 454.4h0M112.7 449.9h0M113.9 445.1h0M115.8 445.0h0M115.3 450.0h0M108.6 449.8h0M109.0 453.7h0M112.0 447.5h0M106.8 444.2h0M108.0 447.8h0M118.5 449.7h0M112.6 443.7h0M111.6 446.8h0M103.5 453.9h0M105.2 446.5h0M110.7 451.1h0M116.8 448.0h0M111.7 452.0h0M109.3 447.2h0M108.1 452.0h0M115.2 454.5h0M119.9 440.2h0M113.5 443.8h0M116.6 449.2h0M109.5 451.5h0M104.5 449.5h0M114.4 443.2h0M115.2 450.9h0M114.6 446.3h0M113.8 447.6h0M115.0 449.8h0M103.0 456.6h0M112.4 442.3h0M118.8 442.3h0M111.8 447.3h0M112.5 449.5h0M112.0 446.5h0M110.4 448.2h0M103.6 452.8h0M112.6 450.8h0M117.7 453.1h0M113.6 442.3h0M112.6 455.0h0M113.7 451.5h0M111.6 447.4h0M112.2 445.0h0M114.3 445.7h0M114.6 445.8h0M108.0 452.4h0M103.5 451.9h0M118.6 444.7h0M113.8 448.8h0M114.8 457.4h0M114.9 446.9h0M112.0 451.0h0M119.5 445.5h0M101.7 458.4h0M113.5 448.6h0M105.9 460.0h0M111.8 447.2h0M113.2 451.1h0M118.6 448.1h0M106.5 450.7h0M109.6 452.4h0M107.0 457.9h0M109.9 449.1h0M116.1 450.4h0M115.3 452.5h0M108.5 451.4h0M113.0 450.3h0M113.4 445.5h0M113.8 447.5h0M107.8 457.4h0M111.1 450.5h0M110.6 452.7h0M102.9 458.5h0M118.0 449.2h0M116.4 449.7h0M108.2 451.6h0M116.2 448.2h0M110.4 449.8h0M117.5 450.8h0M118.9 455.5h0M110.4 451.2h0M118.5 446.8h0M102.7 450.3h0M115.6 449.4h0M113.8 452.4h0M115.0 447.8h0M112.4 454.6h0M114.5 452.9h0M114.1 446.7h0M112.2 449.3h0M112.8 449.7h0M115.7 445.1h0M114.2 443.8h0M109.0 447.6h0M116.9 444.3h0M110.9 447.1h0M112.1 448.4h0M112.6 443.4h0M107.4 448.9h0M107.0 454.0h0M112.1 449.1h0M112.0 450.0h0M118.6 447.9h0M118.4 445.5h0M112.8 451.0h0M112.5 448.3h0M114.3 450.9h0M116.6 447.7h0M111.4 444.2h0M115.4 449.7h0M117.2 443.4h0M110.7 444.1h0M112.3 446.3h0M112.5 453.2h0M115.7 450.7h0M117.4 443.7h0M118.5 448.9h0M115.5 450.2h0M109.2 446.0h0M107.5 450.1h0M111.7 452.4h0M114.5 443.2h0M111.8 447.5h0M114.2 449.2h0M116.7 443.5h0M110.2 449.0h0M108.3 447.7h0M111.9 443.6h0M107.0 453.9h0M115.8 451.3h0M110.4 451.6h0M109.3 448.8h0M109.7 447.3h0M110.6 457.5h0M112.7 453.3h0M114.5 437.9h0M109.2 446.7h0M113.2 452.0h0M107.4 452.8h0M114.8 451.8h0M113.6 440.6h0M109.2 445.3h0M111.3 444.9h0M113.7 450.8h0M114.9 448.0h0M117.3 447.8h0M108.4 445.7h0M117.6 452.0h0M113.1 447.0h0M113.5 461.7h0M116.9 446.0h0M114.8 438.2h0M115.9 445.7h0M112.0 446.1h0M115.8 453.5h0M115.0 447.9h0M116.2 441.5h0M109.1 449.8h0M118.6 443.4h0M111.2 451.6h0M108.9 449.2h0M114.1 450.5h0M118.2 449.0h0M111.7 448.9h0M115.3 444.0h0M113.1 446.6h0M119.8 444.1h0M108.4 453.7h0M114.7 449.3h0M118.2 448.7h0M117.6 442.4h0M105.8 455.9h0M111.8 449.0h0M110.4 459.3h0M114.4 446.9h0M111.6 451.0h0M113.6 446.9h0M118.8 446.9h0M117.1 446.4h0M109.8 447.0h0M117.6 448.5h0M114.7 453.1h0M116.5 447.7h0M111.6 450.4h0M113.6 443.4h0M113.1 453.8h0M118.3 449.1h0M106.3 452.3h0M113.8 447.8h0M109.3 452.6h0M112.4 451.7h0M115.4 444.4h0M108.2 451.4h0M108.7 460.0h0M103.7 451.2h0M115.5 449.3h0M115.0 442.9h0M113.7 448.4h0M111.9 447.0h0M117.2 444.9h0M111.7 447.5h0M118.4 444.2h0M114.7 440.0h0M109.7 447.5h0M117.2 443.6h0M117.2 447.4h0M110.9 447.3h0M118.0 452.9h0M115.9 443.8h0M111.2 454.9h0M103.6 450.7h0M114.7 442.1h0M117.3 439.2h0M111.4 445.1h0M112.8 441.4h0M106.9 453.8h0M106.9 451.8h0M115.5 454.2h0M111.9 449.8h0M114.5 448.7h0M106.6 445.9h0M116.7 452.1h0M116.4 452.7h0M112.6 444.0h0M114.2 442.3h0M114.3 443.7h0M109.4 446.5h0M109.2 448.2h0M103.2 452.3h0M108.4 455.6h0M118.0 447.5h0M112.4 444.8h0M116.2 451.0h0M112.6 450.2h0M107.1 451.5h0M107.3 458.2h0M114.4 453.7h0M115.5 452.4h0M106.0 459.5h0M111.0 451.3h0M115.4 447.8h0M117.9 442.9h0M110.2 448.2h0M113.4 442.5h0M114.9 444.2h0M108.8 444.5h0M112.0 445.5h0M107.5 449.6h0M113.6 447.4h0M107.7 448.3h0M112.2 449.4h0M113.5 448.4h0M118.3 446.9h0M115.0 451.9h0M116.2 453.2h0M111.2 449.8h0M118.9 435.5h0M113.7 452.0h0M115.8 447.9h0M107.2 453.5h0M115.4 450.4h0M114.1 457.6h0M112.3 451.7h0M114.7 445.1h0M119.5 442.7h0M111.6 446.2h0M110.9 445.5h0M109.3 448.3h0M116.0 450.7h0M116.0 444.7h0M110.9 445.4h0M114.3 452.3h0M114.5 453.1h0M110.8 443.5h0M113.7 451.5h0M118.8 447.5h0M113.1 458.1h0M117.0 447.0h0M112.4 453.5h0M113.3 449.3h0M113.3 452.3h0M110.5 449.0h0M116.1 445.3h0M110.1 446.2h0M114.3 444.7h0M110.3 449.0h0M107.4 462.1h0M114.8 442.8h0M110.6 449.8h0M115.1 446.4h0M114.1 450.7h0M113.8 451.2h0M107.5 449.7h0M113.0 443.5h0M112.6 442.6h0M115.0 445.6h0M115.2 447.6h0M111.5 450.8h0M109.8 445.4h0M110.7 443.6h0M102.2 455.8h0M114.2 457.4h0M111.7 448.7h0M117.2 446.8h0M115.4 441.3h0M111.0 451.9h0M109.6 445.2h0M110.3 449.7h0M111.3 452.6h0M114.5 452.3h0M112.8 447.6h0M117.6 447.2h0M109.0 455.1h0M113.3 449.8h0M108.9 451.7h0M118.8 444.3h0M111.6 450.6h0M110.0 450.8h0M118.1 446.7h0M111.5 454.0h0M108.2 447.3h0M116.8 450.2h0M105.8 449.4h0M114.2 449.4h0M112.2 447.6h0M107.6 451.8h0M117.7 444.6h0M107.7 453.1h0M106.6 447.9h0M113.8 453.4h0M109.0 446.1h0M108.0 453.9h0M109.4 450.8h0M118.9 450.0h0M109.3 445.8h0M116.0 450.5h0M117.5 446.2h0M107.6 441.0h0M113.1 442.0h0M111.5 447.3h0M107.6 450.0h0M119.2 443.0h0M108.9 456.5h0M111.1 456.3h0M107.5 451.7h0M112.8 448.1h0M118.0 445.9h0M107.8 454.6h0M109.4 453.0h0M113.4 447.0h0M112.8 451.7h0M113.8 448.7h0M112.8 444.5h0M108.4 444.1h0M115.9 450.7h0M115.7 449.7h0M112.3 449.5h0M117.0 450.2h0M116.3 445.1h0M109.8 452.1h0M113.0 446.9h0M119.2 448.2h0M116.9 453.4h0M112.4 448.8h0M117.8 440.5h0M119.5 446.9h0M108.6 447.1h0M111.6 452.1h0M112.7 450.3h0M115.4 444.9h0M103.0 462.7h0M113.0 448.3h0M118.2 445.1h0M113.4 448.6h0M113.6 447.0h0M116.6 453.4h0M107.6 455.1h0M117.9 446.6h0M114.6 451.9h0M112.5 445.0h0M112.9 448.4h0M117.6 439.6h0M114.4 446.7h0M111.8 444.7h0M115.1 451.1h0M110.6 451.9h0M111.6 444.7h0M118.0 445.7h0M110.9 446.7h0M102.6 453.9h0M111.7 452.7h0M119.8 441.6h0M109.6 449.4h0M115.6 449.7h0M108.1 457.0h0M111.8 451.4h0M112.9 454.3h0M116.6 446.5h0M118.4 449.1h0M115.9 447.5h0M117.4 445.7h0M104.8 444.7h0M118.1 441.7h0M117.1 453.8h0M114.9 444.2h0M120.0 440.6h0M110.5 449.9h0M110.2 443.6h0M114.3 450.6h0M118.3 452.4h0M118.3 451.2h0M112.5 448.6h0M111.2 446.9h0M114.3 445.0h0M110.1 454.9h0M109.9 450.8h0M113.5 452.4h0M109.4 454.6h0M111.4 444.9h0M109.0 448.1h0M112.5 453.9h0M110.8 455.8h0M110.4 452.2h0M118.3 450.3h0M108.9 453.5h0M115.6 444.8h0M115.2 446.4h0M115.5 448.9h0M102.2 450.4h0M111.1 452.0h0M117.1 445.3h0M110.0 448.5h0M108.7 449.9h0M113.8 454.2h0M113.4 446.4h0M106.4 455.2h0M118.9 447.0h0M111.0 445.4h0M115.8 458.0h0M113.5 445.0h0M102.7 457.7h0M105.7 450.5h0M112.8 446.4h0M115.9 441.2h0M108.2 452.4h0M105.8 451.9h0M107.2 444.1h0M116.3 451.0h0M112.5 453.4h0M112.2 453.3h0M119.6 444.2h0M111.5 453.7h0M106.1 453.5h0M118.8 456.6h0M116.0 442.7h0M112.5 443.7h0M118.0 453.4h0M107.9 452.9h0M113.0 449.4h0M114.5 446.1h0M117.8 446.0h0M108.7 455.6h0M108.8 447.9h0M113.1 452.6h0M117.0 440.7h0M108.4 446.7h0M115.1 451.1h0M112.3 451.5h0M103.2 459.2h0M115.0 443.0h0M108.7 457.7h0M110.6 450.5h0M106.2 453.4h0M112.5 452.4h0M112.3 451.3h0M108.5 448.3h0M105.1 449.9h0M110.1 448.4h0M115.8 447.7h0M111.5 450.3h0M113.3 452.6h0M110.0 441.0h0M113.5 454.9h0M112.8 446.9h0M110.1 452.3h0M112.8 445.6h0M105.8 452.0h0M117.3 447.3h0M115.5 448.5h0M114.9 448.2h0M111.5 447.6h0M117.7 451.4h0M111.1 453.0h0M114.7 450.0h0M115.3 446.9h0M115.3 448.0h0M112.8 455.0h0M117.5 449.1h0M111.8 455.9h0M111.0 452.0h0M110.6 452.5h0M108.3 448.8h0M112.2 449.1h0M114.0 445.3h0M114.6 443.2h0M114.6 447.3h0M110.8 452.0h0M113.9 444.7h0M112.3 441.7h0M110.0 451.3h0M109.2 453.5h0M113.3 450.3h0M117.4 439.8h0M108.9 447.4h0M108.1 445.8h0" stroke="#1818d8" stroke-width="1" stroke-linecap="square" opacity="0.8" fill="none"/>
<ellipse cx="104" cy="460" rx="11" ry="7.5" transform="rotate(-28 104 460)" fill="#1010d0" filter="url(#bl1)"/>
<ellipse cx="112.5" cy="449" rx="9" ry="4.5" transform="rotate(-50 112.5 449)" fill="#1414d4" filter="url(#bl1)"/>
<path d="M123.0 443.7h0M120.2 445.5h0M128.0 438.2h0M131.0 436.7h0M120.4 447.1h0M120.9 446.1h0M120.3 448.7h0M123.6 446.0h0M125.2 443.7h0M124.6 432.6h0M123.5 444.9h0M123.3 445.9h0M126.2 439.5h0M128.2 431.2h0M123.9 444.2h0M126.2 437.7h0M124.3 441.5h0M125.3 445.5h0M127.4 436.1h0M124.0 444.1h0M129.2 440.3h0M127.8 440.5h0M119.7 443.2h0M125.8 434.1h0M121.6 436.7h0M127.0 441.9h0M121.3 445.6h0M123.4 440.6h0M122.4 444.3h0M124.7 435.5h0M129.3 436.0h0M122.9 439.8h0M122.1 449.3h0M123.5 444.1h0M125.3 439.7h0M127.0 439.6h0M120.3 446.9h0M122.6 444.2h0M130.4 437.1h0M132.8 435.4h0M120.4 450.4h0M126.7 444.0h0M121.0 439.7h0M123.6 443.3h0M124.5 441.2h0M123.7 440.4h0M125.5 442.0h0M133.4 435.6h0M126.2 440.9h0M127.8 441.0h0M124.4 447.8h0M124.5 447.4h0M125.5 440.1h0M123.4 440.3h0M126.5 443.4h0M121.1 451.0h0M120.7 445.5h0M129.4 440.8h0M124.3 436.2h0M121.3 446.3h0M121.4 440.4h0M127.1 436.5h0M125.4 439.7h0M123.7 440.1h0M121.7 446.2h0M124.3 431.5h0M127.3 440.6h0M123.4 447.3h0M124.8 444.8h0M122.2 443.3h0M123.6 444.9h0M121.7 444.4h0M123.4 448.6h0M123.0 438.5h0M130.7 432.6h0M122.2 443.1h0M127.4 439.8h0M128.8 434.8h0M120.6 439.6h0M125.6 438.1h0M122.6 440.1h0M130.6 433.6h0M124.7 444.9h0M122.1 439.9h0M124.8 442.9h0M124.2 437.3h0M125.4 437.6h0M122.2 445.8h0M125.2 445.8h0M126.0 441.1h0M128.8 437.3h0M122.1 443.1h0M125.4 439.3h0M123.5 445.9h0M126.5 438.9h0M124.3 442.5h0M124.3 443.6h0M129.1 441.3h0M125.8 445.5h0M130.8 437.6h0M121.8 447.5h0M123.9 438.9h0M123.1 438.4h0M125.2 441.0h0M123.3 438.9h0M122.3 436.2h0M123.3 442.0h0M130.5 441.7h0M125.2 440.3h0M124.3 442.5h0M124.8 440.6h0M126.8 438.4h0M119.7 443.2h0M120.0 450.1h0M127.6 440.1h0M122.7 445.5h0M126.8 439.0h0M125.2 440.5h0M128.7 438.0h0M123.6 437.8h0M122.4 436.0h0M123.7 440.6h0M125.2 440.2h0M120.1 451.4h0M125.2 437.1h0M123.2 444.4h0M122.2 445.0h0M130.4 435.2h0M127.8 434.0h0M123.5 446.0h0M128.9 437.7h0M124.7 440.0h0M130.8 430.5h0M126.2 436.6h0M123.6 439.7h0M120.2 445.6h0M127.4 440.0h0M121.5 448.2h0M124.1 441.5h0M125.1 440.9h0M125.0 440.9h0M127.9 442.6h0M130.0 436.5h0M123.9 441.0h0M128.6 437.9h0M120.1 441.1h0M126.1 435.4h0M120.7 449.0h0M126.1 436.4h0M123.6 439.4h0M120.2 445.1h0M120.1 442.1h0M125.7 441.0h0M126.1 439.9h0M124.2 445.3h0M126.3 445.9h0M121.7 450.0h0M126.1 430.6h0M120.4 445.3h0M126.0 445.7h0M125.3 440.7h0M127.1 438.9h0M126.7 438.7h0M123.5 436.8h0M121.0 449.0h0M123.9 441.7h0M122.9 439.4h0M124.8 442.5h0M126.2 446.2h0M121.9 444.7h0M121.7 440.2h0M124.5 440.8h0M124.4 437.5h0M123.6 440.6h0M126.5 439.7h0M123.1 439.3h0M120.8 446.9h0M121.9 444.9h0M122.5 442.4h0M120.3 446.3h0M123.2 441.9h0M120.7 446.3h0M123.9 441.6h0M121.5 448.4h0M121.8 443.4h0M123.3 439.5h0M128.2 437.5h0M122.5 441.5h0M128.0 445.0h0M126.4 437.0h0M128.7 443.3h0M126.2 439.6h0M124.1 443.3h0M129.2 437.6h0M125.0 442.2h0M121.0 445.4h0M122.4 440.6h0M126.8 441.3h0M126.8 445.2h0M127.1 441.2h0M122.3 443.5h0M121.6 453.8h0M130.1 440.5h0M128.6 439.5h0M121.8 436.7h0M125.7 442.1h0M122.9 438.4h0M126.8 439.2h0M122.0 443.3h0M127.4 438.1h0M126.1 437.1h0M124.7 440.7h0M120.3 447.7h0M122.4 440.6h0M123.8 446.9h0M123.7 444.3h0M123.1 446.0h0M124.3 440.7h0M126.5 434.0h0M122.3 445.2h0M126.7 436.9h0M124.1 445.1h0M124.3 437.2h0M124.7 435.4h0M125.7 442.1h0M127.7 436.7h0M126.2 443.5h0M127.2 442.6h0M120.9 438.5h0M120.6 448.4h0M122.2 445.3h0M124.8 440.8h0M123.8 446.3h0M126.8 445.8h0M124.5 440.1h0M127.2 436.0h0M127.2 439.5h0M120.5 450.8h0M123.6 441.8h0M124.3 445.1h0M122.3 450.5h0M124.8 438.0h0M123.7 447.8h0M129.0 430.1h0M129.2 439.0h0M127.8 431.5h0M122.3 440.6h0M121.2 440.1h0M125.2 438.2h0M125.5 438.9h0M122.1 442.9h0M122.1 443.6h0M125.2 437.3h0M125.2 437.9h0M123.7 442.7h0M123.6 439.6h0M124.7 441.1h0M122.5 439.1h0M125.7 432.8h0M124.5 444.2h0M121.7 441.6h0M122.7 444.1h0M120.1 443.4h0M122.2 438.3h0M121.6 441.4h0M123.0 449.0h0M123.4 439.2h0M121.4 446.8h0M124.3 439.1h0M125.2 439.9h0M124.2 435.6h0M126.4 442.4h0M125.2 443.1h0M127.3 437.6h0M128.1 441.9h0M123.3 440.3h0M132.3 436.0h0M128.3 439.8h0M123.7 438.0h0" stroke="#e060f0" stroke-width="1" stroke-linecap="square" opacity="0.6" fill="none"/>
<ellipse cx="124.3" cy="436.5" rx="3" ry="6.5" transform="rotate(38 124.3 436.5)" fill="#a820e0" filter="url(#bl1)"/>
<ellipse cx="123" cy="443" rx="2.2" ry="5" transform="rotate(30 123 443)" fill="#d050e8" opacity="0.8" filter="url(#bl1)"/>
<rect x="46.5" y="408.5" width="104.1" height="89.19999999999999" fill="none" stroke="#808080" stroke-width="1"/>
<line x1="44.0" y1="497.7" x2="46.5" y2="497.7" stroke="#555" stroke-width="0.8"/>
<line x1="45.0" y1="491.70197733639515" x2="46.5" y2="491.70197733639515" stroke="#555" stroke-width="0.8"/>
<line x1="45.0" y1="488.1933589997107" x2="46.5" y2="488.1933589997107" stroke="#555" stroke-width="0.8"/>
<line x1="45.0" y1="485.70395467279036" x2="46.5" y2="485.70395467279036" stroke="#555" stroke-width="0.8"/>
<line x1="45.0" y1="483.7730226636048" x2="46.5" y2="483.7730226636048" stroke="#555" stroke-width="0.8"/>
<line x1="45.0" y1="482.19533633610587" x2="46.5" y2="482.19533633610587" stroke="#555" stroke-width="0.8"/>
<line x1="45.0" y1="480.8614215527159" x2="46.5" y2="480.8614215527159" stroke="#555" stroke-width="0.8"/>
<line x1="45.0" y1="479.7059320091855" x2="46.5" y2="479.7059320091855" stroke="#555" stroke-width="0.8"/>
<line x1="45.0" y1="478.68671799942143" x2="46.5" y2="478.68671799942143" stroke="#555" stroke-width="0.8"/>
<line x1="44.0" y1="477.775" x2="46.5" y2="477.775" stroke="#555" stroke-width="0.8"/>
<line x1="45.0" y1="471.7769773363952" x2="46.5" y2="471.7769773363952" stroke="#555" stroke-width="0.8"/>
<line x1="45.0" y1="468.2683589997107" x2="46.5" y2="468.2683589997107" stroke="#555" stroke-width="0.8"/>
<line x1="45.0" y1="465.77895467279035" x2="46.5" y2="465.77895467279035" stroke="#555" stroke-width="0.8"/>
<line x1="45.0" y1="463.8480226636048" x2="46.5" y2="463.8480226636048" stroke="#555" stroke-width="0.8"/>
<line x1="45.0" y1="462.2703363361059" x2="46.5" y2="462.2703363361059" stroke="#555" stroke-width="0.8"/>
<line x1="45.0" y1="460.93642155271596" x2="46.5" y2="460.93642155271596" stroke="#555" stroke-width="0.8"/>
<line x1="45.0" y1="459.78093200918556" x2="46.5" y2="459.78093200918556" stroke="#555" stroke-width="0.8"/>
<line x1="45.0" y1="458.7617179994215" x2="46.5" y2="458.7617179994215" stroke="#555" stroke-width="0.8"/>
<line x1="44.0" y1="457.85" x2="46.5" y2="457.85" stroke="#555" stroke-width="0.8"/>
<line x1="45.0" y1="451.8519773363952" x2="46.5" y2="451.8519773363952" stroke="#555" stroke-width="0.8"/>
<line x1="45.0" y1="448.34335899971074" x2="46.5" y2="448.34335899971074" stroke="#555" stroke-width="0.8"/>
<line x1="45.0" y1="445.85395467279034" x2="46.5" y2="445.85395467279034" stroke="#555" stroke-width="0.8"/>
<line x1="45.0" y1="443.92302266360485" x2="46.5" y2="443.92302266360485" stroke="#555" stroke-width="0.8"/>
<line x1="45.0" y1="442.3453363361059" x2="46.5" y2="442.3453363361059" stroke="#555" stroke-width="0.8"/>
<line x1="45.0" y1="441.01142155271594" x2="46.5" y2="441.01142155271594" stroke="#555" stroke-width="0.8"/>
<line x1="45.0" y1="439.85593200918555" x2="46.5" y2="439.85593200918555" stroke="#555" stroke-width="0.8"/>
<line x1="45.0" y1="438.83671799942147" x2="46.5" y2="438.83671799942147" stroke="#555" stroke-width="0.8"/>
<line x1="44.0" y1="437.925" x2="46.5" y2="437.925" stroke="#555" stroke-width="0.8"/>
<line x1="45.0" y1="431.92697733639517" x2="46.5" y2="431.92697733639517" stroke="#555" stroke-width="0.8"/>
<line x1="45.0" y1="428.41835899971073" x2="46.5" y2="428.41835899971073" stroke="#555" stroke-width="0.8"/>
<line x1="45.0" y1="425.9289546727904" x2="46.5" y2="425.9289546727904" stroke="#555" stroke-width="0.8"/>
<line x1="45.0" y1="423.99802266360484" x2="46.5" y2="423.99802266360484" stroke="#555" stroke-width="0.8"/>
<line x1="45.0" y1="422.4203363361059" x2="46.5" y2="422.4203363361059" stroke="#555" stroke-width="0.8"/>
<line x1="45.0" y1="421.08642155271593" x2="46.5" y2="421.08642155271593" stroke="#555" stroke-width="0.8"/>
<line x1="45.0" y1="419.93093200918554" x2="46.5" y2="419.93093200918554" stroke="#555" stroke-width="0.8"/>
<line x1="45.0" y1="418.91171799942146" x2="46.5" y2="418.91171799942146" stroke="#555" stroke-width="0.8"/>
<line x1="44.0" y1="418" x2="46.5" y2="418" stroke="#555" stroke-width="0.8"/>
<line x1="56.0" y1="497.7" x2="56.0" y2="500.2" stroke="#555" stroke-width="0.8"/>
<line x1="63.11935939745316" y1="497.7" x2="63.11935939745316" y2="499.2" stroke="#555" stroke-width="0.8"/>
<line x1="67.28391767412002" y1="497.7" x2="67.28391767412002" y2="499.2" stroke="#555" stroke-width="0.8"/>
<line x1="70.23871879490632" y1="497.7" x2="70.23871879490632" y2="499.2" stroke="#555" stroke-width="0.8"/>
<line x1="72.53064060254685" y1="497.7" x2="72.53064060254685" y2="499.2" stroke="#555" stroke-width="0.8"/>
<line x1="74.40327707157317" y1="497.7" x2="74.40327707157317" y2="499.2" stroke="#555" stroke-width="0.8"/>
<line x1="75.98656864633718" y1="497.7" x2="75.98656864633718" y2="499.2" stroke="#555" stroke-width="0.8"/>
<line x1="77.35807819235947" y1="497.7" x2="77.35807819235947" y2="499.2" stroke="#555" stroke-width="0.8"/>
<line x1="78.56783534824004" y1="497.7" x2="78.56783534824004" y2="499.2" stroke="#555" stroke-width="0.8"/>
<line x1="79.65" y1="497.7" x2="79.65" y2="500.2" stroke="#555" stroke-width="0.8"/>
<line x1="86.76935939745316" y1="497.7" x2="86.76935939745316" y2="499.2" stroke="#555" stroke-width="0.8"/>
<line x1="90.93391767412001" y1="497.7" x2="90.93391767412001" y2="499.2" stroke="#555" stroke-width="0.8"/>
<line x1="93.88871879490631" y1="497.7" x2="93.88871879490631" y2="499.2" stroke="#555" stroke-width="0.8"/>
<line x1="96.18064060254684" y1="497.7" x2="96.18064060254684" y2="499.2" stroke="#555" stroke-width="0.8"/>
<line x1="98.05327707157318" y1="497.7" x2="98.05327707157318" y2="499.2" stroke="#555" stroke-width="0.8"/>
<line x1="99.63656864633717" y1="497.7" x2="99.63656864633717" y2="499.2" stroke="#555" stroke-width="0.8"/>
<line x1="101.00807819235946" y1="497.7" x2="101.00807819235946" y2="499.2" stroke="#555" stroke-width="0.8"/>
<line x1="102.21783534824003" y1="497.7" x2="102.21783534824003" y2="499.2" stroke="#555" stroke-width="0.8"/>
<line x1="103.3" y1="497.7" x2="103.3" y2="500.2" stroke="#555" stroke-width="0.8"/>
<line x1="110.41935939745315" y1="497.7" x2="110.41935939745315" y2="499.2" stroke="#555" stroke-width="0.8"/>
<line x1="114.58391767412002" y1="497.7" x2="114.58391767412002" y2="499.2" stroke="#555" stroke-width="0.8"/>
<line x1="117.5387187949063" y1="497.7" x2="117.5387187949063" y2="499.2" stroke="#555" stroke-width="0.8"/>
<line x1="119.83064060254684" y1="497.7" x2="119.83064060254684" y2="499.2" stroke="#555" stroke-width="0.8"/>
<line x1="121.70327707157315" y1="497.7" x2="121.70327707157315" y2="499.2" stroke="#555" stroke-width="0.8"/>
<line x1="123.28656864633716" y1="497.7" x2="123.28656864633716" y2="499.2" stroke="#555" stroke-width="0.8"/>
<line x1="124.65807819235945" y1="497.7" x2="124.65807819235945" y2="499.2" stroke="#555" stroke-width="0.8"/>
<line x1="125.86783534824002" y1="497.7" x2="125.86783534824002" y2="499.2" stroke="#555" stroke-width="0.8"/>
<line x1="126.94999999999999" y1="497.7" x2="126.94999999999999" y2="500.2" stroke="#555" stroke-width="0.8"/>
<line x1="134.06935939745316" y1="497.7" x2="134.06935939745316" y2="499.2" stroke="#555" stroke-width="0.8"/>
<line x1="138.23391767412" y1="497.7" x2="138.23391767412" y2="499.2" stroke="#555" stroke-width="0.8"/>
<line x1="141.1887187949063" y1="497.7" x2="141.1887187949063" y2="499.2" stroke="#555" stroke-width="0.8"/>
<line x1="143.48064060254683" y1="497.7" x2="143.48064060254683" y2="499.2" stroke="#555" stroke-width="0.8"/>
<line x1="145.35327707157316" y1="497.7" x2="145.35327707157316" y2="499.2" stroke="#555" stroke-width="0.8"/>
<line x1="146.93656864633718" y1="497.7" x2="146.93656864633718" y2="499.2" stroke="#555" stroke-width="0.8"/>
<line x1="148.30807819235946" y1="497.7" x2="148.30807819235946" y2="499.2" stroke="#555" stroke-width="0.8"/>
<line x1="149.51783534824003" y1="497.7" x2="149.51783534824003" y2="499.2" stroke="#555" stroke-width="0.8"/>
<line x1="150.6" y1="497.7" x2="150.6" y2="500.2" stroke="#555" stroke-width="0.8"/>
<line x1="119.5" y1="408.5" x2="119.5" y2="497.7" stroke="#777" stroke-width="1"/>
<line x1="46.5" y1="451.5" x2="150.6" y2="451.5" stroke="#777" stroke-width="1"/>
<text x="78.2" y="402.3" font-size="8.1" text-anchor="start" textLength="38.8" lengthAdjust="spacingAndGlyphs" fill="#000" stroke="#000" stroke-width="0.15">At baseline</text>
<text x="125.4" y="419.3" font-size="7.6" text-anchor="start" textLength="21" lengthAdjust="spacingAndGlyphs" fill="#111" stroke="#111" stroke-width="0.2">10.1%</text>
<text x="126.4" y="486.8" font-size="7.6" text-anchor="start" textLength="17.5" lengthAdjust="spacingAndGlyphs" fill="#111" stroke="#111" stroke-width="0.2">1.1%</text>
<text transform="translate(32,451.5) rotate(-90)" font-size="8.6" text-anchor="middle" textLength="20.5" lengthAdjust="spacingAndGlyphs" fill="#111" stroke="#111" stroke-width="0.25">CD38</text>
<text x="81.4" y="520.6" font-size="8.6" text-anchor="start" textLength="19.4" lengthAdjust="spacingAndGlyphs" fill="#111" stroke="#111" stroke-width="0.25">CD24</text>
<text transform="translate(42,418) rotate(-90)" font-size="5.2" text-anchor="middle" fill="#111">10<tspan font-size="3.6" dy="-2.1">5</tspan></text>
<text transform="translate(42,439) rotate(-90)" font-size="5.2" text-anchor="middle" fill="#111">10<tspan font-size="3.6" dy="-2.1">4</tspan></text>
<text transform="translate(42,470) rotate(-90)" font-size="5.2" text-anchor="middle" fill="#111">10<tspan font-size="3.6" dy="-2">-3</tspan><tspan dy="2"> 0 10</tspan><tspan font-size="3.6" dy="-2">3</tspan></text>
<text x="56.3" y="506.8" font-size="5.2" text-anchor="middle" fill="#111">10<tspan font-size="3.6" dy="-2.1">-3</tspan></text>
<text x="85.4" y="506.8" font-size="5.2" text-anchor="middle" fill="#111">10<tspan font-size="3.6" dy="-2.1">3</tspan></text>
<text x="114.2" y="506.8" font-size="5.2" text-anchor="middle" fill="#111">10<tspan font-size="3.6" dy="-2.1">4</tspan></text>
<text x="139.8" y="506.8" font-size="5.2" text-anchor="middle" fill="#111">10<tspan font-size="3.6" dy="-2.1">5</tspan></text>
<text x="71.2" y="506.8" font-size="5.2" text-anchor="middle" fill="#111" stroke="#111" stroke-width="0.22">0</text>
<text x="44" y="500.5" font-size="5" text-anchor="middle" fill="#4040e0" stroke="#4040e0" stroke-width="0.22">M</text>
<path d="M216.1 473.1h0M217.9 466.8h0M185.4 467.1h0M228.2 457.8h0M213.3 436.6h0M228.5 469.0h0M230.5 455.5h0M218.3 480.2h0M249.2 458.9h0M194.1 467.6h0M220.2 455.8h0M222.2 449.7h0M243.5 457.9h0M219.4 481.3h0M229.5 462.7h0M223.9 445.0h0M253.2 471.7h0M215.6 473.1h0M206.8 455.3h0M213.1 463.5h0M227.5 462.5h0M243.4 455.6h0M183.6 463.3h0M200.5 448.3h0M243.3 465.7h0M214.2 471.4h0M209.3 454.8h0M213.6 468.4h0M206.9 469.3h0M204.0 467.5h0M222.2 475.4h0M208.7 462.4h0M248.1 455.6h0M181.3 469.5h0M229.4 467.1h0M209.7 443.1h0M247.5 463.0h0M205.2 455.6h0M228.8 459.0h0M246.8 463.2h0M229.8 476.1h0M210.9 466.1h0M218.0 456.3h0M224.0 457.3h0M244.2 464.2h0M223.2 465.9h0M230.8 486.7h0M203.3 453.8h0M221.9 457.3h0M240.7 471.0h0M216.4 459.2h0M213.2 464.0h0M214.9 447.8h0M239.3 447.7h0M229.0 468.5h0M227.3 453.2h0M209.3 469.2h0M192.9 458.0h0M237.7 465.1h0M213.9 473.0h0M234.4 455.2h0M229.1 455.3h0M211.6 472.6h0M203.4 462.5h0M235.6 461.0h0M187.1 470.3h0M183.8 453.5h0M245.7 462.0h0M207.7 451.0h0M223.7 450.4h0M237.7 468.2h0M254.0 473.1h0M204.7 464.0h0M217.9 449.2h0M235.2 461.1h0M220.6 465.2h0M208.1 462.0h0M235.8 472.7h0M193.6 454.9h0M236.4 465.1h0M220.0 459.1h0M220.6 461.5h0M209.6 459.2h0M216.7 466.6h0M237.3 451.4h0M224.6 459.5h0M238.5 465.3h0M229.9 469.9h0M214.5 471.8h0M216.3 463.9h0M221.4 472.4h0M213.4 473.6h0M242.8 461.1h0M202.2 479.8h0M247.9 475.9h0M209.5 459.6h0M206.5 461.1h0M220.1 458.0h0M200.1 461.2h0M247.0 465.4h0M246.6 464.7h0M243.4 458.7h0M248.6 466.6h0M240.5 473.0h0M191.5 470.3h0M231.2 468.1h0M209.2 459.3h0M234.3 459.5h0M216.2 477.1h0M213.5 462.6h0M206.0 455.5h0M229.8 470.3h0M238.1 476.9h0M203.3 448.9h0M226.6 476.9h0M227.8 453.5h0M218.8 469.9h0M217.4 462.9h0M239.4 456.8h0M241.6 453.8h0M232.3 453.1h0M231.8 451.1h0M232.7 458.9h0M211.4 471.2h0M219.6 459.9h0M221.3 479.4h0M206.0 460.0h0M233.3 456.0h0M250.6 462.1h0M253.0 476.9h0M217.1 455.6h0M213.2 462.1h0M207.9 471.2h0M231.5 457.7h0M219.5 466.7h0M239.1 460.7h0M203.3 460.4h0M223.2 461.0h0M211.1 459.9h0M224.8 468.9h0M217.2 448.2h0M191.3 450.8h0M233.8 457.9h0M221.5 448.5h0M223.3 453.6h0M219.4 451.3h0M205.7 460.9h0M221.2 446.9h0M233.1 459.3h0M247.2 456.1h0M224.1 471.0h0M212.2 447.7h0M239.3 447.2h0M217.5 447.8h0M217.0 451.8h0M220.6 453.6h0M230.5 466.9h0M201.6 454.4h0M222.5 459.7h0M219.9 460.3h0M213.9 466.4h0M247.3 449.1h0M195.9 454.2h0M220.2 461.2h0M223.9 473.4h0M224.1 455.4h0M244.2 454.8h0M187.7 467.8h0M215.4 462.1h0M207.0 461.4h0M198.5 477.5h0M211.3 454.9h0M227.2 468.1h0M216.3 478.3h0M251.3 457.5h0M196.7 481.7h0M226.1 468.0h0M225.6 464.5h0M222.8 474.5h0M231.0 463.7h0M217.1 439.6h0M229.0 464.1h0M217.2 460.3h0M213.5 448.9h0M206.7 468.1h0M214.5 456.9h0M232.5 454.0h0M213.5 481.2h0M232.6 472.0h0M218.4 475.4h0M221.3 477.6h0M241.7 450.5h0M203.1 478.4h0M220.1 452.8h0M235.6 452.7h0M230.4 465.0h0M227.6 458.9h0M243.5 477.1h0M214.7 458.8h0M223.7 467.7h0M249.5 461.8h0M203.7 455.4h0M230.6 459.6h0M231.3 458.2h0M227.1 463.4h0M228.8 460.7h0M209.0 469.5h0M224.5 459.5h0M220.3 464.5h0M228.1 476.5h0M224.7 466.3h0M251.1 486.6h0M238.0 463.1h0M255.5 464.9h0M238.2 467.5h0M229.2 472.4h0M234.1 469.0h0M243.2 461.9h0M210.0 460.4h0M199.3 458.6h0M200.3 462.2h0M234.4 448.7h0M217.2 451.3h0M218.0 451.9h0M224.4 474.7h0M235.0 464.4h0M216.5 471.2h0M209.9 460.1h0M214.8 465.0h0M234.4 454.8h0M219.6 444.9h0M231.8 459.8h0M238.3 457.6h0M218.4 456.6h0M209.7 449.8h0M203.3 467.2h0M214.2 468.9h0M206.2 466.8h0M225.4 471.6h0M202.0 454.7h0M224.8 467.2h0M215.7 461.5h0M234.4 457.8h0M205.1 462.2h0M223.5 453.6h0M233.1 459.1h0M197.2 461.8h0M227.4 446.4h0M213.3 475.2h0M207.5 470.6h0M198.3 469.0h0M222.7 477.2h0M212.4 467.9h0M215.9 467.3h0M233.1 476.5h0M235.4 450.3h0M256.9 470.3h0M220.4 459.9h0M215.3 471.1h0M219.8 467.8h0M235.4 455.9h0M208.7 452.4h0M226.1 460.6h0M220.2 469.2h0M218.9 478.7h0M217.9 464.5h0M187.3 459.6h0M226.2 463.1h0M210.1 461.3h0M225.9 458.1h0M213.8 464.2h0M207.2 452.2h0M192.8 454.7h0M243.0 464.3h0M220.1 470.4h0M226.8 466.7h0M245.4 459.7h0M229.2 472.0h0M225.1 464.9h0M185.3 477.3h0M239.2 466.6h0M235.1 462.0h0M203.8 451.5h0M197.4 473.3h0M227.3 470.8h0M218.6 474.2h0M243.8 457.3h0M200.6 452.6h0M220.2 474.2h0M231.3 462.1h0M228.3 440.6h0M201.9 467.8h0M198.9 450.9h0M213.9 474.5h0M254.6 471.7h0M208.6 444.7h0M214.0 465.1h0M234.8 462.0h0M228.3 467.5h0M242.7 451.4h0M210.5 449.5h0M210.8 470.0h0M234.1 444.7h0M217.6 461.2h0M221.0 465.9h0M205.2 468.6h0M209.1 465.1h0M208.9 482.3h0M211.4 472.7h0M210.1 460.7h0M216.2 460.8h0M215.7 455.6h0M237.9 463.8h0M248.8 480.8h0M216.0 468.3h0M245.6 461.3h0M228.8 451.5h0M186.2 440.1h0M225.4 461.4h0M198.7 455.3h0M238.3 465.4h0M213.0 452.2h0M245.7 468.7h0M243.3 460.0h0M213.5 456.6h0M206.0 464.8h0M238.0 457.8h0M207.6 461.7h0M219.9 455.5h0M236.7 466.2h0M219.3 447.1h0M232.5 461.1h0M251.5 467.0h0M226.7 469.7h0M232.3 466.8h0M212.3 473.5h0M179.5 464.2h0M223.9 484.8h0M221.7 457.4h0M229.9 444.1h0M222.1 442.7h0M211.9 445.2h0M212.1 461.7h0M222.6 446.8h0M207.5 448.9h0M200.0 468.1h0M225.4 446.0h0M221.0 462.5h0M230.3 469.6h0M213.0 472.3h0M219.3 464.0h0M207.0 449.5h0M215.3 453.1h0M234.5 474.6h0M248.1 476.0h0M217.0 458.1h0M228.4 469.6h0M210.0 468.6h0M198.7 458.8h0M212.6 471.2h0M217.7 454.0h0M216.7 467.1h0M209.0 467.3h0M224.2 460.6h0M239.1 456.9h0M213.1 475.7h0M227.8 454.8h0M230.4 454.0h0M237.0 449.5h0M231.7 459.9h0M236.9 460.2h0M222.7 454.7h0M201.8 471.9h0M204.8 463.0h0M214.6 467.2h0M206.5 449.6h0M209.8 459.1h0M218.5 475.9h0M221.1 471.4h0M215.2 466.2h0M227.0 472.3h0M251.5 468.7h0M206.4 464.9h0M213.1 465.8h0M203.6 466.5h0M239.1 458.7h0M235.2 477.9h0M201.1 483.8h0M229.0 463.8h0M200.1 462.1h0M227.6 483.4h0M222.0 466.5h0M222.6 467.7h0M194.4 466.7h0M224.7 463.4h0M224.7 459.5h0M242.1 469.7h0M223.7 449.5h0M221.1 472.1h0M211.0 476.1h0M230.2 460.6h0M234.5 459.3h0M233.5 480.2h0M235.9 461.2h0M219.4 457.8h0M200.2 471.1h0M223.1 452.9h0M244.5 444.1h0M241.2 462.7h0M211.5 458.1h0M253.9 455.7h0M243.4 456.1h0M235.1 457.2h0M206.9 460.0h0M232.7 442.3h0M236.8 469.6h0M256.3 459.6h0M215.5 459.3h0M218.0 459.8h0M240.7 470.0h0M240.1 465.3h0M236.0 482.5h0M214.5 443.3h0M212.4 470.0h0M226.3 471.3h0M229.6 436.6h0M236.4 467.6h0M211.1 461.5h0M197.9 461.3h0M239.3 462.4h0M220.9 466.0h0M220.2 459.0h0M237.2 456.0h0M200.1 471.1h0M222.0 462.5h0M216.9 470.0h0M229.4 486.4h0M221.7 450.2h0M232.8 454.4h0M202.4 456.0h0M215.7 461.5h0M208.8 477.4h0M239.0 466.4h0M242.1 472.2h0M223.7 479.4h0M233.2 444.5h0M219.1 459.2h0M212.6 456.2h0M243.6 466.1h0M220.9 453.1h0M243.5 477.0h0M204.4 455.4h0M231.6 452.9h0M217.5 450.5h0M228.8 461.9h0M186.7 457.0h0M231.9 465.1h0M209.3 457.9h0M227.2 466.4h0M229.4 464.1h0M235.5 472.1h0M222.9 468.8h0M227.5 457.4h0M218.1 473.4h0M199.1 457.1h0M213.1 454.1h0M214.9 470.1h0M217.5 450.9h0M225.0 456.1h0M226.2 448.5h0M239.1 448.7h0M253.3 464.8h0M206.6 453.8h0M225.0 477.2h0M229.4 475.1h0M218.8 465.3h0M233.2 456.1h0M187.7 461.9h0M233.0 459.8h0M219.4 472.2h0M193.4 445.0h0M218.6 460.6h0M252.6 462.8h0M221.0 465.7h0M254.7 468.3h0M257.1 458.5h0M227.4 467.6h0M218.1 451.4h0M233.6 472.1h0M245.5 465.4h0M250.9 460.9h0M228.3 472.0h0M209.4 455.6h0M246.7 446.8h0M194.6 466.5h0M219.5 462.8h0M224.0 459.0h0M230.9 455.9h0M213.7 466.1h0M225.4 469.9h0M237.2 453.8h0M223.7 449.4h0M210.0 468.1h0M235.3 452.3h0M225.6 473.4h0M207.8 474.7h0M211.9 456.8h0M252.4 482.8h0M220.3 459.7h0M231.5 461.2h0M215.5 461.1h0M220.7 466.0h0M222.3 469.5h0M215.2 465.2h0M235.0 455.8h0M239.7 459.1h0M235.9 448.2h0M216.8 452.9h0M213.2 463.6h0M191.8 462.1h0M239.9 456.9h0M218.2 464.1h0M204.1 455.3h0M205.1 461.7h0M235.5 462.5h0M218.6 470.9h0M234.9 471.2h0M226.0 453.0h0M237.8 458.5h0M227.1 446.2h0M178.3 479.9h0M244.3 443.0h0M202.9 461.3h0M246.7 448.0h0M225.3 462.4h0M210.9 463.9h0M214.9 467.4h0M210.1 456.4h0M228.8 468.2h0M231.1 455.7h0M202.2 453.4h0M194.1 454.7h0M243.1 455.0h0M229.0 476.9h0M202.2 469.9h0M238.9 467.5h0" stroke="#8c8ce8" stroke-width="1" stroke-linecap="square" opacity="0.45" fill="none"/>
<path d="M211.7 446.9h0M238.5 457.8h0M248.7 447.9h0M215.2 452.3h0M253.4 459.7h0M224.7 469.4h0M239.6 442.3h0M243.3 464.4h0M238.2 459.7h0M239.5 442.8h0M246.3 490.0h0M256.1 453.8h0M261.1 469.6h0M258.9 454.5h0M241.8 459.6h0M211.9 465.9h0M224.3 455.8h0M233.1 455.3h0M248.7 470.3h0M256.4 468.5h0M234.6 484.9h0M230.5 458.9h0M241.2 433.9h0M242.7 438.0h0M249.5 461.6h0M250.6 443.2h0M237.0 438.0h0M205.3 469.1h0M234.0 435.7h0M198.4 435.6h0M237.5 457.3h0M277.5 469.7h0M257.1 465.0h0M245.0 441.4h0M271.1 464.4h0M225.3 443.0h0M245.6 458.9h0M247.4 418.2h0M230.3 439.9h0M232.0 459.5h0M249.7 453.3h0M243.5 459.9h0M238.2 471.9h0M249.3 465.6h0M237.1 480.4h0M229.7 448.4h0M245.5 466.4h0M238.2 462.5h0M241.8 452.7h0M223.6 461.4h0M239.3 456.4h0M234.9 463.5h0M219.8 453.0h0M261.5 456.3h0M242.0 446.1h0M243.5 450.2h0M252.2 457.8h0M259.5 459.1h0M254.4 459.9h0" stroke="#9090e8" stroke-width="1" stroke-linecap="square" opacity="0.45" fill="none"/>
<path d="M235.6 470.2h0M215.0 464.6h0M214.9 466.7h0M204.8 473.8h0M240.0 466.8h0M247.2 461.2h0M228.7 465.3h0M231.5 462.3h0M215.3 469.8h0M225.9 466.4h0M242.1 470.8h0M228.6 469.8h0M207.1 467.3h0M228.7 472.8h0M223.1 456.4h0M234.1 459.1h0M243.9 461.8h0M225.4 469.3h0M231.5 474.9h0M236.8 469.1h0M214.2 469.5h0M221.9 467.2h0M203.6 461.2h0M227.3 463.8h0M233.8 470.8h0M229.0 467.9h0M229.7 463.5h0M215.5 467.9h0M214.2 465.1h0M239.0 456.2h0M232.4 464.9h0M219.9 464.5h0M231.2 460.3h0M215.4 467.1h0M212.6 466.8h0M228.9 467.1h0M223.5 467.1h0M228.3 467.2h0M252.9 462.3h0M229.2 462.8h0M226.6 466.1h0M249.3 463.8h0M215.7 472.4h0M222.9 467.2h0M218.5 464.4h0M224.1 470.7h0M252.0 463.4h0M201.8 473.4h0M241.1 474.8h0M209.2 472.4h0M204.8 463.3h0M222.3 462.8h0M223.8 469.3h0M220.0 459.7h0M211.0 466.3h0M232.8 466.8h0M208.8 466.4h0M231.7 461.9h0M208.7 466.9h0M227.6 464.0h0M226.4 468.9h0M205.8 466.0h0M224.7 465.6h0M237.2 471.0h0M236.6 469.4h0M233.0 465.9h0M217.7 466.7h0M223.5 468.1h0M214.3 469.1h0M238.2 459.2h0M215.5 464.3h0M212.4 473.4h0M217.2 463.2h0M246.2 471.8h0M205.9 472.3h0M235.6 465.4h0M233.8 463.5h0M218.4 468.1h0M227.9 470.2h0M207.1 471.1h0M230.3 472.4h0M230.8 468.3h0M215.4 465.0h0M227.4 469.2h0M225.7 470.3h0M231.8 465.6h0M232.9 461.7h0M237.6 461.8h0M224.0 469.6h0M231.6 462.0h0M236.8 473.7h0M245.6 467.9h0M225.4 458.5h0M218.8 462.6h0M217.2 468.1h0M223.2 461.3h0M204.2 468.7h0M212.6 472.5h0M233.6 468.8h0M248.9 458.9h0M242.1 468.3h0M218.2 472.3h0M239.5 461.8h0M229.7 469.2h0M218.6 464.8h0M240.5 458.8h0M236.9 470.9h0M236.7 470.7h0M231.7 461.7h0M235.7 453.4h0M222.3 471.9h0M221.3 464.5h0M218.3 469.3h0M235.4 459.4h0M231.4 468.4h0M237.7 470.3h0M221.5 467.9h0M222.5 470.9h0M225.4 468.2h0M226.1 471.2h0M222.3 464.6h0M242.3 462.1h0M226.6 457.5h0M193.6 468.5h0M217.8 466.3h0M227.8 461.1h0M227.8 471.2h0M226.0 465.4h0M224.5 480.7h0M244.1 467.3h0M215.3 464.2h0M234.6 465.6h0M237.2 468.7h0M237.9 470.3h0M252.8 470.4h0M214.7 465.9h0M218.4 472.2h0M230.2 466.0h0M232.6 470.3h0M232.5 465.4h0M217.5 467.5h0M221.3 468.8h0M244.2 461.5h0M233.8 465.8h0M234.0 467.5h0M234.9 457.2h0M247.1 461.7h0M223.8 464.8h0M230.1 470.9h0M206.8 469.7h0M221.6 467.2h0M229.2 462.9h0M233.7 467.8h0M216.9 466.4h0M209.9 473.2h0M215.4 466.7h0M200.4 469.6h0M213.1 471.1h0M224.2 469.1h0M230.4 459.0h0M243.3 465.6h0M227.5 466.3h0M215.3 459.4h0M227.3 460.9h0M221.5 471.6h0M238.3 466.8h0M238.0 463.1h0M206.0 473.5h0M221.2 459.2h0M251.1 470.1h0M239.7 462.4h0M223.8 473.9h0M188.1 469.4h0M233.4 463.5h0M230.2 467.6h0M223.4 465.8h0M235.6 470.3h0M229.1 470.1h0M232.0 464.4h0M222.2 466.3h0M223.2 467.1h0M230.8 474.2h0M221.2 467.2h0M211.4 473.3h0M210.1 468.5h0M227.9 462.6h0M214.1 460.6h0M214.6 469.2h0M217.0 470.1h0M233.2 467.0h0M200.2 475.8h0M195.4 473.8h0M228.1 475.0h0M222.5 470.1h0M242.1 460.6h0M221.6 472.5h0M206.4 464.2h0M227.8 465.9h0M227.6 460.6h0M229.2 470.6h0M229.6 472.9h0M249.8 457.5h0M219.7 463.3h0M228.8 463.1h0M222.8 458.2h0M203.6 468.7h0M209.7 467.3h0M212.6 461.7h0M219.1 456.7h0M208.8 461.6h0M241.2 465.8h0M222.1 459.8h0M212.4 468.0h0M215.4 468.7h0M225.0 469.8h0M216.4 467.2h0M211.2 469.2h0M210.0 475.2h0M223.3 464.0h0M244.8 464.2h0M191.4 476.5h0M218.6 461.9h0M224.5 469.5h0M212.5 455.9h0M249.4 456.1h0M224.9 459.1h0M203.2 468.2h0M226.8 466.2h0M208.2 457.8h0M234.2 474.1h0M224.9 476.4h0M238.5 470.8h0M212.0 467.3h0M228.4 468.4h0M242.8 461.2h0M220.3 464.6h0M210.9 464.8h0M219.5 468.7h0M225.9 464.1h0M218.9 465.3h0M229.9 474.4h0M237.0 463.7h0M213.9 470.9h0M205.2 470.9h0M212.5 466.1h0M204.0 467.3h0M214.8 473.3h0M220.0 464.9h0M203.3 472.5h0M223.5 465.0h0M222.2 465.4h0M204.8 476.1h0M216.8 459.7h0M202.8 466.1h0M229.5 463.4h0M219.4 469.4h0M227.7 463.2h0M239.1 465.5h0M230.6 469.2h0M223.3 476.1h0M226.4 471.0h0M215.9 461.3h0M222.7 475.0h0M242.9 464.6h0M214.7 463.4h0M220.9 468.3h0M224.3 462.2h0M226.1 464.7h0M230.3 461.8h0M208.1 466.5h0M214.6 456.4h0M221.6 473.0h0M225.4 466.9h0M229.9 469.9h0M227.1 468.2h0M222.7 466.5h0M211.9 474.5h0M209.1 474.6h0M207.8 467.0h0M232.1 469.6h0M240.2 463.2h0M211.7 466.0h0M205.8 471.0h0M217.6 467.9h0M224.4 466.2h0M214.3 458.5h0M218.6 463.4h0M229.7 466.5h0M226.4 469.7h0M216.8 470.6h0M206.2 466.3h0M220.3 469.4h0M233.7 459.8h0M202.1 471.4h0M240.8 473.3h0M223.7 465.7h0M238.9 460.2h0M214.6 472.7h0M212.4 467.6h0M206.0 468.9h0M224.8 469.2h0M223.1 465.3h0M219.7 470.6h0M222.4 463.6h0M226.6 462.9h0M212.6 469.4h0M233.0 467.7h0M203.3 470.3h0M216.6 470.7h0M225.8 466.3h0M218.4 464.4h0M224.0 468.9h0M202.5 462.0h0M218.1 467.4h0M221.7 471.5h0M205.4 471.6h0M229.0 471.4h0M207.0 467.7h0M211.8 467.1h0M206.1 466.7h0M223.6 464.5h0M212.6 469.1h0M229.1 470.7h0M231.3 465.7h0M218.3 474.7h0M228.2 468.5h0M241.1 455.3h0M202.4 472.5h0M201.1 467.4h0M242.4 465.0h0M210.8 465.0h0M255.1 460.6h0M233.0 475.3h0M195.2 475.1h0M231.8 464.3h0M219.8 463.9h0M222.8 465.3h0M231.4 463.1h0M215.1 470.8h0M218.8 472.8h0M222.7 459.9h0M201.9 471.7h0M218.5 467.3h0M224.8 465.6h0M222.8 470.7h0M223.2 463.5h0M221.5 463.3h0M199.0 469.5h0M211.2 465.1h0M198.8 467.6h0M226.3 470.4h0M232.7 459.9h0M224.6 472.7h0M199.1 476.3h0M217.5 466.3h0M231.9 469.1h0M227.3 461.7h0M231.1 464.9h0M231.7 464.1h0M209.3 465.0h0M225.7 471.3h0M226.2 468.6h0M211.0 473.2h0M214.7 461.1h0M220.9 467.0h0M245.1 462.6h0M234.0 458.9h0M223.4 472.2h0M223.3 467.7h0M204.0 471.3h0M223.9 474.2h0M234.2 463.5h0M218.8 475.2h0M228.0 458.3h0M239.7 471.8h0M219.6 471.5h0M204.0 464.3h0M220.8 461.8h0M222.4 479.4h0M254.2 460.9h0M222.3 473.1h0M221.7 469.5h0M234.7 466.7h0M213.9 467.9h0M218.1 462.3h0M220.3 462.4h0M220.1 464.0h0M227.6 471.2h0M223.6 458.4h0M194.6 465.9h0M236.1 467.8h0M217.3 467.6h0M230.6 464.2h0M223.2 462.7h0M228.9 458.5h0M237.9 461.9h0M219.8 462.3h0M217.2 465.6h0M226.8 462.3h0M220.8 460.4h0M244.6 470.9h0M219.0 458.0h0M216.4 471.6h0M246.0 462.4h0M214.5 465.4h0M231.5 460.4h0M215.4 463.6h0M230.5 464.1h0M240.6 455.3h0M239.9 469.7h0M218.5 468.3h0M229.7 466.1h0M237.3 465.0h0M225.3 471.8h0M245.2 464.2h0M242.2 468.2h0M243.2 461.5h0M224.7 474.9h0M227.8 463.3h0M208.6 463.8h0M212.6 465.1h0M230.8 470.3h0M215.9 475.2h0M224.2 468.5h0M212.0 478.2h0M214.6 463.2h0M208.7 465.2h0M226.9 464.3h0M215.6 474.0h0M224.6 462.4h0M230.5 466.0h0M218.7 462.0h0M223.9 467.7h0M250.3 459.7h0M231.8 479.9h0M242.9 468.2h0M241.1 462.3h0M234.4 469.5h0M229.9 465.8h0M204.1 466.3h0M229.7 468.5h0M211.0 461.5h0M208.6 475.6h0M223.5 472.7h0M236.6 460.1h0M230.6 465.4h0M231.2 457.1h0M233.2 468.3h0M233.1 467.2h0M211.3 469.4h0M210.4 466.0h0M224.7 466.5h0M235.7 462.2h0M223.1 465.8h0M214.4 464.8h0M216.9 464.6h0M217.6 464.4h0M214.5 456.0h0M210.3 464.7h0M243.2 468.6h0M226.6 473.2h0M203.8 466.5h0M225.9 466.8h0M230.6 472.0h0M232.8 458.2h0M211.7 470.1h0M200.6 461.6h0M251.1 465.4h0M208.1 467.6h0M206.8 468.3h0M225.6 465.4h0M237.9 474.1h0M234.0 453.1h0M213.0 461.4h0M224.0 467.8h0M214.9 469.0h0M223.1 463.4h0M215.7 469.4h0M253.4 463.2h0M237.8 465.6h0M222.0 472.4h0M221.4 463.0h0M240.2 465.8h0M215.8 472.1h0M220.1 464.6h0M218.7 473.2h0M223.4 462.8h0M242.9 456.6h0M215.3 462.6h0M208.8 469.0h0M210.7 473.2h0M215.9 465.9h0M206.9 468.5h0M208.7 468.4h0M213.8 470.9h0M228.9 461.5h0M226.5 465.8h0M218.7 463.0h0M228.2 468.4h0M224.5 470.6h0M220.9 456.4h0M213.0 469.0h0M232.9 464.7h0M223.5 470.2h0M220.6 463.6h0M219.1 467.4h0M224.6 460.9h0M222.8 470.6h0M210.1 479.2h0M216.4 468.8h0M210.1 475.7h0M189.4 478.2h0M207.8 467.5h0M254.1 463.5h0M202.4 470.1h0M222.7 471.8h0M232.1 462.6h0M221.8 470.5h0M221.6 463.0h0M211.6 471.3h0M214.7 467.7h0M213.9 459.9h0M209.2 466.7h0M221.9 469.3h0M230.9 465.2h0M234.4 466.7h0M245.2 474.8h0M229.9 460.0h0M225.3 463.0h0M210.4 468.4h0M206.1 466.7h0M226.7 465.4h0M233.4 461.7h0M234.6 461.9h0M225.3 475.6h0M241.2 476.6h0M224.5 465.9h0M219.3 467.8h0M221.1 459.2h0M224.8 464.8h0M231.8 469.4h0M209.5 470.5h0M211.2 467.3h0M239.0 473.6h0M221.3 481.1h0M238.0 464.2h0M231.2 461.0h0M228.1 469.2h0M239.0 469.1h0M221.8 463.0h0M232.0 465.6h0M234.5 470.7h0M237.0 467.1h0M212.2 464.2h0M224.3 471.0h0M241.8 460.8h0M233.7 472.9h0M240.6 464.8h0M241.7 455.8h0M216.7 463.6h0M224.5 470.5h0M242.7 473.2h0M231.0 467.7h0M213.6 466.7h0M231.0 476.9h0M228.4 460.1h0M218.6 472.4h0M218.8 460.2h0M234.3 457.3h0M232.2 460.7h0M211.5 472.2h0M213.4 469.3h0M220.4 466.3h0M224.7 468.8h0M222.9 463.6h0M215.0 475.1h0M228.1 466.8h0M200.1 472.3h0M213.2 462.0h0M224.3 466.5h0M223.3 461.2h0M223.1 470.2h0M227.4 458.7h0M226.6 470.0h0M220.8 472.2h0M243.5 467.2h0M223.5 472.9h0M203.8 467.9h0M234.4 463.3h0M208.6 466.5h0M203.6 469.3h0M212.1 467.3h0M188.9 470.0h0M218.7 475.6h0M222.8 467.3h0M211.5 466.3h0M219.1 474.5h0M228.7 460.9h0M216.2 467.4h0M235.4 468.0h0M215.4 470.9h0M245.6 458.2h0M222.8 460.5h0M207.1 463.1h0M232.0 461.9h0M227.5 471.9h0M205.9 468.5h0M247.6 465.5h0M218.2 463.5h0M230.5 463.5h0M215.9 469.4h0M215.1 466.5h0M230.1 470.6h0M195.0 467.5h0M236.9 462.6h0M213.3 466.0h0M241.0 461.9h0M239.4 468.7h0M209.7 461.5h0M208.4 470.7h0M238.2 456.3h0M208.2 460.5h0M224.4 466.7h0M229.9 467.4h0M234.6 464.8h0M223.6 457.2h0M215.1 473.3h0M234.9 470.6h0M229.4 462.1h0M238.2 471.2h0M211.2 465.4h0M243.0 464.6h0M230.1 462.3h0M219.8 462.5h0M230.8 458.8h0M222.9 465.5h0M202.2 472.5h0M216.0 466.0h0M228.6 469.1h0M228.0 470.3h0M227.7 473.4h0M215.4 472.6h0M211.5 468.5h0M218.9 468.6h0M226.2 465.9h0M222.2 463.1h0M227.4 460.7h0M216.7 475.6h0M216.4 463.6h0M216.9 470.3h0M221.3 474.0h0M216.7 468.7h0M222.9 464.4h0M218.5 469.3h0M240.9 472.1h0M214.8 463.5h0M212.0 464.1h0M228.7 463.9h0M244.4 468.0h0M222.5 470.8h0M209.0 466.0h0M233.2 466.1h0M211.7 472.5h0M222.5 461.5h0M220.5 466.7h0M209.8 470.6h0M234.1 468.9h0M228.4 469.5h0M221.2 460.6h0M227.2 466.1h0M209.3 465.9h0M220.3 468.4h0M228.0 468.4h0M232.2 465.4h0M201.6 470.7h0M230.6 476.2h0M212.0 476.9h0M198.7 474.4h0M233.6 466.0h0M238.2 474.7h0M210.9 465.5h0M232.6 457.6h0M224.4 465.9h0M232.9 461.4h0M245.4 453.4h0M238.2 460.1h0M225.7 464.7h0M209.7 466.4h0M215.4 469.6h0M220.3 470.1h0M216.7 470.5h0M227.6 461.0h0M231.6 469.3h0M247.2 471.5h0M237.8 464.0h0M208.2 467.7h0M254.3 465.4h0M224.2 469.6h0M218.9 467.5h0M202.7 471.3h0M225.1 462.3h0M250.9 455.2h0M223.6 464.0h0M230.6 464.1h0M229.2 465.8h0M236.5 462.7h0M214.7 463.5h0M214.4 468.8h0M232.3 468.0h0M235.8 464.1h0M215.9 465.9h0M229.1 466.4h0M236.1 462.7h0M229.0 468.4h0M218.8 464.8h0M248.9 454.7h0M243.1 472.9h0M232.3 467.6h0M223.0 471.1h0M208.7 467.7h0M218.7 466.7h0M224.8 467.0h0M212.5 468.8h0M236.8 464.6h0M208.6 464.7h0M244.6 467.1h0M219.4 467.6h0M215.8 476.9h0M220.3 463.5h0M230.2 464.4h0M237.0 465.0h0M209.8 459.6h0M231.7 461.9h0M217.6 458.4h0M207.4 465.8h0M210.1 469.2h0M238.9 465.6h0M208.0 473.6h0M216.5 468.8h0M225.0 471.4h0M242.7 467.1h0M196.7 459.9h0M225.9 467.3h0M225.1 459.6h0M203.9 472.3h0M219.2 473.4h0M220.6 473.6h0M230.9 467.6h0M220.0 467.4h0M216.5 461.4h0M226.8 470.0h0M237.2 466.3h0M207.6 467.6h0M223.7 460.8h0M220.3 461.0h0M222.8 464.7h0M235.6 469.3h0M216.3 467.7h0M205.0 465.1h0M221.5 470.8h0M208.6 473.7h0M243.9 465.6h0M240.6 463.7h0M210.7 469.7h0M223.6 466.3h0M204.0 471.8h0M220.9 462.2h0M218.6 473.2h0M247.0 464.3h0M231.0 476.8h0M225.5 456.9h0M237.0 461.3h0M218.0 460.6h0M232.2 466.0h0M215.6 469.7h0M216.2 465.1h0M247.7 464.8h0M189.3 472.0h0M230.9 462.3h0M214.6 467.8h0M234.7 460.1h0M214.1 465.9h0M225.5 463.9h0M206.8 465.6h0M236.7 460.2h0M214.9 469.4h0M206.0 468.8h0M185.1 479.8h0M200.0 459.8h0M232.4 465.2h0M208.0 469.1h0M207.6 471.3h0M224.0 467.9h0M222.8 477.7h0M224.7 463.2h0M219.0 459.8h0M246.5 466.7h0M208.8 464.7h0M215.2 468.5h0M220.2 465.8h0M231.5 475.5h0M241.4 460.1h0M224.9 474.1h0M233.8 467.7h0M228.8 467.1h0M215.0 463.1h0M240.9 464.9h0M223.4 467.5h0M226.6 464.8h0M231.5 460.1h0M239.0 462.5h0M215.3 466.7h0M221.9 466.2h0M211.3 461.7h0M190.4 471.5h0M250.6 468.9h0M225.6 465.9h0M223.8 473.5h0M213.7 469.3h0M220.4 465.2h0M227.7 461.7h0M238.1 459.4h0M226.9 463.1h0M225.3 465.8h0M209.7 463.5h0M215.9 466.5h0M224.8 474.8h0M199.4 460.7h0M217.4 468.8h0M224.1 467.5h0M243.7 466.2h0M202.4 470.9h0M206.8 468.8h0M233.2 464.1h0M193.2 469.5h0M250.7 459.4h0M225.8 463.3h0M234.9 465.9h0M231.0 466.3h0M202.9 470.2h0M230.6 462.7h0M211.1 462.8h0M222.2 476.8h0M224.0 469.2h0M226.8 470.6h0M233.5 466.8h0M224.6 470.2h0M238.2 469.8h0M228.3 472.7h0M216.8 467.5h0M229.5 468.7h0M218.8 471.5h0M232.8 458.7h0M219.0 467.6h0M219.7 469.2h0M235.3 461.4h0M200.9 466.9h0M230.0 471.5h0M217.8 469.7h0M232.3 465.7h0M231.1 463.6h0M212.1 469.2h0M231.2 481.6h0M243.7 465.2h0M218.3 463.0h0M232.2 458.3h0M254.0 468.3h0M200.5 472.1h0M220.5 463.1h0M247.3 470.6h0M222.5 473.1h0M221.6 463.7h0M210.5 465.2h0M190.1 473.0h0M233.0 465.8h0M231.9 468.3h0M240.1 470.1h0M230.4 463.5h0M211.4 469.8h0M199.3 463.9h0M227.1 469.5h0M242.2 469.7h0M227.2 453.7h0M229.6 460.7h0M245.4 466.0h0M216.5 460.4h0M221.5 467.4h0M235.7 468.2h0M218.5 468.2h0M214.9 471.3h0M218.4 467.2h0M232.4 470.9h0M214.0 466.8h0M219.1 465.3h0M226.7 462.3h0M211.9 460.1h0M216.7 467.2h0M226.0 466.8h0M226.4 465.7h0M213.4 463.6h0M216.4 465.8h0M235.3 470.0h0M217.9 468.5h0M223.9 472.5h0M222.1 469.1h0M215.2 466.0h0M233.4 476.0h0M219.5 463.2h0M201.3 462.0h0M243.2 461.7h0M220.6 468.4h0M225.6 470.3h0M227.4 467.7h0M217.8 465.1h0M210.8 475.1h0M212.1 470.1h0M216.2 468.8h0M231.4 463.8h0M220.3 475.3h0M229.9 472.2h0M194.3 466.6h0M211.8 474.1h0M224.8 468.2h0M209.4 467.6h0M232.9 471.4h0M220.3 464.6h0M219.7 468.1h0M211.6 474.4h0M221.1 468.4h0M204.3 463.1h0M234.1 462.8h0M227.1 467.8h0M219.0 464.4h0M209.9 468.9h0M228.9 469.7h0M212.5 465.9h0M235.0 460.0h0M231.7 467.8h0M215.4 475.9h0M220.6 466.9h0M245.0 466.6h0M231.2 468.8h0M235.3 467.4h0M216.1 462.4h0M232.8 468.3h0M207.7 471.7h0M230.7 462.8h0M235.1 467.8h0M220.1 464.0h0M228.0 461.7h0M218.2 463.9h0M220.5 472.7h0M226.7 471.0h0M228.7 467.4h0M226.0 474.6h0M228.5 463.2h0M211.4 472.8h0M205.2 467.3h0M227.5 457.1h0M194.5 474.5h0M203.3 471.0h0M206.1 462.7h0M232.1 464.4h0M231.4 468.5h0M220.0 471.2h0M218.3 460.7h0M222.9 477.4h0M206.3 468.6h0M234.9 462.4h0M211.8 466.1h0M213.2 465.3h0M224.6 459.5h0M216.3 462.7h0M229.3 467.2h0M232.5 469.8h0M232.0 460.5h0M223.1 468.9h0M212.5 466.5h0M224.2 477.3h0M210.2 471.6h0M205.1 472.9h0M204.2 471.1h0M235.5 467.9h0M206.0 468.2h0M236.6 461.9h0M223.2 474.8h0M219.6 474.2h0M224.4 472.1h0M242.0 460.1h0M205.8 469.2h0M229.0 469.7h0M217.4 468.3h0M209.3 460.6h0M197.7 470.1h0M210.6 462.5h0M210.7 463.5h0M223.6 469.6h0M231.8 451.4h0M228.7 471.8h0M219.4 462.7h0M243.7 462.4h0M215.6 467.2h0M223.5 465.2h0M219.0 466.4h0M230.9 462.6h0M229.1 467.0h0M222.5 462.1h0M230.7 465.7h0M226.8 466.7h0M215.2 466.8h0M235.5 471.2h0M217.2 467.0h0M215.4 465.4h0M233.4 475.9h0M218.3 474.4h0M224.2 469.7h0M254.5 462.1h0M234.9 472.8h0M217.4 469.4h0M217.0 467.2h0M235.4 465.0h0M228.4 470.8h0M212.7 469.8h0M231.3 463.4h0M203.1 459.6h0M239.8 468.7h0M239.0 465.6h0M244.0 468.5h0M208.2 470.1h0M231.7 470.7h0M248.0 466.6h0M229.0 466.3h0M221.6 466.5h0M238.8 456.5h0M205.8 462.1h0M223.9 476.6h0M228.6 462.4h0M218.0 464.6h0M225.7 476.3h0M235.1 467.0h0M232.7 456.7h0M221.8 455.4h0M208.4 460.9h0M205.2 467.3h0M213.3 472.1h0M217.7 469.7h0M214.3 465.6h0M220.6 460.7h0M222.0 465.5h0M232.1 471.1h0M209.6 481.5h0M216.4 464.7h0M230.4 461.3h0M215.3 469.0h0M236.0 466.7h0M216.6 471.5h0M226.9 469.3h0M242.2 472.4h0M238.1 474.3h0M225.9 470.0h0M225.0 462.4h0M232.6 464.9h0M219.1 468.5h0M210.7 467.7h0M236.5 471.2h0M237.9 468.6h0M227.5 468.0h0M221.2 467.7h0M210.9 473.2h0M216.1 464.6h0M219.1 462.1h0M226.9 464.7h0M233.5 461.2h0M224.3 464.7h0M227.3 455.3h0M208.5 468.6h0M225.0 463.8h0M238.3 468.8h0M216.4 472.6h0M201.7 472.6h0M231.2 458.9h0M241.9 465.9h0M232.8 467.4h0M217.5 462.7h0M231.4 468.4h0M198.5 466.3h0M223.9 460.0h0M215.2 470.1h0M237.1 463.1h0M213.2 478.2h0M248.4 465.1h0M252.4 461.2h0M247.3 465.0h0" stroke="#2424e0" stroke-width="1" stroke-linecap="square" opacity="0.65" fill="none"/>
<path d="M236.4 465.6h0M234.9 464.8h0M230.0 471.4h0M229.7 465.5h0M247.8 459.9h0M231.0 471.8h0M248.9 461.2h0M229.0 462.0h0M240.4 452.9h0M235.7 462.7h0M246.7 460.6h0M236.0 459.4h0M237.0 467.1h0M230.5 457.7h0M238.0 464.0h0M241.0 464.1h0M244.2 468.4h0M234.7 465.1h0M235.6 463.6h0M236.0 470.1h0M221.3 475.0h0M238.1 465.8h0M225.7 462.6h0M236.8 467.3h0M230.5 460.2h0M233.4 472.0h0M235.8 466.3h0M225.3 462.5h0M238.0 474.0h0M247.1 455.5h0M249.7 467.5h0M250.0 460.4h0M244.9 460.6h0M238.2 456.7h0M249.6 452.4h0M236.3 466.1h0M242.5 458.6h0M241.9 469.0h0M237.8 464.4h0M230.1 467.9h0M240.7 473.7h0M249.5 453.7h0M239.3 464.9h0M233.5 463.2h0M238.8 467.8h0M233.4 464.6h0M235.4 462.3h0M229.2 462.2h0M242.1 462.6h0M232.3 458.3h0M235.8 468.2h0M233.1 451.3h0M224.3 469.9h0M248.3 465.0h0M250.0 462.4h0M230.9 464.3h0M237.8 468.4h0M233.8 469.4h0M238.3 462.3h0M240.3 466.3h0M232.0 465.2h0M239.2 461.7h0M227.3 472.1h0M241.0 457.0h0M231.1 464.5h0M223.4 460.9h0M234.1 455.8h0M227.5 472.9h0M244.3 466.7h0M248.7 463.8h0M226.1 460.9h0M232.2 465.6h0M227.6 470.2h0M224.9 457.2h0M229.8 469.7h0M235.7 467.0h0M226.6 476.0h0M241.4 459.0h0M228.4 466.9h0M236.7 466.7h0M232.6 470.0h0M218.3 480.2h0M221.6 473.0h0M252.0 471.2h0M235.7 465.4h0M249.4 465.8h0M237.6 469.2h0M241.7 457.0h0M245.2 464.3h0M232.5 466.8h0M247.8 465.6h0M248.3 470.8h0M234.8 468.7h0M237.1 466.3h0M227.3 467.3h0M249.0 462.8h0M227.6 459.8h0M236.6 463.8h0M231.1 461.5h0M231.6 459.0h0M244.7 468.4h0M236.9 460.1h0M244.4 458.0h0M234.7 456.8h0M246.4 468.7h0M229.4 473.5h0M230.9 468.0h0M208.9 468.9h0M246.4 465.5h0M244.9 465.8h0M225.7 467.5h0M228.9 467.8h0M233.8 456.9h0M228.2 467.3h0M246.1 460.7h0M249.9 461.1h0M238.2 464.0h0M237.3 457.6h0M234.7 466.5h0M226.4 470.1h0M221.9 456.8h0M228.8 458.6h0M236.7 472.1h0M244.0 455.7h0M231.3 469.5h0M240.3 468.5h0M253.4 470.9h0M250.8 460.4h0M243.5 459.5h0M243.0 459.8h0M216.5 465.1h0M230.9 457.5h0M237.3 458.9h0M235.8 462.2h0M242.0 461.3h0M245.0 466.8h0M241.3 467.5h0M228.1 466.7h0M230.7 456.8h0M229.4 469.1h0M244.5 461.6h0M237.4 455.0h0M245.8 460.1h0M236.7 460.6h0M227.9 466.4h0M235.5 466.6h0M229.9 474.3h0M224.0 463.8h0M223.4 468.1h0M242.5 458.1h0M233.1 462.5h0M226.2 460.0h0M231.1 465.4h0M236.3 467.5h0M234.3 463.5h0M235.0 472.1h0M231.4 465.4h0M243.0 467.8h0M232.6 464.0h0M250.2 461.8h0M230.7 474.6h0M213.1 464.7h0M229.7 469.5h0M238.7 455.9h0M238.2 463.2h0M242.2 468.2h0M244.3 474.3h0M250.8 466.1h0M232.1 466.7h0M244.8 461.7h0M237.4 462.9h0M234.6 465.5h0M248.9 462.7h0M249.2 468.6h0M223.1 463.2h0M242.9 458.9h0M244.1 468.8h0M227.1 470.0h0M230.1 463.9h0M234.3 464.2h0M235.3 467.8h0M244.1 461.9h0M245.0 459.5h0M225.9 467.6h0M215.6 472.7h0M228.7 461.6h0M238.8 462.1h0M239.5 467.1h0M245.5 454.0h0M246.3 461.4h0M246.5 467.3h0M226.8 462.3h0M247.9 465.6h0M231.6 477.8h0M250.3 465.4h0M243.3 458.6h0M243.3 475.0h0M243.3 467.4h0M242.3 469.0h0M235.8 466.9h0M225.2 463.2h0M243.5 462.8h0M241.0 462.9h0M243.2 472.6h0M235.6 471.3h0M244.0 461.8h0M232.0 467.1h0M226.7 469.8h0M246.5 469.3h0M235.5 469.7h0M230.4 460.3h0M234.2 471.4h0M247.6 456.6h0M238.8 462.0h0M231.4 458.2h0M228.2 464.7h0M230.4 469.8h0M235.5 465.3h0M225.8 472.4h0M234.7 470.3h0M233.7 464.4h0M226.2 464.2h0M234.5 471.9h0M229.9 469.8h0M238.0 469.8h0M249.8 468.5h0M250.3 460.6h0M227.5 463.2h0M235.4 466.1h0M240.2 461.5h0M232.8 462.3h0M223.5 463.0h0M230.5 465.5h0M228.4 464.9h0M227.8 468.8h0M238.0 467.5h0M236.9 471.1h0M229.6 467.9h0M248.7 463.5h0M234.7 467.7h0M249.6 463.1h0M233.8 467.3h0M237.3 461.8h0M233.2 466.2h0M232.8 459.0h0M229.2 471.8h0M226.0 468.0h0M228.8 468.9h0M240.2 457.1h0M241.4 459.0h0M242.0 460.6h0M223.6 457.2h0M248.4 467.5h0M239.9 467.2h0M228.3 466.6h0M234.8 470.6h0M233.2 456.3h0M236.6 459.5h0M221.1 473.3h0M224.6 470.9h0M240.6 463.4h0M240.4 466.2h0M228.5 467.0h0M234.8 462.8h0M242.5 460.9h0M235.2 460.1h0M233.4 465.2h0M222.1 466.6h0M227.9 471.0h0M237.7 456.3h0M236.0 464.6h0M238.5 462.1h0M226.6 463.1h0M216.4 467.2h0M232.3 473.2h0M233.9 474.2h0M231.2 454.9h0M247.7 467.5h0M244.6 454.8h0M237.2 458.8h0M235.4 460.1h0M236.9 457.8h0M235.5 470.6h0M245.9 470.9h0M221.3 458.7h0M242.7 466.5h0M238.9 466.2h0M233.1 463.0h0M223.1 465.3h0M238.0 463.2h0M226.7 464.8h0M225.3 461.9h0M234.4 464.1h0M234.0 465.7h0M235.5 465.5h0M228.6 460.5h0M235.8 468.3h0M247.7 455.5h0M234.8 461.4h0M227.1 460.4h0M227.3 456.8h0M230.8 466.4h0M246.3 458.4h0M240.8 470.1h0M246.7 461.0h0M239.7 468.3h0M247.9 457.8h0M220.9 464.5h0M223.6 469.6h0M236.7 462.0h0M238.7 459.4h0M226.6 466.7h0M233.7 470.9h0M232.3 467.5h0M241.3 466.2h0M231.3 477.8h0M227.8 470.2h0M230.4 463.3h0M229.1 467.0h0M235.3 458.8h0M234.7 463.4h0M243.5 470.7h0M231.5 468.2h0M231.3 459.8h0M228.1 462.7h0M250.6 454.2h0M231.7 477.1h0M240.0 461.6h0M238.7 458.0h0M229.2 474.0h0M241.8 464.0h0M238.0 459.2h0M228.8 461.6h0M222.5 461.7h0M232.3 464.5h0M231.4 464.7h0M228.0 468.4h0M227.7 461.9h0M238.6 461.3h0M229.8 468.0h0M228.3 472.7h0M238.5 474.4h0M247.3 468.4h0M226.1 460.5h0M226.0 465.0h0M246.8 465.9h0M218.3 463.7h0M231.8 459.0h0M244.1 454.8h0M234.5 464.7h0M230.0 462.3h0M235.3 462.8h0M239.5 457.6h0M230.2 467.7h0M234.5 460.9h0M230.4 459.5h0M237.9 458.6h0M236.5 457.9h0M230.7 468.4h0M235.5 468.5h0M236.3 461.0h0M244.5 458.9h0M237.4 474.8h0M230.1 470.0h0M237.8 471.7h0M252.1 464.2h0M246.0 463.3h0M246.8 463.7h0M226.6 474.6h0M253.4 472.4h0M240.1 466.0h0M238.4 465.0h0M237.4 469.6h0M240.8 467.8h0M220.2 467.5h0M243.1 460.4h0M224.4 463.8h0M250.7 470.0h0M237.9 462.6h0M230.4 464.5h0M227.6 464.9h0M232.7 459.5h0M248.4 465.0h0M235.7 464.8h0M237.1 467.0h0M230.8 473.2h0M247.9 461.6h0M233.7 466.0h0M229.9 462.7h0M239.5 468.9h0M231.4 468.2h0M235.0 470.7h0M224.2 475.5h0M221.7 461.2h0M241.5 471.9h0M228.1 460.2h0M238.8 459.1h0M237.2 454.7h0M242.7 471.5h0M240.4 461.5h0M244.8 466.2h0M233.9 462.1h0M234.7 473.8h0M242.8 457.2h0M226.8 466.7h0M227.3 461.0h0M225.5 465.7h0M230.8 473.1h0M245.7 464.4h0M246.7 464.4h0M233.0 469.5h0M223.8 464.8h0M228.5 460.1h0M236.1 459.2h0M247.5 460.1h0M235.2 471.2h0M243.2 463.5h0M241.5 461.3h0M224.5 467.7h0M244.1 459.6h0M246.9 467.1h0M241.1 467.9h0M234.4 461.2h0M247.1 471.3h0M239.1 458.0h0M237.7 466.8h0M239.1 462.7h0M248.3 466.7h0M229.2 470.7h0M234.4 465.7h0M232.5 467.1h0M236.6 457.7h0M235.7 457.4h0M233.0 465.6h0M238.2 466.0h0M234.5 462.5h0M246.6 466.0h0M245.7 468.5h0M233.9 456.5h0M237.1 466.6h0M235.4 474.8h0M229.2 465.9h0M239.4 464.1h0M243.7 463.5h0M221.6 470.4h0M225.7 454.4h0M244.9 465.5h0M246.5 460.9h0M229.3 469.5h0M226.5 463.8h0M224.6 466.8h0M244.5 465.0h0M238.1 469.6h0M234.8 464.4h0M229.7 468.1h0M240.6 458.9h0M232.2 465.4h0M247.0 464.6h0M236.1 474.7h0M241.5 459.5h0M240.1 464.8h0M236.4 462.2h0M234.1 468.4h0M248.6 458.3h0M246.7 467.0h0M227.2 461.4h0M250.7 470.5h0M225.9 467.4h0M240.1 463.0h0M241.5 464.4h0M236.3 466.3h0M228.5 468.4h0M229.8 471.6h0M243.0 463.9h0M229.3 463.2h0M234.7 458.2h0M237.1 462.2h0M229.9 461.3h0M228.5 471.3h0M224.9 461.5h0M232.3 463.3h0M244.3 464.6h0M236.5 472.4h0M232.2 457.8h0M249.3 461.7h0M247.8 467.5h0M241.1 455.8h0M240.1 467.8h0M238.3 453.5h0M243.7 462.9h0M237.3 459.9h0M243.1 461.3h0M238.2 466.3h0M245.4 470.9h0M224.5 463.1h0M229.2 474.6h0M249.3 470.8h0M244.8 455.8h0M229.6 466.6h0M228.3 469.6h0M245.7 470.7h0M234.8 468.9h0M236.2 462.9h0M246.2 460.6h0M241.2 467.7h0M236.0 461.2h0M246.5 464.3h0M223.0 467.9h0M230.3 462.0h0M242.1 464.6h0M250.6 473.0h0M230.6 471.7h0M252.7 467.0h0M225.4 464.0h0M240.1 461.4h0M238.7 464.9h0M228.8 465.9h0M239.4 458.2h0M214.2 480.8h0M244.6 475.3h0M236.4 468.0h0M231.0 467.0h0M224.3 466.1h0M224.5 462.1h0M227.3 468.9h0M227.6 466.6h0M236.3 468.0h0M225.0 472.2h0M232.2 476.8h0M221.6 467.8h0M252.0 463.0h0M239.3 463.1h0M215.5 470.9h0M239.9 459.1h0M238.5 467.2h0M238.4 458.0h0M240.0 464.3h0M252.0 467.9h0M253.7 464.8h0M237.6 461.6h0M220.8 471.4h0M235.5 466.9h0M222.1 464.8h0M224.8 469.0h0M242.7 457.8h0M233.9 463.5h0M231.6 459.5h0M240.8 468.9h0M243.4 468.8h0M228.8 464.2h0M247.9 463.5h0M230.5 473.6h0M239.7 456.3h0M233.6 465.2h0M235.2 468.0h0M234.0 468.4h0M243.6 461.1h0M240.8 454.0h0M235.4 461.5h0M246.3 468.1h0M224.6 464.2h0M239.6 465.2h0M225.1 466.3h0M214.9 473.8h0M222.4 464.3h0M242.7 465.3h0M235.1 466.3h0M235.7 459.7h0M229.2 468.0h0M231.0 470.9h0M226.8 468.7h0M234.1 461.8h0M236.6 461.7h0M234.4 458.5h0M234.2 459.5h0M232.1 455.2h0M236.9 466.5h0M241.2 463.9h0M229.1 466.1h0M242.3 476.3h0M244.6 463.4h0M225.9 470.8h0M228.5 459.8h0M232.6 463.8h0M226.9 463.5h0M232.2 466.5h0M229.9 460.6h0M247.9 458.9h0M237.5 461.0h0M248.2 463.6h0M233.3 458.9h0M236.0 465.7h0M235.2 467.5h0M234.2 465.8h0M245.8 463.3h0M237.4 465.6h0M219.7 469.4h0M233.3 470.0h0M243.9 465.6h0M238.5 464.6h0M234.4 468.8h0M241.7 459.8h0M239.0 468.4h0M228.9 460.3h0M238.8 471.1h0M241.3 460.8h0M241.7 462.6h0M234.4 464.0h0M231.9 468.3h0M233.5 455.7h0M240.2 461.7h0M239.0 467.6h0M245.3 464.8h0M232.0 459.8h0M236.8 471.0h0M236.4 474.4h0M238.3 460.1h0M226.9 464.6h0M244.9 456.9h0M233.2 462.3h0M246.9 461.6h0M249.6 472.9h0M223.9 460.6h0M239.8 473.6h0M240.5 463.8h0M235.4 463.1h0M240.1 461.6h0M229.9 469.2h0M243.3 461.5h0M237.9 463.4h0M234.1 464.4h0M216.4 469.1h0M242.6 464.9h0M224.4 465.7h0M246.5 458.7h0M245.0 466.3h0M225.7 467.6h0M224.3 467.4h0M237.4 454.7h0M246.1 462.4h0M237.1 460.7h0M237.2 459.3h0M236.8 462.2h0M248.4 457.6h0M238.3 454.4h0M225.1 460.8h0M247.8 466.9h0M243.9 462.1h0M235.1 460.6h0M234.7 464.8h0M245.7 452.7h0M242.4 470.8h0M235.4 470.4h0M245.7 462.1h0M233.7 466.9h0M233.9 461.8h0M221.8 465.2h0M232.9 464.0h0M223.8 469.9h0M224.5 461.2h0M244.3 465.8h0M229.0 461.3h0M243.5 463.9h0M250.7 468.1h0M235.1 473.8h0M230.1 458.6h0M245.3 466.1h0M242.1 470.9h0M248.1 462.5h0M236.0 471.8h0M239.0 460.1h0M231.1 465.9h0M229.5 477.6h0M228.7 470.1h0M229.3 471.0h0M248.7 461.5h0M243.1 462.4h0M237.9 469.1h0M235.3 465.4h0M236.5 473.2h0M245.2 459.2h0M235.1 460.6h0M223.1 469.7h0M233.5 458.0h0M222.1 470.8h0M233.6 472.6h0M231.2 475.1h0M220.7 461.9h0M221.9 465.8h0M236.6 469.0h0M239.5 462.0h0M240.0 466.4h0M227.2 458.3h0M228.4 465.9h0M237.6 467.7h0M242.8 460.2h0M244.0 465.7h0M236.5 465.3h0M228.0 465.0h0M240.2 459.2h0M238.2 463.5h0M231.8 467.5h0M227.2 465.5h0M232.3 469.0h0M245.5 465.5h0M245.1 457.3h0M233.3 465.7h0M238.5 469.7h0M249.0 465.4h0M224.7 465.7h0M230.6 459.3h0M234.2 465.9h0M238.9 465.4h0M223.8 473.2h0M239.2 463.9h0M224.1 467.5h0M243.3 465.3h0M236.5 471.8h0M232.9 470.5h0M244.5 473.0h0M235.6 462.6h0M229.4 471.6h0M243.2 464.7h0M235.1 472.8h0M237.7 462.3h0M246.9 466.5h0M225.2 470.7h0M240.6 459.7h0M242.8 463.7h0M253.1 460.5h0M220.7 465.7h0M241.5 460.4h0M252.0 454.7h0M239.2 466.3h0M236.3 465.3h0M233.2 466.3h0M222.3 467.2h0M246.7 464.5h0M225.2 463.9h0M220.3 463.5h0M242.4 465.7h0M244.3 465.0h0M243.2 466.2h0M242.8 465.6h0M227.0 460.7h0M234.1 459.6h0M232.2 462.1h0M230.7 475.3h0M239.2 467.3h0M226.3 461.4h0M235.4 470.1h0M247.9 466.3h0M234.5 463.0h0M235.1 468.6h0M242.2 464.6h0M225.9 467.1h0M238.6 465.9h0M246.1 468.9h0M241.1 467.4h0M228.0 457.9h0M241.9 460.8h0M233.7 472.3h0M244.2 474.4h0M226.8 461.4h0M228.0 472.4h0M246.6 455.5h0M235.4 471.4h0M234.0 464.2h0M226.6 472.7h0M232.2 468.9h0M246.5 459.0h0M238.7 459.6h0M234.2 459.2h0M219.0 459.4h0M239.0 448.2h0M238.0 459.3h0M244.9 463.6h0M231.8 464.0h0M240.4 466.7h0M230.5 463.8h0M224.7 470.5h0M220.8 470.3h0M240.9 461.9h0M231.6 459.8h0M232.9 456.0h0M223.3 470.9h0M248.8 462.2h0M229.1 457.1h0M220.4 464.1h0M224.4 465.5h0M232.1 473.7h0M244.1 468.6h0M238.7 463.4h0M240.0 467.6h0M228.4 458.9h0M241.6 461.5h0M234.7 463.2h0M242.4 456.8h0M230.3 472.4h0M230.0 464.3h0M229.7 472.8h0M228.7 458.4h0M229.6 471.0h0M240.2 468.2h0M230.8 460.7h0M223.3 469.1h0M231.9 467.2h0M230.5 469.5h0M221.4 465.8h0M235.7 460.5h0M235.4 459.9h0M235.2 466.0h0M246.3 459.8h0M223.1 467.5h0M238.0 452.4h0M237.1 463.4h0M225.7 458.1h0M245.7 463.8h0M227.2 473.5h0M237.0 466.5h0M239.7 462.8h0M233.5 470.1h0M227.9 456.3h0M242.0 461.1h0M245.6 468.4h0M230.8 463.5h0M243.8 453.9h0M237.0 459.6h0M226.6 469.4h0M242.2 466.5h0M234.7 466.1h0M232.9 470.4h0M238.7 465.1h0M238.6 465.7h0M230.4 471.3h0M229.4 457.2h0M243.4 477.5h0M241.9 465.9h0M251.7 473.4h0M235.5 466.2h0M238.2 471.3h0M230.0 469.2h0M251.8 464.2h0M237.8 465.4h0M239.2 463.6h0M247.5 470.4h0M242.4 468.3h0M231.4 474.7h0M231.9 458.7h0M243.1 454.3h0M238.9 467.2h0M233.5 474.1h0M232.9 460.1h0M243.3 458.4h0M225.5 462.8h0M234.5 464.8h0M245.8 468.6h0M244.0 463.1h0M227.9 468.3h0M233.3 457.6h0M236.8 455.4h0M238.2 466.2h0M234.3 467.1h0M230.6 462.7h0M233.9 466.7h0M237.1 465.6h0M236.6 468.3h0M248.4 459.7h0M238.8 464.6h0M243.5 472.6h0M239.9 460.1h0M233.0 463.7h0M242.1 461.1h0M232.2 469.8h0M243.3 459.0h0M239.8 457.5h0M231.1 462.2h0M241.0 456.7h0M232.7 467.1h0M244.1 472.9h0M228.5 469.9h0M238.1 467.5h0M246.9 465.2h0M231.2 464.4h0M218.9 460.6h0M228.6 461.3h0M240.7 468.7h0M233.7 458.3h0M225.0 476.0h0M230.5 460.4h0M231.6 463.8h0M219.1 464.0h0M231.0 459.9h0M234.0 463.1h0M231.8 464.8h0M231.6 464.5h0M246.3 465.1h0M224.6 468.1h0M232.5 472.4h0M244.1 461.3h0M235.9 460.4h0M224.1 464.0h0M238.9 463.9h0M217.2 474.7h0M231.8 466.7h0M239.6 462.4h0M225.2 468.2h0M239.8 458.2h0M235.7 463.0h0M234.7 461.9h0M255.0 455.9h0M242.4 466.8h0M235.9 460.7h0M221.8 464.6h0M222.3 462.0h0M232.7 467.2h0M235.0 459.7h0M242.6 474.2h0M227.0 461.7h0M232.8 470.1h0M240.1 466.9h0M224.6 471.8h0M235.0 466.1h0M242.1 458.7h0M234.8 476.3h0M237.4 465.9h0M235.4 459.6h0M240.5 470.7h0M239.0 464.2h0M233.7 462.0h0M233.2 468.9h0M233.3 466.0h0M240.8 467.2h0M228.7 466.4h0M247.2 468.1h0M216.1 471.3h0M239.7 462.5h0M249.1 462.6h0M237.7 470.2h0M240.8 464.1h0M238.1 461.2h0M243.9 466.4h0M248.2 465.1h0M230.3 459.6h0M235.5 459.6h0M232.1 464.5h0M234.1 469.7h0M231.0 467.2h0M238.5 472.4h0M230.4 474.2h0M243.1 467.7h0M237.1 465.8h0M241.1 463.3h0M229.7 462.0h0M239.5 465.4h0M254.4 455.7h0M244.2 467.9h0M239.3 456.0h0M244.2 469.5h0M246.0 462.1h0M246.3 459.4h0M232.3 466.5h0M233.3 466.3h0M238.6 464.9h0M246.9 456.4h0M240.7 450.0h0M233.8 470.4h0M241.0 464.2h0M241.3 467.7h0M230.8 454.0h0M231.1 464.2h0M221.0 463.2h0M224.9 467.9h0M229.5 471.4h0M248.3 456.7h0M238.1 467.1h0M244.9 465.8h0M236.2 454.5h0M234.8 464.8h0M248.6 462.5h0M235.0 463.8h0M243.1 466.1h0M239.6 470.6h0M231.8 469.6h0M233.5 471.5h0M241.9 468.4h0M233.1 465.1h0M245.5 460.0h0M232.2 459.7h0M239.4 454.7h0M236.0 462.0h0M235.7 466.7h0M239.7 463.6h0M233.7 465.2h0M231.9 470.1h0M232.2 470.5h0M237.6 463.5h0M237.5 464.1h0M243.9 455.9h0M239.9 469.8h0M242.5 462.8h0M240.8 450.7h0M235.0 465.2h0M244.5 462.3h0M232.5 469.4h0M221.7 467.9h0M213.1 472.1h0M234.1 462.6h0M245.5 467.4h0M231.5 460.2h0M200.6 471.5h0M247.1 463.8h0M246.4 461.3h0M230.5 470.5h0M239.6 466.2h0M247.0 464.0h0M230.7 467.1h0M231.0 468.4h0M238.9 467.4h0M241.6 459.1h0M235.6 465.0h0M239.0 463.1h0M238.5 462.9h0M239.6 464.7h0M239.3 464.4h0M227.7 460.2h0M220.8 466.8h0M233.2 470.6h0M230.4 469.4h0M217.9 459.3h0M246.1 460.0h0M230.7 467.9h0M241.8 457.2h0M229.9 467.0h0M239.6 472.0h0M238.8 466.7h0M237.7 460.0h0M234.8 467.0h0M232.1 456.9h0M235.4 464.6h0M246.0 460.2h0M228.1 456.9h0M233.9 461.7h0M226.2 464.8h0M250.0 467.2h0M242.7 465.5h0M236.2 474.1h0M228.4 473.0h0M228.2 466.9h0M233.3 468.8h0M231.3 461.0h0M233.2 465.6h0M233.8 463.0h0M225.5 462.1h0M238.5 469.5h0M234.7 462.0h0M241.2 465.7h0M225.0 465.6h0M242.7 468.3h0M244.6 465.5h0M237.1 456.9h0M229.7 468.0h0M232.0 479.3h0M235.7 468.7h0M239.4 469.9h0M240.3 467.1h0M237.9 472.6h0M222.3 465.0h0M232.8 462.4h0M235.1 463.0h0M230.2 459.3h0M238.0 459.7h0M245.6 468.9h0M225.9 463.7h0M239.0 460.9h0M230.5 472.6h0M229.1 469.2h0M233.1 463.1h0M249.8 458.9h0M240.1 463.1h0M234.2 465.8h0M245.9 468.4h0M236.9 466.8h0M238.5 460.0h0M227.4 465.9h0M226.5 460.2h0M223.6 464.8h0M244.5 471.7h0M223.4 460.9h0M246.2 460.5h0M225.7 471.3h0M235.7 466.2h0M237.0 463.4h0M225.7 463.4h0M219.0 464.3h0M232.1 469.4h0M248.1 462.0h0M247.1 464.4h0M226.0 470.4h0M234.5 458.0h0M232.1 457.1h0M245.0 465.3h0M239.5 469.1h0M228.7 466.5h0M254.3 465.3h0M240.5 456.4h0M229.0 464.8h0M244.7 460.6h0M241.9 461.1h0M246.0 465.4h0M224.1 454.1h0M236.7 462.3h0M231.5 471.0h0M234.1 463.5h0M233.1 459.9h0M239.4 465.8h0M226.6 460.1h0M244.8 467.4h0M231.7 462.0h0M240.4 470.9h0M235.4 466.8h0M237.0 458.6h0M241.7 463.0h0M232.8 464.9h0M243.3 466.3h0M231.1 458.8h0M239.8 468.5h0M234.0 460.5h0M228.6 457.2h0M217.8 467.5h0M228.5 462.5h0M230.6 466.3h0M233.4 473.2h0M245.7 462.3h0M229.6 474.6h0M242.5 473.8h0M228.8 467.5h0M240.5 470.8h0M243.0 470.3h0M237.4 471.2h0M237.2 464.7h0M242.5 470.3h0M230.7 467.6h0M239.1 459.9h0M238.1 467.8h0M253.1 463.8h0M246.7 455.8h0M250.3 456.4h0M241.7 470.0h0M238.9 463.2h0M237.2 468.8h0M232.9 464.1h0M228.6 460.0h0M238.2 461.1h0M239.9 452.6h0M239.1 467.0h0M222.4 460.5h0M242.3 474.5h0M235.7 466.0h0M226.7 461.6h0M244.8 455.6h0M228.1 466.3h0M236.4 461.3h0M240.6 475.9h0M231.6 464.5h0M226.4 454.8h0M238.3 464.5h0M226.1 462.4h0M238.5 461.9h0M239.1 460.3h0M226.2 462.0h0M240.1 455.6h0M226.3 468.0h0M237.9 464.6h0M230.2 465.7h0M226.2 465.1h0M233.6 473.5h0M236.5 461.2h0M241.1 461.4h0M242.4 472.0h0M229.5 467.8h0M234.6 462.4h0M214.5 465.1h0M241.9 461.3h0M235.6 463.5h0M234.6 464.7h0M235.2 472.7h0M219.6 461.2h0M238.5 465.0h0" stroke="#1414d4" stroke-width="1" stroke-linecap="square" opacity="0.8" fill="none"/>
<ellipse cx="236" cy="465.5" rx="13" ry="6.8" transform="rotate(-10 236 465.5)" fill="#1010d0" filter="url(#bl1)"/>
<ellipse cx="215" cy="468.5" rx="11" ry="4.2" transform="rotate(-5 215 468.5)" fill="#1818d8" filter="url(#bl1)"/>
<rect x="176.5" y="408.5" width="105.5" height="89.39999999999998" fill="none" stroke="#808080" stroke-width="1"/>
<line x1="174.0" y1="497.9" x2="176.5" y2="497.9" stroke="#555" stroke-width="0.8"/>
<line x1="175.0" y1="491.88692583661197" x2="176.5" y2="491.88692583661197" stroke="#555" stroke-width="0.8"/>
<line x1="175.0" y1="488.3695029369747" x2="176.5" y2="488.3695029369747" stroke="#555" stroke-width="0.8"/>
<line x1="175.0" y1="485.8738516732239" x2="176.5" y2="485.8738516732239" stroke="#555" stroke-width="0.8"/>
<line x1="175.0" y1="483.93807416338797" x2="176.5" y2="483.93807416338797" stroke="#555" stroke-width="0.8"/>
<line x1="175.0" y1="482.3564287735867" x2="176.5" y2="482.3564287735867" stroke="#555" stroke-width="0.8"/>
<line x1="175.0" y1="481.0191666507152" x2="176.5" y2="481.0191666507152" stroke="#555" stroke-width="0.8"/>
<line x1="175.0" y1="479.8607775098359" x2="176.5" y2="479.8607775098359" stroke="#555" stroke-width="0.8"/>
<line x1="175.0" y1="478.8390058739494" x2="176.5" y2="478.8390058739494" stroke="#555" stroke-width="0.8"/>
<line x1="174.0" y1="477.92499999999995" x2="176.5" y2="477.92499999999995" stroke="#555" stroke-width="0.8"/>
<line x1="175.0" y1="471.91192583661194" x2="176.5" y2="471.91192583661194" stroke="#555" stroke-width="0.8"/>
<line x1="175.0" y1="468.39450293697473" x2="176.5" y2="468.39450293697473" stroke="#555" stroke-width="0.8"/>
<line x1="175.0" y1="465.89885167322393" x2="176.5" y2="465.89885167322393" stroke="#555" stroke-width="0.8"/>
<line x1="175.0" y1="463.963074163388" x2="176.5" y2="463.963074163388" stroke="#555" stroke-width="0.8"/>
<line x1="175.0" y1="462.3814287735867" x2="176.5" y2="462.3814287735867" stroke="#555" stroke-width="0.8"/>
<line x1="175.0" y1="461.0441666507152" x2="176.5" y2="461.0441666507152" stroke="#555" stroke-width="0.8"/>
<line x1="175.0" y1="459.8857775098359" x2="176.5" y2="459.8857775098359" stroke="#555" stroke-width="0.8"/>
<line x1="175.0" y1="458.86400587394945" x2="176.5" y2="458.86400587394945" stroke="#555" stroke-width="0.8"/>
<line x1="174.0" y1="457.95" x2="176.5" y2="457.95" stroke="#555" stroke-width="0.8"/>
<line x1="175.0" y1="451.936925836612" x2="176.5" y2="451.936925836612" stroke="#555" stroke-width="0.8"/>
<line x1="175.0" y1="448.41950293697477" x2="176.5" y2="448.41950293697477" stroke="#555" stroke-width="0.8"/>
<line x1="175.0" y1="445.92385167322396" x2="176.5" y2="445.92385167322396" stroke="#555" stroke-width="0.8"/>
<line x1="175.0" y1="443.98807416338803" x2="176.5" y2="443.98807416338803" stroke="#555" stroke-width="0.8"/>
<line x1="175.0" y1="442.40642877358675" x2="176.5" y2="442.40642877358675" stroke="#555" stroke-width="0.8"/>
<line x1="175.0" y1="441.06916665071526" x2="176.5" y2="441.06916665071526" stroke="#555" stroke-width="0.8"/>
<line x1="175.0" y1="439.91077750983595" x2="176.5" y2="439.91077750983595" stroke="#555" stroke-width="0.8"/>
<line x1="175.0" y1="438.8890058739495" x2="176.5" y2="438.8890058739495" stroke="#555" stroke-width="0.8"/>
<line x1="174.0" y1="437.975" x2="176.5" y2="437.975" stroke="#555" stroke-width="0.8"/>
<line x1="175.0" y1="431.961925836612" x2="176.5" y2="431.961925836612" stroke="#555" stroke-width="0.8"/>
<line x1="175.0" y1="428.44450293697474" x2="176.5" y2="428.44450293697474" stroke="#555" stroke-width="0.8"/>
<line x1="175.0" y1="425.94885167322394" x2="176.5" y2="425.94885167322394" stroke="#555" stroke-width="0.8"/>
<line x1="175.0" y1="424.013074163388" x2="176.5" y2="424.013074163388" stroke="#555" stroke-width="0.8"/>
<line x1="175.0" y1="422.43142877358673" x2="176.5" y2="422.43142877358673" stroke="#555" stroke-width="0.8"/>
<line x1="175.0" y1="421.09416665071524" x2="176.5" y2="421.09416665071524" stroke="#555" stroke-width="0.8"/>
<line x1="175.0" y1="419.93577750983593" x2="176.5" y2="419.93577750983593" stroke="#555" stroke-width="0.8"/>
<line x1="175.0" y1="418.91400587394946" x2="176.5" y2="418.91400587394946" stroke="#555" stroke-width="0.8"/>
<line x1="174.0" y1="418" x2="176.5" y2="418" stroke="#555" stroke-width="0.8"/>
<line x1="186.0" y1="497.9" x2="186.0" y2="500.4" stroke="#555" stroke-width="0.8"/>
<line x1="193.22471989593555" y1="497.9" x2="193.22471989593555" y2="499.4" stroke="#555" stroke-width="0.8"/>
<line x1="197.4509101132719" y1="497.9" x2="197.4509101132719" y2="499.4" stroke="#555" stroke-width="0.8"/>
<line x1="200.4494397918711" y1="497.9" x2="200.4494397918711" y2="499.4" stroke="#555" stroke-width="0.8"/>
<line x1="202.77528010406445" y1="497.9" x2="202.77528010406445" y2="499.4" stroke="#555" stroke-width="0.8"/>
<line x1="204.67563000920745" y1="497.9" x2="204.67563000920745" y2="499.4" stroke="#555" stroke-width="0.8"/>
<line x1="206.28235296034217" y1="497.9" x2="206.28235296034217" y2="499.4" stroke="#555" stroke-width="0.8"/>
<line x1="207.67415968780665" y1="497.9" x2="207.67415968780665" y2="499.4" stroke="#555" stroke-width="0.8"/>
<line x1="208.9018202265438" y1="497.9" x2="208.9018202265438" y2="499.4" stroke="#555" stroke-width="0.8"/>
<line x1="210.0" y1="497.9" x2="210.0" y2="500.4" stroke="#555" stroke-width="0.8"/>
<line x1="217.22471989593555" y1="497.9" x2="217.22471989593555" y2="499.4" stroke="#555" stroke-width="0.8"/>
<line x1="221.4509101132719" y1="497.9" x2="221.4509101132719" y2="499.4" stroke="#555" stroke-width="0.8"/>
<line x1="224.4494397918711" y1="497.9" x2="224.4494397918711" y2="499.4" stroke="#555" stroke-width="0.8"/>
<line x1="226.77528010406445" y1="497.9" x2="226.77528010406445" y2="499.4" stroke="#555" stroke-width="0.8"/>
<line x1="228.67563000920745" y1="497.9" x2="228.67563000920745" y2="499.4" stroke="#555" stroke-width="0.8"/>
<line x1="230.28235296034217" y1="497.9" x2="230.28235296034217" y2="499.4" stroke="#555" stroke-width="0.8"/>
<line x1="231.67415968780665" y1="497.9" x2="231.67415968780665" y2="499.4" stroke="#555" stroke-width="0.8"/>
<line x1="232.9018202265438" y1="497.9" x2="232.9018202265438" y2="499.4" stroke="#555" stroke-width="0.8"/>
<line x1="234.0" y1="497.9" x2="234.0" y2="500.4" stroke="#555" stroke-width="0.8"/>
<line x1="241.22471989593555" y1="497.9" x2="241.22471989593555" y2="499.4" stroke="#555" stroke-width="0.8"/>
<line x1="245.4509101132719" y1="497.9" x2="245.4509101132719" y2="499.4" stroke="#555" stroke-width="0.8"/>
<line x1="248.4494397918711" y1="497.9" x2="248.4494397918711" y2="499.4" stroke="#555" stroke-width="0.8"/>
<line x1="250.77528010406445" y1="497.9" x2="250.77528010406445" y2="499.4" stroke="#555" stroke-width="0.8"/>
<line x1="252.67563000920745" y1="497.9" x2="252.67563000920745" y2="499.4" stroke="#555" stroke-width="0.8"/>
<line x1="254.28235296034217" y1="497.9" x2="254.28235296034217" y2="499.4" stroke="#555" stroke-width="0.8"/>
<line x1="255.67415968780665" y1="497.9" x2="255.67415968780665" y2="499.4" stroke="#555" stroke-width="0.8"/>
<line x1="256.9018202265438" y1="497.9" x2="256.9018202265438" y2="499.4" stroke="#555" stroke-width="0.8"/>
<line x1="258.0" y1="497.9" x2="258.0" y2="500.4" stroke="#555" stroke-width="0.8"/>
<line x1="265.22471989593555" y1="497.9" x2="265.22471989593555" y2="499.4" stroke="#555" stroke-width="0.8"/>
<line x1="269.4509101132719" y1="497.9" x2="269.4509101132719" y2="499.4" stroke="#555" stroke-width="0.8"/>
<line x1="272.4494397918711" y1="497.9" x2="272.4494397918711" y2="499.4" stroke="#555" stroke-width="0.8"/>
<line x1="274.77528010406445" y1="497.9" x2="274.77528010406445" y2="499.4" stroke="#555" stroke-width="0.8"/>
<line x1="276.67563000920745" y1="497.9" x2="276.67563000920745" y2="499.4" stroke="#555" stroke-width="0.8"/>
<line x1="278.28235296034217" y1="497.9" x2="278.28235296034217" y2="499.4" stroke="#555" stroke-width="0.8"/>
<line x1="279.67415968780665" y1="497.9" x2="279.67415968780665" y2="499.4" stroke="#555" stroke-width="0.8"/>
<line x1="280.9018202265438" y1="497.9" x2="280.9018202265438" y2="499.4" stroke="#555" stroke-width="0.8"/>
<line x1="282" y1="497.9" x2="282" y2="500.4" stroke="#555" stroke-width="0.8"/>
<line x1="249.5" y1="408.5" x2="249.5" y2="497.9" stroke="#777" stroke-width="1"/>
<line x1="176.5" y1="451.5" x2="282" y2="451.5" stroke="#777" stroke-width="1"/>
<text x="174" y="401.7" font-size="8.1" text-anchor="start" textLength="110" lengthAdjust="spacingAndGlyphs" fill="#000" stroke="#000" stroke-width="0.15">During daratumumab treatment</text>
<text x="257.1" y="419.2" font-size="7.6" text-anchor="start" textLength="18.4" lengthAdjust="spacingAndGlyphs" fill="#111" stroke="#111" stroke-width="0.2">0.1%</text>
<text x="260" y="486.6" font-size="7.6" text-anchor="start" textLength="17.5" lengthAdjust="spacingAndGlyphs" fill="#111" stroke="#111" stroke-width="0.2">2.5%</text>
<text transform="translate(162,451.5) rotate(-90)" font-size="8.6" text-anchor="middle" textLength="20.5" lengthAdjust="spacingAndGlyphs" fill="#111" stroke="#111" stroke-width="0.25">CD38</text>
<text x="216.8" y="520.6" font-size="8.6" text-anchor="start" textLength="19.4" lengthAdjust="spacingAndGlyphs" fill="#111" stroke="#111" stroke-width="0.25">CD24</text>
<text transform="translate(172,418) rotate(-90)" font-size="5.2" text-anchor="middle" fill="#111">10<tspan font-size="3.6" dy="-2.1">5</tspan></text>
<text transform="translate(172,439) rotate(-90)" font-size="5.2" text-anchor="middle" fill="#111">10<tspan font-size="3.6" dy="-2.1">4</tspan></text>
<text transform="translate(172,470) rotate(-90)" font-size="5.2" text-anchor="middle" fill="#111">10<tspan font-size="3.6" dy="-2">-3</tspan><tspan dy="2"> 0 10</tspan><tspan font-size="3.6" dy="-2">3</tspan></text>
<text x="186.5" y="506.8" font-size="5.2" text-anchor="middle" fill="#111">10<tspan font-size="3.6" dy="-2.1">-3</tspan></text>
<text x="215.5" y="506.8" font-size="5.2" text-anchor="middle" fill="#111">10<tspan font-size="3.6" dy="-2.1">3</tspan></text>
<text x="244.5" y="506.8" font-size="5.2" text-anchor="middle" fill="#111">10<tspan font-size="3.6" dy="-2.1">4</tspan></text>
<text x="270" y="506.8" font-size="5.2" text-anchor="middle" fill="#111">10<tspan font-size="3.6" dy="-2.1">5</tspan></text>
<text x="201.3" y="506.8" font-size="5.2" text-anchor="middle" fill="#111" stroke="#111" stroke-width="0.22">0</text>
<text x="174" y="500.5" font-size="5" text-anchor="middle" fill="#4040e0" stroke="#4040e0" stroke-width="0.22">M</text>
<text x="10.8" y="551.5" font-size="18" text-anchor="start" font-weight="bold" textLength="11.6" lengthAdjust="spacingAndGlyphs" fill="#000">D</text>
<text x="54.8" y="565.4" font-size="8.1" text-anchor="start" textLength="79" lengthAdjust="spacingAndGlyphs" fill="#000" stroke="#000" stroke-width="0.15">Sorting Bregs strategy</text>
<path d="M114.8 620.8h0M125.0 638.9h0M107.1 631.4h0M96.7 626.2h0M116.7 632.5h0M115.0 621.3h0M109.6 632.4h0M99.7 622.0h0M121.8 615.2h0M111.6 639.6h0M107.9 628.9h0M125.3 620.8h0M110.7 630.9h0M112.6 634.3h0M103.9 625.0h0M107.8 627.0h0M128.6 625.5h0M116.5 620.2h0M113.7 634.8h0M99.8 626.6h0M92.7 618.4h0M121.0 640.4h0M119.3 621.2h0M120.6 640.3h0M125.0 623.7h0M101.3 644.1h0M107.9 634.1h0M122.9 638.7h0M114.0 632.3h0M105.9 627.7h0M115.7 628.5h0M99.0 631.3h0M98.7 623.6h0M121.1 617.7h0M116.6 633.3h0M100.9 644.0h0M94.9 636.9h0M110.6 623.6h0M90.8 632.9h0M110.8 634.2h0M126.5 623.7h0M96.4 634.0h0M91.9 628.5h0M98.5 632.2h0M84.1 631.0h0M114.2 623.7h0M90.2 639.7h0M108.1 625.0h0M111.0 631.0h0M105.7 638.7h0M98.4 621.4h0M103.9 630.1h0M109.5 619.4h0M97.5 627.6h0M98.2 631.3h0M99.5 642.4h0M124.9 629.7h0M122.0 614.9h0M114.5 624.2h0M89.8 636.1h0M108.2 625.9h0M120.9 636.2h0M123.2 628.4h0M101.2 615.1h0M100.9 635.8h0M104.5 619.5h0M105.7 643.2h0M116.8 631.3h0M128.2 632.3h0M99.8 620.8h0M113.7 622.3h0M108.5 621.0h0M103.7 624.0h0M102.5 624.9h0M107.0 616.4h0M101.4 617.7h0M98.5 642.6h0M99.0 639.7h0M101.2 624.3h0M106.2 631.5h0M85.1 637.4h0M97.3 635.1h0M99.3 622.1h0M109.6 616.0h0M98.3 617.3h0M107.9 629.9h0M86.9 641.4h0M91.9 630.2h0M116.8 637.1h0M108.1 622.6h0M121.1 622.4h0M120.0 630.4h0M106.2 637.3h0M111.9 631.6h0M103.2 636.1h0M116.9 626.4h0M104.9 641.1h0M117.8 632.5h0M109.7 618.9h0M126.3 622.9h0M98.3 634.0h0M107.4 626.1h0M120.3 623.2h0M107.4 631.7h0M105.7 640.3h0M92.5 628.0h0M97.6 629.0h0M103.9 628.0h0M101.0 622.9h0M125.6 621.2h0M102.1 623.0h0M109.8 630.0h0M85.9 641.0h0M101.8 632.3h0M127.0 615.1h0M125.6 615.6h0M106.1 629.6h0M93.4 635.8h0M118.5 630.0h0M118.3 624.8h0M113.7 617.4h0M121.3 638.8h0M108.2 629.5h0M118.1 629.2h0M113.5 633.2h0M89.3 633.7h0M128.4 623.8h0M111.1 628.1h0M91.7 627.8h0M121.3 620.8h0M105.8 625.7h0M111.7 625.7h0M91.8 645.2h0M111.4 628.8h0M92.9 632.7h0M126.0 617.2h0M105.1 615.7h0M85.0 633.9h0M99.2 629.0h0M113.1 642.8h0M109.2 626.8h0M111.6 639.2h0M93.8 634.2h0M123.4 619.9h0M88.2 638.6h0M98.4 618.3h0M88.2 629.1h0M107.7 633.1h0M106.5 625.7h0M107.2 631.8h0M111.6 628.8h0M111.5 614.3h0M105.1 621.2h0M118.7 622.3h0M97.1 644.1h0M105.1 641.8h0M120.5 627.0h0M119.3 616.3h0M99.6 623.9h0M111.1 641.0h0M117.6 625.3h0M117.8 615.6h0M99.2 623.6h0M91.5 643.4h0M101.3 634.3h0M90.7 639.1h0M98.5 631.6h0M124.8 627.6h0M115.6 630.5h0M108.1 641.6h0M94.5 642.1h0M114.8 626.9h0M105.2 638.0h0M115.3 629.6h0M95.2 635.3h0M121.2 634.9h0M109.6 634.2h0M101.7 623.5h0M111.7 637.4h0M107.3 629.8h0M110.8 631.3h0M102.7 623.7h0M99.6 642.7h0M124.0 617.6h0M105.0 628.1h0M116.8 612.6h0M105.1 631.2h0M100.0 635.8h0M118.6 613.8h0M119.2 617.3h0M105.3 634.2h0M105.1 618.5h0M114.8 627.9h0M95.8 643.3h0M102.3 631.4h0M118.6 621.8h0M105.9 629.9h0M87.8 627.4h0M110.0 634.6h0M106.6 632.4h0M107.5 641.3h0M119.1 635.5h0M106.9 635.7h0M116.7 621.4h0M103.3 612.3h0M87.6 621.1h0M103.6 629.2h0M105.9 623.5h0M116.9 623.2h0M117.9 613.6h0M101.7 622.6h0M115.3 633.5h0M108.6 630.2h0M111.6 626.7h0M102.6 645.9h0M98.0 627.1h0M118.7 626.4h0M118.6 613.7h0M109.4 623.4h0M105.3 630.5h0M112.5 623.7h0M97.8 627.1h0M126.1 615.4h0M96.2 643.2h0M107.7 620.7h0M109.8 641.1h0M92.5 624.3h0M100.9 629.1h0M105.6 617.8h0M117.0 614.6h0M111.7 635.3h0M116.1 630.2h0M115.3 621.2h0M117.4 636.6h0M113.2 620.8h0M118.2 632.3h0M117.2 626.6h0M103.2 640.3h0M101.5 631.6h0M101.8 635.2h0M129.4 615.6h0M112.1 646.1h0M123.6 624.8h0M114.3 625.3h0M103.9 629.5h0M118.3 616.5h0M95.9 629.1h0M96.3 634.8h0M102.4 639.3h0M124.4 621.7h0M109.0 629.4h0M124.6 626.2h0M93.0 629.9h0M92.1 646.1h0M109.8 623.5h0M107.2 634.1h0M84.5 635.4h0M114.4 633.1h0M118.1 639.3h0M91.2 633.2h0M98.8 629.2h0M96.6 627.5h0M95.8 632.3h0M90.1 624.4h0M106.7 637.7h0M102.0 630.2h0M101.6 612.6h0M113.7 625.2h0M114.9 628.9h0M109.1 629.3h0M95.9 629.4h0M108.8 626.0h0M95.8 614.5h0M106.5 616.1h0M118.6 628.1h0M121.4 631.5h0M103.3 624.7h0M93.0 639.7h0M116.8 620.0h0M92.4 639.7h0M87.0 640.9h0M94.3 627.7h0M117.1 618.5h0M117.3 617.2h0M100.2 629.6h0M109.5 621.1h0M90.8 621.6h0M105.3 628.1h0M122.2 623.7h0M123.1 626.3h0M105.7 626.3h0M104.6 644.7h0M100.2 626.6h0M87.6 633.9h0M109.7 642.0h0M117.2 633.2h0M126.6 630.0h0M110.1 633.3h0M109.8 612.1h0M114.1 623.4h0M116.3 623.9h0M124.8 616.7h0M123.9 633.6h0M122.7 630.3h0M98.7 641.2h0M94.1 613.5h0M98.9 628.4h0M121.8 618.0h0M100.1 631.9h0M114.3 645.4h0M102.6 637.6h0M119.4 621.5h0M114.6 629.8h0M98.9 641.8h0M93.4 630.6h0M112.9 621.8h0M111.4 623.3h0M115.1 625.7h0M120.9 618.8h0M104.2 616.3h0M118.9 630.7h0M109.2 629.9h0M103.0 628.3h0M115.7 626.6h0M108.5 629.9h0M89.2 623.2h0M98.2 617.6h0M94.3 633.2h0M97.6 639.7h0M129.0 616.8h0M105.1 639.7h0M95.3 641.4h0M107.5 634.0h0M124.7 612.9h0M111.2 628.8h0M122.1 629.4h0M113.4 627.4h0M100.9 630.8h0M115.7 617.5h0M108.9 624.5h0M100.8 627.4h0M111.7 636.0h0M121.0 631.5h0M111.5 624.4h0M120.7 615.7h0M121.0 632.4h0M120.4 627.0h0M112.4 614.5h0M108.9 613.0h0M113.5 639.6h0M105.2 637.9h0M101.7 627.2h0M98.1 633.1h0M116.5 622.5h0M94.0 636.2h0M103.8 621.6h0M102.4 639.2h0M97.0 628.0h0M112.4 615.5h0M115.2 634.6h0M119.8 622.3h0M103.1 641.5h0M103.8 633.1h0M113.6 633.5h0M122.8 635.0h0M116.1 626.2h0M128.1 626.8h0M92.2 631.6h0M108.4 631.8h0M92.0 615.0h0M127.4 616.4h0M88.1 631.4h0M91.8 621.5h0M123.0 625.8h0M98.1 633.6h0M89.9 642.1h0M118.7 624.7h0M110.1 646.3h0M99.9 638.3h0M101.3 620.2h0M102.4 637.4h0M101.4 633.2h0M114.5 618.5h0M96.2 627.1h0M106.5 630.6h0M92.3 617.5h0M121.1 630.4h0M109.6 633.8h0M123.3 624.5h0M97.0 640.8h0M105.9 640.6h0M100.0 619.6h0M110.2 628.6h0M105.5 634.7h0M100.3 628.6h0M104.0 629.7h0M95.8 641.2h0" stroke="#a0a0f0" stroke-width="1" stroke-linecap="square" opacity="0.5" fill="none"/>
<path d="M110.1 623.2h0M123.9 627.5h0M95.8 638.5h0M103.9 621.5h0M106.7 632.1h0M110.7 629.9h0M109.7 631.9h0M102.4 631.0h0M109.9 629.0h0M100.0 638.1h0M100.1 634.1h0M102.1 637.5h0M110.7 631.4h0M114.5 628.5h0M115.0 621.7h0M99.0 637.0h0M107.5 633.8h0M113.9 621.0h0M104.8 623.9h0M118.4 624.9h0M119.7 625.4h0M101.3 626.6h0M104.6 631.9h0M113.1 637.7h0M96.5 621.7h0M107.9 630.3h0M105.6 630.5h0M120.6 621.2h0M106.9 627.8h0M103.7 632.7h0M106.8 627.6h0M107.5 624.9h0M93.3 640.4h0M103.8 642.0h0M96.1 633.3h0M107.5 632.6h0M113.6 632.0h0M97.6 626.6h0M94.0 633.0h0M109.9 621.8h0M102.9 629.0h0M109.1 633.5h0M108.9 622.7h0M117.2 630.6h0M108.6 640.2h0M97.5 628.6h0M98.6 634.0h0M102.0 635.7h0M104.9 622.3h0M110.4 626.4h0M100.1 626.3h0M105.7 629.0h0M102.1 625.9h0M94.9 631.5h0M105.0 625.2h0M109.7 627.1h0M110.4 631.8h0M101.4 631.8h0M107.9 630.4h0M98.6 625.3h0M108.5 637.1h0M96.4 640.7h0M116.5 632.9h0M104.5 629.2h0M85.5 635.2h0M106.4 631.5h0M108.8 620.2h0M128.7 615.8h0M99.7 630.6h0M117.9 620.7h0M95.7 624.5h0M116.4 627.9h0M108.7 618.5h0M105.6 629.2h0M98.1 631.5h0M94.2 622.9h0M116.6 626.8h0M117.9 621.8h0M109.7 637.4h0M110.0 637.2h0M99.8 626.5h0M102.1 617.5h0M103.1 629.7h0M117.1 627.8h0M112.8 623.4h0M115.0 634.4h0M100.0 632.3h0M94.3 630.2h0M102.2 628.8h0M117.3 623.2h0M115.3 629.9h0M104.4 625.7h0M113.7 624.3h0M113.0 628.7h0M99.4 629.8h0M118.3 622.1h0M117.4 627.6h0M99.5 635.0h0M106.5 632.7h0M111.6 621.7h0M115.4 614.2h0M114.3 618.1h0M98.7 629.6h0M104.4 632.1h0M115.1 620.6h0M99.6 626.8h0M107.8 624.4h0M105.3 630.5h0M110.1 623.2h0M99.7 638.4h0M98.8 635.8h0M100.5 633.1h0M119.9 616.6h0M126.0 627.9h0M121.3 622.2h0M105.0 634.7h0M101.4 634.1h0M108.8 624.2h0M103.5 627.2h0M97.5 630.7h0M113.0 629.5h0M100.4 634.3h0M111.1 615.2h0M110.3 629.5h0M100.1 621.6h0M95.4 630.3h0M109.8 634.0h0M106.8 627.9h0M110.8 623.8h0M100.5 614.5h0M108.3 631.0h0M96.2 631.7h0M102.0 629.6h0M103.5 621.2h0M107.5 621.1h0M104.5 628.3h0M90.7 624.1h0M100.3 635.5h0M104.9 632.9h0M108.2 620.2h0M101.9 624.4h0M98.7 632.5h0M105.7 628.0h0M103.1 624.2h0M116.5 621.4h0M103.6 622.5h0M98.2 622.2h0M108.3 631.4h0M111.3 627.7h0M89.2 628.9h0M103.6 629.3h0M99.1 632.6h0M106.0 637.6h0M107.1 635.5h0M120.6 629.1h0M111.1 623.1h0M111.5 631.7h0M96.9 628.6h0M106.1 621.6h0M116.4 635.9h0M92.4 629.6h0M97.5 641.0h0M114.8 620.0h0M112.7 620.4h0M112.0 636.4h0M109.0 614.1h0M113.6 624.1h0M125.6 620.3h0M84.1 635.0h0M106.4 621.0h0M112.7 618.1h0M114.8 636.7h0M96.6 621.3h0M93.7 627.4h0M115.5 620.3h0M118.2 612.5h0M93.9 639.2h0M95.9 627.4h0M110.0 622.6h0M112.5 623.5h0M100.0 625.6h0M96.7 634.9h0M110.8 615.9h0M116.1 621.2h0M94.7 639.0h0M109.4 632.1h0M106.6 619.0h0M101.8 620.2h0M121.9 631.8h0M111.2 630.5h0M105.1 615.6h0M110.9 630.9h0M96.8 634.6h0M124.5 620.7h0M106.4 637.2h0M106.1 626.7h0M118.0 625.2h0M110.6 622.3h0M109.4 635.6h0M92.1 639.4h0M110.2 633.6h0M116.3 625.1h0M101.9 621.7h0M95.7 633.2h0M115.6 622.1h0M123.9 619.9h0M111.9 619.1h0M113.2 620.1h0M92.1 631.5h0M99.3 623.8h0M89.8 638.1h0M112.3 619.7h0M114.5 631.5h0M86.2 635.0h0M106.6 615.9h0M114.7 623.6h0M103.5 636.4h0M107.9 634.1h0M115.8 617.4h0M94.9 631.0h0M109.0 623.8h0M115.4 625.3h0M107.3 623.7h0M96.7 615.4h0M110.9 631.3h0M111.8 628.0h0M109.5 618.3h0M118.4 619.6h0M94.3 630.8h0M103.6 622.5h0M106.2 628.6h0M115.5 614.9h0M97.4 631.1h0M121.4 623.2h0M102.7 634.6h0M105.6 639.5h0M96.7 633.4h0M106.7 630.6h0M104.7 631.9h0M105.8 623.8h0M100.2 618.5h0M109.1 619.5h0M105.0 616.6h0M88.6 637.6h0M119.4 629.8h0M108.6 630.6h0M112.3 638.5h0M103.7 631.1h0M120.3 636.1h0M109.0 638.0h0M116.9 626.5h0M102.9 641.0h0M117.7 618.6h0M113.3 616.4h0M98.9 634.9h0M116.9 631.9h0M104.6 633.1h0M99.7 636.2h0M103.2 630.0h0M106.2 624.3h0M103.6 633.5h0M112.5 629.2h0M114.6 620.5h0M99.6 639.8h0M96.7 644.2h0M100.8 618.2h0M109.2 628.9h0M103.8 620.7h0M111.1 622.6h0M111.3 625.7h0M94.0 639.0h0M108.0 630.5h0M102.1 634.7h0M106.0 629.7h0M94.1 629.9h0M111.3 627.4h0M104.7 626.5h0M103.6 633.3h0M95.6 633.1h0M118.9 621.6h0M108.9 615.9h0M112.0 626.8h0M99.9 628.1h0M100.3 632.5h0M116.8 619.7h0M107.8 638.7h0M116.4 630.6h0M127.2 629.8h0M92.7 631.7h0M98.0 635.6h0M109.4 625.2h0M92.5 630.8h0M105.6 631.8h0M100.8 626.3h0M119.4 635.1h0M96.4 632.5h0M109.8 630.4h0M110.4 623.1h0M97.9 631.5h0M98.0 629.8h0M117.7 630.4h0M115.7 629.7h0M96.3 636.4h0M94.1 631.1h0M119.7 621.2h0M109.6 630.1h0M100.0 626.0h0M108.5 629.4h0M101.4 619.5h0M108.7 622.8h0M117.1 618.7h0M116.7 620.5h0M106.4 639.0h0M99.3 622.8h0M104.7 630.0h0M117.9 618.4h0M112.4 617.9h0M90.8 632.1h0M99.9 622.3h0M103.9 631.0h0M116.6 624.6h0M112.7 616.7h0M103.6 630.7h0M99.2 631.4h0M100.7 613.7h0M110.1 624.4h0M106.7 622.9h0M95.6 627.3h0M101.6 622.6h0M105.2 614.4h0M106.4 620.5h0M105.0 613.8h0M101.9 633.8h0M100.8 624.1h0M109.6 630.6h0M83.4 637.6h0M105.1 629.3h0M108.9 622.0h0M108.7 623.4h0M103.5 629.6h0M104.4 626.1h0M113.3 626.9h0M102.5 621.8h0M93.4 629.5h0M106.3 618.4h0M98.0 641.7h0M104.4 638.1h0M122.4 618.8h0M110.0 627.8h0M111.9 621.9h0M110.4 623.7h0M117.9 633.7h0M108.5 628.4h0M112.7 623.9h0M106.5 625.0h0M101.5 632.8h0M111.1 628.8h0M106.4 624.0h0M113.1 622.5h0M117.4 625.9h0M117.8 622.1h0M99.0 628.6h0M109.9 627.2h0M120.1 620.6h0M102.4 628.6h0M100.6 627.8h0M104.5 631.1h0M101.2 627.3h0M97.9 625.0h0M116.8 616.8h0M102.7 628.9h0M105.7 623.1h0M95.9 625.4h0M125.2 623.3h0M95.4 624.3h0M94.9 628.6h0M116.6 628.2h0M100.2 626.6h0M106.6 624.6h0M114.9 613.4h0M97.6 632.2h0M105.0 633.0h0M85.0 636.0h0M109.2 629.4h0M101.6 626.8h0M93.0 626.4h0M123.2 613.7h0M106.9 635.6h0M93.4 635.8h0M105.8 626.5h0M117.7 628.8h0M108.7 615.6h0M103.9 626.5h0M106.1 633.5h0M102.1 624.0h0M98.7 634.1h0M108.9 623.7h0M112.9 632.6h0M118.7 624.5h0M99.9 632.5h0M118.7 619.1h0M114.0 619.5h0M110.1 616.9h0M102.7 623.5h0M106.7 614.6h0M103.9 627.5h0M115.3 624.7h0M112.1 637.4h0M102.0 632.2h0M109.4 635.6h0M97.0 626.1h0M110.6 621.0h0M106.1 630.1h0M98.7 627.2h0M127.5 621.3h0M109.5 631.3h0M116.1 621.3h0M101.2 627.5h0M109.7 624.1h0M100.7 625.4h0M116.3 632.3h0M109.7 625.9h0M128.3 625.2h0M87.6 631.9h0M112.5 636.3h0M117.9 618.6h0M92.7 634.4h0M115.2 626.6h0M110.3 632.4h0M113.9 632.8h0M102.7 630.5h0M100.8 624.5h0M97.3 642.4h0M103.0 628.6h0M101.8 623.0h0M97.7 624.4h0M117.6 619.0h0M101.9 616.1h0M115.2 621.0h0M108.3 623.2h0M102.9 638.7h0M107.8 631.8h0M105.2 627.1h0M97.3 617.9h0M110.7 618.0h0M110.6 622.3h0M106.2 631.6h0M106.0 616.9h0M99.5 629.1h0M99.4 622.1h0M120.3 628.6h0M113.9 620.5h0M111.2 618.6h0M119.2 621.2h0M105.3 623.3h0M103.7 625.7h0M109.3 626.2h0M113.1 620.1h0M116.0 618.3h0M111.4 634.8h0M106.8 627.4h0M114.1 619.3h0M115.4 632.3h0M110.0 628.7h0M105.2 636.6h0M104.4 624.8h0M107.7 625.9h0M110.1 628.6h0M109.2 630.4h0M114.0 621.0h0M113.3 636.2h0M102.6 622.8h0M106.2 631.4h0M109.2 624.6h0M110.4 623.9h0M111.0 624.3h0M117.3 636.2h0M101.5 626.1h0M111.5 613.3h0M101.9 637.0h0M92.3 637.4h0M113.5 626.5h0M114.1 627.9h0M106.4 639.5h0M101.6 625.6h0M113.2 621.9h0M116.2 627.1h0M102.0 628.4h0M102.8 631.0h0M107.8 619.0h0M115.4 619.2h0M125.2 622.4h0M111.2 627.4h0M94.1 618.9h0M111.7 639.6h0M91.7 643.2h0M96.8 642.9h0M120.1 630.4h0M107.1 621.7h0M101.9 630.5h0M112.8 618.5h0M107.2 630.7h0M102.3 628.2h0M102.3 633.0h0M104.3 625.7h0M119.0 621.7h0M101.2 625.1h0M120.4 616.5h0M109.7 621.0h0M114.9 621.4h0M108.4 629.5h0M100.5 637.9h0M112.0 619.1h0M101.1 635.6h0M113.0 618.7h0M117.6 630.7h0M106.1 627.7h0M98.5 626.6h0M101.2 629.5h0M113.8 628.7h0M100.6 630.9h0M86.7 641.6h0M96.3 633.0h0M120.4 634.0h0M112.8 630.7h0M100.9 632.5h0M105.1 631.1h0M110.4 639.8h0M125.7 619.5h0M98.6 633.5h0M97.3 626.7h0M109.3 632.3h0M108.3 623.0h0M102.8 628.7h0M119.2 635.0h0M105.0 623.2h0M105.1 635.0h0M101.1 627.8h0M101.6 621.0h0M104.4 624.6h0M108.2 622.8h0M115.8 621.7h0M104.3 626.6h0M111.7 622.0h0M112.4 622.9h0M105.8 634.8h0M92.8 640.0h0M105.4 623.2h0M109.0 626.5h0M115.3 620.0h0M94.3 641.3h0M107.7 617.8h0M106.9 630.8h0M111.7 629.2h0M114.8 620.7h0M108.3 623.6h0M112.5 626.5h0M105.4 618.7h0M96.5 628.5h0M105.4 619.2h0M105.3 631.0h0M107.0 620.9h0M92.8 632.8h0M106.9 614.2h0M107.2 623.3h0M108.6 632.7h0M105.3 630.7h0M117.9 629.6h0M102.2 612.3h0M115.1 633.8h0M104.6 631.2h0M105.8 619.3h0M115.6 627.9h0M104.9 631.5h0M111.7 627.3h0M109.5 629.2h0M119.0 626.3h0M108.8 630.3h0M107.1 629.1h0M103.2 632.7h0M103.6 631.0h0M110.5 626.1h0M115.9 622.8h0M94.1 632.7h0M103.9 630.4h0M111.2 629.6h0M110.7 624.7h0M101.1 630.0h0M104.6 639.5h0M110.4 637.0h0M111.5 625.8h0M108.9 621.9h0M107.4 636.3h0M106.0 618.3h0M108.8 636.1h0M108.2 634.8h0M112.2 621.6h0M106.7 626.8h0M109.4 619.5h0M111.5 626.1h0M101.2 623.7h0M99.0 623.0h0M109.0 627.4h0M105.0 624.5h0M117.9 620.6h0M109.2 624.2h0M106.0 623.0h0M99.8 632.5h0M101.9 624.2h0M112.8 627.0h0M95.4 630.1h0M100.6 638.2h0M110.0 622.6h0M112.2 628.5h0M105.4 633.6h0M106.4 626.9h0M100.2 623.1h0M108.2 631.1h0M110.7 617.0h0M113.9 625.9h0M116.9 619.1h0M109.8 624.8h0M104.2 624.9h0M115.3 623.9h0M111.1 628.4h0M109.8 626.4h0M113.4 624.8h0M111.0 633.3h0M104.8 632.9h0M112.3 626.6h0M103.4 625.7h0M99.5 624.1h0M110.1 621.5h0M102.6 635.2h0M98.0 632.7h0M123.3 622.6h0M109.4 617.2h0M100.4 619.0h0M109.7 626.4h0M100.8 614.6h0M101.4 628.1h0M97.8 621.8h0M98.6 632.1h0M111.7 627.1h0M113.4 615.4h0M120.8 626.3h0M109.5 627.6h0M117.7 620.0h0M106.0 621.2h0M113.1 617.8h0M117.4 619.2h0M106.8 632.5h0M108.7 625.3h0M101.8 619.2h0M98.4 620.8h0M109.4 627.1h0M115.4 620.5h0M120.3 625.0h0M105.2 631.1h0M109.9 630.8h0M124.7 624.7h0M106.0 633.1h0M107.8 628.7h0M108.2 630.8h0M115.9 627.7h0M108.7 629.6h0M93.4 627.0h0M113.3 626.6h0M97.7 638.8h0M97.9 635.0h0M116.2 620.0h0M107.4 614.1h0M104.6 623.2h0M119.6 631.8h0M117.0 622.2h0M113.4 630.0h0M97.9 631.0h0M96.9 625.6h0M119.2 628.9h0M108.6 629.6h0M119.9 627.9h0M101.1 631.1h0M109.3 618.8h0M98.2 641.3h0M111.8 622.7h0M111.3 627.1h0M116.9 624.0h0M95.8 639.0h0M99.6 634.4h0M106.0 636.5h0M110.6 624.7h0M122.4 625.6h0M120.4 630.0h0M96.8 631.3h0" stroke="#5a50ec" stroke-width="1" stroke-linecap="square" opacity="0.5" fill="none"/>
<ellipse cx="106.5" cy="627.5" rx="9.5" ry="6.2" transform="rotate(-30 106.5 627.5)" fill="#3a2ae8" opacity="0.75" filter="url(#bl1)"/>
<path d="M112.5 652.4h0M100.9 652.1h0M90.9 654.6h0M125.6 653.0h0M98.3 653.0h0M82.1 652.7h0M124.8 652.8h0M110.2 654.3h0M103.7 654.4h0M123.7 652.6h0M127.1 652.9h0M93.9 654.5h0M115.8 652.1h0M96.3 653.0h0M106.2 653.6h0M99.6 652.5h0M115.5 653.8h0M129.9 651.8h0M123.7 653.6h0M96.1 654.2h0M110.5 652.1h0M98.3 653.4h0M121.6 654.3h0M94.6 652.6h0M93.8 653.0h0M104.3 652.9h0M110.2 651.9h0M113.8 653.0h0M84.3 654.4h0M101.9 652.9h0M102.7 654.1h0M101.7 650.6h0M118.3 652.8h0M82.4 651.1h0M130.4 652.0h0M99.7 653.2h0M89.1 654.1h0M95.7 652.6h0M84.3 654.2h0M95.1 652.9h0M107.4 652.8h0M82.0 651.8h0M128.6 652.0h0M110.1 652.4h0M98.5 652.9h0M107.3 654.4h0M88.8 654.4h0M106.5 653.9h0M93.0 653.1h0M84.1 653.4h0M87.0 654.0h0M122.4 651.8h0M92.0 652.9h0M118.7 653.6h0M98.6 652.1h0M101.9 654.3h0M113.4 653.4h0M90.1 653.3h0M97.3 653.2h0M100.8 652.6h0M91.7 653.4h0M112.2 652.7h0M124.1 652.5h0M113.7 652.9h0M122.2 654.0h0M92.8 652.1h0M109.1 653.6h0M90.6 653.8h0M122.1 652.9h0M96.5 652.7h0M117.3 653.4h0M91.0 652.5h0M95.1 651.6h0M85.6 654.1h0M108.4 651.9h0M106.9 652.5h0M88.4 652.4h0M96.3 652.8h0M127.8 653.7h0M111.2 652.6h0M128.7 652.7h0M91.7 653.2h0M112.0 652.5h0M90.4 653.4h0M121.9 654.0h0M89.0 653.4h0M104.5 654.5h0M94.7 653.5h0M92.2 653.5h0M117.1 650.8h0M118.2 652.5h0M101.5 653.8h0M118.4 652.0h0M82.7 652.8h0M92.3 653.6h0M120.5 653.9h0M124.3 653.1h0M82.7 653.0h0M126.7 653.3h0M85.6 651.3h0M110.2 653.1h0M100.3 652.3h0M103.2 652.7h0M101.7 651.8h0M108.2 651.4h0M113.2 652.8h0M104.9 653.3h0M89.6 653.3h0M93.8 651.8h0M96.9 652.3h0M108.1 652.1h0M101.7 653.3h0M94.0 653.7h0M110.1 653.4h0M103.1 653.4h0M82.1 654.3h0M100.0 652.9h0M124.3 652.9h0M121.1 653.7h0M96.7 651.9h0M108.2 652.0h0M128.5 653.0h0M102.3 654.5h0M93.1 652.2h0M125.1 653.0h0M114.7 652.4h0M115.8 653.5h0M105.7 653.3h0M108.4 653.0h0M110.6 652.5h0M96.4 652.7h0M128.6 651.6h0M118.3 652.1h0M92.3 653.4h0M87.6 650.9h0M112.7 654.2h0M129.7 652.2h0M128.9 653.3h0M104.8 654.2h0M100.1 650.7h0M86.1 651.8h0M84.9 652.3h0M83.4 653.0h0M98.2 653.9h0M120.7 654.5h0M112.2 652.6h0M92.3 654.1h0M92.8 652.8h0M122.3 652.7h0M127.7 653.7h0M84.5 652.3h0M125.7 651.9h0M109.3 653.9h0M91.0 653.2h0M108.9 653.0h0M98.9 653.2h0M116.0 651.3h0M95.1 653.5h0M85.6 654.5h0M112.6 653.0h0M124.7 653.5h0M119.2 653.2h0M104.8 654.0h0M101.3 653.5h0M108.8 651.2h0M82.9 653.6h0M119.5 653.8h0M92.1 651.4h0M112.7 652.8h0M89.0 653.7h0M86.0 654.1h0M118.2 652.5h0M108.1 655.1h0M126.0 653.4h0M86.1 653.1h0M115.3 653.4h0M106.4 653.5h0M106.0 653.7h0M129.6 652.2h0M102.9 653.5h0M92.9 653.4h0M120.4 655.4h0M111.1 653.4h0M113.0 652.9h0M108.4 652.5h0M111.5 653.2h0M110.9 652.8h0M113.7 651.9h0M91.9 652.0h0M103.7 652.8h0M121.5 652.7h0M124.7 654.2h0M122.1 653.8h0M82.6 653.1h0M96.0 653.8h0M95.6 652.8h0M89.6 652.1h0M82.8 651.6h0M110.3 653.1h0M86.2 653.4h0" stroke="#f4b0b0" stroke-width="1" stroke-linecap="square" opacity="0.45" fill="none"/>
<path d="M121.8 652.5h0M94.6 652.9h0M107.3 653.4h0M114.0 652.7h0M112.4 654.8h0M98.1 652.9h0M113.5 654.2h0M110.9 654.7h0M121.0 652.8h0M105.4 654.3h0M125.9 653.7h0M105.8 652.3h0M126.8 652.9h0M113.7 650.7h0M121.0 652.6h0M111.9 653.5h0M105.0 652.6h0M123.7 653.1h0M111.1 652.9h0M122.1 652.8h0M107.3 653.1h0M107.1 652.8h0M113.0 652.9h0M124.0 653.8h0M110.3 655.1h0M131.4 652.7h0M114.5 653.2h0M126.1 652.9h0M103.3 652.7h0M111.8 653.5h0M121.2 653.3h0M123.7 654.4h0M111.6 654.2h0M131.5 652.7h0M106.9 651.9h0M116.6 653.5h0M125.8 654.0h0M121.8 653.8h0M117.1 653.3h0M123.0 653.2h0M109.5 653.2h0M121.4 653.0h0M104.0 653.4h0M107.2 653.7h0M122.5 652.9h0M121.3 652.1h0M113.0 653.5h0M106.5 652.6h0M112.9 653.4h0M109.6 652.8h0M126.2 651.7h0M132.6 653.0h0M108.0 653.2h0M117.4 653.9h0M117.7 653.7h0M118.9 653.5h0M117.3 653.5h0M121.2 654.3h0M97.8 652.4h0M110.6 654.7h0M109.7 654.6h0M111.5 653.4h0M104.8 652.6h0M110.3 654.5h0M111.1 653.0h0M118.0 653.4h0M116.8 653.2h0M106.1 653.5h0M105.1 652.9h0M102.0 653.7h0M109.9 653.4h0M109.7 653.0h0M109.9 653.9h0M119.7 653.7h0M115.5 652.9h0M120.6 653.0h0M116.4 653.8h0M117.4 652.0h0M121.6 653.5h0M121.9 653.4h0M133.4 652.1h0M114.1 652.8h0M110.5 654.5h0M101.0 653.9h0M122.0 652.4h0M127.3 653.0h0M114.7 652.9h0M111.9 652.7h0M107.3 652.6h0M114.3 653.2h0M95.5 652.9h0M120.0 654.6h0M108.2 654.8h0M118.0 653.4h0M127.5 653.1h0M101.2 652.0h0M111.4 652.7h0M106.9 652.7h0M106.6 653.4h0M121.2 654.8h0M121.1 652.9h0M118.6 654.5h0M117.9 653.4h0M111.3 653.6h0M115.9 653.2h0M120.4 651.0h0M120.7 652.6h0M111.5 653.0h0M117.7 653.7h0M109.4 652.4h0M103.3 652.9h0M128.7 652.2h0M114.7 653.0h0M114.2 652.6h0M108.8 653.9h0M115.1 652.5h0M110.4 652.4h0M119.8 653.1h0M125.3 654.2h0M110.4 653.2h0M108.0 653.2h0M113.8 653.8h0M115.3 653.3h0M111.1 653.9h0M103.6 653.9h0M116.7 653.3h0M115.1 651.8h0M113.8 653.5h0M109.7 653.8h0M114.4 654.2h0M112.7 652.6h0M107.8 652.5h0M115.0 653.4h0M112.7 653.2h0M116.9 653.3h0M112.6 652.7h0M117.6 653.2h0M102.5 653.2h0M114.0 651.2h0M102.1 654.1h0M126.2 652.8h0M113.7 651.7h0M117.9 651.8h0M112.0 653.1h0M116.0 651.7h0M115.8 652.8h0M111.8 652.2h0M102.6 652.8h0M107.8 652.7h0M116.2 654.8h0M118.9 653.5h0M111.0 654.3h0M108.6 652.0h0M113.4 653.0h0M109.4 652.2h0M117.5 653.7h0M98.8 654.5h0M104.8 653.3h0M120.7 651.7h0M115.2 653.0h0M131.5 654.1h0M106.3 654.5h0M123.6 652.8h0M116.0 653.1h0M126.9 652.2h0M125.7 651.7h0M106.9 652.8h0M108.8 654.3h0M110.4 652.5h0M132.7 653.6h0M119.0 653.4h0M105.5 652.8h0M101.2 652.5h0M117.8 651.7h0M116.4 652.9h0M110.9 653.6h0M116.3 653.8h0M101.5 653.3h0M115.3 653.3h0M117.1 651.8h0M117.3 652.0h0M109.3 652.6h0M115.7 652.8h0M111.1 651.9h0M96.8 652.6h0M96.3 652.9h0M120.5 653.3h0M106.2 653.2h0M119.5 652.0h0M107.7 652.4h0M118.0 654.0h0M124.6 652.3h0M131.6 653.4h0M112.4 654.4h0M127.1 654.5h0M117.6 651.9h0M90.1 653.1h0M95.6 652.8h0M118.6 652.5h0M123.7 653.9h0M112.3 653.3h0M113.6 654.3h0M108.8 652.0h0M108.3 651.0h0M123.0 653.0h0M112.6 653.1h0M109.5 654.3h0M118.5 652.8h0M109.3 653.6h0M116.5 654.2h0M110.8 650.9h0M116.9 653.0h0M112.4 652.7h0M101.1 652.2h0M121.7 652.6h0M120.3 652.9h0M114.6 655.0h0M110.4 652.3h0M123.6 652.8h0M107.2 654.1h0M116.9 655.4h0M118.2 652.0h0M118.9 653.7h0M112.6 652.5h0M111.2 654.5h0M128.5 653.8h0M107.9 653.5h0M100.5 654.2h0M102.7 653.3h0M114.2 653.1h0M107.9 653.6h0M119.8 651.8h0M122.3 653.1h0M100.2 654.1h0M100.4 650.8h0M111.7 651.6h0M115.3 653.7h0M104.3 653.7h0M110.0 653.2h0M99.7 653.7h0M118.7 653.0h0M124.2 654.4h0M115.5 652.2h0M116.9 654.6h0M118.5 653.1h0M123.4 652.5h0M122.1 653.8h0M119.4 652.8h0M120.9 654.8h0M104.3 652.8h0M118.3 652.1h0M109.0 651.4h0M118.1 653.4h0M115.0 655.2h0M115.1 653.9h0M119.0 653.1h0M116.3 651.0h0M112.3 651.9h0M128.9 653.6h0M115.6 652.7h0M118.4 653.1h0M112.8 653.2h0M110.4 653.7h0M108.9 652.6h0M115.3 653.7h0M114.7 654.2h0M119.4 653.1h0M111.4 653.7h0M123.9 653.0h0M121.7 652.7h0M96.7 653.4h0M103.4 652.9h0M110.9 652.5h0M115.1 653.0h0M118.1 652.9h0M117.1 654.0h0M112.0 654.3h0M126.6 651.6h0M104.5 651.5h0M110.7 652.5h0M109.0 654.2h0M115.1 652.1h0M116.8 652.1h0M114.3 651.4h0M117.5 652.4h0M114.0 652.9h0M123.5 654.0h0M109.9 654.8h0M110.2 653.2h0M118.1 653.6h0M116.7 653.7h0M117.2 653.3h0M114.1 653.6h0M104.1 651.7h0M116.3 653.7h0M108.6 653.9h0M119.5 651.8h0M116.7 652.3h0M114.6 653.4h0M110.8 653.5h0M121.2 653.7h0M113.7 654.5h0M103.4 653.8h0M121.4 655.3h0M128.1 652.8h0M121.1 652.3h0M116.7 651.9h0M108.2 653.9h0M111.9 654.4h0M119.7 652.5h0M120.6 653.2h0M115.1 652.0h0M121.8 654.6h0M128.0 653.4h0M114.9 654.1h0M119.3 652.4h0M118.4 653.4h0M119.2 654.3h0M124.0 653.4h0M110.0 651.8h0M106.5 652.5h0M111.0 652.9h0M110.0 653.7h0M109.3 653.5h0M119.8 654.1h0M120.9 653.1h0M107.6 652.0h0M97.7 654.1h0M99.6 653.6h0M113.4 651.8h0M113.2 653.1h0M105.5 652.1h0M114.4 655.3h0M120.9 653.0h0M114.1 653.2h0M118.1 654.1h0M99.1 652.0h0M117.7 653.8h0M109.6 653.1h0M114.7 653.6h0M102.4 651.9h0M108.3 653.7h0M107.4 651.9h0M106.2 653.3h0M114.8 653.6h0M112.1 653.7h0M113.0 654.0h0M122.4 651.7h0M117.5 654.8h0M116.7 653.1h0M118.8 653.3h0M115.4 654.1h0M122.1 654.8h0M117.9 652.5h0M111.3 653.2h0M112.2 653.4h0M118.9 654.5h0M108.5 653.6h0M114.2 655.2h0M113.9 653.9h0M112.4 652.7h0M113.1 652.7h0M117.4 653.1h0M121.8 653.2h0M127.4 652.6h0M117.5 653.5h0M119.3 654.1h0M121.1 652.9h0M102.5 654.2h0M104.9 653.9h0M119.8 653.6h0M117.1 654.6h0M110.5 654.5h0M119.5 652.2h0M109.1 653.5h0M105.6 653.7h0M116.7 652.2h0M116.9 651.8h0M119.2 653.1h0M134.5 652.4h0M110.8 653.0h0M120.3 652.1h0M109.9 653.8h0M113.3 652.2h0M114.1 651.9h0M125.6 652.9h0M112.5 653.3h0M101.7 652.3h0M93.2 653.5h0M123.6 652.1h0M115.0 654.8h0M122.4 653.6h0M111.8 653.6h0M105.5 653.3h0M108.1 653.3h0M122.4 651.8h0M107.9 653.5h0M118.1 653.8h0M122.3 652.4h0M101.3 653.4h0M124.5 652.2h0M116.3 654.0h0M116.0 653.3h0M114.5 654.6h0M121.3 654.0h0M111.1 652.7h0M120.9 653.4h0M115.6 654.9h0M118.0 654.4h0M110.5 652.8h0M123.6 652.3h0M119.3 652.7h0M109.5 652.4h0M114.7 652.8h0M112.2 655.9h0M117.4 653.6h0M120.2 654.6h0M101.1 652.3h0M117.8 653.6h0M122.0 654.0h0M117.7 651.6h0M113.6 652.6h0M119.9 651.8h0M107.4 651.9h0M110.2 652.4h0M109.3 653.9h0M106.1 654.1h0M116.5 652.7h0M116.2 652.3h0M117.1 654.6h0M120.6 653.2h0M111.1 653.0h0M114.4 654.8h0M105.4 653.0h0M106.8 652.0h0M103.6 654.1h0M121.1 652.7h0M116.5 651.8h0M106.5 654.1h0M110.9 652.4h0M105.8 652.7h0M99.3 653.8h0M121.2 654.3h0M116.6 651.4h0M125.4 653.5h0M113.3 654.1h0M113.3 654.4h0M109.6 653.2h0M108.7 652.5h0M110.4 653.6h0" stroke="#d83030" stroke-width="1" stroke-linecap="square" opacity="0.45" fill="none"/>
<ellipse cx="115" cy="653.3" rx="9" ry="1.1" fill="#c81010" opacity="0.75"/>
<rect x="31" y="577.5" width="128" height="110.20000000000005" fill="none" stroke="#a0a0a0" stroke-width="1"/>
<line x1="28.5" y1="687.7" x2="31" y2="687.7" stroke="#555" stroke-width="0.8"/>
<line x1="29.5" y1="680.1968273580753" x2="31" y2="680.1968273580753" stroke="#555" stroke-width="0.8"/>
<line x1="29.5" y1="675.8077527261124" x2="31" y2="675.8077527261124" stroke="#555" stroke-width="0.8"/>
<line x1="29.5" y1="672.6936547161506" x2="31" y2="672.6936547161506" stroke="#555" stroke-width="0.8"/>
<line x1="29.5" y1="670.2781726419248" x2="31" y2="670.2781726419248" stroke="#555" stroke-width="0.8"/>
<line x1="29.5" y1="668.3045800841878" x2="31" y2="668.3045800841878" stroke="#555" stroke-width="0.8"/>
<line x1="29.5" y1="666.6359313526448" x2="31" y2="666.6359313526448" stroke="#555" stroke-width="0.8"/>
<line x1="29.5" y1="665.1904820742259" x2="31" y2="665.1904820742259" stroke="#555" stroke-width="0.8"/>
<line x1="29.5" y1="663.9155054522249" x2="31" y2="663.9155054522249" stroke="#555" stroke-width="0.8"/>
<line x1="28.5" y1="662.7750000000001" x2="31" y2="662.7750000000001" stroke="#555" stroke-width="0.8"/>
<line x1="29.5" y1="655.2718273580754" x2="31" y2="655.2718273580754" stroke="#555" stroke-width="0.8"/>
<line x1="29.5" y1="650.8827527261125" x2="31" y2="650.8827527261125" stroke="#555" stroke-width="0.8"/>
<line x1="29.5" y1="647.7686547161505" x2="31" y2="647.7686547161505" stroke="#555" stroke-width="0.8"/>
<line x1="29.5" y1="645.3531726419247" x2="31" y2="645.3531726419247" stroke="#555" stroke-width="0.8"/>
<line x1="29.5" y1="643.3795800841878" x2="31" y2="643.3795800841878" stroke="#555" stroke-width="0.8"/>
<line x1="29.5" y1="641.7109313526447" x2="31" y2="641.7109313526447" stroke="#555" stroke-width="0.8"/>
<line x1="29.5" y1="640.2654820742258" x2="31" y2="640.2654820742258" stroke="#555" stroke-width="0.8"/>
<line x1="29.5" y1="638.9905054522249" x2="31" y2="638.9905054522249" stroke="#555" stroke-width="0.8"/>
<line x1="28.5" y1="637.85" x2="31" y2="637.85" stroke="#555" stroke-width="0.8"/>
<line x1="29.5" y1="630.3468273580753" x2="31" y2="630.3468273580753" stroke="#555" stroke-width="0.8"/>
<line x1="29.5" y1="625.9577527261124" x2="31" y2="625.9577527261124" stroke="#555" stroke-width="0.8"/>
<line x1="29.5" y1="622.8436547161505" x2="31" y2="622.8436547161505" stroke="#555" stroke-width="0.8"/>
<line x1="29.5" y1="620.4281726419247" x2="31" y2="620.4281726419247" stroke="#555" stroke-width="0.8"/>
<line x1="29.5" y1="618.4545800841877" x2="31" y2="618.4545800841877" stroke="#555" stroke-width="0.8"/>
<line x1="29.5" y1="616.7859313526446" x2="31" y2="616.7859313526446" stroke="#555" stroke-width="0.8"/>
<line x1="29.5" y1="615.3404820742257" x2="31" y2="615.3404820742257" stroke="#555" stroke-width="0.8"/>
<line x1="29.5" y1="614.0655054522248" x2="31" y2="614.0655054522248" stroke="#555" stroke-width="0.8"/>
<line x1="28.5" y1="612.925" x2="31" y2="612.925" stroke="#555" stroke-width="0.8"/>
<line x1="29.5" y1="605.4218273580752" x2="31" y2="605.4218273580752" stroke="#555" stroke-width="0.8"/>
<line x1="29.5" y1="601.0327527261123" x2="31" y2="601.0327527261123" stroke="#555" stroke-width="0.8"/>
<line x1="29.5" y1="597.9186547161505" x2="31" y2="597.9186547161505" stroke="#555" stroke-width="0.8"/>
<line x1="29.5" y1="595.5031726419247" x2="31" y2="595.5031726419247" stroke="#555" stroke-width="0.8"/>
<line x1="29.5" y1="593.5295800841877" x2="31" y2="593.5295800841877" stroke="#555" stroke-width="0.8"/>
<line x1="29.5" y1="591.8609313526447" x2="31" y2="591.8609313526447" stroke="#555" stroke-width="0.8"/>
<line x1="29.5" y1="590.4154820742258" x2="31" y2="590.4154820742258" stroke="#555" stroke-width="0.8"/>
<line x1="29.5" y1="589.1405054522248" x2="31" y2="589.1405054522248" stroke="#555" stroke-width="0.8"/>
<line x1="28.5" y1="588" x2="31" y2="588" stroke="#555" stroke-width="0.8"/>
<line x1="31.0" y1="687.7" x2="31.0" y2="690.2" stroke="#555" stroke-width="0.8"/>
<line x1="37.4" y1="687.7" x2="37.4" y2="689.2" stroke="#555" stroke-width="0.8"/>
<line x1="43.8" y1="687.7" x2="43.8" y2="689.2" stroke="#555" stroke-width="0.8"/>
<line x1="50.2" y1="687.7" x2="50.2" y2="689.2" stroke="#555" stroke-width="0.8"/>
<line x1="56.6" y1="687.7" x2="56.6" y2="690.2" stroke="#555" stroke-width="0.8"/>
<line x1="63.0" y1="687.7" x2="63.0" y2="689.2" stroke="#555" stroke-width="0.8"/>
<line x1="69.4" y1="687.7" x2="69.4" y2="689.2" stroke="#555" stroke-width="0.8"/>
<line x1="75.8" y1="687.7" x2="75.8" y2="689.2" stroke="#555" stroke-width="0.8"/>
<line x1="82.2" y1="687.7" x2="82.2" y2="690.2" stroke="#555" stroke-width="0.8"/>
<line x1="88.6" y1="687.7" x2="88.6" y2="689.2" stroke="#555" stroke-width="0.8"/>
<line x1="95.0" y1="687.7" x2="95.0" y2="689.2" stroke="#555" stroke-width="0.8"/>
<line x1="101.4" y1="687.7" x2="101.4" y2="689.2" stroke="#555" stroke-width="0.8"/>
<line x1="107.8" y1="687.7" x2="107.8" y2="690.2" stroke="#555" stroke-width="0.8"/>
<line x1="114.2" y1="687.7" x2="114.2" y2="689.2" stroke="#555" stroke-width="0.8"/>
<line x1="120.6" y1="687.7" x2="120.6" y2="689.2" stroke="#555" stroke-width="0.8"/>
<line x1="127.0" y1="687.7" x2="127.0" y2="689.2" stroke="#555" stroke-width="0.8"/>
<line x1="133.4" y1="687.7" x2="133.4" y2="690.2" stroke="#555" stroke-width="0.8"/>
<line x1="139.8" y1="687.7" x2="139.8" y2="689.2" stroke="#555" stroke-width="0.8"/>
<line x1="146.2" y1="687.7" x2="146.2" y2="689.2" stroke="#555" stroke-width="0.8"/>
<line x1="152.6" y1="687.7" x2="152.6" y2="689.2" stroke="#555" stroke-width="0.8"/>
<line x1="159.0" y1="687.7" x2="159.0" y2="690.2" stroke="#555" stroke-width="0.8"/>
<rect x="82.5" y="611.5" width="47" height="36" fill="none" stroke="#909090" stroke-width="1"/>
<text transform="translate(14.8,636.8) rotate(-90)" font-size="8.6" text-anchor="middle" textLength="20.5" lengthAdjust="spacingAndGlyphs" fill="#111" stroke="#111" stroke-width="0.25">CD19</text>
<text x="84.8" y="714.4" font-size="8.6" text-anchor="start" textLength="16.2" lengthAdjust="spacingAndGlyphs" fill="#111" stroke="#111" stroke-width="0.25">FSC</text>
<text x="55.4" y="700.6" font-size="5.5" text-anchor="middle" fill="#111" stroke="#111" stroke-width="0.22">50</text>
<text x="79.6" y="700.6" font-size="5.5" text-anchor="middle" fill="#111" stroke="#111" stroke-width="0.22">100</text>
<text x="103" y="700.6" font-size="5.5" text-anchor="middle" fill="#111" stroke="#111" stroke-width="0.22">150</text>
<text x="127.4" y="700.6" font-size="5.5" text-anchor="middle" fill="#111" stroke="#111" stroke-width="0.22">200</text>
<text transform="translate(27,591) rotate(-90)" font-size="5.2" text-anchor="middle" fill="#111">10<tspan font-size="3.6" dy="-2.1">3</tspan></text>
<text transform="translate(27,618) rotate(-90)" font-size="5.2" text-anchor="middle" fill="#111">10<tspan font-size="3.6" dy="-2.1">2</tspan></text>
<text transform="translate(27,648) rotate(-90)" font-size="5.2" text-anchor="middle" fill="#111">10<tspan font-size="3.6" dy="-2">-2</tspan><tspan dy="2"> 0 10</tspan><tspan font-size="3.6" dy="-2">2</tspan></text>
<line x1="165.8" y1="588" x2="172.5" y2="588" stroke="#000" stroke-width="1.9"/>
<path d="M171.3,585.2 L178.6,588.0 L171.3,590.8 Z" fill="#000" stroke="none" stroke-width="1"/>
<line x1="330" y1="588" x2="337" y2="588" stroke="#000" stroke-width="1.9"/>
<path d="M336.0,585.2 L343.0,588.0 L336.0,590.8 Z" fill="#000" stroke="none" stroke-width="1"/>
<text x="218" y="567.3" font-size="7.8" stroke="#000" stroke-width="0.15" textLength="83" lengthAdjust="spacingAndGlyphs">CD38<tspan font-size="4.5" dy="-2.5">high</tspan><tspan dy="2.5"> CD24</tspan><tspan font-size="4.5" dy="-2.5">high</tspan><tspan dy="2.5"> Bregs</tspan></text>
<path d="M239.5 645.8h0M283.2 655.8h0M255.1 647.0h0M240.6 643.4h0M266.8 657.3h0M279.3 652.3h0M271.1 652.2h0M243.9 654.5h0M284.9 657.4h0M268.9 658.0h0M262.2 646.1h0M260.2 653.4h0M278.4 658.5h0M269.3 641.8h0M262.8 654.5h0M265.2 642.2h0M265.4 652.3h0M263.5 658.9h0M261.6 654.9h0M265.0 652.5h0M283.6 653.0h0M246.3 644.2h0M235.5 662.2h0M250.1 643.2h0M268.1 636.7h0M255.7 648.8h0M262.2 645.2h0M272.4 656.2h0M267.3 649.3h0M269.1 643.3h0M274.0 643.0h0M269.7 642.2h0M255.2 638.6h0M255.6 651.4h0M260.1 665.7h0M245.9 644.4h0M255.7 644.5h0M245.9 649.6h0M251.6 649.9h0M235.5 651.3h0M240.7 663.1h0M280.8 651.0h0M239.3 651.7h0M267.3 651.8h0M269.7 642.4h0M276.5 643.2h0M255.6 632.9h0M265.4 646.1h0M259.1 645.3h0M265.1 651.0h0M266.5 660.5h0M274.7 633.8h0M261.0 658.1h0M253.5 666.4h0M250.6 651.4h0M245.4 652.6h0M261.7 666.1h0M270.8 658.1h0M255.9 655.6h0M269.1 644.8h0M279.8 647.3h0M250.9 658.5h0M278.2 660.4h0M265.2 653.2h0M247.7 663.6h0M249.0 665.5h0M265.6 636.5h0M260.2 649.8h0M271.4 648.0h0M233.2 655.3h0M278.6 673.9h0M278.7 645.2h0M244.7 645.8h0M251.4 658.6h0M290.8 644.3h0M273.7 649.2h0M259.1 661.7h0M256.8 664.6h0M262.1 666.4h0M273.3 662.0h0M257.3 650.2h0M268.7 651.9h0M253.0 663.2h0M231.7 648.7h0M263.6 658.6h0M253.5 647.6h0M279.7 660.9h0M266.1 658.7h0M271.9 641.5h0M242.5 648.6h0M273.4 648.3h0M235.7 659.5h0M275.9 649.9h0M264.9 633.9h0M276.2 651.8h0M285.3 654.1h0M279.3 641.8h0M247.8 663.4h0M245.8 662.1h0M266.2 640.4h0M265.7 652.9h0M267.0 631.3h0M247.3 644.6h0M244.8 641.1h0M262.5 650.6h0M284.9 653.5h0M247.1 653.9h0M267.5 647.5h0M268.5 647.5h0M256.9 656.2h0M220.6 647.5h0M270.3 664.9h0M231.2 651.1h0M259.5 650.8h0M238.9 657.6h0M249.8 649.3h0M275.9 660.7h0M230.5 659.5h0M241.3 654.7h0M250.6 642.2h0M247.8 651.2h0M261.9 650.1h0M258.8 654.6h0M263.6 654.1h0M261.6 650.3h0M261.9 651.4h0M286.6 651.2h0M246.3 645.0h0M265.2 650.2h0M259.7 646.5h0M272.6 652.1h0M218.3 641.1h0M248.8 667.8h0M267.3 661.4h0M260.2 655.0h0M280.0 647.7h0M236.8 656.5h0M296.6 649.2h0M268.2 661.0h0M256.1 653.1h0M249.4 651.8h0M246.6 634.9h0M251.4 645.3h0M262.1 654.3h0M247.9 641.9h0M267.3 650.3h0M254.1 659.5h0M270.5 664.5h0M248.5 647.7h0M263.4 626.0h0M249.2 652.2h0M278.4 657.1h0M260.8 638.6h0M265.7 662.7h0M287.6 651.1h0M264.7 665.6h0M250.4 651.5h0M259.0 653.5h0M254.6 643.1h0M271.8 658.2h0M289.6 654.4h0M288.4 646.2h0M260.0 657.3h0M262.4 648.1h0M278.8 665.9h0M272.9 656.8h0M226.5 652.1h0M248.9 650.5h0M254.9 667.6h0M251.4 652.9h0M262.8 656.2h0M269.4 643.4h0M243.9 658.6h0M274.7 653.0h0M261.9 645.7h0M272.3 643.8h0M289.8 661.0h0M254.6 652.2h0M233.3 657.4h0M254.7 658.4h0M261.1 665.2h0M254.9 663.6h0M258.5 648.3h0M246.5 650.0h0M269.8 634.7h0M283.4 652.2h0M273.4 654.4h0M247.7 638.4h0M262.7 652.0h0M268.5 652.2h0M247.0 651.2h0M260.6 653.2h0M249.5 642.1h0M286.6 652.0h0M275.2 669.8h0M265.1 651.2h0M231.7 647.4h0M272.1 649.5h0M244.7 664.6h0M276.1 640.1h0M280.5 668.0h0M280.3 647.0h0M262.7 656.3h0M248.3 658.3h0M266.8 644.6h0M267.7 649.1h0M214.6 658.6h0M251.1 650.8h0M272.3 638.4h0M256.5 655.8h0M281.7 641.9h0M263.4 656.1h0M269.9 651.5h0M269.6 638.8h0M269.6 659.2h0M282.2 653.2h0M257.7 661.6h0M247.4 652.7h0M240.7 646.0h0M264.2 635.3h0M243.5 651.3h0M245.9 641.9h0M265.8 647.4h0M256.8 632.6h0M259.2 635.5h0M288.3 651.9h0M267.7 653.9h0M254.0 669.0h0M261.8 662.7h0M245.7 642.6h0M264.0 659.3h0M269.9 649.6h0M283.5 636.1h0M268.4 656.4h0M264.1 644.7h0M267.1 642.1h0M265.7 642.9h0M256.2 651.0h0M233.2 648.4h0M254.5 648.2h0M268.6 651.4h0M271.1 657.0h0M264.7 646.0h0M259.2 646.9h0M253.7 652.6h0M257.0 654.6h0M242.4 657.0h0M292.6 664.0h0M257.2 630.1h0M264.0 661.1h0M268.6 654.8h0M247.9 660.9h0M245.8 643.7h0M251.7 653.2h0M261.8 664.1h0M272.8 664.9h0M251.8 662.3h0M253.5 654.2h0M248.8 644.0h0M265.2 650.9h0M264.4 634.5h0M273.9 648.5h0M280.3 640.7h0M269.2 649.0h0M258.3 648.9h0M254.1 656.0h0M265.9 657.3h0M259.2 655.3h0M267.7 655.4h0M274.6 654.2h0M252.4 665.6h0M270.8 650.0h0M263.5 647.6h0M239.8 643.6h0M275.1 652.7h0M260.8 658.6h0M252.1 667.0h0M271.4 649.6h0M276.4 659.1h0M246.9 649.9h0M258.9 659.1h0M241.9 641.6h0M257.3 655.7h0M264.9 657.3h0M264.3 636.1h0M261.4 649.9h0M283.9 643.4h0M274.1 652.9h0M266.6 655.2h0M266.2 652.7h0M262.0 657.5h0M253.3 654.3h0M249.1 657.2h0M259.5 649.9h0M270.8 657.9h0M252.9 641.4h0M232.4 658.0h0M271.6 646.4h0M258.2 649.6h0M272.8 653.7h0M265.6 654.4h0M245.7 660.8h0M246.3 648.2h0M254.7 654.6h0M229.0 642.3h0M292.1 640.0h0M254.2 665.7h0M256.0 650.6h0M242.0 658.1h0M263.5 652.5h0M273.4 640.4h0M285.7 659.6h0M254.8 658.9h0M284.9 659.5h0M267.5 665.6h0M241.2 650.4h0M280.0 653.1h0M253.8 646.4h0M271.1 648.6h0M269.2 645.6h0M258.4 644.9h0M256.7 647.4h0M273.2 653.0h0M252.1 645.1h0M248.3 646.7h0M280.4 645.2h0M260.2 639.7h0M286.2 645.0h0M241.0 650.1h0M261.3 655.1h0M263.1 660.6h0M248.6 658.8h0M283.0 650.4h0M261.6 648.3h0M235.2 649.5h0M270.7 651.1h0M240.3 641.7h0M264.2 656.5h0M269.2 651.8h0M297.6 649.9h0M255.1 643.9h0M263.5 662.7h0M254.2 665.5h0M252.8 642.7h0M272.7 666.9h0M279.2 649.3h0M274.3 658.1h0M223.8 637.4h0M274.6 652.7h0M260.0 660.6h0M244.6 651.3h0M249.4 661.0h0M229.6 653.8h0M269.9 661.1h0M259.9 669.3h0M264.3 644.3h0M250.3 653.2h0M248.1 643.8h0M271.1 635.2h0M273.9 643.3h0M261.1 655.4h0M260.1 659.2h0M272.1 657.3h0M289.9 654.0h0M266.8 650.5h0M261.4 645.1h0M257.9 651.8h0M270.0 649.3h0M258.9 633.0h0M265.9 660.6h0M270.9 647.5h0M253.0 639.5h0M280.7 656.5h0M294.1 654.9h0M252.2 667.3h0M275.4 647.1h0M237.2 644.1h0M274.5 660.8h0M235.7 648.4h0M283.0 661.4h0M277.1 656.1h0M236.8 637.9h0M254.2 641.8h0M233.4 640.9h0M291.4 662.8h0M286.1 658.0h0M266.0 656.6h0M245.9 640.5h0M265.6 654.3h0M265.5 620.6h0M279.9 652.2h0M294.5 651.0h0M278.8 661.2h0M279.0 656.0h0M263.1 642.8h0M259.9 650.9h0M277.0 641.4h0M263.0 648.0h0M256.6 645.7h0M246.1 676.7h0M245.2 645.1h0M252.4 646.9h0M245.6 652.3h0M243.6 668.2h0M259.6 642.5h0M245.7 662.5h0M264.1 659.6h0M263.7 644.0h0M265.9 648.0h0M242.5 668.4h0M272.2 633.8h0M244.5 638.9h0M253.9 633.1h0M267.2 643.6h0M249.4 651.5h0M296.4 641.9h0M267.8 654.6h0M265.2 653.3h0M281.0 657.0h0M232.0 649.7h0M279.8 650.0h0M247.9 645.6h0M249.7 661.5h0M231.0 652.6h0M277.4 660.9h0M261.2 643.9h0M238.6 652.2h0M260.3 650.9h0M280.1 642.0h0M249.1 647.2h0M265.6 636.4h0M247.0 643.6h0M259.0 670.3h0M291.4 652.1h0M262.4 639.3h0M252.5 657.6h0M280.5 661.4h0M235.4 668.7h0M262.8 656.8h0M274.4 659.7h0M237.9 653.2h0M271.6 644.2h0M296.1 653.8h0M285.9 649.3h0M247.5 640.5h0M271.1 667.2h0M254.2 649.7h0M255.4 643.2h0M287.4 648.2h0M265.1 660.3h0M262.2 649.8h0M262.6 645.4h0M245.7 663.2h0M242.5 644.8h0M257.8 658.6h0M266.1 652.2h0M261.4 646.7h0M286.1 661.0h0M272.8 658.2h0M255.4 658.7h0M259.5 652.0h0M291.7 650.4h0M287.4 623.0h0M273.6 648.9h0M245.3 649.2h0M250.7 660.0h0M256.8 673.0h0M268.7 652.2h0M267.0 673.6h0M271.8 651.0h0M232.7 661.7h0M264.1 662.4h0M277.8 636.1h0M270.3 667.3h0M262.6 642.0h0M256.8 650.6h0M257.4 643.9h0M246.7 645.8h0M261.1 641.2h0M280.4 648.3h0M262.0 664.8h0M284.6 641.3h0M257.4 661.1h0M254.8 655.8h0M279.7 658.5h0M245.5 656.1h0M255.9 659.4h0M241.5 658.5h0M262.1 642.6h0M248.0 638.6h0M250.5 660.8h0M250.9 656.4h0M253.1 666.3h0M272.8 652.4h0M280.8 650.2h0M314.7 643.7h0M266.9 634.8h0M279.8 654.5h0M248.8 665.2h0M265.9 650.4h0M258.7 659.0h0M264.6 659.1h0M267.5 637.7h0M257.6 654.4h0M255.5 641.9h0M251.7 653.5h0M254.9 657.0h0M268.9 649.4h0M239.0 651.3h0M287.4 661.5h0M277.5 670.0h0M249.7 643.1h0M278.3 648.5h0M270.0 645.2h0M247.1 642.4h0M249.9 656.2h0M268.0 646.4h0M250.7 661.8h0M265.1 662.1h0M255.7 650.8h0M284.3 642.5h0M242.7 652.5h0M283.9 651.5h0M252.3 645.9h0M265.4 662.9h0M292.7 650.4h0M246.1 642.2h0M243.6 657.1h0M245.3 638.7h0M229.2 661.4h0M252.4 649.8h0M298.9 664.4h0M252.0 652.5h0M257.6 638.5h0M274.4 645.9h0M271.1 654.3h0M230.5 647.1h0M269.5 649.7h0M288.0 656.2h0M285.6 638.5h0M236.7 647.2h0M266.4 641.8h0M280.8 651.7h0M275.2 657.4h0M252.8 650.2h0M267.3 642.4h0M268.3 646.8h0M255.3 646.8h0M264.7 654.7h0M264.6 655.9h0M252.3 654.3h0M257.4 657.3h0M252.7 643.2h0M285.5 641.5h0M266.7 638.1h0M277.0 658.3h0M268.0 652.9h0M277.6 642.9h0M255.2 657.2h0M266.3 647.5h0M244.6 646.5h0M267.0 642.9h0M266.3 652.7h0M236.4 654.1h0M234.9 653.1h0M246.0 649.1h0M269.8 649.4h0M250.3 650.2h0M255.3 648.1h0M230.7 628.1h0M310.6 646.9h0M257.2 646.9h0M242.1 653.4h0M238.5 647.6h0M278.9 648.8h0M259.8 647.3h0M265.7 643.4h0M266.4 636.7h0M259.4 645.5h0M271.3 651.7h0M295.9 652.9h0M254.3 661.0h0M262.6 664.3h0M272.1 651.3h0M268.0 652.8h0M282.6 647.3h0M267.1 651.6h0M256.0 642.7h0M274.2 647.1h0M239.2 651.8h0M263.4 656.8h0M267.2 645.6h0M290.8 646.8h0M252.5 659.2h0M259.4 649.2h0M261.7 653.7h0M242.4 659.2h0M259.6 652.2h0M257.0 648.1h0M255.3 662.4h0M265.6 648.2h0M288.9 654.1h0M255.5 643.5h0M272.8 666.1h0M265.3 647.1h0M257.1 665.3h0M272.6 648.3h0M282.4 649.0h0M273.6 639.6h0M266.4 641.4h0M270.3 651.9h0M255.5 658.9h0M276.9 645.5h0M267.2 650.8h0M259.3 658.8h0M254.4 650.6h0M267.1 645.9h0M243.3 652.3h0M255.1 650.3h0M241.2 648.2h0M284.3 657.8h0M285.9 634.9h0M268.7 665.0h0M247.4 653.3h0M260.3 641.5h0M288.6 655.3h0M273.6 652.1h0M280.0 660.9h0M298.2 658.8h0M291.8 650.4h0M279.1 656.6h0M268.5 664.1h0M257.9 664.3h0M263.4 655.7h0M274.7 652.1h0M279.8 645.4h0M268.5 655.2h0M264.1 657.5h0M272.6 653.3h0M292.2 634.7h0M272.2 648.4h0M241.1 646.7h0M264.2 652.5h0M267.4 649.9h0M280.1 650.9h0M248.4 649.8h0M254.3 658.3h0M247.2 644.2h0M285.9 653.3h0M266.5 644.8h0M274.9 657.3h0M276.7 654.5h0M261.1 653.2h0M235.6 659.2h0M289.5 656.6h0M236.2 661.8h0M266.3 640.2h0M270.6 652.1h0M259.7 645.7h0M267.8 663.3h0M265.7 655.9h0M267.1 649.4h0M269.7 659.5h0M236.6 650.7h0M238.4 653.0h0M279.4 649.5h0M244.5 661.2h0M266.4 652.3h0M285.9 662.9h0M267.5 645.3h0M245.1 652.8h0M264.2 644.2h0M261.8 659.2h0M260.9 650.8h0M270.5 643.3h0M253.1 658.5h0M267.8 659.4h0M282.1 651.7h0M257.4 646.3h0M270.7 654.4h0M284.7 665.5h0M270.8 644.2h0M255.8 637.7h0M229.9 651.5h0M242.6 640.5h0M269.2 638.0h0M260.2 654.1h0M263.6 655.5h0M314.1 658.8h0M272.5 655.0h0M255.7 657.3h0M286.1 652.7h0M285.3 664.6h0M264.3 649.2h0M270.9 646.4h0M268.2 664.8h0M261.1 657.6h0M249.0 651.4h0M281.6 653.2h0M277.9 647.4h0" stroke="#9898ee" stroke-width="1" stroke-linecap="square" opacity="0.45" fill="none"/>
<path d="M286.3 659.9h0M279.7 654.2h0M279.9 664.0h0M295.2 648.3h0M288.9 659.0h0M286.9 658.5h0M288.2 654.3h0M296.1 657.2h0M301.8 652.9h0M291.7 646.6h0M285.4 653.5h0M288.0 659.9h0M290.1 641.5h0M296.5 664.4h0M292.7 646.4h0M297.1 658.8h0M282.8 647.6h0M294.2 658.7h0M303.9 650.1h0M294.8 656.0h0M289.9 655.4h0M294.2 655.1h0M298.7 657.3h0M294.2 654.2h0M299.3 652.9h0M281.3 662.3h0M294.1 652.3h0M293.8 654.4h0M294.8 658.2h0M291.9 650.1h0M291.2 652.5h0M294.5 655.4h0M283.6 655.1h0M288.2 654.0h0M290.3 652.1h0M294.4 656.3h0M291.7 658.4h0M287.1 646.5h0M298.1 650.0h0M293.9 654.2h0M292.8 655.9h0M295.2 659.4h0M293.1 657.4h0M300.5 651.9h0M291.0 648.9h0M285.2 656.8h0M294.8 650.6h0M295.6 648.8h0M297.6 659.6h0M296.1 650.8h0M291.3 652.3h0M302.6 655.9h0M287.9 641.1h0M287.5 670.0h0M296.8 663.1h0M287.3 666.1h0M300.2 654.1h0M286.0 655.4h0M293.4 660.4h0M293.3 655.4h0M288.8 656.6h0M279.8 652.2h0M293.9 649.6h0M293.9 662.2h0M292.0 658.1h0M288.7 655.6h0M283.2 651.3h0M287.5 668.0h0M279.7 652.6h0M303.8 643.0h0M289.7 657.6h0M300.4 641.2h0M291.2 662.4h0M302.3 651.2h0M288.0 654.7h0M287.2 654.9h0M286.7 653.1h0M292.7 646.7h0M286.0 657.7h0M282.4 656.3h0M302.3 649.9h0M301.2 659.1h0M287.6 658.6h0M298.3 649.1h0M276.2 654.8h0M293.6 645.1h0M305.7 639.0h0M305.6 659.8h0M297.4 654.7h0M299.9 662.0h0M293.9 656.0h0M302.6 656.7h0M289.6 657.2h0M276.1 658.3h0M299.7 658.6h0M293.1 648.3h0M292.5 657.4h0M296.5 642.4h0M296.9 656.5h0M283.1 667.7h0M293.1 667.1h0M287.5 663.9h0M290.3 651.0h0M300.1 658.7h0M291.8 649.7h0M288.1 660.8h0M293.0 653.8h0M291.3 651.3h0M292.7 657.2h0M298.1 661.3h0M292.4 646.2h0M289.5 653.4h0M290.8 656.3h0M285.3 656.5h0M302.0 650.2h0M296.6 654.5h0M279.6 650.8h0M291.5 660.4h0M300.8 657.1h0M281.2 664.3h0M289.7 650.9h0M304.5 650.5h0M295.0 656.4h0M297.6 662.0h0M285.6 656.5h0M303.0 653.4h0M296.1 644.9h0M301.7 652.8h0M285.7 656.5h0M288.6 661.6h0M286.0 646.6h0M294.8 658.2h0M285.8 657.1h0M292.8 667.9h0M302.6 662.0h0M298.0 645.8h0M288.0 651.7h0M295.8 653.8h0M285.7 651.0h0M297.8 652.0h0M284.3 646.7h0M297.3 652.3h0M299.1 649.8h0M283.4 653.3h0M298.9 651.9h0M301.6 656.0h0M303.1 655.3h0M302.3 655.0h0M297.2 653.7h0M297.4 647.0h0M288.3 653.7h0M305.7 662.4h0M293.5 654.8h0M299.6 655.2h0M297.2 657.8h0M293.0 655.2h0M285.3 651.3h0M297.3 653.2h0M293.9 649.2h0M286.4 648.8h0M303.6 654.8h0M295.5 652.0h0M289.9 648.4h0M289.4 655.9h0M302.0 658.4h0M290.2 654.0h0M290.4 651.5h0M279.7 665.9h0M291.3 655.7h0M288.8 651.8h0M299.3 660.5h0M302.2 663.9h0M300.4 647.3h0M282.5 648.3h0M295.2 653.2h0M302.9 658.7h0M291.4 648.0h0M291.8 662.5h0M292.6 656.3h0M283.1 665.1h0M290.3 655.6h0M291.8 657.9h0M294.5 660.0h0M293.6 652.5h0M293.2 648.1h0M290.3 653.1h0M306.3 645.6h0M301.8 647.1h0M298.3 654.4h0M294.7 657.2h0M303.2 660.2h0M287.6 663.0h0M298.6 650.8h0M298.4 646.6h0M292.3 663.4h0M281.3 655.7h0M282.7 655.6h0M301.9 646.3h0M285.5 648.4h0M298.0 659.2h0M291.9 650.7h0M290.2 662.3h0M295.3 648.9h0M302.1 662.8h0M298.4 647.2h0M302.0 645.8h0M286.1 653.2h0M289.1 650.9h0M301.3 650.4h0M293.1 658.2h0M291.0 659.5h0M282.9 647.7h0M290.0 659.9h0M289.5 663.2h0M296.7 662.4h0M292.3 654.2h0M281.0 652.3h0M279.6 654.8h0M300.4 656.9h0M283.5 649.8h0M282.6 646.0h0M283.9 656.1h0M288.8 656.7h0M295.0 655.4h0M292.4 647.3h0M288.2 644.8h0M289.5 652.6h0M287.1 657.2h0M290.8 660.6h0M287.9 651.8h0M293.3 645.9h0M285.4 648.1h0M289.8 651.6h0M294.3 658.7h0M286.2 644.4h0M289.2 651.2h0M296.1 650.4h0M290.8 654.3h0M290.3 652.9h0M291.0 649.0h0M293.2 659.9h0M274.3 662.1h0M294.3 660.3h0M290.9 657.9h0M304.8 659.6h0M281.9 657.8h0M300.8 655.8h0M291.2 645.0h0M289.9 656.0h0M293.0 658.0h0M292.0 651.8h0M283.4 660.3h0M294.6 655.2h0M295.8 648.3h0M284.8 661.2h0M297.0 649.9h0M293.0 657.3h0M296.2 648.5h0M295.6 647.5h0M292.8 657.9h0M304.3 651.1h0M292.0 652.4h0M282.0 652.9h0M297.6 656.5h0M280.8 664.3h0M292.4 653.1h0M290.0 656.3h0M276.7 653.1h0M280.4 665.0h0M306.5 656.2h0M286.6 650.2h0M276.0 651.8h0M284.7 664.8h0M288.6 655.7h0M297.5 666.7h0M280.3 649.8h0M291.2 659.6h0M291.0 653.8h0M289.6 655.3h0M298.6 656.4h0M289.9 660.3h0M276.9 654.2h0M290.5 657.7h0M286.2 651.4h0M289.4 652.3h0M294.4 658.6h0M275.1 660.1h0M291.1 655.8h0M292.6 665.6h0M283.4 650.6h0M277.7 647.6h0M300.1 661.7h0M297.3 657.9h0M280.6 651.5h0M286.4 664.5h0M285.7 654.5h0M289.4 670.1h0M283.0 645.6h0M295.6 651.3h0M292.4 659.8h0" stroke="#9898ee" stroke-width="1" stroke-linecap="square" opacity="0.45" fill="none"/>
<path d="M280.8 651.9h0M282.7 649.6h0M264.4 652.8h0M269.4 653.5h0M271.2 644.9h0M275.7 647.5h0M266.0 655.9h0M265.9 646.1h0M255.2 657.1h0M279.4 653.3h0M261.2 655.2h0M275.9 657.9h0M269.6 646.4h0M270.8 647.9h0M264.2 646.1h0M275.4 652.3h0M273.7 648.3h0M259.7 651.7h0M269.2 655.2h0M268.7 645.2h0M260.2 653.0h0M272.0 652.8h0M275.0 638.2h0M279.2 647.9h0M266.5 653.1h0M239.8 650.8h0M276.4 653.5h0M275.0 648.6h0M266.6 647.1h0M268.9 648.8h0M262.7 648.7h0M261.6 654.6h0M276.0 652.5h0M279.3 646.6h0M268.8 646.1h0M258.9 649.5h0M254.4 653.2h0M273.7 647.4h0M272.7 644.6h0M280.9 651.8h0M262.7 640.7h0M263.8 652.5h0M264.8 657.3h0M275.9 643.4h0M286.4 652.2h0M260.2 649.5h0M265.2 653.2h0M265.9 651.5h0M272.8 642.8h0M262.0 652.4h0M276.0 647.2h0M274.0 652.2h0M270.7 650.4h0M275.9 645.3h0M261.4 654.8h0M264.4 660.4h0M281.6 648.2h0M267.2 648.7h0M262.5 651.6h0M265.7 650.3h0M258.8 649.6h0M273.3 640.1h0M260.6 647.9h0M277.7 653.7h0M276.6 652.2h0M268.0 651.4h0M285.4 645.8h0M271.2 656.4h0M273.6 653.8h0M275.6 645.9h0M262.3 651.3h0M258.8 655.2h0M270.5 645.5h0M262.0 652.9h0M258.4 654.1h0M260.1 652.9h0M276.0 648.2h0M284.9 645.7h0M268.8 649.9h0M267.9 649.8h0M271.4 648.6h0M274.7 646.1h0M269.0 650.1h0M263.3 648.6h0M274.8 646.8h0M264.0 649.5h0M262.2 652.1h0M261.8 651.5h0M261.7 647.1h0M267.8 654.9h0M265.5 643.3h0M272.7 646.6h0M264.1 651.1h0M267.5 648.6h0M265.6 653.6h0M268.9 650.5h0M280.0 652.0h0M262.3 643.1h0M254.5 654.8h0M276.8 649.8h0M272.2 648.7h0M269.8 640.4h0M249.6 659.0h0M259.6 654.9h0M269.3 642.6h0M267.3 651.9h0M263.2 642.3h0M277.8 648.8h0M258.7 652.1h0M263.4 649.9h0M269.9 648.1h0M259.7 648.5h0M260.8 648.4h0M266.8 652.2h0M259.6 643.0h0M266.5 652.1h0M277.1 646.7h0M258.7 658.0h0M263.1 652.9h0M265.1 659.8h0M267.4 657.7h0M271.2 646.7h0M282.7 647.9h0M278.4 642.4h0M290.8 644.4h0M254.9 654.8h0M261.4 649.7h0M290.7 647.2h0M269.0 646.5h0M271.0 649.7h0M267.9 653.3h0M264.2 648.8h0M279.6 642.1h0M269.2 648.2h0M262.3 647.2h0M271.0 654.7h0M268.9 650.8h0M274.7 650.8h0M272.7 646.1h0M270.0 643.9h0M267.8 651.3h0M270.2 645.0h0M267.9 649.9h0M257.9 647.9h0M267.8 643.7h0M256.9 655.9h0M268.5 647.8h0M261.4 649.2h0M283.5 648.8h0M270.5 637.9h0M267.0 654.1h0M265.3 649.5h0M274.6 640.4h0M258.8 645.3h0M280.3 641.8h0M280.9 646.2h0M272.3 640.2h0M266.2 652.9h0M274.3 646.3h0M266.6 650.1h0M252.5 650.8h0M260.2 649.6h0M279.2 648.1h0M268.0 651.5h0M262.9 645.7h0M278.9 641.1h0M272.6 644.9h0M277.1 653.7h0M271.1 645.3h0M259.3 657.4h0M267.8 648.6h0M257.7 660.1h0M278.8 649.5h0M261.8 652.4h0M287.0 642.8h0M258.3 655.9h0M260.3 657.2h0M276.1 644.0h0M252.6 655.5h0M264.8 643.6h0M268.1 643.5h0M289.9 639.6h0M272.6 654.1h0M271.9 649.4h0M266.6 647.6h0M268.7 657.2h0M260.2 646.8h0M270.9 645.3h0M264.1 648.5h0M265.1 648.6h0M252.6 653.8h0M272.5 645.6h0M268.9 651.3h0M265.2 649.1h0M268.6 648.4h0M278.6 642.4h0M244.3 653.1h0M276.1 648.9h0M263.7 649.2h0M264.2 650.1h0M271.4 645.4h0M272.2 639.6h0M255.5 650.5h0M274.8 634.1h0M261.9 651.1h0M281.5 649.2h0M265.1 644.8h0M291.7 635.0h0M255.9 648.0h0M269.9 649.1h0M280.6 644.1h0M261.4 650.1h0M268.6 639.9h0M248.2 655.3h0M252.1 652.2h0M255.2 652.9h0M265.1 652.1h0M254.9 656.1h0M270.1 648.2h0M262.5 645.1h0M242.9 659.3h0M272.7 649.3h0M277.1 646.3h0M274.9 651.6h0M272.1 641.9h0M263.0 650.3h0M264.6 653.4h0M266.8 646.2h0M268.7 648.9h0M273.8 646.3h0M284.1 645.5h0M276.4 642.2h0M267.0 657.5h0M243.4 649.8h0M252.3 653.9h0M268.2 645.5h0M257.8 656.4h0M281.3 637.6h0M261.5 645.4h0M264.8 651.4h0M268.4 642.6h0M260.1 647.4h0M264.2 647.2h0M278.5 646.8h0M277.7 648.1h0M280.3 636.1h0M280.2 645.3h0M280.8 652.3h0M253.5 659.2h0M266.7 651.5h0M258.5 645.3h0M267.1 653.2h0M269.0 644.9h0M272.3 648.2h0M272.9 649.3h0M276.8 645.3h0M274.8 650.4h0M279.2 645.8h0M255.5 651.3h0M257.6 649.0h0M268.3 647.0h0M271.9 644.0h0M251.9 648.3h0M251.1 658.6h0M276.6 652.7h0M264.5 650.2h0M270.9 642.0h0M273.7 644.2h0M270.7 647.4h0M258.5 646.6h0M274.5 646.1h0M264.1 651.3h0M272.4 641.3h0M252.1 645.9h0M272.0 650.9h0M267.0 650.5h0M264.9 653.1h0M271.9 645.0h0M269.3 646.1h0M270.3 656.4h0M271.0 651.3h0M260.9 655.9h0M271.0 652.1h0M256.9 648.9h0M257.4 652.9h0M264.7 639.5h0M271.0 653.6h0M257.1 642.1h0M258.4 653.7h0M256.3 650.3h0M263.7 654.7h0M261.9 653.6h0M281.2 645.0h0M255.7 652.2h0M265.1 650.5h0M276.3 647.8h0M269.2 649.4h0M267.9 652.6h0M281.1 650.5h0M276.1 642.5h0M279.3 651.9h0M261.6 645.4h0M274.3 650.3h0M271.7 643.7h0M264.1 659.0h0M275.2 648.1h0M270.4 652.0h0M265.3 659.2h0M270.1 653.7h0M271.8 655.4h0M266.2 643.4h0M265.2 646.9h0M251.6 655.1h0M264.5 648.4h0M265.8 647.5h0M249.4 652.6h0M270.9 643.3h0M267.9 656.1h0M274.2 652.5h0M269.8 648.8h0M266.1 655.4h0M249.5 650.0h0M268.0 664.2h0M255.4 651.1h0M261.8 657.1h0M261.0 648.6h0M263.1 652.8h0M272.1 652.6h0M273.4 653.4h0M266.9 646.5h0M257.5 651.6h0M261.5 649.9h0M272.9 655.6h0M281.6 643.9h0M260.0 647.7h0M258.5 643.8h0M257.8 640.9h0M263.3 642.6h0M273.2 650.0h0M259.1 646.1h0M261.4 648.5h0M261.3 647.5h0M278.6 640.1h0M265.5 645.6h0M277.0 648.2h0M275.8 644.5h0M267.3 652.4h0M269.7 648.8h0M262.8 643.4h0M263.8 648.3h0M256.5 656.6h0M262.2 658.3h0M260.0 645.0h0M273.4 649.4h0M264.6 655.3h0M261.5 661.8h0M269.5 647.3h0M262.8 655.1h0M262.1 646.1h0M260.2 656.6h0M274.7 650.5h0M261.1 643.9h0M268.3 645.8h0M257.1 651.0h0M262.4 652.1h0M240.2 658.1h0M272.3 649.2h0M285.7 645.5h0M248.7 649.7h0M279.4 639.2h0M278.2 647.4h0M273.3 641.9h0M263.6 647.8h0M263.0 649.8h0M280.1 653.0h0M263.1 651.1h0M257.9 659.0h0M262.2 654.5h0M267.7 644.6h0M268.0 657.0h0M264.5 648.0h0M269.1 654.3h0M284.4 645.6h0M269.7 646.0h0M268.6 640.7h0M258.9 654.2h0M262.7 650.0h0M279.2 656.6h0M270.5 645.6h0M272.1 647.8h0M264.3 647.6h0M253.7 650.2h0M266.4 655.5h0M265.5 655.6h0M280.4 639.6h0M257.1 649.7h0M261.0 649.4h0M281.8 640.6h0M265.9 653.9h0M262.3 650.9h0M273.8 645.2h0M261.6 651.8h0M267.0 651.0h0M264.0 649.0h0M272.2 646.9h0M265.0 652.5h0M269.9 651.3h0M256.7 649.2h0M264.0 653.1h0M265.1 641.4h0M260.6 650.2h0M273.5 652.3h0M269.2 658.7h0M249.5 658.0h0M282.7 646.5h0M266.7 661.0h0M276.4 653.7h0M272.5 648.7h0M267.4 648.9h0M268.2 639.0h0M272.2 651.6h0M258.5 648.4h0M274.4 648.6h0M256.2 646.3h0M276.1 642.9h0M262.8 655.2h0M271.0 651.2h0M269.6 662.3h0M273.7 651.5h0M266.5 658.2h0M264.4 652.3h0M264.3 649.6h0M269.1 647.6h0M277.4 646.4h0M258.9 655.2h0M245.5 666.8h0M265.5 650.4h0M261.4 646.5h0M269.1 649.2h0M265.0 641.9h0M263.6 652.5h0M261.5 639.0h0M262.8 640.2h0M259.9 653.6h0M258.3 654.9h0M256.7 648.9h0M254.2 652.9h0M266.3 651.5h0M275.1 649.3h0M275.9 641.5h0M261.2 650.7h0M267.6 640.1h0M256.3 647.1h0M265.2 646.3h0M264.0 650.0h0M282.0 648.2h0M262.4 649.6h0M261.0 649.4h0M258.2 652.4h0M257.1 651.2h0M272.8 645.3h0M280.7 650.3h0M260.9 652.2h0M257.0 656.2h0M258.6 644.7h0M252.4 649.3h0M263.8 647.9h0M277.8 642.2h0M258.1 651.8h0M265.9 648.7h0M270.2 650.7h0M255.9 660.2h0M263.9 647.5h0M255.3 653.6h0M271.0 650.4h0M269.8 654.8h0M263.7 645.0h0M246.0 656.4h0M259.9 650.5h0M268.2 651.7h0M262.4 656.9h0M270.7 644.7h0M268.3 647.2h0M271.3 649.8h0M267.4 651.8h0M270.1 639.7h0M266.1 663.2h0M262.5 648.9h0M271.5 645.8h0M256.7 652.7h0M252.8 656.3h0M271.9 647.7h0M276.7 651.6h0M271.9 648.0h0M285.0 643.3h0M266.7 647.0h0M251.9 655.6h0M264.1 657.5h0M248.7 655.7h0M265.7 654.9h0M268.1 649.0h0M281.5 652.0h0M281.6 643.6h0M265.2 639.4h0M277.6 642.8h0M273.1 646.3h0M261.8 650.3h0M262.2 653.4h0M251.7 652.2h0M262.6 645.4h0M264.9 652.3h0M258.9 650.3h0M268.0 655.8h0M261.5 651.9h0M283.6 646.4h0M253.6 652.5h0M274.6 644.3h0M262.4 655.0h0M263.2 649.7h0M268.2 643.6h0M249.3 657.2h0M261.5 650.3h0M271.6 646.4h0M254.9 656.5h0M252.0 647.5h0M244.9 658.5h0M261.8 651.5h0M253.0 653.7h0M262.9 650.5h0M259.6 648.3h0M268.1 645.6h0M277.6 646.7h0M252.3 654.0h0M260.9 655.7h0M258.2 648.5h0M281.0 649.1h0M265.3 658.1h0M255.9 646.0h0M253.3 659.9h0M269.3 650.4h0M254.7 652.5h0M258.9 651.7h0M273.4 651.8h0M264.8 642.2h0M268.8 653.2h0M270.5 650.0h0M260.5 655.8h0M253.2 643.5h0M258.7 639.7h0M258.4 654.3h0M271.9 641.1h0M271.2 649.8h0M265.8 648.4h0M267.1 643.2h0M260.6 643.3h0M265.4 654.1h0M273.9 646.9h0M251.2 647.8h0M269.2 650.8h0M274.4 640.9h0M259.4 653.7h0M263.8 644.4h0M266.6 649.2h0M265.1 653.3h0M271.9 643.1h0M269.7 650.2h0M265.5 644.3h0M264.8 653.7h0M255.6 648.8h0M271.8 647.6h0M263.0 645.4h0M261.8 655.2h0M268.2 663.9h0M281.2 642.4h0M259.8 649.8h0M273.8 645.2h0M255.9 647.9h0M255.8 646.2h0M281.2 648.9h0M254.7 645.2h0M269.0 655.4h0M278.8 641.5h0M249.8 650.8h0M263.8 647.2h0M266.6 644.5h0M261.0 650.4h0M271.4 645.7h0M266.9 642.2h0M264.6 649.9h0M269.7 645.9h0M265.7 655.4h0M252.5 659.0h0M267.8 641.8h0M281.2 645.0h0M273.9 648.5h0M267.7 646.2h0M253.7 650.2h0M260.4 651.6h0M272.5 647.1h0M266.7 643.0h0M276.6 645.8h0M263.1 649.6h0M252.6 656.0h0M253.1 651.5h0M267.2 641.9h0M272.3 646.5h0M265.7 651.1h0M267.9 643.0h0M268.5 648.6h0M273.7 648.7h0M258.3 648.6h0M256.7 645.7h0M260.0 653.6h0M269.7 657.8h0M270.0 656.8h0M253.4 650.6h0M266.5 645.7h0M269.4 642.4h0M260.2 651.8h0M268.3 646.9h0M256.8 650.1h0M269.3 652.5h0M256.3 651.3h0M270.0 656.9h0M253.6 652.2h0M252.3 652.7h0M272.6 644.0h0M268.3 655.4h0M260.3 652.0h0M276.2 651.4h0M247.2 651.7h0M272.9 647.2h0M270.4 651.3h0M260.2 643.3h0M268.2 650.5h0M277.0 648.6h0M270.0 642.6h0M267.7 651.4h0M268.4 644.7h0M276.5 643.7h0M259.1 649.1h0M273.5 651.3h0M253.9 649.7h0M279.0 643.5h0M272.1 648.8h0M260.6 648.1h0M272.3 651.2h0M261.9 647.4h0M268.6 647.2h0M257.5 652.1h0M272.8 648.2h0M269.5 649.3h0M269.9 655.8h0M269.2 644.4h0M264.2 654.3h0M271.8 659.1h0M271.6 650.0h0M260.7 652.0h0M261.6 650.1h0M282.1 645.2h0M262.7 653.7h0M268.6 651.7h0M257.5 648.8h0M256.2 656.8h0M276.9 646.2h0M274.0 640.4h0M254.6 644.4h0M248.9 657.9h0M259.2 651.0h0M286.7 645.7h0M269.4 642.0h0M268.8 654.0h0M263.7 648.1h0M265.0 642.4h0M264.4 645.6h0M276.9 651.0h0M271.4 655.5h0M277.1 646.8h0M263.2 647.7h0M282.3 651.2h0M270.3 653.9h0M259.9 639.8h0M258.2 652.2h0M261.3 653.4h0M270.3 647.4h0M276.8 655.1h0M260.5 648.4h0M262.4 654.6h0M282.7 643.1h0M267.9 649.6h0M274.1 649.0h0M267.4 653.0h0M256.6 648.5h0M264.4 655.6h0M253.9 655.6h0M263.8 658.1h0M257.7 645.6h0M260.3 648.0h0M259.1 653.8h0M252.8 652.8h0M264.5 640.3h0M267.9 641.9h0M265.0 640.1h0M277.8 644.9h0M276.8 647.6h0M260.7 635.2h0M269.9 648.3h0M271.2 651.8h0M273.9 643.9h0M261.7 647.7h0M284.1 648.9h0M264.4 638.8h0M278.2 647.1h0M260.9 654.9h0M264.3 650.0h0M257.8 655.2h0M268.7 655.3h0M262.6 649.0h0M262.6 653.5h0M274.0 647.9h0M263.1 650.9h0M270.5 652.3h0M260.3 660.4h0M253.4 650.3h0M286.1 648.7h0M270.6 642.1h0M271.7 651.3h0M260.5 656.8h0M269.9 645.2h0M264.8 640.7h0M267.4 649.7h0M275.6 642.5h0M281.9 650.1h0M275.3 654.5h0M261.2 655.0h0M261.6 653.9h0M267.0 644.8h0M255.9 650.3h0M262.6 652.5h0M257.8 647.4h0M272.8 652.2h0M274.9 641.5h0M269.0 649.7h0M275.0 645.5h0M265.7 651.2h0M265.1 639.5h0M270.7 649.0h0M261.9 647.2h0M270.2 641.9h0M261.3 648.6h0M255.8 647.1h0M270.9 650.8h0M271.1 637.2h0M280.7 647.7h0M254.3 660.1h0M271.3 646.2h0M279.7 644.4h0M272.5 646.0h0M264.6 651.6h0M250.9 654.6h0M271.8 643.3h0M253.0 655.6h0M275.0 646.6h0M255.7 648.2h0M266.1 650.5h0M253.4 655.1h0M266.5 646.9h0M280.8 650.7h0M267.4 644.2h0M264.8 643.3h0M268.0 658.4h0M257.6 641.9h0M271.5 636.6h0M253.7 655.1h0M258.3 650.1h0M265.4 649.0h0M251.9 645.7h0M249.8 647.8h0M262.9 642.9h0M251.1 650.8h0M279.7 641.6h0M275.1 649.9h0M279.2 644.6h0M279.9 648.4h0M275.1 646.1h0M256.9 643.3h0M273.3 648.7h0M269.9 638.8h0M270.1 650.7h0M262.5 654.7h0M244.0 652.1h0M273.7 653.5h0M266.4 652.3h0M273.8 646.4h0M254.2 653.2h0M257.7 650.6h0M256.7 658.1h0M266.2 649.3h0M273.3 652.5h0M267.3 653.3h0" stroke="#3030e0" stroke-width="1" stroke-linecap="square" opacity="0.6" fill="none"/>
<ellipse cx="269.5" cy="647.5" rx="10" ry="5" transform="rotate(-22 269.5 647.5)" fill="#1818d8" filter="url(#bl1)"/>
<path d="M299.7 617.4h0M279.0 639.3h0M287.2 630.4h0M290.5 632.4h0M304.7 613.0h0M271.9 644.5h0M288.1 629.8h0M285.3 628.6h0M291.5 625.4h0M283.4 634.5h0M285.2 627.5h0M311.4 610.6h0M293.6 621.7h0M287.6 635.0h0M287.2 632.9h0M299.0 619.7h0M286.6 631.8h0M288.6 624.8h0M305.4 608.9h0M286.3 635.3h0M296.0 623.7h0M294.9 622.1h0M287.2 629.8h0M305.0 617.5h0M286.3 633.7h0M281.7 634.5h0M291.5 624.3h0M282.0 637.2h0M280.7 636.8h0M300.5 619.0h0M294.6 623.6h0M288.8 628.3h0M289.8 632.9h0M298.3 622.3h0M294.5 622.6h0M290.8 629.4h0M286.1 633.2h0M285.5 627.0h0M281.3 635.5h0M284.8 634.1h0M286.8 633.3h0M290.4 627.3h0M297.5 622.9h0M273.4 640.0h0M297.0 624.5h0M294.8 628.2h0M286.0 630.1h0M295.1 623.0h0M289.4 635.0h0M292.1 624.6h0M287.9 629.1h0M278.1 642.1h0M285.4 626.6h0M285.0 626.0h0M279.5 634.3h0M289.4 635.4h0M282.2 630.6h0M296.7 620.0h0M293.8 625.4h0M279.6 633.1h0M290.3 625.2h0M291.0 626.5h0M277.9 643.3h0M290.1 626.1h0M282.8 638.1h0M286.5 629.9h0M289.4 629.5h0M287.9 632.1h0M288.5 626.4h0M296.6 623.1h0M283.4 636.4h0M291.4 631.2h0M279.4 638.4h0M289.0 632.6h0M292.7 628.2h0M303.7 614.4h0M290.9 629.3h0M283.7 633.8h0M293.1 629.5h0M286.1 628.2h0M304.0 618.6h0M285.3 631.7h0M291.3 628.6h0M298.9 621.3h0M277.4 635.1h0M284.4 631.1h0M288.1 628.1h0M292.5 630.3h0M290.4 625.6h0M291.3 628.8h0M287.4 634.0h0M290.9 628.5h0M284.4 628.8h0M277.7 636.9h0M287.2 631.2h0M284.5 633.0h0M280.6 634.7h0M289.7 629.7h0M285.3 632.4h0M287.4 631.5h0M294.2 628.2h0M292.4 624.4h0M269.7 647.4h0M287.8 626.1h0M283.4 633.0h0M292.2 627.0h0M297.5 627.8h0M302.1 616.8h0M289.9 629.5h0M275.8 639.5h0M286.8 629.9h0M295.0 623.1h0M284.1 633.7h0M285.3 631.5h0M289.3 631.7h0M297.7 620.7h0M288.8 627.2h0M283.5 639.2h0M287.3 626.6h0M278.7 641.2h0M286.9 632.2h0M290.4 627.5h0M287.9 629.0h0M278.3 637.1h0M298.0 616.8h0M294.3 626.3h0M299.2 624.4h0M285.9 628.3h0M283.3 631.8h0M288.1 629.5h0M294.5 624.0h0M287.6 632.5h0M299.6 617.2h0M279.8 632.8h0M292.4 625.9h0M277.5 638.2h0M292.6 625.5h0M276.8 637.1h0M281.2 636.3h0M288.3 632.9h0M303.7 615.2h0M291.5 629.4h0M283.0 630.8h0M295.4 625.7h0M280.7 635.1h0M294.3 624.6h0M290.6 623.2h0M274.0 645.2h0M288.7 628.5h0M295.2 625.4h0M290.6 628.0h0M280.6 634.1h0M298.2 623.3h0M291.5 630.1h0M286.8 631.4h0M289.1 627.8h0M286.4 633.0h0M297.0 622.3h0M278.8 636.2h0M282.1 631.9h0M280.0 639.5h0M280.5 634.8h0M280.1 634.7h0M291.1 627.3h0M284.7 633.1h0M292.9 622.7h0M284.5 631.4h0M295.7 622.8h0M277.7 631.3h0M279.9 635.6h0M292.2 622.3h0M292.2 627.9h0M291.9 625.4h0M301.1 619.0h0M290.4 629.1h0M298.8 617.1h0M297.3 624.0h0M295.6 622.4h0M287.5 630.6h0M281.6 631.2h0M284.7 632.1h0M294.2 625.4h0M283.9 632.3h0M280.2 640.1h0M297.2 618.7h0M275.3 639.4h0M282.2 632.1h0M288.1 626.4h0M285.8 624.9h0M291.2 623.7h0M289.4 632.9h0M270.9 647.1h0M300.2 617.2h0M290.6 631.2h0M289.4 626.9h0M297.8 618.6h0M287.8 627.8h0M291.9 628.8h0M278.3 640.2h0M289.4 627.7h0M282.1 634.5h0M290.1 626.5h0M293.5 626.0h0M285.2 634.2h0M295.1 625.0h0M289.9 629.8h0M288.8 630.3h0M291.0 625.3h0M287.0 627.9h0M273.1 641.4h0M292.8 623.5h0M298.7 625.5h0M280.0 638.3h0M297.5 623.9h0M297.9 619.2h0M295.9 625.0h0M286.4 631.6h0M285.2 635.5h0M290.1 624.0h0M288.5 633.4h0M298.1 621.5h0M282.0 633.4h0M286.8 632.1h0M289.1 626.3h0M291.2 629.3h0M282.0 638.5h0M288.1 628.6h0M292.1 624.9h0M282.2 635.6h0M297.1 621.1h0M296.9 624.7h0M282.3 633.3h0M293.5 623.4h0M298.4 619.4h0M300.6 621.4h0M290.9 630.9h0M292.0 630.0h0M294.0 620.3h0M290.1 633.6h0M294.3 616.4h0M302.0 617.2h0M289.0 629.1h0M304.1 615.1h0M295.3 629.6h0M287.3 633.9h0M301.2 620.9h0M303.1 613.9h0M290.5 633.9h0M284.7 630.3h0M277.2 641.9h0M293.6 629.0h0M291.3 628.9h0M297.3 622.4h0M283.9 635.9h0M279.3 635.5h0M292.8 627.6h0M287.5 630.6h0M281.7 638.7h0M288.9 628.7h0M279.9 640.2h0M278.9 635.8h0M291.4 629.5h0M294.1 627.5h0M291.9 623.4h0M294.9 621.4h0M275.1 638.6h0M291.3 626.4h0M291.5 621.1h0M296.8 621.2h0M292.3 624.0h0M284.7 633.8h0M286.5 631.0h0M308.2 616.9h0M288.3 631.4h0M285.9 632.6h0M285.3 633.8h0M282.0 638.3h0M286.4 632.3h0M272.2 643.3h0M295.2 626.1h0M282.3 637.2h0M291.4 621.0h0M291.5 624.6h0M277.9 640.2h0M284.8 637.2h0M295.0 626.4h0M285.9 632.4h0M300.9 618.7h0M295.2 625.4h0M294.2 624.2h0M301.5 620.1h0M284.0 631.1h0M298.8 621.7h0M288.6 626.5h0M279.4 636.5h0M285.3 632.6h0M295.6 626.1h0M288.8 622.6h0M288.1 632.9h0M297.0 619.1h0M285.8 632.1h0M288.2 634.5h0M279.0 636.7h0M285.0 626.2h0M290.4 632.1h0M300.5 617.9h0M287.1 630.3h0M283.4 635.9h0M286.8 628.2h0M288.6 626.6h0M290.3 623.8h0M293.5 624.8h0M287.4 628.4h0M298.3 620.0h0M285.2 633.8h0M289.9 625.9h0M285.3 631.3h0M291.2 627.7h0M287.1 626.1h0M299.4 623.8h0M278.1 644.0h0M281.9 635.4h0M288.8 631.1h0M296.7 623.4h0M274.2 638.9h0M284.9 631.1h0M290.5 628.0h0M292.8 624.0h0M291.9 630.6h0M280.7 637.6h0M295.1 624.1h0M288.0 626.3h0M287.5 626.6h0M284.3 631.7h0M283.4 637.7h0M286.6 627.5h0M286.2 630.9h0M287.2 631.8h0M293.0 623.3h0M288.2 627.3h0M296.4 620.6h0M286.1 628.5h0M285.5 625.2h0M285.8 627.6h0M294.8 626.5h0M271.2 641.3h0M283.0 637.1h0M287.9 624.2h0M294.3 622.9h0M287.3 626.8h0M289.2 625.8h0M289.8 629.7h0M285.6 630.1h0M296.6 621.9h0M290.4 620.2h0M286.5 626.9h0M303.5 618.6h0M274.4 644.2h0M282.4 633.6h0M286.9 630.6h0M282.9 635.0h0M287.7 630.1h0M289.2 628.5h0M286.2 631.7h0M288.5 630.0h0M283.8 637.8h0M288.3 628.3h0M278.1 632.7h0M278.1 640.5h0M286.9 635.7h0M290.7 632.6h0M297.3 621.7h0M293.4 626.1h0M299.8 626.1h0M287.6 626.0h0M283.1 635.6h0M300.5 619.2h0M285.3 629.9h0M301.2 618.9h0M292.1 626.2h0M283.0 631.9h0M292.5 625.3h0M283.4 640.3h0M287.9 630.1h0M290.0 627.0h0M290.9 630.9h0M290.2 628.6h0M287.8 631.9h0M298.4 621.9h0M289.7 627.9h0M295.0 625.4h0M287.1 628.3h0M294.8 624.9h0M287.7 628.6h0M279.1 643.4h0M277.2 643.0h0M293.5 629.2h0M289.4 630.7h0M285.9 635.4h0M291.4 625.1h0" stroke="#d888ec" stroke-width="1" stroke-linecap="square" opacity="0.5" fill="none"/>
<ellipse cx="287" cy="631.5" rx="2" ry="8.5" transform="rotate(47 287 631.5)" fill="#c050e0" opacity="0.6" filter="url(#bl1)"/>
<rect x="195.3" y="577" width="124.0" height="112.5" fill="none" stroke="#a0a0a0" stroke-width="1"/>
<line x1="192.8" y1="686.3" x2="195.3" y2="686.3" stroke="#555" stroke-width="0.8"/>
<line x1="193.8" y1="678.857033357208" x2="195.3" y2="678.857033357208" stroke="#555" stroke-width="0.8"/>
<line x1="193.8" y1="674.5031769770563" x2="195.3" y2="674.5031769770563" stroke="#555" stroke-width="0.8"/>
<line x1="193.8" y1="671.4140667144161" x2="195.3" y2="671.4140667144161" stroke="#555" stroke-width="0.8"/>
<line x1="193.8" y1="669.0179666427919" x2="195.3" y2="669.0179666427919" stroke="#555" stroke-width="0.8"/>
<line x1="193.8" y1="667.0602103342643" x2="195.3" y2="667.0602103342643" stroke="#555" stroke-width="0.8"/>
<line x1="193.8" y1="665.4049509606474" x2="195.3" y2="665.4049509606474" stroke="#555" stroke-width="0.8"/>
<line x1="193.8" y1="663.9711000716242" x2="195.3" y2="663.9711000716242" stroke="#555" stroke-width="0.8"/>
<line x1="193.8" y1="662.7063539541126" x2="195.3" y2="662.7063539541126" stroke="#555" stroke-width="0.8"/>
<line x1="192.8" y1="661.5749999999999" x2="195.3" y2="661.5749999999999" stroke="#555" stroke-width="0.8"/>
<line x1="193.8" y1="654.132033357208" x2="195.3" y2="654.132033357208" stroke="#555" stroke-width="0.8"/>
<line x1="193.8" y1="649.7781769770563" x2="195.3" y2="649.7781769770563" stroke="#555" stroke-width="0.8"/>
<line x1="193.8" y1="646.6890667144161" x2="195.3" y2="646.6890667144161" stroke="#555" stroke-width="0.8"/>
<line x1="193.8" y1="644.2929666427918" x2="195.3" y2="644.2929666427918" stroke="#555" stroke-width="0.8"/>
<line x1="193.8" y1="642.3352103342643" x2="195.3" y2="642.3352103342643" stroke="#555" stroke-width="0.8"/>
<line x1="193.8" y1="640.6799509606474" x2="195.3" y2="640.6799509606474" stroke="#555" stroke-width="0.8"/>
<line x1="193.8" y1="639.2461000716241" x2="195.3" y2="639.2461000716241" stroke="#555" stroke-width="0.8"/>
<line x1="193.8" y1="637.9813539541126" x2="195.3" y2="637.9813539541126" stroke="#555" stroke-width="0.8"/>
<line x1="192.8" y1="636.8499999999999" x2="195.3" y2="636.8499999999999" stroke="#555" stroke-width="0.8"/>
<line x1="193.8" y1="629.407033357208" x2="195.3" y2="629.407033357208" stroke="#555" stroke-width="0.8"/>
<line x1="193.8" y1="625.0531769770563" x2="195.3" y2="625.0531769770563" stroke="#555" stroke-width="0.8"/>
<line x1="193.8" y1="621.964066714416" x2="195.3" y2="621.964066714416" stroke="#555" stroke-width="0.8"/>
<line x1="193.8" y1="619.5679666427919" x2="195.3" y2="619.5679666427919" stroke="#555" stroke-width="0.8"/>
<line x1="193.8" y1="617.6102103342644" x2="195.3" y2="617.6102103342644" stroke="#555" stroke-width="0.8"/>
<line x1="193.8" y1="615.9549509606475" x2="195.3" y2="615.9549509606475" stroke="#555" stroke-width="0.8"/>
<line x1="193.8" y1="614.5211000716242" x2="195.3" y2="614.5211000716242" stroke="#555" stroke-width="0.8"/>
<line x1="193.8" y1="613.2563539541127" x2="195.3" y2="613.2563539541127" stroke="#555" stroke-width="0.8"/>
<line x1="192.8" y1="612.125" x2="195.3" y2="612.125" stroke="#555" stroke-width="0.8"/>
<line x1="193.8" y1="604.6820333572081" x2="195.3" y2="604.6820333572081" stroke="#555" stroke-width="0.8"/>
<line x1="193.8" y1="600.3281769770564" x2="195.3" y2="600.3281769770564" stroke="#555" stroke-width="0.8"/>
<line x1="193.8" y1="597.2390667144161" x2="195.3" y2="597.2390667144161" stroke="#555" stroke-width="0.8"/>
<line x1="193.8" y1="594.8429666427919" x2="195.3" y2="594.8429666427919" stroke="#555" stroke-width="0.8"/>
<line x1="193.8" y1="592.8852103342643" x2="195.3" y2="592.8852103342643" stroke="#555" stroke-width="0.8"/>
<line x1="193.8" y1="591.2299509606474" x2="195.3" y2="591.2299509606474" stroke="#555" stroke-width="0.8"/>
<line x1="193.8" y1="589.7961000716242" x2="195.3" y2="589.7961000716242" stroke="#555" stroke-width="0.8"/>
<line x1="193.8" y1="588.5313539541127" x2="195.3" y2="588.5313539541127" stroke="#555" stroke-width="0.8"/>
<line x1="192.8" y1="587.4" x2="195.3" y2="587.4" stroke="#555" stroke-width="0.8"/>
<line x1="205.0" y1="689.5" x2="205.0" y2="692.0" stroke="#555" stroke-width="0.8"/>
<line x1="213.57935487642345" y1="689.5" x2="213.57935487642345" y2="691.0" stroke="#555" stroke-width="0.8"/>
<line x1="218.59795575951037" y1="689.5" x2="218.59795575951037" y2="691.0" stroke="#555" stroke-width="0.8"/>
<line x1="222.15870975284693" y1="689.5" x2="222.15870975284693" y2="691.0" stroke="#555" stroke-width="0.8"/>
<line x1="224.92064512357655" y1="689.5" x2="224.92064512357655" y2="691.0" stroke="#555" stroke-width="0.8"/>
<line x1="227.17731063593385" y1="689.5" x2="227.17731063593385" y2="691.0" stroke="#555" stroke-width="0.8"/>
<line x1="229.08529414040632" y1="689.5" x2="229.08529414040632" y2="691.0" stroke="#555" stroke-width="0.8"/>
<line x1="230.73806462927038" y1="689.5" x2="230.73806462927038" y2="691.0" stroke="#555" stroke-width="0.8"/>
<line x1="232.19591151902077" y1="689.5" x2="232.19591151902077" y2="691.0" stroke="#555" stroke-width="0.8"/>
<line x1="233.5" y1="689.5" x2="233.5" y2="692.0" stroke="#555" stroke-width="0.8"/>
<line x1="242.07935487642345" y1="689.5" x2="242.07935487642345" y2="691.0" stroke="#555" stroke-width="0.8"/>
<line x1="247.09795575951037" y1="689.5" x2="247.09795575951037" y2="691.0" stroke="#555" stroke-width="0.8"/>
<line x1="250.65870975284693" y1="689.5" x2="250.65870975284693" y2="691.0" stroke="#555" stroke-width="0.8"/>
<line x1="253.42064512357655" y1="689.5" x2="253.42064512357655" y2="691.0" stroke="#555" stroke-width="0.8"/>
<line x1="255.67731063593385" y1="689.5" x2="255.67731063593385" y2="691.0" stroke="#555" stroke-width="0.8"/>
<line x1="257.5852941404063" y1="689.5" x2="257.5852941404063" y2="691.0" stroke="#555" stroke-width="0.8"/>
<line x1="259.2380646292704" y1="689.5" x2="259.2380646292704" y2="691.0" stroke="#555" stroke-width="0.8"/>
<line x1="260.69591151902074" y1="689.5" x2="260.69591151902074" y2="691.0" stroke="#555" stroke-width="0.8"/>
<line x1="262.0" y1="689.5" x2="262.0" y2="692.0" stroke="#555" stroke-width="0.8"/>
<line x1="270.57935487642345" y1="689.5" x2="270.57935487642345" y2="691.0" stroke="#555" stroke-width="0.8"/>
<line x1="275.5979557595104" y1="689.5" x2="275.5979557595104" y2="691.0" stroke="#555" stroke-width="0.8"/>
<line x1="279.1587097528469" y1="689.5" x2="279.1587097528469" y2="691.0" stroke="#555" stroke-width="0.8"/>
<line x1="281.92064512357655" y1="689.5" x2="281.92064512357655" y2="691.0" stroke="#555" stroke-width="0.8"/>
<line x1="284.17731063593385" y1="689.5" x2="284.17731063593385" y2="691.0" stroke="#555" stroke-width="0.8"/>
<line x1="286.0852941404063" y1="689.5" x2="286.0852941404063" y2="691.0" stroke="#555" stroke-width="0.8"/>
<line x1="287.7380646292704" y1="689.5" x2="287.7380646292704" y2="691.0" stroke="#555" stroke-width="0.8"/>
<line x1="289.19591151902074" y1="689.5" x2="289.19591151902074" y2="691.0" stroke="#555" stroke-width="0.8"/>
<line x1="290.5" y1="689.5" x2="290.5" y2="692.0" stroke="#555" stroke-width="0.8"/>
<line x1="299.07935487642345" y1="689.5" x2="299.07935487642345" y2="691.0" stroke="#555" stroke-width="0.8"/>
<line x1="304.0979557595104" y1="689.5" x2="304.0979557595104" y2="691.0" stroke="#555" stroke-width="0.8"/>
<line x1="307.6587097528469" y1="689.5" x2="307.6587097528469" y2="691.0" stroke="#555" stroke-width="0.8"/>
<line x1="310.42064512357655" y1="689.5" x2="310.42064512357655" y2="691.0" stroke="#555" stroke-width="0.8"/>
<line x1="312.67731063593385" y1="689.5" x2="312.67731063593385" y2="691.0" stroke="#555" stroke-width="0.8"/>
<line x1="314.5852941404063" y1="689.5" x2="314.5852941404063" y2="691.0" stroke="#555" stroke-width="0.8"/>
<line x1="316.2380646292704" y1="689.5" x2="316.2380646292704" y2="691.0" stroke="#555" stroke-width="0.8"/>
<line x1="317.69591151902074" y1="689.5" x2="317.69591151902074" y2="691.0" stroke="#555" stroke-width="0.8"/>
<line x1="319" y1="689.5" x2="319" y2="692.0" stroke="#555" stroke-width="0.8"/>
<path d="M280.3,614.0 L304.5,596.7 L316.5,615.5 L297.0,641.8 L289.0,643.0 L276.5,636.0 L277.5,625.0 Z" fill="none" stroke="#8a8a8a" stroke-width="1"/>
<text transform="translate(180,633.7) rotate(-90)" font-size="8.6" text-anchor="middle" textLength="19.5" lengthAdjust="spacingAndGlyphs" fill="#111" stroke="#111" stroke-width="0.25">CD38</text>
<text x="246.5" y="713.4" font-size="8.6" text-anchor="start" textLength="20.8" lengthAdjust="spacingAndGlyphs" fill="#111" stroke="#111" stroke-width="0.25">CD24</text>
<text transform="translate(190,587.4) rotate(-90)" font-size="5.2" text-anchor="middle" fill="#111">10<tspan font-size="3.6" dy="-2.1">5</tspan></text>
<text transform="translate(190,612.2) rotate(-90)" font-size="5.2" text-anchor="middle" fill="#111">10<tspan font-size="3.6" dy="-2.1">4</tspan></text>
<text transform="translate(190,636.5) rotate(-90)" font-size="5.2" text-anchor="middle" fill="#111">10<tspan font-size="3.6" dy="-2.1">3</tspan></text>
<text transform="translate(190,661.7) rotate(-90)" font-size="5.2" text-anchor="middle" fill="#111">10<tspan font-size="3.6" dy="-2.1">2</tspan></text>
<text x="214" y="701.2" font-size="5.2" text-anchor="middle" fill="#111">10<tspan font-size="3.6" dy="-2.1">-3</tspan></text>
<text x="243.5" y="701.2" font-size="5.2" text-anchor="middle" fill="#111">10<tspan font-size="3.6" dy="-2.1">3</tspan></text>
<text x="276.5" y="701.2" font-size="5.2" text-anchor="middle" fill="#111">10<tspan font-size="3.6" dy="-2.1">4</tspan></text>
<text x="307" y="701.2" font-size="5.2" text-anchor="middle" fill="#111">10<tspan font-size="3.6" dy="-2.1">5</tspan></text>
<text x="229.3" y="701.2" font-size="5.2" text-anchor="middle" fill="#111" stroke="#111" stroke-width="0.22">0</text>
<text x="414" y="570.2" font-size="11.8" text-anchor="start" textLength="69.5" lengthAdjust="spacingAndGlyphs" fill="#000" stroke="#000" stroke-width="0.22">Sorted Bregs</text>
<line x1="388.6" y1="577" x2="388.6" y2="687.7" stroke="#000" stroke-width="1.5"/>
<line x1="388.6" y1="687.7" x2="509" y2="687.7" stroke="#000" stroke-width="1.5"/>
<line x1="384.3" y1="687.7" x2="388.6" y2="687.7" stroke="#000" stroke-width="1.4"/>
<text x="379.3" y="691.9000000000001" font-size="12" text-anchor="end" fill="#000" stroke="#000" stroke-width="0.22">0</text>
<line x1="384.3" y1="666.32" x2="388.6" y2="666.32" stroke="#000" stroke-width="1.4"/>
<text x="379.3" y="670.5200000000001" font-size="12" text-anchor="end" fill="#000" stroke="#000" stroke-width="0.22">5</text>
<line x1="384.3" y1="644.94" x2="388.6" y2="644.94" stroke="#000" stroke-width="1.4"/>
<text x="379.3" y="649.1400000000001" font-size="12" text-anchor="end" fill="#000" stroke="#000" stroke-width="0.22">10</text>
<line x1="384.3" y1="623.5600000000001" x2="388.6" y2="623.5600000000001" stroke="#000" stroke-width="1.4"/>
<text x="379.3" y="627.7600000000001" font-size="12" text-anchor="end" fill="#000" stroke="#000" stroke-width="0.22">15</text>
<line x1="384.3" y1="602.1800000000001" x2="388.6" y2="602.1800000000001" stroke="#000" stroke-width="1.4"/>
<text x="379.3" y="606.3800000000001" font-size="12" text-anchor="end" fill="#000" stroke="#000" stroke-width="0.22">20</text>
<line x1="384.3" y1="580.8000000000001" x2="388.6" y2="580.8000000000001" stroke="#000" stroke-width="1.4"/>
<text x="379.3" y="585.0000000000001" font-size="12" text-anchor="end" fill="#000" stroke="#000" stroke-width="0.22">25</text>
<line x1="407.8" y1="687.7" x2="407.8" y2="692" stroke="#000" stroke-width="1.4"/>
<line x1="448" y1="687.7" x2="448" y2="692" stroke="#000" stroke-width="1.4"/>
<line x1="487.8" y1="687.7" x2="487.8" y2="692" stroke="#000" stroke-width="1.4"/>
<rect x="397.6" y="682.9" width="21.19999999999999" height="4.800000000000068" fill="#000" stroke="none" stroke-width="1"/>
<line x1="408.20000000000005" y1="679.3" x2="408.20000000000005" y2="682.9" stroke="#000" stroke-width="1.5"/>
<line x1="403.20000000000005" y1="679.3" x2="413.20000000000005" y2="679.3" stroke="#000" stroke-width="1.5"/>
<rect x="437.8" y="664.6" width="20.80000000000001" height="23.100000000000023" fill="#000" stroke="none" stroke-width="1"/>
<line x1="448.20000000000005" y1="659.3" x2="448.20000000000005" y2="664.6" stroke="#000" stroke-width="1.5"/>
<line x1="443.20000000000005" y1="659.3" x2="453.20000000000005" y2="659.3" stroke="#000" stroke-width="1.5"/>
<rect x="477.7" y="605.4" width="20.900000000000034" height="82.30000000000007" fill="#000" stroke="none" stroke-width="1"/>
<line x1="488.15" y1="602.5" x2="488.15" y2="605.4" stroke="#000" stroke-width="1.5"/>
<line x1="483.15" y1="602.5" x2="493.15" y2="602.5" stroke="#000" stroke-width="1.5"/>
<text transform="translate(358.8,632.3) rotate(-90)" font-size="14" text-anchor="middle" textLength="144.5" lengthAdjust="spacingAndGlyphs" fill="#000" stroke="#000" stroke-width="0.22">IL-10 production (pg/mL)</text>
<text transform="translate(413.6,704.3) rotate(-45)" font-size="12.5" text-anchor="end" textLength="76" lengthAdjust="spacingAndGlyphs" fill="#000" stroke="#000" stroke-width="0.22">No stimulation</text>
<text transform="translate(453.8,703.3) rotate(-45)" font-size="12.5" text-anchor="end" textLength="75" lengthAdjust="spacingAndGlyphs" fill="#000" stroke="#000" stroke-width="0.22">CD40L + LPS</text>
<text transform="translate(497.7,705) rotate(-45)" font-size="12.5" text-anchor="end" textLength="75" lengthAdjust="spacingAndGlyphs" fill="#000" stroke="#000" stroke-width="0.22">CD40L + CPG</text>
<text x="10.8" y="749.2" font-size="17.3" text-anchor="start" fill="#000" stroke="#000" stroke-width="0.4">E</text>
<rect x="92.9" y="876.6" width="46.1" height="50.6" fill="#cccccc" stroke="#000" stroke-width="1.5"/>
<line x1="92.9" y1="909.3" x2="139" y2="909.3" stroke="#000" stroke-width="1.6"/>
<line x1="116.1" y1="841.2" x2="116.1" y2="876.6" stroke="#000" stroke-width="1.5"/>
<line x1="79" y1="757.8" x2="79" y2="938" stroke="#000" stroke-width="1.5"/>
<line x1="78.3" y1="937.5" x2="398" y2="937.5" stroke="#000" stroke-width="1.5"/>
<line x1="74.6" y1="929.2" x2="79" y2="929.2" stroke="#000" stroke-width="1.4"/>
<text x="69.9" y="933.1" font-size="11" text-anchor="end" fill="#000" stroke="#000" stroke-width="0.22">0</text>
<line x1="74.6" y1="879.4000000000001" x2="79" y2="879.4000000000001" stroke="#000" stroke-width="1.4"/>
<text x="69.9" y="883.3000000000001" font-size="11" text-anchor="end" fill="#000" stroke="#000" stroke-width="0.22">10</text>
<line x1="74.6" y1="829.6" x2="79" y2="829.6" stroke="#000" stroke-width="1.4"/>
<text x="69.9" y="833.5" font-size="11" text-anchor="end" fill="#000" stroke="#000" stroke-width="0.22">20</text>
<line x1="74.6" y1="779.8000000000001" x2="79" y2="779.8000000000001" stroke="#000" stroke-width="1.4"/>
<text x="69.9" y="783.7" font-size="11" text-anchor="end" fill="#000" stroke="#000" stroke-width="0.22">30</text>
<line x1="116" y1="937.5" x2="116" y2="941.3" stroke="#000" stroke-width="1.4"/>
<line x1="177.3" y1="937.5" x2="177.3" y2="941.3" stroke="#000" stroke-width="1.4"/>
<line x1="238.4" y1="937.5" x2="238.4" y2="941.3" stroke="#000" stroke-width="1.4"/>
<line x1="299.8" y1="937.5" x2="299.8" y2="941.3" stroke="#000" stroke-width="1.4"/>
<line x1="361.2" y1="937.5" x2="361.2" y2="941.3" stroke="#000" stroke-width="1.4"/>
<line x1="154.2" y1="928.9" x2="200.3" y2="928.9" stroke="#000" stroke-width="1.9"/>
<line x1="215.8" y1="928.9" x2="262" y2="928.9" stroke="#000" stroke-width="1.9"/>
<line x1="277.3" y1="928.9" x2="323.3" y2="928.9" stroke="#000" stroke-width="1.9"/>
<line x1="338.8" y1="928.9" x2="384.8" y2="928.9" stroke="#000" stroke-width="1.9"/>
<circle cx="114.9" cy="766" r="2.9" fill="#000"/>
<circle cx="112.9" cy="776.5" r="2.9" fill="#000"/>
<circle cx="117.1" cy="841.2" r="2.9" fill="#000"/>
<circle cx="115.1" cy="859.7" r="2.9" fill="#000"/>
<circle cx="116.2" cy="876.5" r="2.9" fill="#000"/>
<circle cx="116.2" cy="880" r="2.9" fill="#000"/>
<circle cx="115.2" cy="892.3" r="2.9" fill="#000"/>
<circle cx="114.2" cy="909.3" r="2.9" fill="#000"/>
<circle cx="117.2" cy="909.3" r="2.9" fill="#000"/>
<circle cx="113.8" cy="919.8" r="2.9" fill="#000"/>
<circle cx="118.2" cy="923.6" r="2.9" fill="#000"/>
<circle cx="114.3" cy="927.4" r="2.9" fill="#000"/>
<circle cx="114.9" cy="929.6" r="2.9" fill="#000"/>
<circle cx="175.3" cy="928.5" r="2.9" fill="#000"/>
<circle cx="177.5" cy="928.2" r="2.9" fill="#000"/>
<circle cx="179.6" cy="928.8" r="2.9" fill="#000"/>
<circle cx="177" cy="929.3" r="2.9" fill="#000"/>
<circle cx="236.6" cy="923.1" r="2.9" fill="#000"/>
<circle cx="236.6" cy="928.5" r="2.9" fill="#000"/>
<circle cx="241.2" cy="928.9" r="2.9" fill="#000"/>
<circle cx="299.8" cy="916.5" r="2.9" fill="#000"/>
<circle cx="297.5" cy="928.7" r="2.9" fill="#000"/>
<circle cx="301.5" cy="928.7" r="2.9" fill="#000"/>
<circle cx="358.5" cy="903.5" r="2.9" fill="#000"/>
<circle cx="359.8" cy="924" r="2.9" fill="#000"/>
<circle cx="358.3" cy="928.7" r="2.9" fill="#000"/>
<circle cx="362" cy="928.7" r="2.9" fill="#000"/>
<text transform="translate(45.5,847.2) rotate(-90)" font-size="12.5" text-anchor="middle" textLength="154.8" lengthAdjust="spacingAndGlyphs" fill="#000" stroke="#000" stroke-width="0.22">Percentage of CD38<tspan font-size="8" dy="-4">+</tspan><tspan dy="4"> Bregs</tspan></text>
<text x="115.7" y="956.3" font-size="12" text-anchor="middle" fill="#000" stroke="#000" stroke-width="0.22">Baseline</text>
<text x="176.3" y="956.3" font-size="12" text-anchor="middle" fill="#000" stroke="#000" stroke-width="0.22">Week 1</text>
<text x="238.5" y="956.3" font-size="12" text-anchor="middle" fill="#000" stroke="#000" stroke-width="0.22">Week 4</text>
<text x="300" y="956.3" font-size="12" text-anchor="middle" fill="#000" stroke="#000" stroke-width="0.22">Week 8</text>
<text x="360.5" y="956.3" font-size="12" text-anchor="middle" fill="#000" stroke="#000" stroke-width="0.22">Relapse</text>
<rect x="0.6" y="0.6" width="518.8" height="967.8" fill="none" stroke="#000" stroke-width="1.3"/>
</svg></body></html>
